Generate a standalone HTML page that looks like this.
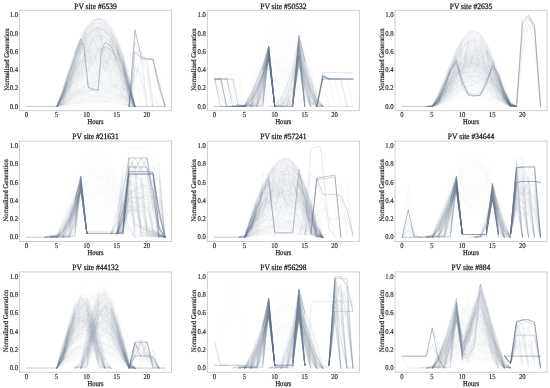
<!DOCTYPE html>
<html><head><meta charset="utf-8"><style>html,body{margin:0;padding:0;background:#fff;}
svg{display:block;will-change:transform;}
polyline{fill:none;stroke-linejoin:round;stroke-linecap:round;}
.c0{stroke:rgb(120,120,120);stroke-opacity:0.05;stroke-width:0.0831}
.c1{stroke:rgb(100,100,100);stroke-opacity:0.5;stroke-width:0.1330}
.c2{stroke:rgb(100,100,100);stroke-opacity:0.42;stroke-width:0.1413}
.c3{stroke:rgb(100,100,100);stroke-opacity:0.3;stroke-width:0.1164}
.c4{stroke:rgb(100,100,100);stroke-opacity:0.45;stroke-width:0.1330}
.c5{stroke:rgb(100,100,100);stroke-opacity:0.2;stroke-width:0.1164}
.c6{stroke:rgb(100,100,100);stroke-opacity:0.15;stroke-width:0.1164}
.c7{stroke:rgb(100,100,100);stroke-opacity:0.08;stroke-width:0.0831}
.c8{stroke:rgb(120,120,120);stroke-opacity:0.04;stroke-width:0.0831}
.c9{stroke:rgb(100,100,100);stroke-opacity:0.35;stroke-width:0.1164}
.c10{stroke:rgb(100,100,100);stroke-opacity:0.6;stroke-width:0.1164}
.c11{stroke:rgb(100,100,100);stroke-opacity:0.25;stroke-width:0.1164}
.c12{stroke:rgb(100,100,100);stroke-opacity:0.15;stroke-width:0.0998}
.c13{stroke:rgb(100,100,100);stroke-opacity:0.12;stroke-width:0.0998}
.c14{stroke:rgb(100,100,100);stroke-opacity:0.08;stroke-width:0.0998}
.c15{stroke:rgb(110,110,110);stroke-opacity:0.062;stroke-width:0.0914}
.c16{stroke:rgb(100,100,100);stroke-opacity:0.6;stroke-width:0.1330}
.c17{stroke:rgb(100,100,100);stroke-opacity:0.6;stroke-width:0.1496}
.c18{stroke:rgb(100,100,100);stroke-opacity:0.06;stroke-width:0.0831}
.c19{stroke:rgb(110,110,110);stroke-opacity:0.075;stroke-width:0.0914}
.c20{stroke:rgb(110,110,110);stroke-opacity:0.069;stroke-width:0.0914}
.c21{stroke:rgb(100,100,100);stroke-opacity:0.75;stroke-width:0.1829}
.c22{stroke:rgb(100,100,100);stroke-opacity:0.25;stroke-width:0.0998}
.c23{stroke:rgb(100,100,100);stroke-opacity:0.2;stroke-width:0.0998}
.c24{stroke:rgb(100,100,100);stroke-opacity:0.3;stroke-width:0.0998}
.c25{stroke:rgb(120,120,120);stroke-opacity:0.045;stroke-width:0.0831}
.c26{stroke:rgb(100,100,100);stroke-opacity:0.48;stroke-width:0.1496}
.c27{stroke:rgb(100,100,100);stroke-opacity:0.32;stroke-width:0.1164}
.c28{stroke:rgb(100,100,100);stroke-opacity:0.18;stroke-width:0.1164}
.c29{stroke:rgb(100,100,100);stroke-opacity:0.55;stroke-width:0.1164}
.c30{stroke:rgb(100,100,100);stroke-opacity:0.4;stroke-width:0.1164}
.c31{stroke:rgb(100,100,100);stroke-opacity:0.35;stroke-width:0.1330}
.c32{stroke:rgb(120,120,120);stroke-opacity:0.03;stroke-width:0.0831}
.c33{stroke:rgb(110,110,110);stroke-opacity:0.068;stroke-width:0.0914}
.c34{stroke:rgb(100,100,100);stroke-opacity:0.65;stroke-width:0.1663}
.c35{stroke:rgb(100,100,100);stroke-opacity:0.55;stroke-width:0.1496}
.c36{stroke:rgb(100,100,100);stroke-opacity:0.4;stroke-width:0.1330}
.c37{stroke:rgb(100,100,100);stroke-opacity:0.1;stroke-width:0.0998}
.c38{stroke:rgb(100,100,100);stroke-opacity:0.08;stroke-width:0.0914}
.c39{stroke:rgb(120,120,120);stroke-opacity:0.048;stroke-width:0.0831}
.c40{stroke:rgb(100,100,100);stroke-opacity:0.28;stroke-width:0.1164}
.c41{stroke:rgb(100,100,100);stroke-opacity:0.22;stroke-width:0.1164}
.c42{stroke:rgb(100,100,100);stroke-opacity:0.1;stroke-width:0.1164}
.c43{stroke:rgb(100,100,100);stroke-opacity:0.12;stroke-width:0.0831}
.c44{stroke:rgb(100,100,100);stroke-opacity:0.6;stroke-width:0.1829}
.c45{stroke:rgb(120,120,120);stroke-opacity:0.055;stroke-width:0.0831}
.c46{stroke:rgb(100,100,100);stroke-opacity:0.45;stroke-width:0.1164}
.c47{stroke:rgb(100,100,100);stroke-opacity:0.1;stroke-width:0.0831}
.c48{stroke:rgb(100,100,100);stroke-opacity:0.03;stroke-width:0.0831}
.c49{stroke:rgb(120,120,120);stroke-opacity:0.035;stroke-width:0.0831}
.c50{stroke:rgb(100,100,100);stroke-opacity:0.3;stroke-width:0.1330}
.c51{stroke:rgb(100,100,100);stroke-opacity:0.25;stroke-width:0.1330}
.c52{stroke:rgb(100,100,100);stroke-opacity:0.15;stroke-width:0.1330}
.c53{stroke:rgb(100,100,100);stroke-opacity:0.055;stroke-width:0.0831}
.c54{stroke:rgb(100,100,100);stroke-opacity:0.55;stroke-width:0.1330}
.c55{stroke:rgb(100,100,100);stroke-opacity:0.6;stroke-width:0.1663}
.c56{stroke:rgb(100,100,100);stroke-opacity:0.07;stroke-width:0.0831}
.tint{mix-blend-mode:screen;fill:rgb(0,25,60);}
.sp{fill:none;stroke:#cfcfcf;stroke-width:1;}
.tk{fill:none;stroke:#c8c8c8;stroke-width:0.7;}
text{font-family:"Liberation Serif",serif;fill:#1e1e1e;stroke:#1e1e1e;stroke-width:0.15px;text-rendering:geometricPrecision;}
.ti{font-size:8.2px;text-anchor:middle;stroke-width:0.28px;}
.hr{font-size:7.5px;text-anchor:middle;stroke-width:0.25px;}
.tx{font-size:7.4px;text-anchor:middle;}
.ty{font-size:7.4px;text-anchor:end;}
.yl{font-size:7.0px;text-anchor:middle;stroke-width:0.2px;}</style></head>
<body><svg width="550" height="388" viewBox="0 0 550 388">
<rect width="550" height="388" fill="#fff"/>
<g transform="translate(26.72 106.44) scale(6.015)">
<polyline class="c0" points="5,0 6,-1.89 7,-4.4 8,-4.72 9,-6.37 10,-7.95 11,-7.21 12,-8.41 13,-6.23 14,-8.41 15,-5.83 16,-4.24 17,-2.03 18,0"/>
<polyline class="c0" points="5,0 6,-1.61 7,-3.73 8,-6.51 9,-9.42 10,-10.23 11,-7.1 12,-9.84 13,-8.44 14,-10.41 15,-8.86 16,-4.4 17,-2.68 18,0"/>
<polyline class="c0" points="5,0 6,-2.84 7,-5.8 8,-8.38 9,-10.49 10,-12.01 11,-12.88 12,-13.05 13,-12.55 14,-11.39 15,-9.58 16,-7.06 17,-3.61 18,0"/>
<polyline class="c0" points="5,0 6,-1.68 7,-3.84 8,-5.72 9,-7.24 10,-8.33 11,-8.93 12,-9.02 13,-8.67 14,-7.88 15,-6.63 16,-4.86 17,-2.2 18,0"/>
<polyline class="c0" points="5,0 6,-2.17 7,-5.22 8,-7.96 9,-10.24 10,-11.93 11,-12.93 12,-13.18 13,-12.61 14,-11.23 15,-9.06 16,-6.13 17,-2.27 18,0"/>
<polyline class="c0" points="5,0 6,-2.39 7,-5.12 8,-7.53 9,-9.55 10,-11.08 11,-12.06 12,-12.44 13,-12.2 14,-11.34 15,-9.82 16,-7.5 17,-3.84 18,0"/>
<polyline class="c0" points="5,0 6,-1.65 7,-4.24 8,-6.71 9,-8.84 10,-10.48 11,-11.5 12,-11.84 13,-11.49 14,-10.48 15,-8.81 16,-6.45 17,-3.23 18,0"/>
<polyline class="c0" points="5,0 6,-2.83 7,-6.12 8,-9.12 9,-11.61 10,-13.43 11,-14.46 12,-14.64 13,-14.01 14,-12.6 15,-10.42 16,-7.46 17,-3.51 18,0"/>
<polyline class="c0" points="5,0 6,-2.29 7,-4.11 8,-7.62 9,-10.78 10,-12.25 11,-10.84 12,-10.54 13,-11.88 14,-9.3 15,-9.21 16,-7.68 17,-3.6 18,0"/>
<polyline class="c0" points="5,0 6,-2.06 7,-5.15 8,-8.12 9,-10.71 10,-12.73 11,-14.06 12,-14.61 13,-14.34 14,-13.27 15,-11.36 16,-8.45 17,-3.78 18,0"/>
<polyline class="c0" points="5,0 6,-1.27 7,-3.31 8,-5.28 9,-7.01 10,-8.37 11,-9.26 12,-9.63 13,-9.46 14,-8.79 15,-7.61 16,-5.84 17,-3.22 18,0"/>
<polyline class="c0" points="5,0 6,-2.33 7,-4.92 8,-7.26 9,-9.22 10,-10.68 11,-11.59 12,-11.87 13,-11.5 14,-10.45 15,-8.72 16,-6.28 17,-2.83 18,0"/>
<polyline class="c0" points="5,0 6,-1.97 7,-4.56 8,-6.91 9,-8.91 10,-10.44 11,-11.42 12,-11.8 13,-11.5 14,-10.44 15,-8.64 16,-6.08 17,-2.56 18,0"/>
<polyline class="c0" points="5,0 6,-1.17 7,-3.33 8,-6.74 9,-7.54 10,-10.41 11,-9.22 12,-11.36 13,-12.21 14,-7.79 15,-7.49 16,-5.59 17,-3.36 18,0"/>
<polyline class="c0" points="5,0 6,-1.76 7,-4.52 8,-6.45 9,-8.41 10,-11.65 11,-10.72 12,-9.16 13,-12.77 14,-12.44 15,-10.08 16,-5.98 17,-1.96 18,0"/>
<polyline class="c0" points="5,0 6,-2.08 7,-5.17 8,-8.14 9,-10.7 10,-12.62 11,-13.75 12,-14.01 13,-13.42 14,-12.05 15,-9.88 16,-6.9 17,-2.83 18,0"/>
<polyline class="c0" points="5,0 6,-2.32 7,-5.33 8,-8 9,-10.18 10,-11.75 11,-12.62 12,-12.75 13,-12.28 14,-11.25 15,-9.64 16,-7.4 17,-4.24 18,0"/>
<polyline class="c0" points="5,0 6,-1.11 7,-3.29 8,-4.19 9,-6.59 10,-8.48 11,-7.57 12,-9.7 13,-7.12 14,-5.93 15,-4.6 16,-4.22 17,-2.04 18,0"/>
<polyline class="c0" points="5,0 6,-1.91 7,-4.4 8,-6.74 9,-8.73 10,-10.23 11,-11.12 12,-11.35 13,-10.97 14,-10.01 15,-8.48 16,-6.32 17,-3.29 18,0"/>
<polyline class="c0" points="5,0 6,-1.86 7,-4.48 8,-5.61 9,-7.26 10,-8.38 11,-9.89 12,-11.94 13,-11.21 14,-10.82 15,-9.08 16,-7.79 17,-2.61 18,0"/>
<polyline class="c0" points="5,0 6,-2.46 7,-5.43 8,-8.18 9,-10.53 10,-12.32 11,-13.44 12,-13.83 13,-13.38 14,-12.01 15,-9.73 16,-6.56 17,-2.19 18,0"/>
<polyline class="c0" points="5,0 6,-2.23 7,-5.97 8,-7.39 9,-9.65 10,-10.81 11,-13.6 12,-11.1 13,-10.44 14,-9 15,-6.79 16,-7.06 17,-2.72 18,0"/>
<polyline class="c0" points="5,0 6,-2.85 7,-6.12 8,-9.09 9,-11.56 10,-13.37 11,-14.41 12,-14.62 13,-13.98 14,-12.5 15,-10.2 16,-7.01 17,-2.5 18,0"/>
<polyline class="c0" points="5,0 6,-2.34 7,-5.32 8,-7.96 9,-10.16 10,-11.83 11,-12.88 12,-13.27 13,-12.96 14,-11.92 15,-10.11 16,-7.42 17,-3.2 18,0"/>
<polyline class="c0" points="5,0 6,-1.89 7,-4.78 8,-6.94 9,-10.05 10,-10.36 11,-13.29 12,-12.66 13,-8.71 14,-11.32 15,-9.87 16,-6.19 17,-2.82 18,0"/>
<polyline class="c0" points="5,0 6,-1.15 7,-3.12 8,-4.41 9,-5.12 10,-6.47 11,-9.17 12,-9.63 13,-7.01 14,-8.7 15,-6.03 16,-6.45 17,-2.91 18,0"/>
<polyline class="c0" points="5,0 6,-1.13 7,-3.4 8,-5.15 9,-7.37 10,-8.68 11,-6.57 12,-9.66 13,-7.11 14,-7.67 15,-5.2 16,-5.91 17,-1.94 18,0"/>
<polyline class="c0" points="5,0 6,-1.95 7,-4.42 8,-6.8 9,-8.86 10,-10.44 11,-11.42 12,-11.72 13,-11.4 14,-10.52 15,-9.04 16,-6.91 17,-3.77 18,0"/>
<polyline class="c0" points="5,0 6,-2.07 7,-4.24 8,-6.2 9,-9.91 10,-10.66 11,-14.04 12,-13.12 13,-13.04 14,-11.56 15,-9.93 16,-6.83 17,-4.53 18,0"/>
<polyline class="c0" points="5,0 6,-1.88 7,-4.93 8,-7.89 9,-10.44 10,-12.36 11,-13.49 12,-13.73 13,-13.29 14,-12.25 15,-10.59 16,-8.22 17,-4.82 18,0"/>
<polyline class="c0" points="5,0 6,-2.47 7,-5.66 8,-8.48 9,-10.8 10,-12.54 11,-13.59 12,-13.91 13,-13.51 14,-12.38 15,-10.5 16,-7.76 17,-3.61 18,0"/>
<polyline class="c0" points="5,0 6,-2.4 7,-5.53 8,-8.41 9,-10.87 10,-12.78 11,-14.05 12,-14.59 13,-14.32 14,-13.08 15,-10.89 16,-7.8 17,-3.71 18,0"/>
<polyline class="c0" points="5,0 6,-1.68 7,-4.06 8,-6.32 9,-8.27 10,-9.79 11,-10.77 12,-11.14 13,-10.92 14,-10.18 15,-8.88 16,-6.93 17,-3.91 18,0"/>
<polyline class="c0" points="5,0 6,-2.06 7,-5.23 8,-8.28 9,-10.94 10,-12.98 11,-14.25 12,-14.66 13,-14.31 14,-13.31 15,-11.62 16,-9.15 17,-5.51 18,0"/>
<polyline class="c0" points="5,0 6,-1.65 7,-4.42 8,-7.12 9,-9.49 10,-11.33 11,-12.51 12,-12.93 13,-12.56 14,-11.4 15,-9.45 16,-6.69 17,-2.84 18,0"/>
<polyline class="c0" points="5,0 6,-1.52 7,-4.82 8,-8.09 9,-9.52 10,-8.19 11,-13.45 12,-13.15 13,-9.01 14,-11.14 15,-7.06 16,-7.27 17,-1.81 18,0"/>
<polyline class="c0" points="5,0 6,-1.17 7,-3.5 8,-5.25 9,-8.32 10,-9.34 11,-11.01 12,-14.13 13,-13.71 14,-8.91 15,-9.96 16,-5.52 17,-3.33 18,0"/>
<polyline class="c0" points="5,0 6,-1.71 7,-3.74 8,-5.35 9,-8.07 10,-10.38 11,-11.7 12,-11.15 13,-11.17 14,-8.65 15,-5.65 16,-4.19 17,-1.95 18,0"/>
<polyline class="c0" points="5,0 6,-1.16 7,-3.94 8,-5.05 9,-7.75 10,-9.01 11,-10.84 12,-11.87 13,-7.65 14,-7.67 15,-6.51 16,-6.36 17,-3.29 18,0"/>
<polyline class="c0" points="5,0 6,-1.75 7,-3.53 8,-7.36 9,-7.2 10,-8.33 11,-12.58 12,-12.42 13,-9.65 14,-10.63 15,-6.27 16,-6.33 17,-2.55 18,0"/>
<polyline class="c0" points="5,0 6,-1.66 7,-3.78 8,-6.38 9,-6.59 10,-9.14 11,-8.79 12,-8.24 13,-9.6 14,-9.53 15,-8.51 16,-4.2 17,-1.82 18,0"/>
<polyline class="c0" points="5,0 6,-2.26 7,-3.42 8,-5.73 9,-8.14 10,-10.61 11,-10.12 12,-11.25 13,-12.12 14,-10.85 15,-9.22 16,-6.18 17,-2.58 18,0"/>
<polyline class="c0" points="5,0 6,-2.06 7,-4.43 8,-6.5 9,-8.19 10,-9.4 11,-10.06 12,-10.15 13,-9.72 14,-8.78 15,-7.32 16,-5.25 17,-2.16 18,0"/>
<polyline class="c0" points="5,0 6,-1.92 7,-4.66 8,-7.2 9,-9.33 10,-10.92 11,-11.85 12,-12.08 13,-11.7 14,-10.76 15,-9.23 16,-6.99 17,-3.45 18,0"/>
<polyline class="c0" points="5,0 6,-1.15 7,-4.38 8,-5.57 9,-7.67 10,-9.4 11,-9.77 12,-10.56 13,-11.46 14,-8.98 15,-9.71 16,-5.71 17,-2.21 18,0"/>
<polyline class="c0" points="5,0 6,-2.58 7,-5.53 8,-8.25 9,-10.53 10,-12.25 11,-13.29 12,-13.61 13,-13.24 14,-12.23 15,-10.55 16,-8.03 17,-4.01 18,0"/>
<polyline class="c0" points="5,0 6,-1.95 7,-4.54 8,-6.91 9,-8.92 10,-10.44 11,-11.4 12,-11.73 13,-11.43 14,-10.49 15,-8.89 16,-6.54 17,-2.98 18,0"/>
<polyline class="c0" points="5,0 6,-2.04 7,-4.13 8,-6.35 9,-10.03 10,-10.61 11,-8.32 12,-13.06 13,-9.56 14,-9.95 15,-7.81 16,-6.66 17,-4.12 18,0"/>
<polyline class="c0" points="5,0 6,-2 7,-5.07 8,-7.89 9,-10.27 10,-12.03 11,-13.07 12,-13.32 13,-12.76 14,-11.4 15,-9.26 16,-6.31 17,-2.22 18,0"/>
<polyline class="c0" points="5,0 6,-2.77 7,-5.6 8,-8.1 9,-10.17 10,-11.69 11,-12.61 12,-12.87 13,-12.44 14,-11.31 15,-9.49 16,-6.95 17,-3.43 18,0"/>
<polyline class="c0" points="5,0 6,-2.3 7,-5.04 8,-7.53 9,-9.61 10,-11.14 11,-12.03 12,-12.22 13,-11.7 14,-10.47 15,-8.56 16,-5.98 17,-2.6 18,0"/>
<polyline class="c0" points="5,0 6,-1.77 7,-4.26 8,-6.64 9,-8.71 10,-10.35 11,-11.43 12,-11.89 13,-11.66 14,-10.68 15,-8.97 16,-6.54 17,-3.3 18,0"/>
<polyline class="c0" points="5,0 6,-1.31 7,-3.15 8,-5.8 9,-9.79 10,-12.19 11,-12.09 12,-8.65 13,-9.17 14,-10.08 15,-6.87 16,-4.27 17,-2.09 18,0"/>
<polyline class="c0" points="5,0 6,-1.4 7,-3.32 8,-3.49 9,-5.7 10,-5.87 11,-8.42 12,-7.65 13,-8.41 14,-6.94 15,-4.88 16,-4.44 17,-1.72 18,0"/>
<polyline class="c0" points="5,0 6,-1.54 7,-3.9 8,-7.96 9,-9.74 10,-9.18 11,-11.8 12,-13.01 13,-8.83 14,-8.43 15,-9.02 16,-5.74 17,-1.74 18,0"/>
<polyline class="c0" points="5,0 6,-2.02 7,-4.92 8,-7.68 9,-10.05 10,-11.87 11,-13.02 12,-13.4 13,-13.01 14,-11.86 15,-9.93 16,-7.14 17,-3.05 18,0"/>
<polyline class="c0" points="5,0 6,-1.59 7,-3.15 8,-6.92 9,-7.29 10,-10.15 11,-8.48 12,-9.64 13,-9.12 14,-11.04 15,-6.87 16,-6.42 17,-2.89 18,0"/>
<polyline class="c0" points="5,0 6,-1.96 7,-4.96 8,-7.75 9,-10.1 10,-11.81 11,-12.75 12,-12.88 13,-12.3 14,-11.05 15,-9.1 16,-6.38 17,-2.42 18,0"/>
<polyline class="c0" points="5,0 6,-2.07 7,-4.72 8,-7.13 9,-9.15 10,-10.65 11,-11.53 12,-11.75 13,-11.34 14,-10.35 15,-8.78 16,-6.58 17,-3.59 18,0"/>
<polyline class="c0" points="5,0 6,-1.95 7,-4.53 8,-6.85 9,-8.79 10,-10.24 11,-11.11 12,-11.35 13,-10.98 14,-10.01 15,-8.43 16,-6.17 17,-2.92 18,0"/>
<polyline class="c0" points="5,0 6,-1.98 7,-4.67 8,-7.2 9,-9.39 10,-11.1 11,-12.23 12,-12.7 13,-12.49 14,-11.57 15,-9.92 16,-7.49 17,-3.92 18,0"/>
<polyline class="c0" points="5,0 6,-2 7,-4.21 8,-4.92 9,-5.61 10,-8.2 11,-7.47 12,-10.06 13,-9.36 14,-7.68 15,-7.75 16,-5.81 17,-3.39 18,0"/>
<polyline class="c0" points="5,0 6,-2.2 7,-5.42 8,-8.48 9,-11.1 10,-13.06 11,-14.21 12,-14.46 13,-13.88 14,-12.51 15,-10.38 16,-7.47 17,-3.6 18,0"/>
<polyline class="c0" points="5,0 6,-2.56 7,-5.11 8,-7.35 9,-9.21 10,-10.6 11,-11.46 12,-11.77 13,-11.48 14,-10.53 15,-8.92 16,-6.61 17,-3.34 18,0"/>
<polyline class="c0" points="5,0 6,-1.54 7,-2.83 8,-4.18 9,-5.35 10,-6.07 11,-6.71 12,-8.98 13,-6.46 14,-6 15,-5.79 16,-3.57 17,-1.34 18,0"/>
<polyline class="c0" points="5,0 6,-1.43 7,-3.89 8,-6.51 9,-7.56 10,-7.52 11,-8.43 12,-12.89 13,-12.69 14,-10.72 15,-9.36 16,-4.81 17,-1.97 18,0"/>
<polyline class="c0" points="5,0 6,-1.92 7,-5.08 8,-8.07 9,-10.61 10,-12.49 11,-13.55 12,-13.73 13,-13.15 14,-11.87 15,-9.9 16,-7.23 17,-3.69 18,0"/>
<polyline class="c0" points="5,0 6,-2.45 7,-5.28 8,-7.86 9,-10.01 10,-11.62 11,-12.58 12,-12.84 13,-12.36 14,-11.14 15,-9.19 16,-6.5 17,-2.87 18,0"/>
<polyline class="c0" points="5,0 6,-2.39 7,-5.62 8,-8.56 9,-11 10,-12.76 11,-13.73 12,-13.86 13,-13.17 14,-11.7 15,-9.46 16,-6.44 17,-2.36 18,0"/>
<polyline class="c0" points="5,0 6,-2 7,-4.95 8,-7.79 9,-10.29 10,-12.28 11,-13.63 12,-14.24 13,-14.04 14,-12.9 15,-10.84 16,-7.86 17,-3.85 18,0"/>
<polyline class="c0" points="5,0 6,-1.22 7,-3.71 8,-6.82 9,-8.16 10,-8.44 11,-9.96 12,-12.65 13,-13.45 14,-7.95 15,-7.75 16,-7.36 17,-2.56 18,0"/>
<polyline class="c0" points="5,0 6,-1.97 7,-4.87 8,-7.53 9,-9.73 10,-11.34 11,-12.25 12,-12.4 13,-11.99 14,-11.05 15,-9.55 16,-7.39 17,-4.17 18,0"/>
<polyline class="c0" points="5,0 6,-2.94 7,-6.17 8,-9.06 9,-11.46 10,-13.21 11,-14.23 12,-14.45 13,-13.86 14,-12.49 15,-10.33 16,-7.36 17,-3.34 18,0"/>
<polyline class="c0" points="5,0 6,-2 7,-4.76 8,-7.32 9,-9.47 10,-11.04 11,-11.91 12,-12.04 13,-11.59 14,-10.6 15,-9.04 16,-6.8 17,-3.38 18,0"/>
<polyline class="c0" points="5,0 6,-2.45 7,-5.55 8,-8.48 9,-10.97 10,-12.82 11,-13.89 12,-14.11 13,-13.63 14,-12.48 15,-10.66 16,-8.06 17,-4.27 18,0"/>
<polyline class="c0" points="5,0 6,-2.26 7,-5.24 8,-7.97 9,-10.3 10,-12.11 11,-13.29 12,-13.78 13,-13.49 14,-12.26 15,-10.13 16,-7.07 17,-2.8 18,0"/>
<polyline class="c0" points="5,0 6,-1.99 7,-4.81 8,-7.43 9,-9.67 10,-11.41 11,-12.53 12,-12.98 13,-12.67 14,-11.54 15,-9.58 16,-6.78 17,-2.88 18,0"/>
<polyline class="c0" points="5,0 6,-2.36 7,-5.43 8,-8.3 9,-10.8 10,-12.77 11,-14.09 12,-14.69 13,-14.5 14,-13.42 15,-11.42 16,-8.42 17,-3.95 18,0"/>
<polyline class="c0" points="5,0 6,-1.8 7,-4.46 8,-6.89 9,-8.95 10,-10.52 11,-11.51 12,-11.88 13,-11.56 14,-10.53 15,-8.81 16,-6.38 17,-3.12 18,0"/>
<polyline class="c0" points="5,0 6,-1.23 7,-3.49 8,-6.3 9,-9.84 10,-10.97 11,-10.96 12,-10.95 13,-12.26 14,-12.09 15,-9.21 16,-7.06 17,-1.94 18,0"/>
<polyline class="c0" points="5,0 6,-1.2 7,-3.36 8,-5.47 9,-7.31 10,-8.68 11,-9.47 12,-9.61 13,-9.28 14,-8.52 15,-7.32 16,-5.58 17,-2.99 18,0"/>
<polyline class="c0" points="5,0 6,-2.43 7,-5.31 8,-7.94 9,-10.15 10,-11.81 11,-12.83 12,-13.14 13,-12.77 14,-11.75 15,-10.03 16,-7.52 17,-3.74 18,0"/>
<polyline class="c0" points="5,0 6,-1.89 7,-4.83 8,-7.64 9,-10.02 10,-11.78 11,-12.75 12,-12.89 13,-12.41 14,-11.37 15,-9.73 16,-7.33 17,-3.57 18,0"/>
<polyline class="c0" points="5,0 6,-2.1 7,-5.08 8,-7.76 9,-10.02 10,-11.77 11,-12.91 12,-13.4 13,-13.2 14,-12.25 15,-10.51 16,-7.88 17,-3.71 18,0"/>
<polyline class="c0" points="5,0 6,-1.7 7,-4.22 8,-6.62 9,-8.66 10,-10.17 11,-11.03 12,-11.18 13,-10.75 14,-9.8 15,-8.31 16,-6.21 17,-3.25 18,0"/>
<polyline class="c0" points="5,0 6,-1.49 7,-3.32 8,-4.72 9,-6.06 10,-4.86 11,-6.88 12,-7.97 13,-5.97 14,-5.88 15,-5.85 16,-2.54 17,-1.18 18,0"/>
<polyline class="c0" points="5,0 6,-2.42 7,-5.25 8,-7.84 9,-10.02 10,-11.66 11,-12.65 12,-12.95 13,-12.52 14,-11.38 15,-9.52 16,-6.95 17,-3.49 18,0"/>
<polyline class="c0" points="5,0 6,-2.05 7,-4.46 8,-6.01 9,-8.41 10,-12.01 11,-9.02 12,-14.64 13,-9.14 14,-10.87 15,-9.66 16,-6.88 17,-3.85 18,0"/>
<polyline class="c0" points="5,0 6,-2.11 7,-5.12 8,-6.49 9,-7.5 10,-7.72 11,-12.1 12,-12.63 13,-13.02 14,-11 15,-9.65 16,-6.07 17,-1.98 18,0"/>
<polyline class="c0" points="5,0 6,-2.69 7,-5.45 8,-7.9 9,-9.94 10,-11.5 11,-12.53 12,-12.96 13,-12.79 14,-11.95 15,-10.43 16,-8.1 17,-4.49 18,0"/>
<polyline class="c0" points="5,0 6,-1.92 7,-4.1 8,-6.7 9,-5.75 10,-7.63 11,-7.53 12,-9.45 13,-7.98 14,-7.77 15,-8.11 16,-5.08 17,-3.31 18,0"/>
<polyline class="c0" points="5,0 6,-1.9 7,-4.27 8,-6.48 9,-8.38 10,-9.86 11,-10.84 12,-11.26 13,-11.04 14,-10.02 15,-8.23 16,-5.68 17,-2.22 18,0"/>
<polyline class="c0" points="5,0 6,-2.23 7,-5.48 8,-8.45 9,-10.98 10,-12.93 11,-14.19 12,-14.7 13,-14.44 14,-13.46 15,-11.69 16,-9.04 17,-4.97 18,0"/>
<polyline class="c0" points="5,0 6,-1.38 7,-3.41 8,-5.38 9,-7.13 10,-8.5 11,-9.4 12,-9.75 13,-9.58 14,-8.9 15,-7.7 16,-5.91 17,-3.23 18,0"/>
<polyline class="c0" points="5,0 6,-2.18 7,-5.03 8,-7.64 9,-9.87 10,-11.59 11,-12.72 12,-13.19 13,-12.99 14,-12.14 15,-10.61 16,-8.25 17,-4.52 18,0"/>
<polyline class="c0" points="5,0 6,-2.12 7,-5.25 8,-8.19 9,-10.68 10,-12.53 11,-13.6 12,-13.82 13,-13.21 14,-11.82 15,-9.64 16,-6.65 17,-2.5 18,0"/>
<polyline class="c0" points="5,0 6,-2.29 7,-5.34 8,-8.13 9,-10.46 10,-12.22 11,-13.28 12,-13.6 13,-13.12 14,-11.81 15,-9.68 16,-6.72 17,-2.57 18,0"/>
<polyline class="c0" points="5,0 6,-1.79 7,-3.41 8,-8.06 9,-10.25 10,-8.95 11,-10.21 12,-9.48 13,-12.69 14,-10.19 15,-7.34 16,-6.82 17,-3.58 18,0"/>
<polyline class="c0" points="5,0 6,-2.27 7,-5.4 8,-8.41 9,-11 10,-12.97 11,-14.16 12,-14.49 13,-13.97 14,-12.63 15,-10.47 16,-7.5 17,-3.5 18,0"/>
<polyline class="c0" points="5,0 6,-2.29 7,-5.52 8,-8.56 9,-11.14 10,-13.05 11,-14.14 12,-14.35 13,-13.83 14,-12.66 15,-10.79 16,-8.14 17,-4.27 18,0"/>
<polyline class="c0" points="5,0 6,-1.22 7,-2.83 8,-4.32 9,-5.61 10,-6.6 11,-7.22 12,-7.45 13,-7.28 14,-6.73 15,-5.8 16,-4.42 17,-2.38 18,0"/>
<polyline class="c0" points="5,0 6,-2.27 7,-5.42 8,-8.34 9,-10.8 10,-12.6 11,-13.63 12,-13.82 13,-13.35 14,-12.29 15,-10.59 16,-8.11 17,-4.25 18,0"/>
<polyline class="c0" points="5,0 6,-2.03 7,-4.8 8,-7.45 9,-9.71 10,-11.38 11,-12.32 12,-12.47 13,-11.87 14,-10.56 15,-8.57 16,-5.91 17,-2.46 18,0"/>
<polyline class="c0" points="5,0 6,-2.2 7,-5.3 8,-8.09 9,-10.41 10,-12.14 11,-13.2 12,-13.52 13,-13.1 14,-11.96 15,-10.08 16,-7.38 17,-3.42 18,0"/>
<polyline class="c0" points="5,0 6,-2.14 7,-5.13 8,-7.94 9,-10.37 10,-12.24 11,-13.42 12,-13.85 13,-13.51 14,-12.4 15,-10.53 16,-7.81 17,-3.89 18,0"/>
<polyline class="c0" points="5,0 6,-1.32 7,-3.02 8,-6.45 9,-7.55 10,-6.08 11,-9 12,-8.79 13,-6.29 14,-8.66 15,-4.59 16,-3.99 17,-1.92 18,0"/>
<polyline class="c0" points="5,0 6,-1.14 7,-3.01 8,-5.9 9,-4.94 10,-7.17 11,-8.66 12,-9.17 13,-9.47 14,-8.02 15,-6.69 16,-4.94 17,-1.89 18,0"/>
<polyline class="c0" points="5,0 6,-1.76 7,-4.62 8,-7.37 9,-9.75 10,-11.61 11,-12.8 12,-13.25 13,-12.97 14,-12.02 15,-10.35 16,-7.88 17,-4.08 18,0"/>
<polyline class="c0" points="5,0 6,-2.14 7,-3.79 8,-5.47 9,-9.15 10,-8.15 11,-7.91 12,-9.4 13,-8.67 14,-6.99 15,-6.44 16,-5.19 17,-1.66 18,0"/>
<polyline class="c0" points="5,0 6,-2.15 7,-4.37 8,-5.21 9,-7.99 10,-8.54 11,-9.99 12,-9.04 13,-9.81 14,-8.44 15,-8.85 16,-6.79 17,-3.08 18,0"/>
<polyline class="c0" points="5,0 6,-1.59 7,-4.37 8,-4.79 9,-6.77 10,-8.67 11,-11.32 12,-8.52 13,-10.55 14,-7.64 15,-7.64 16,-7.91 17,-2.72 18,0"/>
<polyline class="c0" points="5,0 6,-1.87 7,-3.6 8,-5.69 9,-8.03 10,-9.01 11,-6.95 12,-10.89 13,-11.11 14,-6.44 15,-5.34 16,-4.11 17,-1.72 18,0"/>
<polyline class="c0" points="5,0 6,-2.06 7,-4.41 8,-5.74 9,-7.91 10,-9.74 11,-10.35 12,-11.95 13,-9.6 14,-8.68 15,-8.65 16,-8.1 17,-3.89 18,0"/>
<polyline class="c0" points="5,0 6,-2 7,-4.7 8,-7.31 9,-9.57 10,-11.3 11,-12.36 12,-12.66 13,-12.24 14,-11.13 15,-9.33 16,-6.8 17,-3.28 18,0"/>
<polyline class="c0" points="5,0 6,-2.49 7,-3.83 8,-7.08 9,-10.17 10,-12.47 11,-13.86 12,-12.52 13,-10.42 14,-10.08 15,-6.77 16,-4.12 17,-1.85 18,0"/>
<polyline class="c0" points="5,0 6,-1.51 7,-3.79 8,-5.98 9,-7.88 10,-9.32 11,-10.21 12,-10.46 13,-10.18 14,-9.42 15,-8.17 16,-6.35 17,-3.66 18,0"/>
<polyline class="c0" points="5,0 6,-1.19 7,-4.04 8,-6.04 9,-10.2 10,-11.19 11,-11.88 12,-12.31 13,-10.31 14,-11.02 15,-7.95 16,-5.26 17,-3.98 18,0"/>
<polyline class="c0" points="5,0 6,-2.51 7,-5.8 8,-8.8 9,-11.32 10,-13.19 11,-14.31 12,-14.6 13,-14.05 14,-12.69 15,-10.53 16,-7.58 17,-3.67 18,0"/>
<polyline class="c0" points="5,0 6,-2.19 7,-5.71 8,-6.8 9,-10.52 10,-8.01 11,-11.19 12,-13.43 13,-14.08 14,-12.12 15,-9.94 16,-6.6 17,-2.95 18,0"/>
<polyline class="c0" points="5,0 6,-2.32 7,-5.19 8,-7.72 9,-9.82 10,-11.4 11,-12.4 12,-12.75 13,-12.45 14,-11.47 15,-9.79 16,-7.28 17,-3.32 18,0"/>
<polyline class="c0" points="5,0 6,-1.88 7,-5.03 8,-8.12 9,-10.81 10,-12.84 11,-14.04 12,-14.31 13,-13.78 14,-12.51 15,-10.51 16,-7.72 17,-3.88 18,0"/>
<polyline class="c0" points="5,0 6,-1.89 7,-4.42 8,-6.1 9,-9.8 10,-8.53 11,-14.36 12,-9.27 13,-9.82 14,-12.47 15,-6.79 16,-8.39 17,-3.57 18,0"/>
<polyline class="c0" points="5,0 6,-2.82 7,-5.81 8,-8.43 9,-10.56 10,-12.09 11,-12.95 12,-13.09 13,-12.56 14,-11.38 15,-9.51 16,-6.86 17,-2.87 18,0"/>
<polyline class="c0" points="5,0 6,-2.45 7,-5.27 8,-7.85 9,-10.04 10,-11.68 11,-12.69 12,-13.01 13,-12.59 14,-11.41 15,-9.49 16,-6.78 17,-2.98 18,0"/>
<polyline class="c0" points="5,0 6,-2.03 7,-5 8,-7.86 9,-10.37 10,-12.33 11,-13.61 12,-14.13 13,-13.78 14,-12.49 15,-10.26 16,-7.07 17,-2.51 18,0"/>
<polyline class="c0" points="5,0 6,-2.5 7,-5.58 8,-8.49 9,-10.99 10,-12.92 11,-14.14 12,-14.56 13,-14.24 14,-13.26 15,-11.58 16,-9.08 17,-5.28 18,0"/>
<polyline class="c0" points="5,0 6,-1.82 7,-3.82 8,-5.61 9,-7.1 10,-8.22 11,-8.91 12,-9.15 13,-8.92 14,-8.22 15,-7.04 16,-5.31 17,-2.74 18,0"/>
<polyline class="c0" points="5,0 6,-1.67 7,-3.6 8,-6.31 9,-6.33 10,-9.8 11,-11.38 12,-9.36 13,-8.31 14,-9.89 15,-7.66 16,-5.48 17,-2.26 18,0"/>
<polyline class="c0" points="5,0 6,-1.53 7,-2.94 8,-5.25 9,-5.6 10,-7.89 11,-6.73 12,-9.24 13,-8.21 14,-7.75 15,-6.27 16,-3.25 17,-1.69 18,0"/>
<polyline class="c0" points="5,0 6,-1.54 7,-2.79 8,-5.01 9,-6.03 10,-7.55 11,-9.37 12,-7.16 13,-7.67 14,-5.54 15,-7.85 16,-4.57 17,-2.56 18,0"/>
<polyline class="c0" points="5,0 6,-2.43 7,-5.24 8,-7.83 9,-10.02 10,-11.66 11,-12.66 12,-12.93 13,-12.56 14,-11.57 15,-9.93 16,-7.5 17,-3.68 18,0"/>
<polyline class="c0" points="5,0 6,-2.13 7,-4.78 8,-7.79 9,-6.95 10,-9.75 11,-11 12,-11.95 13,-9.78 14,-10.02 15,-8.3 16,-6.74 17,-1.87 18,0"/>
<polyline class="c0" points="5,0 6,-1.71 7,-4.05 8,-6.21 9,-8.07 10,-9.52 11,-10.49 12,-10.92 13,-10.78 14,-10 15,-8.56 16,-6.38 17,-3.09 18,0"/>
<polyline class="c0" points="5,0 6,-2.3 7,-5.56 8,-8.64 9,-11.25 10,-13.18 11,-14.29 12,-14.5 13,-13.85 14,-12.37 15,-10.07 16,-6.92 17,-2.58 18,0"/>
<polyline class="c0" points="5,0 6,-1.54 7,-2.87 8,-4.82 9,-9.28 10,-10.12 11,-11.5 12,-12.47 13,-8.24 14,-10.3 15,-6.88 16,-6.17 17,-4.38 18,0"/>
<polyline class="c0" points="5,0 6,-2.94 7,-6.11 8,-8.97 9,-11.37 10,-13.18 11,-14.32 12,-14.72 13,-14.29 14,-12.99 15,-10.84 16,-7.86 17,-3.92 18,0"/>
<polyline class="c0" points="5,0 6,-1.44 7,-3.76 8,-7.15 9,-9.62 10,-11.25 11,-11.26 12,-10 13,-14.4 14,-10.08 15,-7.5 16,-6.54 17,-3.5 18,0"/>
<polyline class="c0" points="5,0 6,-1.4 7,-4.08 8,-5.72 9,-6.96 10,-7.99 11,-9.67 12,-8.47 13,-7.7 14,-6.65 15,-7.06 16,-4.07 17,-1.91 18,0"/>
<polyline class="c0" points="5,0 6,-2.35 7,-4.51 8,-6.28 9,-11.18 10,-9.23 11,-9.8 12,-11.5 13,-9.02 14,-9.38 15,-9.37 16,-5.54 17,-3.49 18,0"/>
<polyline class="c0" points="5,0 6,-1.15 7,-3.01 8,-4.76 9,-4.86 10,-7.9 11,-6.19 12,-5.78 13,-8.81 14,-5.76 15,-6.87 16,-4.63 17,-1.84 18,0"/>
<polyline class="c0" points="5,0 6,-1.53 7,-4.05 8,-6.49 9,-8.62 10,-10.29 11,-11.36 12,-11.78 13,-11.49 14,-10.5 15,-8.8 16,-6.38 17,-3 18,0"/>
<polyline class="c0" points="5,0 6,-3.03 7,-6.24 8,-9.08 9,-11.43 10,-13.17 11,-14.23 12,-14.54 13,-14.04 14,-12.7 15,-10.5 16,-7.37 17,-2.86 18,0"/>
<polyline class="c0" points="5,0 6,-2.22 7,-5.05 8,-7.73 9,-10.04 10,-11.81 11,-12.92 12,-13.28 13,-12.83 14,-11.54 15,-9.42 16,-6.46 17,-2.37 18,0"/>
<polyline class="c0" points="5,0 6,-2.06 7,-3.22 8,-5.76 9,-8.66 10,-11.07 11,-10.19 12,-9.03 13,-10.14 14,-10.26 15,-9.48 16,-6.68 17,-2.48 18,0"/>
<polyline class="c0" points="5,0 6,-2.64 7,-5.93 8,-9 9,-11.59 10,-13.49 11,-14.54 12,-14.69 13,-13.96 14,-12.38 15,-9.98 16,-6.78 17,-2.56 18,0"/>
<polyline class="c0" points="5,0 6,-1.33 7,-3.31 8,-4.58 9,-6.53 10,-9.55 11,-7.22 12,-11.38 13,-11.25 14,-8.32 15,-7.5 16,-6.86 17,-2.98 18,0"/>
<polyline class="c0" points="5,0 6,-2.36 7,-5.32 8,-8.09 9,-10.47 10,-12.29 11,-13.44 12,-13.85 13,-13.45 14,-12.2 15,-10.15 16,-7.3 17,-3.57 18,0"/>
<polyline class="c0" points="5,0 6,-1.78 7,-4.33 8,-6.8 9,-8.98 10,-10.71 11,-11.85 12,-12.34 13,-12.14 14,-11.23 15,-9.61 16,-7.2 17,-3.66 18,0"/>
<polyline class="c0" points="5,0 6,-1.51 7,-3.69 8,-5.73 9,-7.46 10,-8.74 11,-9.49 12,-9.64 13,-9.33 14,-8.61 15,-7.46 16,-5.81 17,-3.36 18,0"/>
<polyline class="c0" points="5,0 6,-2.05 7,-5.29 8,-8.32 9,-10.87 10,-12.76 11,-13.85 12,-14.06 13,-13.58 14,-12.49 15,-10.73 16,-8.16 17,-4.13 18,0"/>
<polyline class="c0" points="5,0 6,-1.45 7,-4.16 8,-5.91 9,-6.28 10,-8.29 11,-7.48 12,-9.06 13,-10.15 14,-8.1 15,-5.76 16,-5.57 17,-1.99 18,0"/>
<polyline class="c0" points="5,0 6,-2.25 7,-5.05 8,-7.68 9,-9.94 10,-11.67 11,-12.74 12,-13.09 13,-12.78 14,-11.88 15,-10.36 16,-8.12 17,-4.75 18,0"/>
<polyline class="c0" points="5,0 6,-2.08 7,-5.07 8,-7.78 9,-10 10,-11.6 11,-12.47 12,-12.56 13,-11.96 14,-10.68 15,-8.74 16,-6.1 17,-2.48 18,0"/>
<polyline class="c0" points="5,0 6,-2.96 7,-6.27 8,-9.2 9,-11.59 10,-13.32 11,-14.27 12,-14.41 13,-13.92 14,-12.83 15,-11.11 16,-8.62 17,-4.85 18,0"/>
<polyline class="c0" points="5,0 6,-2.38 7,-5.51 8,-8.38 9,-10.84 10,-12.76 11,-14.02 12,-14.56 13,-14.32 14,-13.21 15,-11.21 16,-8.29 17,-4.11 18,0"/>
<polyline class="c0" points="5,0 6,-1.98 7,-3.73 8,-6.92 9,-5.67 10,-8.34 11,-9.08 12,-11.12 13,-7.57 14,-8.96 15,-6.79 16,-4.25 17,-1.66 18,0"/>
<polyline class="c0" points="5,0 6,-2.52 7,-3.97 8,-6.17 9,-10.41 10,-9.12 11,-10.56 12,-12.38 13,-10.9 14,-10.41 15,-7.53 16,-5 17,-2.95 18,0"/>
<polyline class="c0" points="5,0 6,-2.48 7,-5.79 8,-8.78 9,-11.26 10,-13.1 11,-14.17 12,-14.44 13,-13.97 14,-12.82 15,-10.94 16,-8.18 17,-3.8 18,0"/>
<polyline class="c0" points="5,0 6,-2.41 7,-5.26 8,-7.75 9,-9.76 10,-11.2 11,-11.99 12,-12.1 13,-11.55 14,-10.37 15,-8.55 16,-6.06 17,-2.65 18,0"/>
<polyline class="c0" points="5,0 6,-2.61 7,-5.51 8,-8.1 9,-10.26 10,-11.88 11,-12.87 12,-13.18 13,-12.77 14,-11.62 15,-9.7 16,-6.98 17,-3.11 18,0"/>
<polyline class="c0" points="5,0 6,-1.29 7,-3.6 8,-5.91 9,-7.98 10,-9.64 11,-10.77 12,-11.28 13,-11.16 14,-10.45 15,-9.12 16,-7.08 17,-3.88 18,0"/>
<polyline class="c0" points="5,0 6,-1.43 7,-3.71 8,-4.54 9,-7.69 10,-7.17 11,-11.2 12,-9.75 13,-10.96 14,-6.92 15,-6.48 16,-5.99 17,-2.93 18,0"/>
<polyline class="c0" points="5,0 6,-1.53 7,-4.88 8,-7.86 9,-8.84 10,-11.17 11,-9.28 12,-11.5 13,-12.35 14,-7.93 15,-6.19 16,-5.41 17,-2.47 18,0"/>
<polyline class="c0" points="5,0 6,-1.37 7,-3.62 8,-6.93 9,-6.23 10,-10.36 11,-10.06 12,-11.13 13,-10.26 14,-10.62 15,-8.26 16,-5.72 17,-3.04 18,0"/>
<polyline class="c0" points="5,0 6,-2.5 7,-5.69 8,-8.63 9,-11.14 10,-13.04 11,-14.23 12,-14.62 13,-14.24 14,-13.09 15,-11.18 16,-8.46 17,-4.65 18,0"/>
<polyline class="c0" points="5,0 6,-2.67 7,-5.82 8,-8.6 9,-10.89 10,-12.59 11,-13.63 12,-13.94 13,-13.59 14,-12.61 15,-10.97 16,-8.57 17,-5.04 18,0"/>
<polyline class="c0" points="5,0 6,-2.18 7,-5.23 8,-7.99 9,-10.27 10,-11.94 11,-12.89 12,-13.07 13,-12.56 14,-11.4 15,-9.57 16,-7.03 17,-3.48 18,0"/>
<polyline class="c0" points="5,0 6,-2.41 7,-5.53 8,-8.35 9,-10.72 10,-12.52 11,-13.63 12,-14.01 13,-13.67 14,-12.65 15,-10.91 16,-8.3 17,-4.15 18,0"/>
<polyline class="c0" points="5,0 6,-2.21 7,-5.25 8,-7.73 9,-7.64 10,-8.73 11,-10.92 12,-13.49 13,-8.3 14,-7.94 15,-9.1 16,-7.75 17,-3.33 18,0"/>
<polyline class="c0" points="5,0 6,-1.77 7,-4.17 8,-6.39 9,-8.26 10,-9.64 11,-10.45 12,-10.62 13,-10.26 14,-9.41 15,-8.06 16,-6.15 17,-3.44 18,0"/>
<polyline class="c0" points="5,0 6,-1.96 7,-4.52 8,-6.95 9,-9.07 10,-10.73 11,-11.82 12,-12.27 13,-12.04 14,-11.1 15,-9.45 16,-7.07 17,-3.81 18,0"/>
<polyline class="c0" points="5,0 6,-1.46 7,-3.62 8,-5.72 9,-7.53 10,-8.87 11,-9.64 12,-9.77 13,-9.36 14,-8.45 15,-7.03 16,-5.09 17,-2.45 18,0"/>
<polyline class="c0" points="5,0 6,-2.09 7,-5.3 8,-8.41 9,-11.12 10,-13.18 11,-14.43 12,-14.77 13,-14.3 14,-13.1 15,-11.16 16,-8.42 17,-4.61 18,0"/>
<polyline class="c0" points="5,0 6,-1.73 7,-4.29 8,-6.78 9,-8.95 10,-10.63 11,-11.68 12,-12.02 13,-11.68 14,-10.7 15,-9.06 16,-6.72 17,-3.36 18,0"/>
<polyline class="c0" points="5,0 6,-1.92 7,-4.29 8,-6.48 9,-8.32 10,-9.67 11,-10.45 12,-10.6 13,-10.24 14,-9.39 15,-8.02 16,-6.02 17,-2.87 18,0"/>
<polyline class="c0" points="5,0 6,-2.2 7,-5.55 8,-8.63 9,-11.22 10,-13.13 11,-14.25 12,-14.5 13,-14.03 14,-12.9 15,-11.05 16,-8.32 17,-3.85 18,0"/>
<polyline class="c0" points="5,0 6,-1.8 7,-3.33 8,-4.79 9,-9.17 10,-7.28 11,-11.11 12,-9.3 13,-9.73 14,-9.56 15,-6.95 16,-6.44 17,-2.07 18,0"/>
<polyline class="c0" points="5,0 6,-1.53 7,-3.87 8,-5.64 9,-9.32 10,-7.87 11,-8.54 12,-8.35 13,-10.13 14,-9.83 15,-7.21 16,-4.94 17,-2.44 18,0"/>
<polyline class="c0" points="5,0 6,-2.09 7,-4.57 8,-6.84 9,-8.78 10,-10.29 11,-11.3 12,-11.75 13,-11.58 14,-10.69 15,-9.09 16,-6.74 17,-3.47 18,0"/>
<polyline class="c0" points="5,0 6,-2.27 7,-5.2 8,-8.07 9,-10.61 10,-12.61 11,-13.95 12,-14.52 13,-14.28 14,-13.22 15,-11.31 16,-8.5 17,-4.4 18,0"/>
<polyline class="c0" points="5,0 6,-1.73 7,-3.9 8,-3.92 9,-5.54 10,-7.45 11,-8.31 12,-6.39 13,-8.04 14,-6.04 15,-9.15 16,-6.6 17,-3.11 18,0"/>
<polyline class="c0" points="5,0 6,-.12 7,-.44 8,-.68 9,-.82 10,-.94 11,-.85 12,-.72 13,-.91 14,-.84 15,-.76 16,-.78 17,-.29 18,0"/>
<polyline class="c0" points="5,0 6,-1.3 7,-3.07 8,-4.75 9,-6.22 10,-7.38 11,-8.17 12,-8.52 13,-8.42 14,-7.89 15,-6.89 16,-5.36 17,-2.91 18,0"/>
<polyline class="c0" points="5,0 6,-.82 7,-2.1 8,-2.36 9,-2.79 10,-2.83 11,-6.25 12,-5.87 13,-6.31 14,-4.06 15,-4.43 16,-3.09 17,-1.44 18,0"/>
<polyline class="c0" points="5,0 6,-.54 7,-1.38 8,-2.41 9,-2.6 10,-4.36 11,-4.05 12,-4.23 13,-3.05 14,-3.2 15,-3.82 16,-2.29 17,-1 18,0"/>
<polyline class="c0" points="5,0 6,-1.33 7,-2.88 8,-3.72 9,-5.77 10,-4.06 11,-7.42 12,-5.58 13,-4.53 14,-3.4 15,-3.72 16,-3.63 17,-.91 18,0"/>
<polyline class="c0" points="5,0 6,-.47 7,-1.13 8,-1.74 9,-2.25 10,-2.62 11,-2.82 12,-2.85 13,-2.73 14,-2.47 15,-2.08 16,-1.54 17,-.81 18,0"/>
<polyline class="c0" points="5,0 6,-.1 7,-.21 8,-.51 9,-.45 10,-.74 11,-.39 12,-.63 13,-.84 14,-.42 15,-.5 16,-.29 17,-.16 18,0"/>
<polyline class="c0" points="5,0 6,-1.44 7,-5.06 8,-4.12 9,-6.45 10,-11.11 11,-12.98 12,-13.29 13,-5.46 14,-9.89 15,-9.07 16,-3.92 17,-2.12 18,0"/>
<polyline class="c0" points="5,0 6,-.56 7,-1.61 8,-1.79 9,-3.6 10,-2.86 11,-2.68 12,-4.07 13,-3.04 14,-2.52 15,-3.89 16,-2.38 17,-.66 18,0"/>
<polyline class="c0" points="5,0 6,-1.69 7,-3.52 8,-5.15 9,-6.49 10,-7.48 11,-8.09 12,-8.26 13,-8.04 14,-7.43 15,-6.4 16,-4.89 17,-2.56 18,0"/>
<polyline class="c0" points="5,0 6,-2.7 7,-5.62 8,-8.22 9,-10.4 10,-12.05 11,-13.09 12,-13.47 13,-13.19 14,-12.25 15,-10.61 16,-8.13 17,-4.24 18,0"/>
<polyline class="c0" points="5,0 6,-.41 7,-1.37 8,-1.33 9,-2.72 10,-2.21 11,-2.59 12,-3.63 13,-2.63 14,-2.77 15,-3.25 16,-1.01 17,-1 18,0"/>
<polyline class="c0" points="5,0 6,-1.51 7,-1.75 8,-4.79 9,-7.87 10,-5.24 11,-9.45 12,-10.32 13,-8.36 14,-6.63 15,-6.64 16,-4.55 17,-2.58 18,0"/>
<polyline class="c0" points="5,0 6,-.82 7,-1.92 8,-2.15 9,-2.5 10,-2.84 11,-3.79 12,-2.58 13,-2.35 14,-3.12 15,-1.92 16,-1.49 17,-1.33 18,0"/>
<polyline class="c0" points="5,0 6,-1.24 7,-2.93 8,-4.55 9,-5.94 10,-7 11,-7.65 12,-7.84 13,-7.55 14,-6.78 15,-5.55 16,-3.83 17,-1.39 18,0"/>
<polyline class="c0" points="5,0 6,-.63 7,-2.07 8,-1.78 9,-5.08 10,-3.04 11,-3.22 12,-6.49 13,-6.6 14,-3.73 15,-3.34 16,-3.37 17,-1.3 18,0"/>
<polyline class="c0" points="5,0 6,-1.72 7,-2.53 8,-7.79 9,-9.41 10,-11.02 11,-6.57 12,-5.56 13,-6.89 14,-9.25 15,-9.27 16,-2.96 17,-2.82 18,0"/>
<polyline class="c0" points="5,0 6,-1.92 7,-4.56 8,-3.88 9,-6.7 10,-7.23 11,-9.58 12,-9.11 13,-8.37 14,-5.22 15,-8.15 16,-5.53 17,-2.66 18,0"/>
<polyline class="c0" points="5,0 6,-.46 7,-1.69 8,-2.58 9,-1.93 10,-4.09 11,-3.92 12,-5.93 13,-5.28 14,-4.53 15,-4.08 16,-2.78 17,-1.04 18,0"/>
<polyline class="c0" points="5,0 6,-1.61 7,-4.28 8,-6.93 9,-9.28 10,-11.14 11,-12.36 12,-12.85 13,-12.62 14,-11.77 15,-10.27 16,-8.03 17,-4.66 18,0"/>
<polyline class="c0" points="5,0 6,-.8 7,-2.98 8,-3.41 9,-3.86 10,-4.1 11,-5.17 12,-8.97 13,-5.63 14,-7.3 15,-5.34 16,-5.43 17,-2.5 18,0"/>
<polyline class="c0" points="5,0 6,-.32 7,-1.13 8,-1.14 9,-1.72 10,-2.88 11,-2.47 12,-2.3 13,-2.83 14,-1.34 15,-1.09 16,-1.69 17,-.45 18,0"/>
<polyline class="c0" points="5,0 6,-1.16 7,-2.78 8,-4.83 9,-5.35 10,-4.73 11,-3.95 12,-7.95 13,-8.91 14,-4.58 15,-3.23 16,-5.39 17,-1.79 18,0"/>
<polyline class="c0" points="5,0 6,-1.32 7,-2.22 8,-4.26 9,-7.52 10,-7.02 11,-11.34 12,-7.82 13,-5.86 14,-11.53 15,-8.25 16,-6.59 17,-4.23 18,0"/>
<polyline class="c0" points="5,0 6,-.47 7,-.7 8,-1.69 9,-1.73 10,-2.21 11,-3.26 12,-1.62 13,-1.56 14,-1.46 15,-1.82 16,-1.33 17,-.47 18,0"/>
<polyline class="c0" points="5,0 6,-.87 7,-4.64 8,-7.42 9,-5.78 10,-5.33 11,-11.87 12,-10.58 13,-7.36 14,-6.93 15,-4.48 16,-4.06 17,-1.42 18,0"/>
<polyline class="c0" points="5,0 6,-1.02 7,-2.47 8,-2.98 9,-5.6 10,-3.7 11,-4.27 12,-5.06 13,-6.46 14,-3.05 15,-3.45 16,-2.17 17,-1.16 18,0"/>
<polyline class="c0" points="5,0 6,-.32 7,-.98 8,-1.46 9,-1.85 10,-2.72 11,-1.4 12,-1.54 13,-2.1 14,-2.97 15,-1.59 16,-1.07 17,-.9 18,0"/>
<polyline class="c0" points="5,0 6,-.15 7,-.57 8,-1.1 9,-1.08 10,-1.41 11,-.93 12,-.89 13,-.99 14,-.99 15,-.92 16,-.98 17,-.29 18,0"/>
<polyline class="c0" points="5,0 6,-2.07 7,-4.52 8,-5.35 9,-7.53 10,-4.12 11,-6.38 12,-9.78 13,-5.98 14,-6.24 15,-3.7 16,-4.58 17,-1.55 18,0"/>
<polyline class="c0" points="5,0 6,-1.16 7,-1.39 8,-2.86 9,-4.16 10,-6.57 11,-7.07 12,-3.89 13,-6.53 14,-5.15 15,-4.45 16,-3.28 17,-1.37 18,0"/>
<polyline class="c0" points="5,0 6,-.82 7,-1.86 8,-6.22 9,-5.47 10,-9.87 11,-6.43 12,-6.82 13,-7.32 14,-8.06 15,-5.94 16,-6.03 17,-1.94 18,0"/>
<polyline class="c0" points="5,0 6,-.44 7,-1.74 8,-2.29 9,-2.06 10,-4.62 11,-5.12 12,-5.83 13,-3.53 14,-3.22 15,-4.33 16,-1.99 17,-1.49 18,0"/>
<polyline class="c0" points="5,0 6,-.26 7,-.92 8,-.95 9,-1.28 10,-2.89 11,-1.48 12,-1.78 13,-2.06 14,-2.76 15,-1.32 16,-1.25 17,-.79 18,0"/>
<polyline class="c0" points="5,0 6,-.65 7,-2.16 8,-3.18 9,-2.18 10,-2.02 11,-4.02 12,-2.92 13,-3.14 14,-2.71 15,-3.26 16,-1.5 17,-1.77 18,0"/>
<polyline class="c0" points="5,0 6,-1.02 7,-3.05 8,-4.45 9,-6.06 10,-10.99 11,-7.93 12,-6.85 13,-7 14,-9.23 15,-6.36 16,-3.65 17,-1.29 18,0"/>
<polyline class="c0" points="5,0 6,-.78 7,-1.22 8,-2.63 9,-2.27 10,-4.76 11,-3.04 12,-2.68 13,-4.35 14,-3.55 15,-3.22 16,-2.02 17,-.54 18,0"/>
<polyline class="c0" points="5,0 6,-1.75 7,-4.45 8,-7.03 9,-9.28 10,-11.03 11,-12.16 12,-12.61 13,-12.34 14,-11.33 15,-9.58 16,-7 17,-3.17 18,0"/>
<polyline class="c0" points="5,0 6,-.13 7,-.22 8,-.53 9,-.48 10,-.56 11,-.85 12,-.55 13,-.88 14,-.73 15,-.4 16,-.43 17,-.19 18,0"/>
<polyline class="c0" points="5,0 6,-1.02 7,-1.77 8,-2.52 9,-2.82 10,-3.52 11,-8.65 12,-7.01 13,-6.35 14,-5.19 15,-6.92 16,-4.27 17,-2.12 18,0"/>
<polyline class="c0" points="5,0 6,-.33 7,-1.03 8,-1.84 9,-1.6 10,-1.97 11,-2.09 12,-1.4 13,-2.58 14,-1.31 15,-1.84 16,-.75 17,-.35 18,0"/>
<polyline class="c0" points="5,0 6,-.28 7,-.35 8,-.81 9,-1.23 10,-1.76 11,-1.43 12,-1.98 13,-1.21 14,-1.34 15,-1.19 16,-.88 17,-.23 18,0"/>
<polyline class="c0" points="5,0 6,-.34 7,-1.73 8,-2.74 9,-3 10,-3.95 11,-3.63 12,-2.1 13,-2.02 14,-3.7 15,-2.98 16,-2.04 17,-.6 18,0"/>
<polyline class="c0" points="5,0 6,-1.39 7,-4.56 8,-4.62 9,-6.46 10,-9.56 11,-5.38 12,-5.8 13,-8.11 14,-5.62 15,-8.48 16,-7.27 17,-3.62 18,0"/>
<polyline class="c0" points="5,0 6,-1 7,-2.16 8,-3.68 9,-4.86 10,-5.98 11,-5.54 12,-4.17 13,-7.74 14,-3.14 15,-5.36 16,-3.12 17,-1.07 18,0"/>
<polyline class="c0" points="5,0 6,-.51 7,-1.34 8,-2.12 9,-2.78 10,-3.27 11,-3.54 12,-3.59 13,-3.48 14,-3.22 15,-2.8 16,-2.21 17,-1.33 18,0"/>
<polyline class="c0" points="5,0 6,-1.94 7,-4.75 8,-7.39 9,-9.66 10,-11.41 11,-12.52 12,-12.93 13,-12.56 14,-11.4 15,-9.44 16,-6.68 17,-2.95 18,0"/>
<polyline class="c0" points="5,0 6,-1.7 7,-4.39 8,-6.93 9,-9.1 10,-10.72 11,-11.65 12,-11.84 13,-11.37 14,-10.26 15,-8.51 16,-6.06 17,-2.57 18,0"/>
<polyline class="c0" points="5,0 6,-.29 7,-.62 8,-.91 9,-1.16 10,-1.34 11,-1.45 12,-1.48 13,-1.44 14,-1.33 15,-1.15 16,-.88 17,-.5 18,0"/>
<polyline class="c0" points="5,0 6,-1.02 7,-2.17 8,-3.21 9,-5.1 10,-9.28 11,-7.78 12,-9.63 13,-8.72 14,-9.56 15,-4.86 16,-5.29 17,-1.98 18,0"/>
<polyline class="c0" points="5,0 6,-1.21 7,-2.92 8,-4.53 9,-5.92 10,-6.98 11,-7.65 12,-7.88 13,-7.65 14,-6.96 15,-5.82 16,-4.25 17,-2.17 18,0"/>
<polyline class="c0" points="5,0 6,-.49 7,-2.59 8,-2.77 9,-4.92 10,-3.95 11,-3.56 12,-5.56 13,-5.23 14,-2.72 15,-3.6 16,-3.15 17,-1.59 18,0"/>
<polyline class="c0" points="5,0 6,-1.72 7,-4.49 8,-7.17 9,-9.47 10,-11.19 11,-12.17 12,-12.34 13,-11.84 14,-10.73 15,-9.01 16,-6.63 17,-3.36 18,0"/>
<polyline class="c0" points="5,0 6,-.89 7,-2.11 8,-4.32 9,-3.46 10,-5.57 11,-4.05 12,-6.08 13,-6.77 14,-8.99 15,-3.85 16,-5.85 17,-2.96 18,0"/>
<polyline class="c0" points="5,0 6,-.75 7,-1.99 8,-3.2 9,-4.26 10,-5.07 11,-5.56 12,-5.68 13,-5.46 14,-4.92 15,-4.06 16,-2.84 17,-1.13 18,0"/>
<polyline class="c0" points="5,0 6,-.36 7,-.97 8,-1.3 9,-1.79 10,-2.22 11,-1.31 12,-2.4 13,-2.56 14,-2.36 15,-1.23 16,-1.17 17,-.52 18,0"/>
<polyline class="c0" points="5,0 6,-1.78 7,-2.6 8,-5.81 9,-3.69 10,-7.73 11,-6.86 12,-8.79 13,-8.18 14,-5.98 15,-4.81 16,-2.46 17,-2.09 18,0"/>
<polyline class="c0" points="5,0 6,-.76 7,-1.89 8,-1.64 9,-3.03 10,-4.63 11,-5.19 12,-4.86 13,-2.79 14,-3.73 15,-2.12 16,-3.31 17,-1.45 18,0"/>
<polyline class="c0" points="5,0 6,-.47 7,-1.07 8,-1.62 9,-2.06 10,-2.38 11,-2.56 12,-2.58 13,-2.47 14,-2.24 15,-1.88 16,-1.38 17,-.67 18,0"/>
<polyline class="c0" points="5,0 6,-.74 7,-2.7 8,-2.78 9,-2.49 10,-3.45 11,-5.69 12,-4.57 13,-6.58 14,-3.58 15,-2.85 16,-3.12 17,-1.05 18,0"/>
<polyline class="c0" points="5,0 6,-.11 7,-.28 8,-.4 9,-.49 10,-.42 11,-.67 12,-.55 13,-.74 14,-.59 15,-.54 16,-.35 17,-.1 18,0"/>
<polyline class="c0" points="5,0 6,-1.25 7,-2.12 8,-5.37 9,-3.69 10,-7.89 11,-5.1 12,-5.72 13,-8.67 14,-5.42 15,-4.14 16,-2.81 17,-1.12 18,0"/>
<polyline class="c0" points="5,0 6,-.62 7,-1.44 8,-2.22 9,-2.89 10,-3.4 11,-3.73 12,-3.83 13,-3.72 14,-3.4 15,-2.86 16,-2.11 17,-1.07 18,0"/>
<polyline class="c0" points="5,0 6,-.87 7,-2.52 8,-1.67 9,-5.01 10,-5.09 11,-4.48 12,-5.78 13,-3.88 14,-4.62 15,-2.8 16,-3.98 17,-1.27 18,0"/>
<polyline class="c0" points="5,0 6,-1.09 7,-2.13 8,-4.53 9,-5.21 10,-6.05 11,-5.74 12,-4.9 13,-7.63 14,-4.61 15,-3.43 16,-4.38 17,-2.42 18,0"/>
<polyline class="c0" points="5,0 6,-.25 7,-.57 8,-.85 9,-1.08 10,-1.27 11,-1.38 12,-1.43 13,-1.4 14,-1.29 15,-1.1 16,-.8 17,-.36 18,0"/>
<polyline class="c0" points="5,0 6,-.29 7,-.82 8,-1.17 9,-1.46 10,-1.55 11,-1.78 12,-2.55 13,-1.43 14,-1.95 15,-1.36 16,-1.39 17,-.74 18,0"/>
<polyline class="c0" points="5,0 6,-1.46 7,-3.94 8,-6.36 9,-8.49 10,-10.13 11,-11.16 12,-11.49 13,-11.15 14,-10.17 15,-8.56 16,-6.23 17,-2.87 18,0"/>
<polyline class="c0" points="5,0 6,-.84 7,-2.51 8,-4.34 9,-4.94 10,-9.35 11,-6.11 12,-9.78 13,-5.16 14,-4.79 15,-5.34 16,-2.81 17,-3.17 18,0"/>
<polyline class="c0" points="5,0 6,-1.59 7,-2.56 8,-6.39 9,-4.89 10,-8.34 11,-8.06 12,-11.07 13,-9.94 14,-5.98 15,-3.73 16,-5.02 17,-1.69 18,0"/>
<polyline class="c0" points="5,0 6,-.21 7,-.4 8,-.58 9,-.49 10,-.49 11,-1.28 12,-1.29 13,-.8 14,-1.1 15,-.71 16,-.42 17,-.23 18,0"/>
<polyline class="c0" points="5,0 6,-1.66 7,-2.18 8,-6.64 9,-4.75 10,-4.61 11,-8.99 12,-6.3 13,-6.46 14,-5.68 15,-5.55 16,-4.77 17,-3.16 18,0"/>
<polyline class="c0" points="5,0 6,-.92 7,-1.99 8,-2.96 9,-3.78 10,-4.41 11,-4.82 12,-4.99 13,-4.9 14,-4.55 15,-3.92 16,-2.98 17,-1.45 18,0"/>
<polyline class="c0" points="5,0 6,-1.15 7,-3.41 8,-2.91 9,-6.06 10,-4.87 11,-10.79 12,-11.74 13,-7.16 14,-7.08 15,-7.45 16,-4.95 17,-1.46 18,0"/>
<polyline class="c0" points="5,0 6,-1.53 7,-3.83 8,-5.91 9,-7.65 10,-8.93 11,-9.69 12,-9.86 13,-9.51 14,-8.67 15,-7.32 16,-5.45 17,-2.88 18,0"/>
<polyline class="c0" points="5,0 6,-.78 7,-1.5 8,-2.07 9,-2.46 10,-1.7 11,-2.58 12,-3.2 13,-4.58 14,-4.22 15,-2.01 16,-1.93 17,-.95 18,0"/>
<polyline class="c0" points="5,0 6,-.81 7,-3.42 8,-2.61 9,-6.62 10,-5.86 11,-9.76 12,-9.66 13,-9.92 14,-5.82 15,-7.57 16,-3.75 17,-1.05 18,0"/>
<polyline class="c0" points="5,0 6,-1.81 7,-4.57 8,-7.21 9,-9.49 10,-11.2 11,-12.21 12,-12.44 13,-12.01 14,-10.98 15,-9.34 16,-6.99 17,-3.54 18,0"/>
<polyline class="c0" points="5,0 6,-1.35 7,-2.75 8,-2.41 9,-7.06 10,-8.05 11,-4.49 12,-8.49 13,-5.72 14,-8.27 15,-7.23 16,-3.47 17,-1.64 18,0"/>
<polyline class="c0" points="5,0 6,-1.76 7,-3.68 8,-5.67 9,-6.83 10,-9.13 11,-9.14 12,-5.39 13,-5.06 14,-9.6 15,-7.68 16,-5.23 17,-2.79 18,0"/>
<polyline class="c0" points="5,0 6,-2.21 7,-5.19 8,-7.84 9,-10.04 10,-11.69 11,-12.71 12,-13.04 13,-12.65 14,-11.53 15,-9.68 16,-7.08 17,-3.48 18,0"/>
<polyline class="c0" points="5,0 6,-1.51 7,-3.7 8,-3.55 9,-6.14 10,-9.79 11,-10.94 12,-12.36 13,-8.98 14,-7.37 15,-7.75 16,-3.42 17,-2.41 18,0"/>
<polyline class="c0" points="5,0 6,-.6 7,-2.39 8,-3.12 9,-4.44 10,-3.81 11,-4.52 12,-4.23 13,-4.95 14,-5.13 15,-2.41 16,-1.42 17,-1.27 18,0"/>
<polyline class="c0" points="5,0 6,-.29 7,-1.14 8,-2.27 9,-2.85 10,-2.46 11,-3.87 12,-2.16 13,-2.13 14,-2.26 15,-1.43 16,-1.86 17,-.51 18,0"/>
<polyline class="c0" points="5,0 6,-.7 7,-1.5 8,-1.46 9,-3.37 10,-3.42 11,-2.85 12,-3.25 13,-3.95 14,-4.91 15,-2.16 16,-1.59 17,-1.1 18,0"/>
<polyline class="c0" points="5,0 6,-.32 7,-.68 8,-1.18 9,-.84 10,-2.08 11,-1.77 12,-2.38 13,-1.9 14,-1.21 15,-1.77 16,-.91 17,-.47 18,0"/>
<polyline class="c0" points="5,0 6,-.42 7,-.98 8,-1.74 9,-1.45 10,-1.92 11,-1.48 12,-1.85 13,-1.78 14,-1.59 15,-1.68 16,-1.45 17,-.97 18,0"/>
<polyline class="c0" points="5,0 6,-.41 7,-.67 8,-1.54 9,-2.31 10,-2.24 11,-3.13 12,-2.73 13,-2.96 14,-2.31 15,-2.57 16,-1.53 17,-.7 18,0"/>
<polyline class="c0" points="5,0 6,-1.52 7,-3.57 8,-5.55 9,-7.27 10,-8.59 11,-9.41 12,-9.67 13,-9.37 14,-8.53 15,-7.14 16,-5.19 17,-2.51 18,0"/>
<polyline class="c0" points="5,0 6,-.1 7,-.33 8,-.43 9,-.96 10,-.87 11,-.88 12,-1.12 13,-.8 14,-1.11 15,-.9 16,-.39 17,-.2 18,0"/>
<polyline class="c0" points="5,0 6,-.39 7,-1.02 8,-2.15 9,-2.7 10,-1.75 11,-1.64 12,-2.59 13,-3.28 14,-1.42 15,-2.1 16,-1.76 17,-.36 18,0"/>
<polyline class="c0" points="5,0 6,-.83 7,-1.51 8,-2.01 9,-3.4 10,-3.5 11,-2.9 12,-3.85 13,-3.14 14,-1.88 15,-3.49 16,-1.65 17,-1.45 18,0"/>
<polyline class="c0" points="5,0 6,-.43 7,-.9 8,-.6 9,-1.18 10,-.93 11,-.89 12,-2.06 13,-1.73 14,-.84 15,-1.71 16,-.51 17,-.23 18,0"/>
<polyline class="c0" points="5,0 6,-.84 7,-1.48 8,-1.71 9,-2.53 10,-4.31 11,-2.83 12,-5.09 13,-3.65 14,-3.17 15,-3.65 16,-1.72 17,-.62 18,0"/>
<polyline class="c0" points="5,0 6,-.35 7,-.39 8,-1.27 9,-1.42 10,-1.22 11,-1.65 12,-2.64 13,-1.22 14,-1.43 15,-1.22 16,-1.22 17,-.94 18,0"/>
<polyline class="c0" points="5,0 6,-.44 7,-1.07 8,-1.66 9,-2.15 10,-2.51 11,-2.71 12,-2.73 13,-2.62 14,-2.38 15,-2 16,-1.49 17,-.8 18,0"/>
<polyline class="c0" points="5,0 6,-.47 7,-.81 8,-1.61 9,-2.57 10,-1.84 11,-3.2 12,-4.42 13,-4.07 14,-2.16 15,-1.76 16,-2.07 17,-1.13 18,0"/>
<polyline class="c0" points="5,0 6,-.53 7,-1.25 8,-1.56 9,-1.71 10,-1.22 11,-1.84 12,-1.73 13,-1.65 14,-1.33 15,-1.18 16,-1.81 17,-.91 18,0"/>
<polyline class="c0" points="5,0 6,-.74 7,-1.43 8,-1.97 9,-2.24 10,-2.97 11,-3.4 12,-3 13,-3.67 14,-1.76 15,-1.94 16,-1.51 17,-.7 18,0"/>
<polyline class="c0" points="5,0 6,-.24 7,-.53 8,-.81 9,-.59 10,-.92 11,-1.24 12,-1.11 13,-1.93 14,-1.41 15,-1.31 16,-.74 17,-.64 18,0"/>
<polyline class="c0" points="5,0 6,-.3 7,-.38 8,-1.06 9,-.92 10,-1.77 11,-1.65 12,-1.77 13,-1.2 14,-1.57 15,-1.44 16,-.59 17,-.34 18,0"/>
<polyline class="c0" points="5,0 6,-1.37 7,-1.83 8,-2.37 9,-2.91 10,-3.54 11,-6.23 12,-7.56 13,-6.4 14,-3.49 15,-3.76 16,-3.34 17,-2.58 18,0"/>
<polyline class="c0" points="5,0 6,-.45 7,-.79 8,-1.97 9,-2.6 10,-2.68 11,-1.83 12,-2.87 13,-1.66 14,-2.95 15,-1.82 16,-1.36 17,-.42 18,0"/>
<polyline class="c0" points="5,0 6,-1.59 7,-3.87 8,-6.03 9,-7.88 10,-9.24 11,-10.03 12,-10.17 13,-9.77 14,-8.87 15,-7.46 16,-5.48 17,-2.62 18,0"/>
<polyline class="c0" points="5,0 6,-.32 7,-.92 8,-1.99 9,-1.88 10,-1.68 11,-2.99 12,-1.98 13,-2.01 14,-2.06 15,-1.91 16,-1.05 17,-.86 18,0"/>
<polyline class="c0" points="5,0 6,-1.63 7,-2.53 8,-5.07 9,-5.16 10,-5.16 11,-8.31 12,-9.32 13,-8.44 14,-4.12 15,-2.93 16,-3.14 17,-1.84 18,0"/>
<polyline class="c0" points="5,0 6,-.66 7,-1.71 8,-4.15 9,-3.16 10,-6.39 11,-6.82 12,-5.82 13,-4.27 14,-5.1 15,-2.71 16,-2.17 17,-.88 18,0"/>
<polyline class="c0" points="5,0 6,-1.92 7,-3.03 8,-6.72 9,-6.14 10,-6.38 11,-11.32 12,-11 13,-8.16 14,-10.56 15,-10.2 16,-5.03 17,-2.66 18,0"/>
<polyline class="c0" points="5,0 6,-.39 7,-1.07 8,-1.42 9,-2.22 10,-2.09 11,-1.93 12,-1.9 13,-1.29 14,-2.24 15,-2.4 16,-.96 17,-1.01 18,0"/>
<polyline class="c0" points="5,0 6,-.07 7,-.36 8,-.56 9,-.68 10,-.63 11,-.53 12,-.75 13,-1.01 14,-.55 15,-.49 16,-.43 17,-.16 18,0"/>
<polyline class="c0" points="5,0 6,-1.3 7,-2.79 8,-6.22 9,-8.91 10,-8.63 11,-6.85 12,-10.07 13,-8.22 14,-8.14 15,-4.49 16,-4.83 17,-3.66 18,0"/>
<polyline class="c0" points="5,0 6,-.7 7,-2.17 8,-5.17 9,-6.05 10,-6.96 11,-4.07 12,-5.74 13,-8 14,-4 15,-5.1 16,-1.85 17,-1.06 18,0"/>
<polyline class="c0" points="5,0 6,-.09 7,-.24 8,-.24 9,-.6 10,-.86 11,-.91 12,-.45 13,-.72 14,-.79 15,-.67 16,-.3 17,-.18 18,0"/>
<polyline class="c0" points="5,0 6,-.69 7,-.96 8,-2.19 9,-2.45 10,-1.93 11,-3.58 12,-2.63 13,-2.42 14,-2.82 15,-2.59 16,-1.48 17,-.68 18,0"/>
<polyline class="c0" points="5,0 6,-1 7,-2.4 8,-3.66 9,-4.72 10,-5.51 11,-5.99 12,-6.14 13,-5.92 14,-5.35 15,-4.42 16,-3.16 17,-1.5 18,0"/>
<polyline class="c0" points="5,0 6,-1.69 7,-2.75 8,-7.31 9,-7.05 10,-9.69 11,-11.26 12,-6.01 13,-6.62 14,-8.55 15,-8.61 16,-3.65 17,-2.78 18,0"/>
<polyline class="c0" points="5,0 6,-1.88 7,-3.67 8,-5.25 9,-6.4 10,-5.1 11,-8.18 12,-9.87 13,-7.35 14,-5.82 15,-6.09 16,-3.26 17,-1.66 18,0"/>
<polyline class="c0" points="5,0 6,-.73 7,-1.41 8,-3.9 9,-5.81 10,-6.4 11,-4.33 12,-7.99 13,-4.78 14,-6.7 15,-6.01 16,-2.48 17,-2.54 18,0"/>
<polyline class="c0" points="5,0 6,-2.4 7,-5.53 8,-8.31 9,-10.58 10,-12.21 11,-13.11 12,-13.22 13,-12.59 14,-11.24 15,-9.18 16,-6.41 17,-2.74 18,0"/>
<polyline class="c0" points="5,0 6,-.24 7,-.51 8,-.74 9,-.93 10,-1.07 11,-1.14 12,-1.16 13,-1.11 14,-.99 15,-.81 16,-.57 17,-.24 18,0"/>
<polyline class="c0" points="5,0 6,-1.6 7,-3.09 8,-4.79 9,-7.79 10,-9.96 11,-7.21 12,-10.38 13,-7.22 14,-7.37 15,-4.64 16,-6.3 17,-1.76 18,0"/>
<polyline class="c0" points="5,0 6,-.82 7,-1.08 8,-1.29 9,-2.42 10,-3.02 11,-4.65 12,-3.91 13,-2.26 14,-1.99 15,-3.74 16,-1.39 17,-1.15 18,0"/>
<polyline class="c0" points="5,0 6,-1.07 7,-3.23 8,-2.62 9,-4.01 10,-6.79 11,-5.82 12,-4.92 13,-3.53 14,-4.01 15,-3.42 16,-2.22 17,-1.53 18,0"/>
<polyline class="c0" points="5,0 6,-.7 7,-2.04 8,-1.82 9,-3.89 10,-3.78 11,-3.94 12,-4.39 13,-3.22 14,-4.64 15,-4.4 16,-2.97 17,-1.13 18,0"/>
<polyline class="c0" points="5,0 6,-1.17 7,-1.28 8,-3.18 9,-3.87 10,-7.46 11,-7.18 12,-8.46 13,-7.68 14,-7.76 15,-6.86 16,-3.1 17,-2.79 18,0"/>
<polyline class="c0" points="5,0 6,-.9 7,-2.16 8,-3.34 9,-5.07 10,-4.52 11,-3.75 12,-4.72 13,-5.76 14,-5.69 15,-4.16 16,-3.09 17,-1.45 18,0"/>
<polyline class="c0" points="5,0 6,-.48 7,-1.1 8,-1.69 9,-2.2 10,-2.6 11,-2.85 12,-2.96 13,-2.89 14,-2.64 15,-2.22 16,-1.62 17,-.82 18,0"/>
<polyline class="c0" points="5,0 6,-1.64 7,-2.68 8,-4.5 9,-4.24 10,-4.89 11,-8.26 12,-10.83 13,-8.24 14,-9.44 15,-6.86 16,-4.23 17,-2.6 18,0"/>
<polyline class="c0" points="5,0 6,-.79 7,-2.96 8,-4.23 9,-4.35 10,-6.08 11,-7.43 12,-5.17 13,-7.17 14,-5.22 15,-3.78 16,-5.1 17,-1.65 18,0"/>
<polyline class="c0" points="5,0 6,-1.53 7,-3.86 8,-6.03 9,-7.87 10,-9.28 11,-10.15 12,-10.45 13,-10.09 14,-9.05 15,-7.35 16,-5.02 17,-1.91 18,0"/>
<polyline class="c0" points="5,0 6,-.49 7,-1.16 8,-1.75 9,-2.23 10,-2.59 11,-2.81 12,-2.88 13,-2.79 14,-2.54 15,-2.13 16,-1.55 17,-.71 18,0"/>
<polyline class="c0" points="5,0 6,-.93 7,-2.03 8,-4.08 9,-3.49 10,-2.64 11,-3.22 12,-5.03 13,-3.5 14,-5.34 15,-2.87 16,-3.3 17,-1.81 18,0"/>
<polyline class="c0" points="5,0 6,-1.48 7,-5.48 8,-4.84 9,-4.53 10,-9.38 11,-7.58 12,-9.28 13,-10 14,-7.48 15,-8.89 16,-4.02 17,-2.41 18,0"/>
<polyline class="c0" points="5,0 6,-.31 7,-.76 8,-.98 9,-1.48 10,-.93 11,-1.32 12,-1.93 13,-2.09 14,-1.4 15,-.8 16,-.96 17,-.28 18,0"/>
<polyline class="c0" points="5,0 6,-1.61 7,-2.18 8,-6.23 9,-8.23 10,-6.69 11,-5.89 12,-6.31 13,-5.67 14,-7.95 15,-8.22 16,-7.49 17,-1.91 18,0"/>
<polyline class="c0" points="5,0 6,-.82 7,-2.53 8,-6.93 9,-4.65 10,-9.86 11,-7.5 12,-11.11 13,-6.83 14,-6.28 15,-7.24 16,-5.69 17,-1.55 18,0"/>
<polyline class="c0" points="5,0 6,-.19 7,-.51 8,-.51 9,-.89 10,-1.3 11,-1.43 12,-.74 13,-1.3 14,-.91 15,-1 16,-.68 17,-.32 18,0"/>
<polyline class="c0" points="5,0 6,-1.22 7,-3.04 8,-4.82 9,-6.38 10,-7.61 11,-8.42 12,-8.74 13,-8.58 14,-7.98 15,-6.91 16,-5.34 17,-3.05 18,0"/>
<polyline class="c0" points="5,0 6,-1.49 7,-3.67 8,-3.04 9,-7.73 10,-5.61 11,-9.36 12,-6.25 13,-7.23 14,-5.61 15,-5.66 16,-4.87 17,-2.07 18,0"/>
<polyline class="c0" points="5,0 6,-1.23 7,-2.97 8,-4.66 9,-4.16 10,-7.97 11,-4.49 12,-7.5 13,-5.7 14,-9.46 15,-7.96 16,-5.41 17,-1.49 18,0"/>
<polyline class="c0" points="5,0 6,-.69 7,-1.93 8,-3.08 9,-3.66 10,-3.7 11,-2.93 12,-6.66 13,-3.09 14,-4.68 15,-3.46 16,-3.07 17,-1.55 18,0"/>
<polyline class="c0" points="5,0 6,-.66 7,-1.49 8,-2.28 9,-2.95 10,-3.46 11,-3.77 12,-3.86 13,-3.72 14,-3.33 15,-2.71 16,-1.86 17,-.72 18,0"/>
<polyline class="c0" points="5,0 6,-1.11 7,-2.61 8,-2.83 9,-5.98 10,-4.54 11,-7.36 12,-8.17 13,-4.28 14,-7.48 15,-3.31 16,-3.11 17,-1.91 18,0"/>
<polyline class="c0" points="5,0 6,-.56 7,-1.44 8,-2.29 9,-3.04 10,-3.62 11,-4 12,-4.15 13,-4.05 14,-3.66 15,-3 16,-2.06 17,-.77 18,0"/>
<polyline class="c0" points="5,0 6,-.68 7,-1.97 8,-2.93 9,-1.91 10,-2.78 11,-5.36 12,-4.74 13,-2.81 14,-4.36 15,-2.88 16,-2.69 17,-1.14 18,0"/>
<polyline class="c0" points="5,0 6,-.92 7,-2.09 8,-2.19 9,-2.37 10,-3.85 11,-3.4 12,-3.52 13,-5.06 14,-4.08 15,-2.77 16,-1.75 17,-1.07 18,0"/>
<polyline class="c0" points="5,0 6,-.69 7,-1.57 8,-2.38 9,-3.09 10,-3.64 11,-4.01 12,-4.17 13,-4.11 14,-3.78 15,-3.17 16,-2.28 17,-1.01 18,0"/>
<polyline class="c0" points="5,0 6,-.99 7,-2.77 8,-4.06 9,-6.09 10,-5.98 11,-5.61 12,-7.34 13,-7.44 14,-6.84 15,-7.84 16,-4.83 17,-2.73 18,0"/>
<polyline class="c0" points="5,0 6,-.34 7,-1.29 8,-2.5 9,-2.99 10,-3.51 11,-3.19 12,-4.49 13,-3.19 14,-3.38 15,-3.26 16,-1.74 17,-.6 18,0"/>
<polyline class="c0" points="5,0 6,-1.57 7,-1.7 8,-5.36 9,-7.68 10,-7.4 11,-7.13 12,-9.85 13,-5.92 14,-6.54 15,-3.83 16,-4.7 17,-2.55 18,0"/>
<polyline class="c0" points="5,0 6,-.5 7,-1.61 8,-2.33 9,-3.56 10,-2.18 11,-2.98 12,-4.55 13,-4.04 14,-3.91 15,-2.05 16,-1.77 17,-1.08 18,0"/>
<polyline class="c0" points="5,0 6,-.11 7,-.52 8,-.77 9,-.93 10,-.77 11,-.68 12,-1.27 13,-1 14,-.9 15,-.43 16,-.46 17,-.25 18,0"/>
<polyline class="c0" points="5,0 6,-1.15 7,-2.56 8,-6.37 9,-6.65 10,-7.32 11,-6.56 12,-7.98 13,-6.78 14,-5.15 15,-5.55 16,-5.6 17,-1.58 18,0"/>
<polyline class="c0" points="5,0 6,-1.41 7,-2.96 8,-6.35 9,-5.04 10,-10.38 11,-11.94 12,-12.67 13,-6.28 14,-6.72 15,-5.88 16,-3.26 17,-1.81 18,0"/>
<polyline class="c0" points="5,0 6,-.5 7,-.88 8,-2.26 9,-1.63 10,-4.13 11,-2.67 12,-4.54 13,-2.16 14,-3.49 15,-2.22 16,-1.99 17,-.63 18,0"/>
<polyline class="c0" points="5,0 6,-1.22 7,-2.42 8,-4.48 9,-6.99 10,-8.04 11,-4.37 12,-9.22 13,-9.05 14,-7.44 15,-7.62 16,-4.82 17,-1.35 18,0"/>
<polyline class="c0" points="5,0 6,-.39 7,-.86 8,-3.18 9,-2.31 10,-3.31 11,-5.1 12,-3.16 13,-3.85 14,-2.79 15,-3.39 16,-2.27 17,-.5 18,0"/>
<polyline class="c0" points="5,0 6,-.34 7,-.88 8,-1.39 9,-1.81 10,-2.12 11,-2.3 12,-2.32 13,-2.21 14,-1.97 15,-1.59 16,-1.09 17,-.4 18,0"/>
<polyline class="c0" points="5,0 6,-.92 7,-2.33 8,-2.28 9,-2.16 10,-3.13 11,-5.53 12,-5.99 13,-3.95 14,-5.45 15,-2.63 16,-3.7 17,-1.85 18,0"/>
<polyline class="c1" points="0,0 5,0"/>
<polyline class="c1" points="17,0 23,0"/>
<polyline class="c2" points="8,-8.8 9,-11.23 9.5,-10.17 10.2,-3.19 11,-2.88 11.85,-2.73 12.35,-9.1 13,-10.62 14,-10.01 15,-7.89"/>
<polyline class="c3" points="8,-8.35 9,-10.62 9.6,-9.1 10.3,-3.03 11,-2.58 11.9,-2.58 12.4,-8.35 13,-10.01 14,-9.41 15,-7.59"/>
<polyline class="c1" points="17,0 18,-12.75 19,-8.35 20,-7.89 21,-7.89 22,-3.79 23,0"/>
<polyline class="c4" points="17,0 18,-9.1 19,-8.04 20,-7.89 21,-7.74 22,-3.03 23,0"/>
<polyline class="c5" points="17,0 18,-12.14 19,-9.1 20,0"/>
<polyline class="c5" points="17,0 18,-10.62 19,-7.89 20,-7.59 21,0"/>
<polyline class="c6" points="17,-3.03 18,-4.55 19,-7.89 20,-6.07 21,-1.52 22,0"/>
<polyline class="c6" points="17,0 18,-6.83 19,-4.55 20,-1.52 21,0"/>
<polyline class="c7" points="17,0 18,-6.9 19,-5.52 20,-5.94 21,0"/>
<polyline class="c7" points="17,0 18,-4.49 19,-3.37 20,0"/>
<polyline class="c7" points="17,0 18,-6.04 19,-5.72 20,-4.13 21,-4.71 22,-4.7 23,0"/>
<polyline class="c7" points="17,0 18,-6.48 19,-4.5 20,-4.56 21,-5.74 22,-6.09 23,0"/>
<polyline class="c7" points="17,0 18,-6.48 19,-5.06 20,-4.82 21,0"/>
<polyline class="c7" points="17,0 18,-6.21 19,0"/>
<polyline class="c7" points="17,0 18,-4.17 19,-2.52 20,-4.07 21,0"/>
<polyline class="c7" points="17,0 18,-6.84 19,-5.63 20,0"/>
<polyline class="c7" points="17,0 18,-5.46 19,-4.06 20,0"/>
<polyline class="c7" points="17,0 18,-3.35 19,-2.69 20,-2.41 21,0"/>
<polyline class="c7" points="17,0 18,-4.92 19,-3.82 20,-3.06 21,-4.46 22,0"/>
<polyline class="c7" points="17,0 18,-5.94 19,-5.53 20,-4 21,0"/>
</g>
<g transform="translate(214.62 106.44) scale(6.015)">
<polyline class="c8" points="5,0 6,-.81 7,-1.68 8,-2.87 9,-3.03 10,-4.9 11,-5.49 12,-3.82 13,-5.8 14,-5.12 15,-3.96 16,-2.19 17,-.99 18,0"/>
<polyline class="c8" points="4,0 5,-.05 6,-.55 7,-1.81 8,-2.02 9,-3.16 10,-2.91 11,-3.94 12,-4.15 13,-3.45 14,-2.43 15,-2.27 16,-1.57 17,-.75 18,0"/>
<polyline class="c8" points="5,-.01 6,-.2 7,-.41 8,-.6 9,-.76 10,-.88 11,-.94 12,-.95 13,-.9 14,-.78 15,-.6 16,-.38 17,-.13 18,0"/>
<polyline class="c8" points="5,0 6,-.55 7,-1.07 8,-1.41 9,-2.22 10,-1.9 11,-2.17 12,-3.36 13,-2.42 14,-1.65 15,-1.65 16,-1.42 17,-.45 18,0"/>
<polyline class="c8" points="4,0 5,-.03 6,-.34 7,-.62 8,-.86 9,-1.05 10,-1.19 11,-1.27 12,-1.29 13,-1.23 14,-1.09 15,-.87 16,-.58 17,-.25 18,0"/>
<polyline class="c8" points="4,0 5,-.13 6,-1.95 7,-3.47 8,-5.17 9,-6.29 10,-7.41 11,-6.13 12,-7.88 13,-5.29 14,-3.8 15,-5.01 16,-3.35 17,-.88 18,0"/>
<polyline class="c8" points="4,0 5,-.11 6,-1.81 7,-3.52 8,-4.73 9,-7.27 10,-4.91 11,-9.05 12,-9.33 13,-8.84 14,-8.97 15,-3.69 16,-2.81 17,-.98 18,0"/>
<polyline class="c8" points="5,0 6,-2.45 7,-4.84 8,-7 9,-8.82 10,-10.21 11,-11.08 12,-11.41 13,-11.07 14,-9.98 15,-8.17 16,-5.71 17,-2.6 18,0"/>
<polyline class="c8" points="4,0 5,-.03 6,-.63 7,-1.23 8,-1.78 9,-2.24 10,-2.6 11,-2.83 12,-2.92 13,-2.84 14,-2.55 15,-2.07 16,-1.41 17,-.54 18,0"/>
<polyline class="c8" points="5,0 6,-.49 7,-1.03 8,-1.07 9,-1.24 10,-1.48 11,-2.67 12,-1.93 13,-2.67 14,-1.23 15,-1.09 16,-1.07 17,-.42 18,0"/>
<polyline class="c8" points="5,0 6,-2.03 7,-4.18 8,-6.07 9,-7.64 10,-8.81 11,-9.53 12,-9.77 13,-9.38 14,-8.24 15,-6.42 16,-4.02 17,-1.1 18,0"/>
<polyline class="c8" points="5,0 6,-.86 7,-2.01 8,-3.1 9,-4.03 10,-4.73 11,-5.16 12,-5.28 13,-5.07 14,-4.51 15,-3.64 16,-2.48 17,-1.03 18,0"/>
<polyline class="c8" points="4,0 5,-.1 6,-2.2 7,-4.41 8,-6.47 9,-8.21 10,-9.51 11,-10.29 12,-10.49 13,-10.01 14,-8.83 15,-6.99 16,-4.59 17,-1.64 18,0"/>
<polyline class="c8" points="5,0 6,-1.52 7,-3.34 8,-5.04 9,-6.48 10,-7.57 11,-8.24 12,-8.45 13,-8.07 14,-7.07 15,-5.51 16,-3.48 17,-1.08 18,0"/>
<polyline class="c8" points="5,0 6,-2.54 7,-4.98 8,-7.08 9,-8.78 10,-10.03 11,-10.76 12,-10.96 13,-10.48 14,-9.27 15,-7.38 16,-4.93 17,-1.99 18,0"/>
<polyline class="c8" points="4,0 5,-.07 6,-2.73 7,-5.26 8,-7.54 9,-9.47 10,-10.96 11,-11.95 12,-12.38 13,-12.11 14,-10.84 15,-8.64 16,-5.62 17,-1.87 18,0"/>
<polyline class="c8" points="5,-.01 6,-.09 7,-.21 8,-.41 9,-.36 10,-.54 11,-.75 12,-.65 13,-.48 14,-.56 15,-.36 16,-.32 17,-.09 18,0"/>
<polyline class="c8" points="4,0 5,-.15 6,-1.7 7,-2.9 8,-3.9 9,-6.32 10,-7.91 11,-6.9 12,-8.76 13,-6.81 14,-4.53 15,-5.86 16,-2.69 17,-.93 18,0"/>
<polyline class="c8" points="5,0 6,-2.69 7,-5.47 8,-8.01 9,-10.18 10,-11.86 11,-12.96 12,-13.43 13,-13.1 14,-11.73 15,-9.37 16,-6.14 17,-2.06 18,0"/>
<polyline class="c8" points="5,0 6,-1.25 7,-2.65 8,-3.94 9,-5.01 10,-5.79 11,-6.24 12,-6.32 13,-5.98 14,-5.23 15,-4.11 16,-2.72 17,-1.12 18,0"/>
<polyline class="c8" points="5,0 6,-1.99 7,-4.56 8,-6.96 9,-11.59 10,-6.82 11,-14.22 12,-7.82 13,-10.56 14,-6.14 15,-7.65 16,-5.02 17,-1.31 18,0"/>
<polyline class="c8" points="5,0 6,-1.93 7,-3.93 8,-5.65 9,-7.05 10,-8.1 11,-8.76 12,-8.99 13,-8.71 14,-7.81 15,-6.34 16,-4.34 17,-1.83 18,0"/>
<polyline class="c8" points="4,0 5,-.05 6,-2.11 7,-4.53 8,-3.75 9,-6.1 10,-7.16 11,-7.58 12,-11.34 13,-10.99 14,-8.63 15,-6.51 16,-4.25 17,-1.51 18,0"/>
<polyline class="c8" points="5,0 6,-1.15 7,-2.18 8,-3.07 9,-3.81 10,-4.37 11,-4.73 12,-4.87 13,-4.73 14,-4.25 15,-3.42 16,-2.29 17,-.81 18,0"/>
<polyline class="c8" points="5,0 6,-1.71 7,-4.28 8,-4.96 9,-6.1 10,-7.7 11,-6.97 12,-10.44 13,-8.14 14,-9.1 15,-6.14 16,-4.05 17,-1.05 18,0"/>
<polyline class="c8" points="5,0 6,-.54 7,-1.56 8,-2.39 9,-3.66 10,-3.23 11,-4.15 12,-3.34 13,-6.16 14,-4.7 15,-3.09 16,-2.56 17,-1.05 18,0"/>
<polyline class="c8" points="4,0 5,-.04 6,-1.74 7,-2.95 8,-2.58 9,-4.57 10,-5.48 11,-6.07 12,-5.74 13,-4.59 14,-6.38 15,-3.96 16,-3.28 17,-1.24 18,0"/>
<polyline class="c8" points="5,-.03 6,-.87 7,-2.09 8,-2.08 9,-2.73 10,-5.62 11,-5.82 12,-4.57 13,-5.86 14,-3.86 15,-2.65 16,-2.02 17,-.76 18,0"/>
<polyline class="c8" points="5,0 6,-1.53 7,-3.45 8,-3.68 9,-4.34 10,-5.61 11,-6.66 12,-5.61 13,-8.09 14,-7.41 15,-5.21 16,-2.33 17,-.85 18,0"/>
<polyline class="c8" points="4,0 5,-.08 6,-3.64 7,-6.75 8,-9.44 9,-11.62 10,-13.21 11,-14.15 12,-14.38 13,-13.77 14,-12.26 15,-9.92 16,-6.79 17,-2.86 18,0"/>
<polyline class="c8" points="5,0 6,-1.85 7,-3.14 8,-4.61 9,-6.06 10,-5.23 11,-7.6 12,-7.8 13,-6.26 14,-6.87 15,-5.65 16,-2.96 17,-1.09 18,0"/>
<polyline class="c8" points="4,0 5,-.14 6,-3.25 7,-4.55 8,-4.78 9,-6.29 10,-11.89 11,-12.05 12,-14.21 13,-8.66 14,-12.5 15,-7.39 16,-4.32 17,-2.25 18,0"/>
<polyline class="c8" points="5,0 6,-.72 7,-.93 8,-1.67 9,-3.28 10,-3.12 11,-2.88 12,-2.41 13,-3.91 14,-2.5 15,-2.18 16,-2.31 17,-1.09 18,0"/>
<polyline class="c8" points="4,0 5,-.03 6,-2.9 7,-5.63 8,-8.09 9,-10.18 10,-11.8 11,-12.86 12,-13.33 13,-13.08 14,-11.87 15,-9.74 16,-6.79 17,-3.09 18,0"/>
<polyline class="c8" points="5,0 6,-2.66 7,-5.3 8,-7.54 9,-9.34 10,-10.65 11,-11.41 12,-11.59 13,-11.03 14,-9.66 15,-7.59 16,-4.94 17,-1.87 18,0"/>
<polyline class="c8" points="5,-.02 6,-1.14 7,-2.1 8,-2.94 9,-3.62 10,-4.12 11,-4.42 12,-4.51 13,-4.33 14,-3.84 15,-3.08 16,-2.08 17,-.89 18,0"/>
<polyline class="c8" points="4,0 5,-.05 6,-1.67 7,-3.09 8,-4.23 9,-6.55 10,-7.54 11,-4.49 12,-4.31 13,-6.34 14,-3.92 15,-5.15 16,-3.05 17,-.87 18,0"/>
<polyline class="c8" points="5,0 6,-1.17 7,-2.93 8,-4.43 9,-6.05 10,-3.77 11,-6.43 12,-4.02 13,-7.53 14,-5.07 15,-2.96 16,-3.81 17,-.83 18,0"/>
<polyline class="c8" points="5,0 6,-.48 7,-.83 8,-1.6 9,-2.38 10,-1.62 11,-2.93 12,-3.18 13,-2.8 14,-1.66 15,-1.46 16,-1.55 17,-.51 18,0"/>
<polyline class="c8" points="5,-.01 6,-.42 7,-.86 8,-1.29 9,-1.66 10,-1.95 11,-2.15 12,-2.23 13,-2.18 14,-1.93 15,-1.49 16,-.91 17,-.23 18,0"/>
<polyline class="c8" points="5,0 6,-1.24 7,-2.5 8,-3.64 9,-4.61 10,-5.31 11,-5.73 12,-5.82 13,-5.55 14,-4.91 15,-3.94 16,-2.66 17,-1.08 18,0"/>
<polyline class="c8" points="5,-.01 6,-.34 7,-.68 8,-.99 9,-1.25 10,-1.45 11,-1.58 12,-1.64 13,-1.59 14,-1.43 15,-1.16 16,-.79 17,-.34 18,0"/>
<polyline class="c8" points="5,-.01 6,-1.81 7,-3.74 8,-5.53 9,-7.06 10,-8.23 11,-8.95 12,-9.18 13,-8.83 14,-7.86 15,-6.29 16,-4.18 17,-1.45 18,0"/>
<polyline class="c8" points="4,0 5,-.12 6,-2.54 7,-4.85 8,-6.89 9,-8.57 10,-9.79 11,-10.49 12,-10.62 13,-10.08 14,-8.84 15,-6.95 16,-4.47 17,-1.32 18,0"/>
<polyline class="c8" points="5,0 6,-1.3 7,-2.39 8,-2.33 9,-2.97 10,-4.84 11,-4.64 12,-7.45 13,-5.22 14,-4.59 15,-3.14 16,-2.94 17,-1.25 18,0"/>
<polyline class="c8" points="5,0 6,-1.12 7,-2.29 8,-3.3 9,-4.14 10,-4.77 11,-5.16 12,-5.31 13,-5.14 14,-4.6 15,-3.71 16,-2.52 17,-1.06 18,0"/>
<polyline class="c8" points="5,0 6,-.52 7,-.84 8,-1.21 9,-1.23 10,-1.89 11,-2 12,-1.14 13,-1.5 14,-1.28 15,-1.34 16,-.96 17,-.36 18,0"/>
<polyline class="c8" points="4,0 5,-.04 6,-.37 7,-.68 8,-.95 9,-1.17 10,-1.33 11,-1.43 12,-1.46 13,-1.4 14,-1.22 15,-.95 16,-.6 17,-.21 18,0"/>
<polyline class="c8" points="4,0 5,-.06 6,-.69 7,-1.23 8,-1.7 9,-2.09 10,-2.38 11,-2.57 12,-2.65 13,-2.58 14,-2.31 15,-1.86 16,-1.25 17,-.52 18,0"/>
<polyline class="c8" points="5,0 6,-1.63 7,-3.94 8,-6.38 9,-7.96 10,-8.5 11,-5.84 12,-8.6 13,-7.01 14,-7.86 15,-4.33 16,-3.17 17,-1.27 18,0"/>
<polyline class="c8" points="4,0 5,-.11 6,-1.35 7,-4.04 8,-6 9,-4.45 10,-6.53 11,-7.34 12,-5.16 13,-7.73 14,-5.17 15,-5.49 16,-3.67 17,-1.17 18,0"/>
<polyline class="c8" points="5,0 6,-.98 7,-2.19 8,-4.2 9,-3.52 10,-4.23 11,-4.79 12,-7.41 13,-6.47 14,-3.63 15,-4.12 16,-3.45 17,-1.16 18,0"/>
<polyline class="c8" points="5,-.01 6,-.26 7,-.46 8,-.64 9,-.79 10,-.89 11,-.96 12,-.98 13,-.94 14,-.83 15,-.66 16,-.43 17,-.15 18,0"/>
<polyline class="c8" points="5,0 6,-1.06 7,-2.37 8,-2.95 9,-3.12 10,-4.72 11,-6.01 12,-6.4 13,-4.03 14,-4.69 15,-4.62 16,-2.04 17,-.69 18,0"/>
<polyline class="c8" points="5,-.02 6,-.4 7,-.77 8,-1.11 9,-1.39 10,-1.6 11,-1.73 12,-1.76 13,-1.69 14,-1.5 15,-1.2 16,-.81 17,-.34 18,0"/>
<polyline class="c8" points="5,0 6,-2.34 7,-4.45 8,-6.3 9,-7.82 10,-8.96 11,-9.66 12,-9.9 13,-9.5 14,-8.33 15,-6.47 16,-4.04 17,-1.17 18,0"/>
<polyline class="c8" points="5,0 6,-1.44 7,-3.16 8,-4.75 9,-6.11 10,-7.15 11,-7.79 12,-8.01 13,-7.7 14,-6.82 15,-5.42 16,-3.58 17,-1.43 18,0"/>
<polyline class="c8" points="5,0 6,-.28 7,-.62 8,-.93 9,-1.19 10,-1.4 11,-1.52 12,-1.56 13,-1.5 14,-1.32 15,-1.04 16,-.67 17,-.24 18,0"/>
<polyline class="c8" points="5,0 6,-.19 7,-.44 8,-.67 9,-.87 10,-1.02 11,-1.12 12,-1.15 13,-1.11 14,-.99 15,-.79 16,-.52 17,-.18 18,0"/>
<polyline class="c8" points="4,0 5,-.03 6,-.75 7,-1.5 8,-1.37 9,-2.89 10,-2.42 11,-3.93 12,-4 13,-2.93 14,-2.84 15,-2.36 16,-2.16 17,-.65 18,0"/>
<polyline class="c9" points="0,-4.55 1,0 5,0"/>
<polyline class="c10" points="0,-4.55 1,-4.55 2,0 5,0"/>
<polyline class="c9" points="0,-4.55 1,-4.55 2,-4.55 3,0 5,0"/>
<polyline class="c11" points="0,-4.55 1,-4.55 2,-4.55 3,-4.55 4,0 5,0"/>
<polyline class="c12" points="0,-5.61 1,-5.01 2,0"/>
<polyline class="c13" points="0,-4.47 1,-1.75 2,0 5,0"/>
<polyline class="c13" points="0,-4.56 1,0 5,0"/>
<polyline class="c13" points="0,-4.54 1,-1.51 2,0 5,0"/>
<polyline class="c13" points="0,-4.65 1,-4.54 2,0 5,0"/>
<polyline class="c13" points="0,-4.62 1,-4.65 2,0 5,0"/>
<polyline class="c13" points="0,-4.47 1,-4.62 2,-2.41 3,0 5,0"/>
<polyline class="c13" points="0,-4.54 1,-4.72 2,-4.69 3,-.86 4,0 5,0"/>
<polyline class="c13" points="0,-4.58 1,-4.58 2,-4.63 3,-2.35 4,0 5,0"/>
<polyline class="c13" points="0,-4.65 1,-4.59 2,-4.53 3,-1.17 4,0 5,0"/>
<polyline class="c13" points="0,-4.54 1,-4.43 2,-4.57 3,-4.58 4,-1.49 5,0"/>
<polyline class="c13" points="0,-4.62 1,-4.57 2,-4.5 3,-4.51 4,0 5,0"/>
<polyline class="c13" points="0,-4.41 1,-4.56 2,-4.61 3,-4.44 4,0 5,0"/>
<polyline class="c14" points="1,-5.46 4,-5.46 5,0"/>
<polyline class="c1" points="0,0 5,0"/>
<polyline class="c15" points="3,0 4,-.27 5,-.08 6,-1.14 7,-3.21 8,-6.16 9,-9.94 10,0"/>
<polyline class="c15" points="6,0 7,-.09 8,-3.3 9,-9.38 10,0"/>
<polyline class="c15" points="7,0 8,-.82 9,-8.21 10,0"/>
<polyline class="c15" points="4,0 5,-.04 6,-1 7,-2.9 8,-5.59 9,-9.01 10,0"/>
<polyline class="c15" points="5,0 6,-.13 7,-.48 8,-3.8 9,-8.94 10,0"/>
<polyline class="c15" points="6,0 7,-.12 8,-3.2 9,-9.87 10,0"/>
<polyline class="c15" points="5,0 6,-1.21 7,-3.26 8,-5.62 9,-8.22 10,0"/>
<polyline class="c15" points="6,0 7,-1.06 8,-4.06 9,-8.45 10,0"/>
<polyline class="c15" points="5,0 6,-.11 7,-.01 8,-2.73 9,-8.08 10,0"/>
<polyline class="c15" points="6,0 7,-1.63 8,-5.05 9,-9.24 10,0"/>
<polyline class="c15" points="4,0 5,-.23 6,-.26 7,-1.66 8,-4.18 9,-7.74 10,0"/>
<polyline class="c15" points="3,0 4,-.32 5,-.08 6,-1.83 7,-4.13 8,-6.72 9,-9.54 10,0"/>
<polyline class="c15" points="6,0 7,-.1 8,-3.07 9,-8.73 10,0"/>
<polyline class="c15" points="5,0 6,-.24 7,-1.72 8,-4.35 9,-8.04 10,0"/>
<polyline class="c15" points="8,0 9,-8.48 10,0"/>
<polyline class="c15" points="7,0 8,-.02 9,-7.91 10,0"/>
<polyline class="c15" points="5,0 6,-.99 7,-2.89 8,-5.39 9,-8.36 10,0"/>
<polyline class="c15" points="6,0 7,-.38 8,-2.66 9,-9.9 10,0"/>
<polyline class="c15" points="5,0 6,-.31 7,-1.82 8,-4.39 9,-7.94 10,0"/>
<polyline class="c15" points="5,0 6,-.29 7,-2.17 8,-4.85 9,-8.07 10,0"/>
<polyline class="c15" points="4,0 5,-.24 6,-2.05 7,-4.29 8,-6.78 9,-9.45 10,0"/>
<polyline class="c15" points="6,0 7,-.19 8,-2.76 9,-9.14 10,0"/>
<polyline class="c15" points="7,0 8,-2.51 9,-7.91 10,0"/>
<polyline class="c15" points="3,0 4,-.32 5,-.29 6,-2.05 7,-4.39 8,-7.1 9,-10.11 10,0"/>
<polyline class="c15" points="7,0 8,-.37 9,-9.49 10,0"/>
<polyline class="c15" points="5,0 6,-.09 7,-1.07 8,-4.43 9,-9.64 10,0"/>
<polyline class="c15" points="4,0 5,-.26 6,-.44 7,-2.3 8,-5.44 9,-9.81 10,0"/>
<polyline class="c15" points="7,0 8,-2.1 9,-8.06 10,0"/>
<polyline class="c15" points="5,0 6,-.48 7,-2.5 8,-5.27 9,-8.57 10,0"/>
<polyline class="c15" points="7,0 8,-.56 9,-9.13 10,0"/>
<polyline class="c15" points="5,0 6,-.52 7,-2.75 8,-5.98 9,-9.96 10,0"/>
<polyline class="c15" points="5,0 6,-.22 7,-.9 8,-4.44 9,-9.89 10,0"/>
<polyline class="c15" points="5,0 6,-.19 7,-.61 8,-3.82 9,-9.43 10,0"/>
<polyline class="c15" points="7,0 8,-2.69 9,-9.84 10,0"/>
<polyline class="c15" points="5,0 6,-.29 7,-1.44 8,-4.44 9,-7.93 10,0"/>
<polyline class="c15" points="3,0 4,-.01 5,-.08 6,-1.1 7,-2.87 8,-5.25 9,-8.17 10,0"/>
<polyline class="c15" points="7,0 8,-.35 9,-9.82 10,0"/>
<polyline class="c15" points="4,0 5,-.09 6,-1.39 7,-3.41 8,-5.92 9,-8.83 10,0"/>
<polyline class="c15" points="3,0 4,-.15 5,-.11 6,-1.22 7,-2.97 8,-5.17 9,-7.76 10,0"/>
<polyline class="c15" points="5,0 6,-.37 7,-.7 8,-3.65 9,-8.31 10,0"/>
<polyline class="c15" points="4,0 5,-.19 6,-1.77 7,-3.91 8,-6.43 9,-9.23 10,0"/>
<polyline class="c15" points="5,0 6,-.24 7,-1.43 8,-4.39 9,-8.24 10,0"/>
<polyline class="c15" points="6,0 7,-.21 8,-.09 9,-9.08 10,0"/>
<polyline class="c15" points="3,0 4,-.31 5,-.01 6,-.8 7,-2.66 8,-5.53 9,-9.35 10,0"/>
<polyline class="c15" points="5,0 6,-.05 7,-1.03 8,-3.99 9,-7.79 10,0"/>
<polyline class="c15" points="3,0 4,-.37 5,-.04 6,-.84 7,-2.57 8,-5.16 9,-8.56 10,0"/>
<polyline class="c15" points="3,0 4,-.33 5,0 6,-.75 7,-2.52 8,-5.16 9,-8.62 10,0"/>
<polyline class="c15" points="6,0 7,-.94 8,-4.11 9,-9.1 10,0"/>
<polyline class="c15" points="3,0 4,-.06 5,-.02 6,-.84 7,-2.67 8,-5.4 9,-9 10,0"/>
<polyline class="c15" points="8,0 9,-9.28 10,0"/>
<polyline class="c15" points="4,0 5,-.15 6,-1.8 7,-4.12 8,-6.86 9,-9.93 10,0"/>
<polyline class="c15" points="5,0 6,-.04 7,-2.01 8,-4.98 9,-8.54 10,0"/>
<polyline class="c15" points="6,0 7,-.37 8,-.85 9,-7.96 10,0"/>
<polyline class="c15" points="6,0 7,-.6 8,-3.75 9,-8.91 10,0"/>
<polyline class="c15" points="4,0 5,-.28 6,-.18 7,-1.92 8,-5.18 9,-9.8 10,0"/>
<polyline class="c15" points="5,0 6,-.32 7,-.67 8,-3.98 9,-9.08 10,0"/>
<polyline class="c15" points="5,0 6,-.17 7,-.39 8,-3.28 9,-7.84 10,0"/>
<polyline class="c15" points="6,0 7,-.04 8,-1.95 9,-7.7 10,0"/>
<polyline class="c15" points="3,0 4,-.29 5,-.11 6,-1.56 7,-3.84 8,-6.73 9,-10.09 10,0"/>
<polyline class="c15" points="3,0 4,-.22 5,-.15 6,-1.51 7,-3.73 8,-6.61 9,-10.05 10,0"/>
<polyline class="c15" points="6,0 7,-.06 8,-1.79 9,-8.97 10,0"/>
<polyline class="c15" points="3,0 4,-.15 5,-.1 6,-1.24 7,-3.26 8,-6.01 9,-9.41 10,0"/>
<polyline class="c15" points="5,0 6,-.03 7,-.04 8,-2.85 9,-8.09 10,0"/>
<polyline class="c15" points="6,0 7,-.01 8,-2.73 9,-8.41 10,0"/>
<polyline class="c15" points="6,0 7,-.3 8,-1.13 9,-7.86 10,0"/>
<polyline class="c15" points="5,0 6,-.05 7,-1.53 8,-4.71 9,-9.38 10,0"/>
<polyline class="c15" points="3,0 4,-.23 5,-.01 6,-.82 7,-2.58 8,-5.15 9,-8.44 10,0"/>
<polyline class="c15" points="5,0 6,-.06 7,-1.64 8,-4.81 9,-9.33 10,0"/>
<polyline class="c15" points="6,0 7,-.23 8,-.6 9,-8.08 10,0"/>
<polyline class="c15" points="7,0 8,-1.85 9,-9.36 10,0"/>
<polyline class="c15" points="4,0 5,-.05 6,-.31 7,-1.79 8,-4.34 9,-7.92 10,0"/>
<polyline class="c15" points="6,0 7,-.35 8,-1.85 9,-9.26 10,0"/>
<polyline class="c15" points="7,0 8,-.35 9,-9.94 10,0"/>
<polyline class="c15" points="4,0 5,-.01 6,-.94 7,-3.06 8,-5.65 9,-8.58 10,0"/>
<polyline class="c15" points="7,0 8,-.09 9,-7.77 10,0"/>
<polyline class="c15" points="4,0 5,-.22 6,-2.01 7,-4.36 8,-7.07 9,-10.04 10,0"/>
<polyline class="c15" points="7,0 8,-3.17 9,-9.44 10,0"/>
<polyline class="c15" points="4,0 5,-.04 6,-1.38 7,-3.86 8,-6.72 9,-9.85 10,0"/>
<polyline class="c15" points="3,0 4,-.21 5,-.01 6,-1.49 7,-3.84 8,-6.7 9,-9.96 10,0"/>
<polyline class="c15" points="5,0 6,0 7,-1.2 8,-4.05 9,-8.18 10,0"/>
<polyline class="c15" points="4,0 5,-.18 6,-.67 7,-2.73 8,-5.43 9,-8.58 10,0"/>
<polyline class="c15" points="6,0 7,-.23 8,-.25 9,-8.09 10,0"/>
<polyline class="c15" points="4,0 5,-.11 6,-1.56 7,-3.69 8,-6.27 9,-9.21 10,0"/>
<polyline class="c15" points="6,0 7,-.17 8,-1 9,-8.3 10,0"/>
<polyline class="c15" points="3,0 4,-.18 5,-.04 6,-.88 7,-2.65 8,-5.28 9,-8.71 10,0"/>
<polyline class="c15" points="4,0 5,-.2 6,-1.79 7,-3.98 8,-6.57 9,-9.46 10,0"/>
<polyline class="c15" points="6,0 7,-1.1 8,-5.02 9,-10.07 10,0"/>
<polyline class="c15" points="6,0 7,-.73 8,-3.6 9,-7.79 10,0"/>
<polyline class="c15" points="6,0 7,-.3 8,-1.24 9,-8.47 10,0"/>
<polyline class="c15" points="6,0 7,0 8,-2.41 9,-8.03 10,0"/>
<polyline class="c15" points="5,0 6,-.27 7,-.87 8,-4.56 9,-9.7 10,0"/>
<polyline class="c15" points="6,0 7,-.2 8,-2.38 9,-9.2 10,0"/>
<polyline class="c15" points="3,0 4,-.31 5,-.15 6,-1.76 7,-4.02 8,-6.69 9,-9.67 10,0"/>
<polyline class="c15" points="5,0 6,0 7,-1.36 8,-4.57 9,-9.31 10,0"/>
<polyline class="c15" points="7,0 8,-.03 9,-9.71 10,0"/>
<polyline class="c15" points="7,0 8,-.38 9,-8.69 10,0"/>
<polyline class="c15" points="5,0 6,-.27 7,-.04 8,-2.92 9,-8.71 10,0"/>
<polyline class="c15" points="4,0 5,-.09 6,-1.22 7,-3.08 8,-5.5 9,-8.39 10,0"/>
<polyline class="c15" points="5,0 6,-1.03 7,-3.16 8,-5.66 9,-8.42 10,0"/>
<polyline class="c15" points="6,0 7,-.26 8,-.02 9,-8.24 10,0"/>
<polyline class="c15" points="6,0 7,-.4 8,-3.37 9,-8.57 10,0"/>
<polyline class="c15" points="3,0 4,-.33 5,-.07 6,-1.01 7,-2.69 8,-4.95 9,-7.73 10,0"/>
<polyline class="c15" points="4,0 5,-.04 6,-1.5 7,-3.52 8,-5.85 9,-8.41 10,0"/>
<polyline class="c15" points="7,0 8,-.3 9,-9.22 10,0"/>
<polyline class="c15" points="4,0 5,-.12 6,-.68 7,-2.42 8,-5.05 9,-8.51 10,0"/>
<polyline class="c15" points="6,0 7,-.02 8,-2.9 9,-9.76 10,0"/>
<polyline class="c15" points="3,0 4,-.29 5,-.03 6,-.86 7,-2.55 8,-4.98 9,-8.08 10,0"/>
<polyline class="c15" points="4,0 5,-.05 6,-1.01 7,-2.84 8,-5.4 9,-8.61 10,0"/>
<polyline class="c15" points="7,0 8,-2.39 9,-9.53 10,0"/>
<polyline class="c15" points="5,0 6,-.13 7,-.53 8,-3.52 9,-8.33 10,0"/>
<polyline class="c15" points="7,0 8,-3.9 9,-9.34 10,0"/>
<polyline class="c15" points="3,0 4,-.22 5,-.16 6,-1.7 7,-3.88 8,-6.5 9,-9.45 10,0"/>
<polyline class="c15" points="4,0 5,-.05 6,-.18 7,-1.86 8,-5 9,-9.47 10,0"/>
<polyline class="c15" points="5,0 6,-.16 7,-1.58 8,-5.22 9,-10.01 10,0"/>
<polyline class="c15" points="5,0 6,-1.26 7,-3.47 8,-6.09 9,-9.02 10,0"/>
<polyline class="c15" points="6,0 7,0 8,-.6 9,-7.7 10,0"/>
<polyline class="c15" points="6,0 7,-.1 8,-1.23 9,-7.66 10,0"/>
<polyline class="c15" points="4,0 5,-.17 6,-.74 7,-2.77 8,-5.25 9,-8.04 10,0"/>
<polyline class="c15" points="4,0 5,-.05 6,-1.37 7,-3.19 8,-5.31 9,-7.64 10,0"/>
<polyline class="c15" points="7,0 8,-.36 9,-10.12 10,0"/>
<polyline class="c15" points="3,0 4,-.13 5,-.12 6,-1.95 7,-4.32 8,-7 9,-9.91 10,0"/>
<polyline class="c15" points="7,0 8,-3.27 9,-10.11 10,0"/>
<polyline class="c15" points="6,0 7,-.29 8,-.3 9,-9.6 10,0"/>
<polyline class="c15" points="3,0 4,-.22 5,-.02 6,-1 7,-2.91 8,-5.55 9,-8.83 10,0"/>
<polyline class="c15" points="8,0 9,-9.27 10,0"/>
<polyline class="c15" points="4,0 5,-.34 6,-.51 7,-2.38 8,-5.17 9,-8.73 10,0"/>
<polyline class="c15" points="8,0 9,-8.22 10,0"/>
<polyline class="c15" points="6,0 7,-.34 8,-4.06 9,-9.76 10,0"/>
<polyline class="c15" points="5,0 6,-.37 7,-2.29 8,-5.41 9,-9.58 10,0"/>
<polyline class="c15" points="5,0 6,-.15 7,-.68 8,-3.83 9,-9.08 10,0"/>
<polyline class="c15" points="4,0 5,-.01 6,-.78 7,-2.44 8,-4.82 9,-7.86 10,0"/>
<polyline class="c15" points="3,0 4,-.17 5,-.01 6,-.93 7,-2.75 8,-5.25 9,-8.36 10,0"/>
<polyline class="c15" points="4,0 5,-.29 6,-.23 7,-2.34 8,-5.26 9,-8.69 10,0"/>
<polyline class="c15" points="7,0 8,-2.65 9,-9.92 10,0"/>
<polyline class="c15" points="7,0 8,0 9,-9.99 10,0"/>
<polyline class="c15" points="5,0 6,-.26 7,-.58 8,-3.94 9,-8.65 10,0"/>
<polyline class="c15" points="6,0 7,-.14 8,-2.84 9,-8.34 10,0"/>
<polyline class="c15" points="4,0 5,-.13 6,-.29 7,-2.12 8,-5.35 9,-9.85 10,0"/>
<polyline class="c15" points="4,0 5,-.05 6,-.54 7,-2.45 8,-5.61 9,-9.97 10,0"/>
<polyline class="c15" points="3,0 4,-.25 5,-.09 6,-1.23 7,-3.16 8,-5.73 9,-8.84 10,0"/>
<polyline class="c15" points="4,0 5,-.34 6,-2.19 7,-4.44 8,-6.95 9,-9.64 10,0"/>
<polyline class="c15" points="6,0 7,-.02 8,-2.81 9,-8.18 10,0"/>
<polyline class="c15" points="4,0 5,-.06 6,-.13 7,-1.77 8,-4.94 9,-9.46 10,0"/>
<polyline class="c15" points="4,0 5,-.09 6,-1.41 7,-3.32 8,-5.59 9,-8.14 10,0"/>
<polyline class="c15" points="8,0 9,-8.86 10,0"/>
<polyline class="c15" points="3,0 4,-.11 5,0 6,-.72 7,-2.41 8,-4.91 9,-8.15 10,0"/>
<polyline class="c15" points="4,0 5,-.23 6,-.26 7,-2.27 8,-5.09 9,-8.44 10,0"/>
<polyline class="c15" points="5,0 6,-.34 7,-.76 8,-4.02 9,-8.73 10,0"/>
<polyline class="c15" points="3,0 4,-.12 5,-.01 6,-.67 7,-2.26 8,-4.7 9,-7.93 10,0"/>
<polyline class="c15" points="5,0 6,-.31 7,-2.17 8,-5.29 9,-9.48 10,0"/>
<polyline class="c15" points="4,0 5,0 6,-1.78 7,-4.15 8,-6.81 9,-9.68 10,0"/>
<polyline class="c15" points="6,0 7,-.11 8,-2.39 9,-9.87 10,0"/>
<polyline class="c15" points="5,0 6,-.85 7,-3 8,-5.94 9,-9.51 10,0"/>
<polyline class="c15" points="5,0 6,-.99 7,-2.93 8,-5.16 9,-7.6 10,0"/>
<polyline class="c15" points="5,0 6,-.28 7,-1.64 8,-5.32 9,-9.84 10,0"/>
<polyline class="c15" points="4,0 5,-.04 6,0 7,-1.32 8,-4.55 9,-9.36 10,0"/>
<polyline class="c15" points="7,0 8,-.97 9,-8.7 10,0"/>
<polyline class="c15" points="3,0 4,-.34 5,-.02 6,-.76 7,-2.42 8,-4.94 9,-8.29 10,0"/>
<polyline class="c15" points="5,0 6,-.28 7,-1.36 8,-4.95 9,-9.19 10,0"/>
<polyline class="c15" points="7,0 8,-2.5 9,-8.36 10,0"/>
<polyline class="c16" points="8,-6.07 9,-10.01 10,0"/>
<polyline class="c17" points="10,0 13,0"/>
<polyline class="c18" points="10,0 11,-.11 12,-.91 13,0"/>
<polyline class="c18" points="10,0 11,-1.59 12,-.14 13,0"/>
<polyline class="c18" points="10,0 11,-.43 12,-1.66 13,0"/>
<polyline class="c18" points="10,0 11,-1.62 12,-1.82 13,0"/>
<polyline class="c18" points="10,0 11,-.02 12,-.8 13,0"/>
<polyline class="c18" points="10,0 11,-.18 12,-.06 13,0"/>
<polyline class="c18" points="10,0 11,-.56 12,-.58 13,0"/>
<polyline class="c18" points="10,0 11,-1.3 12,-1.1 13,0"/>
<polyline class="c18" points="10,0 11,-.37 12,-1.1 13,0"/>
<polyline class="c18" points="10,0 11,-.46 12,-.55 13,0"/>
<polyline class="c18" points="10,0 11,-1.23 12,-.21 13,0"/>
<polyline class="c18" points="10,0 11,-.01 12,0 13,0"/>
<polyline class="c18" points="10,0 11,-.44 12,-.95 13,0"/>
<polyline class="c18" points="10,0 11,-1.82 12,-2.37 13,0"/>
<polyline class="c18" points="10,0 11,-.17 12,-1.54 13,0"/>
<polyline class="c18" points="10,0 11,0 12,-1.5 13,0"/>
<polyline class="c18" points="10,0 11,-1.85 12,-1.3 13,0"/>
<polyline class="c18" points="10,0 11,-1.15 12,-1.39 13,0"/>
<polyline class="c18" points="10,0 11,0 12,-.48 13,0"/>
<polyline class="c18" points="10,0 11,-.65 12,-1.07 13,0"/>
<polyline class="c18" points="10,0 11,-.85 12,-1.49 13,0"/>
<polyline class="c18" points="10,0 11,-.66 12,-.48 13,0"/>
<polyline class="c18" points="10,0 11,-1.17 12,-.06 13,0"/>
<polyline class="c18" points="10,0 11,-.05 12,-.96 13,0"/>
<polyline class="c18" points="10,0 11,-.53 12,-.5 13,0"/>
<polyline class="c19" points="9,0 10,-.09 11,-.04 12,-1.92 13,-5.73 14,-11.08 15,0"/>
<polyline class="c19" points="10,0 11,-.04 12,-1.07 13,-4.22 14,-8.61 15,0"/>
<polyline class="c19" points="11,0 12,-1.55 13,-5.02 14,-9.74 15,0"/>
<polyline class="c19" points="11,0 12,-1.52 13,-4.75 14,-9.09 15,0"/>
<polyline class="c19" points="11,0 12,-.27 13,-.45 14,-9.93 15,0"/>
<polyline class="c19" points="11,0 12,-.76 13,-4.16 14,-9.74 15,0"/>
<polyline class="c19" points="9,0 10,-.16 11,-.01 12,-1.95 13,-6.01 14,-11.72 15,0"/>
<polyline class="c19" points="12,0 13,-.09 14,-8.56 15,0"/>
<polyline class="c19" points="10,0 11,-.13 12,-.03 13,-2.85 14,-9.95 15,0"/>
<polyline class="c19" points="11,0 12,-.19 13,-.01 14,-11.66 15,0"/>
<polyline class="c19" points="9,0 10,-.06 11,-.9 12,-2.9 13,-5.32 14,-8.02 15,0"/>
<polyline class="c19" points="10,0 11,-.34 12,-3.09 13,-6.79 14,-11.08 15,0"/>
<polyline class="c19" points="12,0 13,-3.15 14,-11.64 15,0"/>
<polyline class="c19" points="10,0 11,-.44 12,-2.01 13,-4.57 14,-8.03 15,0"/>
<polyline class="c19" points="11,0 12,-.38 13,-.35 14,-11.69 15,0"/>
<polyline class="c19" points="11,0 12,-.15 13,-3.07 14,-8.54 15,0"/>
<polyline class="c19" points="11,0 12,-.22 13,-1.33 14,-10.13 15,0"/>
<polyline class="c19" points="10,0 11,-.18 12,-.75 13,-4.33 14,-9.48 15,0"/>
<polyline class="c19" points="9,0 10,-.36 11,-1.39 12,-3.43 13,-5.76 14,-8.3 15,0"/>
<polyline class="c19" points="11,0 12,-.15 13,-.29 14,-9.32 15,0"/>
<polyline class="c19" points="12,0 13,-1.27 14,-9.74 15,0"/>
<polyline class="c19" points="9,0 10,-.06 11,-.5 12,-2.78 13,-6.03 14,-10.01 15,0"/>
<polyline class="c19" points="10,0 11,-.12 12,-.34 13,-3.93 14,-10.71 15,0"/>
<polyline class="c19" points="10,0 11,-.09 12,-1.66 13,-5.16 14,-10.57 15,0"/>
<polyline class="c19" points="11,0 12,-.29 13,-2.56 14,-8.39 15,0"/>
<polyline class="c19" points="10,0 11,-1.01 12,-3.23 13,-6.28 14,-10.03 15,0"/>
<polyline class="c19" points="12,0 13,-2.46 14,-8.18 15,0"/>
<polyline class="c19" points="10,0 11,-.21 12,-.69 13,-3.24 14,-7.59 15,0"/>
<polyline class="c19" points="9,0 10,-.21 11,-1 12,-3.62 13,-7.03 14,-11.03 15,0"/>
<polyline class="c19" points="9,0 10,-.05 11,-.11 12,-1.58 13,-4.72 14,-9.51 15,0"/>
<polyline class="c19" points="10,0 11,-.34 12,-.61 13,-3.48 14,-8.52 15,0"/>
<polyline class="c19" points="9,0 10,-.14 11,-1.41 12,-3.55 13,-5.97 14,-8.58 15,0"/>
<polyline class="c19" points="10,0 11,-.01 12,-1.7 13,-4.63 14,-8.19 15,0"/>
<polyline class="c19" points="11,0 12,-.1 13,-1.35 14,-10.98 15,0"/>
<polyline class="c19" points="12,0 13,-4.44 14,-10.78 15,0"/>
<polyline class="c19" points="9,0 10,-.05 11,-.87 12,-2.65 13,-5.06 14,-8.01 15,0"/>
<polyline class="c19" points="11,0 12,-.2 13,-1.32 14,-10.7 15,0"/>
<polyline class="c19" points="9,0 10,-.12 11,-1.08 12,-3.51 13,-6.93 14,-11.22 15,0"/>
<polyline class="c19" points="11,0 12,-.06 13,-2.54 14,-7.95 15,0"/>
<polyline class="c19" points="12,0 13,-1.39 14,-7.61 15,0"/>
<polyline class="c1" points="13,0 14,-11.84 15,-7.59"/>
<polyline class="c20" points="13,-.65 14,-6.97 15,-5.11 16,-3.2 17,-1.2 18,0"/>
<polyline class="c20" points="13,-.38 14,-7.82 15,-3.13 16,-.02 17,0"/>
<polyline class="c20" points="13,-1.45 14,-10.38 15,-4.68 16,-.66 17,0"/>
<polyline class="c20" points="13,-.26 14,-8.33 15,-1.53 16,0"/>
<polyline class="c20" points="13,-.7 14,-8.44 15,-4.71 16,-1.8 17,-.07 18,0"/>
<polyline class="c20" points="13,-.5 14,-10.36 15,-7.67 16,-4.8 17,-1.55 18,0"/>
<polyline class="c20" points="13,-.41 14,-9.35 15,-3.93 16,0"/>
<polyline class="c20" points="13,-1.09 14,-7.47 15,-3.62 16,-.86 17,0"/>
<polyline class="c20" points="13,-.72 14,-7.61 15,-2.85 16,0"/>
<polyline class="c20" points="13,-.35 14,-11.48 15,-8.15 16,-4.62 17,-.62 18,0"/>
<polyline class="c20" points="13,-.61 14,-8.55 15,-3.62 16,-.49 17,0"/>
<polyline class="c20" points="13,-.14 14,-6.94 15,-3.51 16,-.99 17,0"/>
<polyline class="c20" points="13,-1.17 14,-8.62 15,-5.67 16,-2.7 17,0"/>
<polyline class="c20" points="13,-.28 14,-8.49 15,-5.81 16,-3.2 17,-.72 18,0"/>
<polyline class="c20" points="13,-.23 14,-9.25 15,-4.27 16,-.19 17,0"/>
<polyline class="c20" points="13,-1.34 14,-9.81 15,-4.17 16,0"/>
<polyline class="c20" points="13,-1.01 14,-9.53 15,-6.71 16,-3.82 17,-.79 18,0"/>
<polyline class="c20" points="13,-.41 14,-9 15,-4.43 16,-.96 17,0"/>
<polyline class="c20" points="13,-.02 14,-11.21 15,-6.95 16,-2.73 17,0"/>
<polyline class="c20" points="13,-.49 14,-8.07 15,-5.39 16,-2.45 17,0"/>
<polyline class="c20" points="13,-1.37 14,-8.32 15,-4.29 16,-.8 17,0"/>
<polyline class="c20" points="13,-.05 14,-8.04 15,-4.62 16,-.73 17,0"/>
<polyline class="c20" points="13,-.57 14,-10.53 15,-7.35 16,-4.15 17,-.9 18,0"/>
<polyline class="c20" points="13,-.95 14,-8.54 15,-6.28 16,-3.93 17,-1.44 18,0"/>
<polyline class="c20" points="13,-1.11 14,-8.88 15,-5.49 16,-2.66 17,-.59 18,0"/>
<polyline class="c20" points="13,-1.07 14,-7.93 15,-5.28 16,-2.46 17,0"/>
<polyline class="c20" points="13,-.34 14,-11.43 15,-7.58 16,-3.6 17,0"/>
<polyline class="c20" points="13,-1.36 14,-8.67 15,-5.45 16,-2.67 17,-.55 18,0"/>
<polyline class="c20" points="13,-1.46 14,-6.86 15,-3.31 16,-.72 17,0"/>
<polyline class="c20" points="13,-.52 14,-8.3 15,-5.09 16,-2.14 17,0"/>
<polyline class="c20" points="13,-.87 14,-9.47 15,-2.63 16,0"/>
<polyline class="c20" points="13,-.2 14,-9.26 15,-6.63 16,-3.82 17,-.62 18,0"/>
<polyline class="c20" points="13,-.5 14,-10.57 15,-2.92 16,0"/>
<polyline class="c20" points="13,-.12 14,-9.62 15,-6.36 16,-3.37 17,-.8 18,0"/>
<polyline class="c20" points="13,-.51 14,-7.41 15,-4.48 16,-1.97 17,-.15 18,0"/>
<polyline class="c20" points="13,-.15 14,-10.51 15,-4.44 16,-.39 17,0"/>
<polyline class="c20" points="13,-.4 14,-9.57 15,-5.57 16,-2.09 17,0"/>
<polyline class="c20" points="13,-.09 14,-11.38 15,-6.84 16,-2.85 17,0"/>
<polyline class="c20" points="13,-.61 14,-10.52 15,-7.65 16,-4.71 17,-1.61 18,0"/>
<polyline class="c20" points="13,-.71 14,-9.96 15,-6.45 16,-3.07 17,0"/>
<polyline class="c20" points="13,-.65 14,-10.26 15,-6.44 16,-3.13 17,-.58 18,0"/>
<polyline class="c20" points="13,-.27 14,-7.98 15,-1.64 16,0"/>
<polyline class="c20" points="13,-.87 14,-11.67 15,-6.39 16,-2 17,0"/>
<polyline class="c20" points="13,-1.04 14,-9.01 15,-5.53 16,-2.19 17,0"/>
<polyline class="c20" points="13,-.61 14,-7.37 15,-4.34 16,-1.13 17,0"/>
<polyline class="c20" points="13,-1.29 14,-7.06 15,-4.19 16,-1.75 17,-.05 18,0"/>
<polyline class="c20" points="13,-1.14 14,-10.81 15,-2.77 16,0"/>
<polyline class="c20" points="13,-.32 14,-8.62 15,-1.49 16,0"/>
<polyline class="c20" points="13,-.79 14,-9.97 15,-5.55 16,-1.6 17,0"/>
<polyline class="c20" points="13,-.46 14,-7.36 15,-1.54 16,0"/>
<polyline class="c20" points="13,-.39 14,-10.07 15,-4.74 16,-.86 17,0"/>
<polyline class="c20" points="13,-1.23 14,-11.67 15,-8.2 16,-4.58 17,-.59 18,0"/>
<polyline class="c20" points="13,-1.47 14,-6.87 15,-2.55 16,0"/>
<polyline class="c20" points="13,-.6 14,-8.91 15,-6.39 16,-3.79 17,-1.02 18,0"/>
<polyline class="c20" points="13,-.24 14,-7.3 15,-4.57 16,-2.08 17,-.04 18,0"/>
<polyline class="c20" points="13,-.39 14,-9.73 15,-5.22 16,-1.69 17,0"/>
<polyline class="c20" points="13,-.62 14,-6.95 15,-3.38 16,-.65 17,0"/>
<polyline class="c20" points="13,-.26 14,-8.47 15,-2.28 16,0"/>
<polyline class="c20" points="13,-.17 14,-7.82 15,-3.58 16,-.7 17,0"/>
<polyline class="c20" points="13,-.54 14,-7.43 15,-.88 16,0"/>
<polyline class="c20" points="13,-1.26 14,-7.39 15,-5.05 16,-2.72 17,-.42 18,0"/>
<polyline class="c20" points="13,-1.21 14,-7.44 15,-3.35 16,-.43 17,0"/>
<polyline class="c20" points="13,-.1 14,-8.31 15,-4.49 16,-1.55 17,0"/>
<polyline class="c20" points="13,-.69 14,-10 15,-6.19 16,-2.71 17,0"/>
<polyline class="c20" points="13,-1.46 14,-10.95 15,-6.08 16,-2.07 17,0"/>
<polyline class="c20" points="13,-.15 14,-10.91 15,-6.2 16,-2.54 17,-.25 18,0"/>
<polyline class="c20" points="13,-.44 14,-9.57 15,-5.14 16,-1.79 17,-.01 18,0"/>
<polyline class="c20" points="13,-1.19 14,-9.81 15,-6.18 16,-2.73 17,0"/>
<polyline class="c20" points="13,-.14 14,-10.53 15,-6.4 16,-2.87 17,-.28 18,0"/>
<polyline class="c20" points="13,-1.37 14,-10.29 15,-4.79 16,-.78 17,0"/>
<polyline class="c20" points="13,-.73 14,-8.79 15,-1.03 16,0"/>
<polyline class="c20" points="13,-.24 14,-7.1 15,-2.01 16,0"/>
<polyline class="c20" points="13,-.65 14,-8.96 15,-4.81 16,-1.01 17,0"/>
<polyline class="c20" points="13,-.77 14,-10.53 15,-5.22 16,-1.34 17,0"/>
<polyline class="c20" points="13,-.03 14,-7.01 15,-5.2 16,-3.29 17,-1.2 18,0"/>
<polyline class="c20" points="13,-.45 14,-9.4 15,-2.86 16,0"/>
<polyline class="c20" points="13,-.29 14,-7.79 15,-3.14 16,0"/>
<polyline class="c20" points="13,-.06 14,-7.93 15,-3.13 16,0"/>
<polyline class="c20" points="13,-1.14 14,-6.85 15,-2.25 16,0"/>
<polyline class="c20" points="13,-.39 14,-11.03 15,-6.83 16,-3.34 17,-.78 18,0"/>
<polyline class="c20" points="13,-.65 14,-8.37 15,-5.13 16,-2.35 17,-.29 18,0"/>
<polyline class="c20" points="13,-1.38 14,-11.04 15,-6.95 16,-2.66 17,0"/>
<polyline class="c20" points="13,-1.45 14,-7.4 15,-4.25 16,-1.46 17,0"/>
<polyline class="c20" points="13,-1.2 14,-6.94 15,-2.98 16,0"/>
<polyline class="c20" points="13,-.51 14,-8.9 15,-3.62 16,0"/>
<polyline class="c20" points="13,-.43 14,-9.37 15,-3.12 16,0"/>
<polyline class="c20" points="13,-1.01 14,-9.5 15,-6.77 16,-3.91 17,-.74 18,0"/>
<polyline class="c20" points="13,-.05 14,-9.95 15,-4.04 16,-.2 17,0"/>
<polyline class="c20" points="13,-.32 14,-8.92 15,-5.04 16,-1.07 17,0"/>
<polyline class="c20" points="13,-.41 14,-7.58 15,-4.19 16,-.01 17,0"/>
<polyline class="c20" points="13,-.56 14,-10.12 15,-3.98 16,0"/>
<polyline class="c20" points="13,-.51 14,-8.11 15,-4.78 16,-1.77 17,0"/>
<polyline class="c20" points="13,-1.06 14,-8.53 15,-1.61 16,0"/>
<polyline class="c20" points="13,-1.46 14,-11.32 15,-3.48 16,0"/>
<polyline class="c20" points="13,-.03 14,-9.72 15,-3.14 16,0"/>
<polyline class="c20" points="13,-.14 14,-10.82 15,-4.55 16,-.43 17,0"/>
<polyline class="c20" points="13,-.25 14,-7.76 15,-3.14 16,0"/>
<polyline class="c20" points="13,-1.16 14,-10 15,-7.02 16,-3.97 17,-.75 18,0"/>
<polyline class="c20" points="13,-.76 14,-10.93 15,-4.16 16,0"/>
<polyline class="c20" points="13,-1.46 14,-8.37 15,-2.22 16,0"/>
<polyline class="c20" points="13,-.13 14,-11 15,-6.12 16,-2.2 17,0"/>
<polyline class="c20" points="13,-.18 14,-8.46 15,-4.96 16,-1.68 17,0"/>
<polyline class="c20" points="13,-.04 14,-8.34 15,-5.68 16,-2.94 17,-.01 18,0"/>
<polyline class="c20" points="13,-.39 14,-11.2 15,-7.83 16,-4.24 17,-.04 18,0"/>
<polyline class="c20" points="13,-1.13 14,-10.38 15,-5.64 16,-1.52 17,0"/>
<polyline class="c20" points="13,-1.15 14,-8.99 15,-5.33 16,-2.27 17,-.13 18,0"/>
<polyline class="c20" points="13,-.38 14,-9.47 15,-3.3 16,0"/>
<polyline class="c20" points="13,-1.27 14,-11.41 15,-8.3 16,-5.06 17,-1.57 18,0"/>
<polyline class="c20" points="13,-.55 14,-8.75 15,-5.63 16,-2.67 17,-.05 18,0"/>
<polyline class="c20" points="13,-.95 14,-8.95 15,-5.83 16,-2.98 17,-.57 18,0"/>
<polyline class="c20" points="13,-.6 14,-6.91 15,-1.83 16,0"/>
<polyline class="c20" points="13,-.39 14,-11.04 15,-7.89 16,-4.54 17,-.68 18,0"/>
<polyline class="c20" points="13,-.68 14,-11.31 15,-5.84 16,-.44 17,0"/>
<polyline class="c20" points="13,-1.48 14,-11.59 15,-7.11 16,-2.84 17,0"/>
<polyline class="c20" points="13,-1.11 14,-10.92 15,-6.92 16,-3.24 17,-.18 18,0"/>
<polyline class="c20" points="13,-.33 14,-10.06 15,-2.67 16,0"/>
<polyline class="c20" points="13,-.78 14,-7.01 15,-4.72 16,-2.55 17,-.57 18,0"/>
<polyline class="c20" points="13,-.88 14,-10.03 15,-7.39 16,-4.67 17,-1.79 18,0"/>
<polyline class="c20" points="13,-.43 14,-10.33 15,-6.39 16,-2.9 17,-.18 18,0"/>
<polyline class="c20" points="13,-.8 14,-11.23 15,-6.81 16,-1.66 17,0"/>
<polyline class="c21" points="17,0 18,-5.01 19,-4.55 20,-4.55 21,-4.55 22,-4.55 23,-4.55"/>
<polyline class="c3" points="17,0 18,-5.61 19,-5.61 20,-5.61 21,-5.61 22,-5.61 23,-5.61"/>
<polyline class="c3" points="17,0 18,-5.16 19,-4.7 20,-4.55 21,-4.55 22,-4.55 23,-4.55"/>
<polyline class="c22" points="16,-.3 17,-.76 18,-4.55 19,-4.55 20,-4.55 21,-4.55 22,-4.55 23,-4.55"/>
<polyline class="c23" points="17,0 18,-5.46 19,-4.55 20,-4.55 21,-4.55 22,0"/>
<polyline class="c24" points="17,0 23,0"/>
<polyline class="c12" points="17,0 18,-4.55 19,0"/>
<polyline class="c12" points="17,0 18,-4.55 19,-4.55 20,0"/>
<polyline class="c12" points="17,0 18,-4.55 19,-4.55 20,-4.55 21,0"/>
<polyline class="c12" points="17,0 18,-4.55 19,-4.55 20,-4.55 21,-4.55 22,0"/>
<polyline class="c12" points="17,0 18,-4.55 19,-4.55 20,-4.55 21,-4.55 22,-4.55 23,0"/>
</g>
<g transform="translate(402.22 106.44) scale(6.015)">
<polyline class="c25" points="5,-.03 6,-.84 7,-2.15 8,-3.63 9,-5.03 10,-6.11 11,-6.74 12,-6.81 13,-6.27 14,-5.19 15,-3.75 16,-2.2 17,-.83 18,-.02"/>
<polyline class="c25" points="4,0 5,-.08 6,-1.48 7,-3.83 8,-5.66 9,-5.2 10,-11.27 11,-6.47 12,-9.5 13,-11.14 14,-5.64 15,-4.76 16,-4.83 17,-2.39 18,-.71 19,0"/>
<polyline class="c25" points="5,0 6,-.78 7,-1.64 8,-1.92 9,-3.82 10,-4.69 11,-5.77 12,-3.73 13,-5.17 14,-4.35 15,-3.5 16,-1.61 17,-.93 18,-.02"/>
<polyline class="c25" points="5,0 6,-1.14 7,-3.05 8,-5.14 9,-7.09 10,-8.68 11,-9.73 12,-10.11 13,-9.66 14,-8.3 15,-6.24 16,-3.85 17,-1.56 18,-.04 19,0"/>
<polyline class="c25" points="5,0 6,-.74 7,-2.2 8,-3.83 9,-5.36 10,-6.61 11,-7.41 12,-7.67 13,-7.32 14,-6.36 15,-4.91 16,-3.2 17,-1.49 18,-.18 19,0"/>
<polyline class="c25" points="5,0 6,-.59 7,-1.32 8,-2.8 9,-3.93 10,-5.23 11,-6.98 12,-6.27 13,-5.09 14,-6.42 15,-4.39 16,-1.6 17,-.87 18,0"/>
<polyline class="c25" points="4,0 5,-.11 6,-1.6 7,-3.68 8,-4.6 9,-7.79 10,-8.34 11,-8.29 12,-5.09 13,-7.24 14,-6.14 15,-3.49 16,-2.98 17,-1.38 18,-.27 19,0"/>
<polyline class="c25" points="4,0 5,-.08 6,-1.4 7,-3.04 8,-4.55 9,-3.97 10,-6.62 11,-5.61 12,-8.68 13,-4.15 14,-4.01 15,-4.13 16,-3.1 17,-.96 18,0"/>
<polyline class="c25" points="5,0 6,-.78 7,-2.17 8,-4.23 9,-6.07 10,-6.25 11,-4.77 12,-4.98 13,-6.01 14,-3.91 15,-4.98 16,-3.43 17,-.93 18,-.14 19,0"/>
<polyline class="c25" points="5,0 6,-.26 7,-.88 8,-2.24 9,-2.62 10,-3.59 11,-5.38 12,-5.81 13,-3.59 14,-3.67 15,-1.94 16,-1.11 17,-.67 18,-.01"/>
<polyline class="c25" points="5,0 6,-1.24 7,-3.32 8,-5.6 9,-7.74 10,-9.48 11,-10.64 12,-11.08 13,-10.7 14,-9.45 15,-7.47 16,-5.01 17,-2.37 18,-.11 19,0"/>
<polyline class="c25" points="5,0 6,-.58 7,-1.87 8,-3.41 9,-4.91 10,-6.17 11,-7.01 12,-7.31 13,-7.03 14,-6.18 15,-4.87 16,-3.24 17,-1.52 18,-.07 19,0"/>
<polyline class="c25" points="4,0 5,-.04 6,-.63 7,-1.44 8,-2.3 9,-3.08 10,-3.71 11,-4.1 12,-4.22 13,-4.04 14,-3.55 15,-2.81 16,-1.9 17,-.94 18,-.1 19,0"/>
<polyline class="c25" points="4,0 5,-.07 6,-1.1 7,-2.55 8,-4.12 9,-5.57 10,-6.74 11,-7.51 12,-7.78 13,-7.41 14,-6.35 15,-4.78 16,-2.96 17,-1.26 18,-.1 19,0"/>
<polyline class="c25" points="4,0 5,-.09 6,-1.25 7,-3.36 8,-3.22 9,-4.48 10,-8.12 11,-5.4 12,-5.94 13,-5.97 14,-8.22 15,-5.81 16,-2.99 17,-1.75 18,-.14 19,0"/>
<polyline class="c25" points="5,0 6,-1.1 7,-2.85 8,-4.72 9,-6.45 10,-7.83 11,-8.72 12,-9.01 13,-8.56 14,-7.35 15,-5.57 16,-3.53 17,-1.61 18,-.24 19,0"/>
<polyline class="c25" points="5,0 6,-.72 7,-1.86 8,-3.07 9,-4.19 10,-5.07 11,-5.62 12,-5.79 13,-5.52 14,-4.83 15,-3.81 16,-2.58 17,-1.32 18,-.26 19,0"/>
<polyline class="c25" points="5,0 6,-.67 7,-1.46 8,-2.32 9,-3.35 10,-4.71 11,-5.79 12,-4.14 13,-6.85 14,-4.34 15,-3.47 16,-2.58 17,-.86 18,-.01"/>
<polyline class="c25" points="5,0 6,-1.1 7,-3.25 8,-5.75 9,-8.15 10,-10.05 11,-11.16 12,-11.31 13,-10.62 14,-9.19 15,-7.17 16,-4.79 17,-2.33 18,-.25 19,0"/>
<polyline class="c25" points="5,0 6,-.46 7,-1.41 8,-2.55 9,-3.66 10,-4.57 11,-5.13 12,-5.25 13,-4.98 14,-4.36 15,-3.45 16,-2.36 17,-1.21 18,-.2 19,0"/>
<polyline class="c25" points="4,0 5,-.04 6,-.55 7,-1.24 8,-1.97 9,-2.62 10,-3.13 11,-3.43 12,-3.48 13,-3.31 14,-2.92 15,-2.35 16,-1.67 17,-.93 18,-.26 19,0"/>
<polyline class="c25" points="5,0 6,-.22 7,-.61 8,-.95 9,-2.32 10,-1.79 11,-2.94 12,-2.88 13,-3.61 14,-2.44 15,-1.77 16,-1.04 17,-.5 18,-.03"/>
<polyline class="c25" points="5,0 6,-.79 7,-2.2 8,-3.75 9,-5.17 10,-6.26 11,-6.86 12,-6.91 13,-6.48 14,-5.62 15,-4.42 16,-3 17,-1.52 18,-.22 19,0"/>
<polyline class="c25" points="5,0 6,-.58 7,-1.77 8,-3.12 9,-4.39 10,-5.36 11,-5.91 12,-5.95 13,-5.54 14,-4.73 15,-3.63 16,-2.36 17,-1.08 18,-.08 19,0"/>
<polyline class="c25" points="5,-.01 6,-1.44 7,-3.74 8,-6.3 9,-8.72 10,-10.67 11,-11.9 12,-12.25 13,-11.76 14,-10.49 15,-8.58 16,-6.2 17,-3.59 18,-1.1 19,0"/>
<polyline class="c25" points="4,0 5,-.06 6,-.97 7,-2.98 8,-4.67 9,-7.04 10,-10.8 11,-9.89 12,-6.01 13,-7.48 14,-9.25 15,-3.61 16,-2.91 17,-1.41 18,-.3 19,0"/>
<polyline class="c25" points="5,0 6,-.71 7,-2.02 8,-3.51 9,-4.94 10,-6.09 11,-6.8 12,-6.98 13,-6.64 14,-5.85 15,-4.69 16,-3.28 17,-1.79 18,-.46 19,0"/>
<polyline class="c25" points="5,0 6,-.41 7,-.89 8,-2.24 9,-1.61 10,-3.45 11,-2.44 12,-2.37 13,-2.57 14,-2.16 15,-1.62 16,-.88 17,-.54 18,-.03"/>
<polyline class="c25" points="5,0 6,-.78 7,-3.11 8,-5.62 9,-8.46 10,-6.11 11,-9.33 12,-10.93 13,-10.1 14,-6.24 15,-4.87 16,-3.07 17,-2.42 18,-.52 19,0"/>
<polyline class="c25" points="5,0 6,-1.37 7,-3.73 8,-6.37 9,-8.82 10,-10.69 11,-11.71 12,-11.74 13,-10.82 14,-9.08 15,-6.76 16,-4.2 17,-1.8 18,-.13 19,0"/>
<polyline class="c25" points="5,0 6,-.8 7,-2.69 8,-4.97 9,-7.2 10,-8.97 11,-10.01 12,-10.14 13,-9.48 14,-8.14 15,-6.29 16,-4.17 17,-2.1 18,-.46 19,0"/>
<polyline class="c25" points="5,0 6,-1.15 7,-2.85 8,-5.71 9,-8.13 10,-5.58 11,-8.03 12,-7 13,-10.91 14,-6.59 15,-7.37 16,-4.89 17,-2.34 18,-.33 19,0"/>
<polyline class="c25" points="5,-.03 6,-.69 7,-1.81 8,-1.86 9,-4.83 10,-4.55 11,-3.45 12,-5.36 13,-4.02 14,-5.46 15,-3.16 16,-2.62 17,-1.02 18,-.21 19,0"/>
<polyline class="c25" points="5,-.02 6,-1.53 7,-3.65 8,-5.86 9,-7.89 10,-9.5 11,-10.52 12,-10.85 13,-10.29 14,-8.82 15,-6.65 16,-4.11 17,-1.66 18,0"/>
<polyline class="c25" points="5,0 6,-.9 7,-2.89 8,-3.97 9,-8.11 10,-6.25 11,-11.12 12,-9.89 13,-8.52 14,-9.14 15,-4.44 16,-5.69 17,-2.63 18,-.53 19,0"/>
<polyline class="c25" points="5,-.02 6,-.76 7,-1.98 8,-2.31 9,-2.98 10,-5.81 11,-5.02 12,-7.13 13,-4.18 14,-5.04 15,-4.16 16,-1.38 17,-.77 18,-.1 19,0"/>
<polyline class="c25" points="5,0 6,-1.47 7,-3.55 8,-5.63 9,-7.45 10,-8.82 11,-9.61 12,-9.75 13,-9.21 14,-8.02 15,-6.34 16,-4.35 17,-2.32 18,-.58 19,0"/>
<polyline class="c25" points="4,0 5,-.04 6,-1.2 7,-2.92 8,-4.79 9,-6.52 10,-7.89 11,-8.73 12,-8.95 13,-8.41 14,-7.16 15,-5.38 16,-3.38 17,-1.51 18,-.2 19,0"/>
<polyline class="c25" points="5,0 6,-.54 7,-1.44 8,-2.41 9,-3.31 10,-4.03 11,-4.47 12,-4.6 13,-4.32 14,-3.65 15,-2.7 16,-1.64 17,-.67 18,-.04 19,0"/>
<polyline class="c25" points="4,0 5,-.05 6,-1.52 7,-3.67 8,-5.97 9,-8.06 10,-9.65 11,-10.53 12,-10.59 13,-9.83 14,-8.33 15,-6.28 16,-3.95 17,-1.69 18,-.04 19,0"/>
<polyline class="c25" points="4,0 5,-.04 6,-1.04 7,-2.63 8,-4.41 9,-6.09 10,-7.43 11,-8.26 12,-8.46 13,-8.06 14,-7.11 15,-5.71 16,-4.01 17,-2.22 18,-.61 19,0"/>
<polyline class="c25" points="5,0 6,-.81 7,-2.31 8,-2.86 9,-4.69 10,-5.25 11,-10.57 12,-9.4 13,-9.33 14,-5.36 15,-6.76 16,-3.8 17,-1.1 18,-.02"/>
<polyline class="c25" points="5,0 6,-.95 7,-2.51 8,-4.17 9,-5.71 10,-6.95 11,-7.75 12,-8.04 13,-7.73 14,-6.83 15,-5.43 16,-3.7 17,-1.87 18,-.29 19,0"/>
<polyline class="c25" points="5,-.01 6,-.6 7,-1.12 8,-2.44 9,-4.58 10,-4.07 11,-6.25 12,-7.68 13,-5.47 14,-4.63 15,-2.45 16,-3 17,-1.04 18,-.02"/>
<polyline class="c25" points="5,0 6,-1.19 7,-3.58 8,-6.26 9,-8.8 10,-10.87 11,-12.2 12,-12.64 13,-12.06 14,-10.48 15,-8.11 16,-5.3 17,-2.51 18,-.35 19,0"/>
<polyline class="c25" points="5,0 6,-.88 7,-3.33 8,-6.02 9,-8.6 10,-8.91 11,-8.56 12,-10.17 13,-6.95 14,-7.85 15,-5.05 16,-2.88 17,-1.59 18,-.13 19,0"/>
<polyline class="c25" points="5,-.01 6,-1.48 7,-3.62 8,-5.89 9,-7.98 10,-9.65 11,-10.71 12,-11.05 13,-10.54 14,-9.16 15,-7.1 16,-4.63 17,-2.13 18,-.16 19,0"/>
<polyline class="c25" points="5,0 6,-.32 7,-.57 8,-1.06 9,-1.16 10,-2.09 11,-2.37 12,-2.72 13,-2.41 14,-1.27 15,-.89 16,-1.06 17,-.46 18,-.06 19,0"/>
<polyline class="c25" points="5,-.01 6,-.65 7,-1.6 8,-2.63 9,-3.59 10,-4.36 11,-4.85 12,-5 13,-4.74 14,-4.05 15,-3.05 16,-1.9 17,-.81 18,-.06 19,0"/>
<polyline class="c25" points="5,-.02 6,-1.04 7,-2.7 8,-4.59 9,-6.43 10,-7.95 11,-8.97 12,-9.36 13,-9.06 14,-8.07 15,-6.5 16,-4.52 17,-2.38 18,-.44 19,0"/>
<polyline class="c25" points="5,0 6,-.47 7,-1.3 8,-2.12 9,-4.96 10,-6.83 11,-7.42 12,-7.52 13,-6.34 14,-4.92 15,-3.94 16,-1.68 17,-.93 18,-.26 19,0"/>
<polyline class="c25" points="5,0 6,-.79 7,-2.33 8,-4.09 9,-5.75 10,-7.06 11,-7.82 12,-7.92 13,-7.42 14,-6.38 15,-4.91 16,-3.19 17,-1.42 18,-.02"/>
<polyline class="c25" points="4,0 5,-.04 6,-.54 7,-.92 8,-1.47 9,-2.5 10,-2.34 11,-2.18 12,-2.53 13,-2.43 14,-2.49 15,-2.35 16,-1.3 17,-.91 18,-.08 19,0"/>
<polyline class="c25" points="5,0 6,-.95 7,-3.25 8,-4.94 9,-5.09 10,-6.38 11,-6.81 12,-8.12 13,-9.99 14,-8.77 15,-4.01 16,-2.36 17,-1.47 18,-.19 19,0"/>
<polyline class="c25" points="5,0 6,-1.31 7,-3.21 8,-4.9 9,-8.24 10,-6.75 11,-8.96 12,-6.9 13,-5.94 14,-8.99 15,-5.34 16,-3.27 17,-2.29 18,-.42 19,0"/>
<polyline class="c25" points="4,0 5,-.07 6,-1.48 7,-3.65 8,-6.06 9,-8.34 10,-10.15 11,-11.26 12,-11.53 13,-10.84 14,-9.27 15,-7.04 16,-4.45 17,-1.94 18,-.11 19,0"/>
<polyline class="c25" points="5,0 6,-.8 7,-2.09 8,-3.53 9,-4.89 10,-6.01 11,-6.75 12,-7.03 13,-6.74 14,-5.86 15,-4.52 16,-2.92 17,-1.33 18,-.13 19,0"/>
<polyline class="c25" points="5,-.01 6,-.75 7,-1.77 8,-2.84 9,-3.83 10,-4.63 11,-5.15 12,-5.35 13,-5.15 14,-4.5 15,-3.52 16,-2.34 17,-1.17 18,-.25 19,0"/>
<polyline class="c25" points="4,0 5,-.05 6,-.94 7,-2.32 8,-3.89 9,-5.4 10,-6.65 11,-7.49 12,-7.82 13,-7.56 14,-6.68 15,-5.29 16,-3.55 17,-1.71 18,-.13 19,0"/>
<polyline class="c25" points="5,-.03 6,-.83 7,-1.96 8,-2.68 9,-2.83 10,-4.58 11,-3.92 12,-5.94 13,-4.71 14,-4.05 15,-4.06 16,-1.62 17,-1.6 18,-.28 19,0"/>
<polyline class="c25" points="5,0 6,-.8 7,-2.6 8,-4.46 9,-6.61 10,-6.44 11,-7.01 12,-8.74 13,-8.36 14,-6.7 15,-4.31 16,-2.57 17,-1.52 18,-.41 19,0"/>
<polyline class="c25" points="4,0 5,-.04 6,-.73 7,-2.18 8,-2.76 9,-3.25 10,-5.85 11,-4.8 12,-4.62 13,-5.84 14,-5.06 15,-3.23 16,-1.79 17,-.54 18,-.03"/>
<polyline class="c25" points="4,0 5,-.17 6,-2.17 7,-4.64 8,-7.1 9,-9.24 10,-10.83 11,-11.69 12,-11.75 13,-10.95 14,-9.39 15,-7.24 16,-4.75 17,-2.24 18,-.21 19,0"/>
<polyline class="c25" points="5,0 6,-1.09 7,-2.06 8,-3.14 9,-5.7 10,-7.95 11,-6.4 12,-9.43 13,-8.32 14,-5.08 15,-4.09 16,-2.53 17,-1.66 18,-.45 19,0"/>
<polyline class="c25" points="5,-.01 6,-1.01 7,-2.48 8,-4.06 9,-5.55 10,-6.75 11,-7.55 12,-7.86 13,-7.61 14,-6.82 15,-5.56 16,-3.95 17,-2.19 18,-.53 19,0"/>
<polyline class="c25" points="5,0 6,-.36 7,-.98 8,-1.66 9,-2.31 10,-2.82 11,-3.14 12,-3.22 13,-3.05 14,-2.63 15,-2.02 16,-1.33 17,-.65 18,-.13 19,0"/>
<polyline class="c25" points="5,0 6,-.43 7,-1.18 8,-3.04 9,-2.23 10,-2.98 11,-4.54 12,-4.6 13,-3.16 14,-4.32 15,-3.5 16,-1.38 17,-.49 18,-.04 19,0"/>
<polyline class="c25" points="5,0 6,-1.24 7,-3.66 8,-3.53 9,-5.13 10,-8.82 11,-7.36 12,-11.16 13,-8.48 14,-6.01 15,-4.2 16,-2.93 17,-2.01 18,-.3 19,0"/>
<polyline class="c25" points="5,0 6,-.54 7,-2.11 8,-4.08 9,-6.65 10,-4.32 11,-5.5 12,-8.42 13,-8.72 14,-7.77 15,-5.68 16,-3.51 17,-1.49 18,-.43 19,0"/>
<polyline class="c25" points="5,0 6,-.71 7,-2.03 8,-4.27 9,-5.2 10,-6.66 11,-7.39 12,-9.85 13,-6.46 14,-7.78 15,-3.98 16,-4.64 17,-1.43 18,-.21 19,0"/>
<polyline class="c25" points="5,0 6,-1.21 7,-3.43 8,-5.99 9,-8.46 10,-10.51 11,-11.85 12,-12.32 13,-11.87 14,-10.55 15,-8.5 16,-5.93 17,-3.16 18,-.63 19,0"/>
<polyline class="c25" points="4,0 5,-.13 6,-2.07 7,-4.56 8,-7.11 9,-9.38 10,-11.13 11,-12.16 12,-12.38 13,-11.62 14,-9.94 15,-7.58 16,-4.91 17,-2.37 18,-.48 19,0"/>
<polyline class="c25" points="5,-.01 6,-.69 7,-2.63 8,-3.08 9,-4.02 10,-8.33 11,-9.19 12,-9.95 13,-5.5 14,-7.62 15,-4.94 16,-3.91 17,-1.21 18,-.52 19,0"/>
<polyline class="c25" points="4,0 5,-.04 6,-1.76 7,-3.39 8,-3.65 9,-5.33 10,-5.62 11,-11.13 12,-10.85 13,-6.08 14,-5.53 15,-5.97 16,-4.68 17,-1.8 18,-.03 19,0"/>
<polyline class="c25" points="5,0 6,-.85 7,-1.62 8,-2.98 9,-6.35 10,-7.61 11,-6.57 12,-8.61 13,-6.37 14,-5.23 15,-6.98 16,-2.38 17,-1.85 18,-.34 19,0"/>
<polyline class="c25" points="5,-.03 6,-.63 7,-1.45 8,-2.49 9,-2.92 10,-3.72 11,-5.8 12,-3.76 13,-3.84 14,-4.68 15,-3.15 16,-2 17,-1.07 18,-.38 19,0"/>
<polyline class="c25" points="5,0 6,-1.01 7,-3.07 8,-4.83 9,-6.9 10,-7.32 11,-4.93 12,-8.41 13,-6.14 14,-6.58 15,-4.25 16,-4.2 17,-2.08 18,-.57 19,0"/>
<polyline class="c25" points="5,0 6,-.65 7,-2.66 8,-4.77 9,-4.83 10,-5.44 11,-10.54 12,-6.99 13,-6.06 14,-6.7 15,-4.49 16,-3.03 17,-1.37 18,-.34 19,0"/>
<polyline class="c25" points="5,-.02 6,-.68 7,-1.54 8,-1.94 9,-4.84 10,-4.51 11,-5.13 12,-5.8 13,-5.27 14,-4.52 15,-3.07 16,-2.17 17,-.59 18,-.03"/>
<polyline class="c25" points="5,0 6,-1.05 7,-3.33 8,-6.02 9,-8.6 10,-10.64 11,-11.84 12,-12.01 13,-11.24 14,-9.68 15,-7.51 16,-5.02 17,-2.57 18,-.6 19,0"/>
<polyline class="c25" points="5,-.02 6,-.62 7,-1.49 8,-3.06 9,-4.13 10,-3.48 11,-3.8 12,-5.25 13,-5.01 14,-4.55 15,-2.32 16,-1.37 17,-.75 18,-.06 19,0"/>
<polyline class="c25" points="5,0 6,-1.04 7,-1.86 8,-3.82 9,-5.92 10,-7.53 11,-8.53 12,-6.56 13,-4.85 14,-4.4 15,-5.53 16,-1.93 17,-1.17 18,-.18 19,0"/>
<polyline class="c25" points="4,0 5,-.04 6,-1.31 7,-3.35 8,-5.64 9,-7.8 10,-9.51 11,-10.54 12,-10.75 13,-10.08 14,-8.63 15,-6.58 16,-4.22 17,-1.91 18,-.18 19,0"/>
<polyline class="c25" points="5,0 6,-.47 7,-1.22 8,-3.53 9,-3.82 10,-6.02 11,-5.73 12,-5.63 13,-5.13 14,-5.14 15,-4.54 16,-1.87 17,-.83 18,-.2 19,0"/>
<polyline class="c25" points="5,0 6,-.67 7,-1.54 8,-2.43 9,-3.21 10,-3.83 11,-4.21 12,-4.33 13,-4.14 14,-3.65 15,-2.92 16,-2.01 17,-1.06 18,-.23 19,0"/>
<polyline class="c25" points="5,0 6,-1 7,-2.98 8,-5.34 9,-7.65 10,-9.54 11,-10.72 12,-11.02 13,-10.5 14,-9.28 15,-7.48 16,-5.29 17,-2.97 18,-.86 19,0"/>
<polyline class="c25" points="4,0 5,-.03 6,-.63 7,-1.32 8,-3.2 9,-2.92 10,-4.12 11,-5.25 12,-3.65 13,-4.77 14,-4.21 15,-3.19 16,-2.64 17,-.84 18,-.42 19,0"/>
<polyline class="c25" points="5,0 6,-.49 7,-1.62 8,-3.05 9,-3.76 10,-6.1 11,-7.03 12,-7.22 13,-6.86 14,-3.49 15,-2.67 16,-2.39 17,-1.21 18,-.17 19,0"/>
<polyline class="c25" points="4,0 5,-.05 6,-1.14 7,-3.12 8,-3.29 9,-6.89 10,-9.77 11,-6.64 12,-6.05 13,-7.67 14,-5.87 15,-3.73 16,-3.28 17,-2.1 18,-.34 19,0"/>
<polyline class="c25" points="4,0 5,-.03 6,-.95 7,-1.69 8,-4.04 9,-5.83 10,-5.84 11,-9.46 12,-9.22 13,-9.03 14,-5.7 15,-4.51 16,-3.89 17,-1.61 18,-.03 19,0"/>
<polyline class="c25" points="5,0 6,-1.5 7,-4.3 8,-6.92 9,-6.22 10,-8.66 11,-9.93 12,-11.09 13,-6.73 14,-8.69 15,-5.3 16,-4.02 17,-1.55 18,-.07 19,0"/>
<polyline class="c25" points="5,0 6,-.35 7,-1.28 8,-2.35 9,-3.42 10,-2.26 11,-3.06 12,-4.5 13,-3.49 14,-3.96 15,-2.04 16,-1.7 17,-.51 18,-.01"/>
<polyline class="c25" points="5,-.02 6,-.54 7,-1.4 8,-2.39 9,-3.37 10,-4.19 11,-4.74 12,-4.95 13,-4.76 14,-4.14 15,-3.19 16,-2.07 17,-.97 18,-.16 19,0"/>
<polyline class="c25" points="5,0 6,-.72 7,-3.34 8,-5.69 9,-7.71 10,-6.77 11,-7.5 12,-9.31 13,-9.83 14,-9.37 15,-7.63 16,-4.41 17,-2.63 18,-.58 19,0"/>
<polyline class="c25" points="4,0 5,-.03 6,-1.02 7,-2.77 8,-4.29 9,-3.81 10,-4.53 11,-6.87 12,-6.78 13,-4.43 14,-5.15 15,-4.82 16,-2.68 17,-1.74 18,-.38 19,0"/>
<polyline class="c25" points="5,-.01 6,-1.56 7,-4.04 8,-6.77 9,-9.29 10,-11.25 11,-12.37 12,-12.51 13,-11.63 14,-9.85 15,-7.41 16,-4.63 17,-1.96 18,-.06 19,0"/>
<polyline class="c25" points="5,0 6,-.87 7,-2.34 8,-3.98 9,-5.49 10,-6.64 11,-7.28 12,-7.32 13,-6.76 14,-5.68 15,-4.23 16,-2.64 17,-1.15 18,-.11 19,0"/>
<polyline class="c25" points="5,0 6,-1.41 7,-3.51 8,-5.66 9,-7.57 10,-9.06 11,-9.96 12,-10.19 13,-9.71 14,-8.56 15,-6.85 16,-4.75 17,-2.5 18,-.45 19,0"/>
<polyline class="c25" points="4,0 5,-.04 6,-.89 7,-2.24 8,-3.76 9,-5.23 10,-6.42 11,-7.18 12,-7.4 13,-6.99 14,-5.96 15,-4.48 16,-2.79 17,-1.19 18,-.09 19,0"/>
<polyline class="c25" points="5,-.02 6,-.42 7,-1.46 8,-2.75 9,-3.41 10,-3.5 11,-5.15 12,-5.78 13,-6.29 14,-3.95 15,-3.69 16,-2.46 17,-1.07 18,0"/>
<polyline class="c25" points="5,-.02 6,-1.23 7,-1.86 8,-5.03 9,-6.99 10,-7.69 11,-9.76 12,-8.32 13,-8.6 14,-4.8 15,-4.41 16,-3.08 17,-.93 18,-.07 19,0"/>
<polyline class="c25" points="5,-.01 6,-.47 7,-1.17 8,-1.64 9,-3.2 10,-2.75 11,-3.57 12,-3.59 13,-2.81 14,-3.38 15,-1.86 16,-1.84 17,-.46 18,-.02"/>
<polyline class="c25" points="4,0 5,-.07 6,-1.58 7,-2.24 8,-4.27 9,-4.9 10,-10.07 11,-7.62 12,-6.37 13,-10.21 14,-7.8 15,-4.78 16,-2.37 17,-1.51 18,-.02"/>
<polyline class="c25" points="5,0 6,-1.02 7,-2.7 8,-3.75 9,-6.83 10,-11.18 11,-10.46 12,-10 13,-9.92 14,-7.64 15,-4.53 16,-4.1 17,-1.59 18,-.71 19,0"/>
<polyline class="c25" points="5,0 6,-.66 7,-3.23 8,-4.63 9,-5.16 10,-6.9 11,-10.44 12,-9.26 13,-10.05 14,-7.47 15,-4.16 16,-4.08 17,-1.91 18,-.05 19,0"/>
<polyline class="c25" points="5,0 6,-1.29 7,-3.41 8,-5.74 9,-7.88 10,-9.53 11,-10.46 12,-10.56 13,-9.93 14,-8.65 15,-6.85 16,-4.7 17,-2.44 18,-.44 19,0"/>
<polyline class="c25" points="5,0 6,-.31 7,-1.1 8,-1.69 9,-1.92 10,-3.65 11,-3.75 12,-3.59 13,-2.32 14,-3.2 15,-1.98 16,-1.56 17,-.66 18,-.03 19,0"/>
<polyline class="c25" points="5,0 6,-1.01 7,-2.55 8,-2.27 9,-5.35 10,-6.48 11,-7.27 12,-4.12 13,-3.72 14,-3.08 15,-3.43 16,-1.62 17,-1.24 18,-.07 19,0"/>
<polyline class="c25" points="5,0 6,-1.03 7,-2.48 8,-4.3 9,-6.86 10,-7.1 11,-7.5 12,-8.09 13,-6.85 14,-6.2 15,-7.95 16,-3.66 17,-2.39 18,-.11 19,0"/>
<polyline class="c25" points="4,0 5,-.05 6,-1.1 7,-2.71 8,-5.48 9,-7.64 10,-4.69 11,-8.41 12,-5.73 13,-8.85 14,-4.95 15,-3.65 16,-2.49 17,-.65 18,-.02"/>
<polyline class="c25" points="5,-.01 6,-.46 7,-1.1 8,-1.75 9,-2.33 10,-2.77 11,-3.01 12,-3.03 13,-2.82 14,-2.42 15,-1.88 16,-1.25 17,-.64 18,-.15 19,0"/>
<polyline class="c25" points="5,0 6,-1.44 7,-4 8,-3.9 9,-8.4 10,-10.23 11,-6.11 12,-7.28 13,-8.09 14,-9.14 15,-5.8 16,-4.65 17,-2.28 18,-.87 19,0"/>
<polyline class="c25" points="5,0 6,-.63 7,-2.63 8,-3.43 9,-4.2 10,-4.94 11,-5.82 12,-11.49 13,-7.12 14,-5.36 15,-4.85 16,-3.56 17,-2.18 18,-.23 19,0"/>
<polyline class="c25" points="5,-.01 6,-.94 7,-2.25 8,-2.83 9,-5.16 10,-4.27 11,-4.01 12,-3.84 13,-3.99 14,-5.44 15,-3.84 16,-2.29 17,-.74 18,-.14 19,0"/>
<polyline class="c25" points="4,0 5,-.05 6,-2.04 7,-4.58 8,-3.7 9,-5.3 10,-6.35 11,-9.4 12,-7.28 13,-7.99 14,-9.6 15,-5.88 16,-4.05 17,-2.53 18,-.32 19,0"/>
<polyline class="c25" points="5,0 6,-1.37 7,-3.46 8,-5.68 9,-7.7 10,-9.29 11,-10.26 12,-10.49 13,-9.98 14,-8.78 15,-7.02 16,-4.87 17,-2.59 18,-.54 19,0"/>
<polyline class="c25" points="5,0 6,-1.73 7,-4.3 8,-6.96 9,-9.35 10,-11.22 11,-12.38 12,-12.71 13,-11.99 14,-10.21 15,-7.65 16,-4.7 17,-1.91 18,-.04 19,0"/>
<polyline class="c25" points="5,0 6,-1.29 7,-2.57 8,-6.35 9,-7.02 10,-5.69 11,-11.51 12,-11.11 13,-10.1 14,-6.82 15,-4.61 16,-3.29 17,-1.57 18,-.01"/>
<polyline class="c25" points="5,0 6,-1.37 7,-3.81 8,-6.42 9,-8.85 10,-10.8 11,-12.07 12,-12.53 13,-11.99 14,-10.35 15,-7.88 16,-5.02 17,-2.27 18,-.3 19,0"/>
<polyline class="c25" points="5,0 6,-.75 7,-2.02 8,-5.43 9,-5.87 10,-9.69 11,-11.04 12,-10.73 13,-6.2 14,-8.37 15,-6.63 16,-2.26 17,-1.53 18,0"/>
<polyline class="c25" points="5,0 6,-.85 7,-2.26 8,-2.65 9,-4.45 10,-5.49 11,-4.88 12,-6.47 13,-6.73 14,-5.63 15,-3.26 16,-1.3 17,-.67 18,-.01"/>
<polyline class="c25" points="4,0 5,-.03 6,-.38 7,-.6 8,-1.16 9,-1.81 10,-2.12 11,-2.39 12,-2.12 13,-2.25 14,-1.9 15,-1.27 16,-.94 17,-.52 18,-.14 19,0"/>
<polyline class="c25" points="4,0 5,-.12 6,-1.17 7,-2.36 8,-5.01 9,-6.64 10,-5.43 11,-11.52 12,-9.86 13,-7.64 14,-5.79 15,-5.24 16,-4.08 17,-2.02 18,-.17 19,0"/>
<polyline class="c25" points="5,0 6,-1.13 7,-2.37 8,-5.08 9,-7.49 10,-5.49 11,-10.61 12,-7.07 13,-7.45 14,-9.43 15,-7.65 16,-4.6 17,-1.73 18,-.19 19,0"/>
<polyline class="c25" points="5,0 6,-.63 7,-1.26 8,-3.74 9,-3.97 10,-3.56 11,-7.11 12,-7.3 13,-6.48 14,-6.03 15,-3.06 16,-2.18 17,-1.14 18,-.07 19,0"/>
<polyline class="c25" points="4,0 5,-.03 6,-1.74 7,-2.64 8,-4.36 9,-6.15 10,-7.51 11,-8.06 12,-7.77 13,-9.29 14,-9.26 15,-7.51 16,-4.4 17,-1.8 18,-.19 19,0"/>
<polyline class="c25" points="5,-.01 6,-.51 7,-1.17 8,-2.53 9,-2.45 10,-4.35 11,-2.86 12,-3.82 13,-3.55 14,-3.54 15,-1.76 16,-1.39 17,-.72 18,-.11 19,0"/>
<polyline class="c25" points="4,0 5,-.08 6,-1.23 7,-2.85 8,-4.59 9,-6.17 10,-7.39 11,-8.08 12,-8.16 13,-7.58 14,-6.4 15,-4.79 16,-3 17,-1.33 18,-.15 19,0"/>
<polyline class="c25" points="5,0 6,-1.28 7,-3.53 8,-6.07 9,-8.46 10,-10.34 11,-11.48 12,-11.71 13,-11.07 14,-9.67 15,-7.65 16,-5.25 17,-2.77 18,-.63 19,0"/>
<polyline class="c25" points="4,0 5,-.06 6,-1.81 7,-4.17 8,-4.68 9,-7.48 10,-8.18 11,-7 12,-6.31 13,-7.34 14,-6.29 15,-5.26 16,-3.67 17,-2.31 18,-.25 19,0"/>
<polyline class="c25" points="5,-.01 6,-.52 7,-1.66 8,-2.41 9,-3.61 10,-3.7 11,-5.02 12,-3.4 13,-2.56 14,-2.32 15,-3 16,-1.59 17,-.63 18,-.03"/>
<polyline class="c25" points="5,0 6,-1.98 7,-4.57 8,-7.16 9,-9.45 10,-11.22 11,-12.3 12,-12.6 13,-11.93 14,-10.3 15,-7.92 16,-5.15 17,-2.42 18,-.32 19,0"/>
<polyline class="c25" points="5,-.03 6,-1.9 7,-4.26 8,-6.61 9,-8.68 10,-10.26 11,-11.18 12,-11.37 13,-10.75 14,-9.36 15,-7.38 16,-5.02 17,-2.61 18,-.56 19,0"/>
<polyline class="c25" points="5,0 6,-1.03 7,-2.78 8,-4.74 9,-6.59 10,-8.11 11,-9.1 12,-9.45 13,-9.04 14,-7.83 15,-5.99 16,-3.8 17,-1.6 18,-.01"/>
<polyline class="c25" points="4,0 5,-.13 6,-1.49 7,-2.52 8,-3.17 9,-6.08 10,-5.82 11,-5.37 12,-5.65 13,-9.68 14,-5.73 15,-4.66 16,-3.64 17,-1.14 18,-.12 19,0"/>
<polyline class="c25" points="5,0 6,-.77 7,-2.15 8,-3.75 9,-5.28 10,-6.48 11,-7.17 12,-7.24 13,-6.67 14,-5.55 15,-4.05 16,-2.4 17,-.9 18,0"/>
<polyline class="c25" points="5,-.02 6,-1.96 7,-4.45 8,-6.98 9,-9.23 10,-10.98 11,-12.06 12,-12.37 13,-11.73 14,-10.15 15,-7.82 16,-5.07 17,-2.34 18,-.24 19,0"/>
<polyline class="c25" points="4,0 5,-.05 6,-1 7,-2.54 8,-4.32 9,-6.05 10,-7.47 11,-8.38 12,-8.68 13,-8.26 14,-7.16 15,-5.51 16,-3.55 17,-1.58 18,-.07 19,0"/>
<polyline class="c25" points="5,0 6,-1.39 7,-3.94 8,-6.79 9,-9.42 10,-11.44 11,-12.56 12,-12.62 13,-11.64 14,-9.74 15,-7.2 16,-4.37 17,-1.72 18,0"/>
<polyline class="c25" points="5,0 6,-.29 7,-.64 8,-1.65 9,-1.99 10,-1.68 11,-2.45 12,-2.66 13,-2 14,-1.67 15,-1.77 16,-1.18 17,-.58 18,-.08 19,0"/>
<polyline class="c25" points="5,-.02 6,-.94 7,-2.35 8,-3.87 9,-5.29 10,-6.41 11,-7.08 12,-7.23 13,-6.75 14,-5.67 15,-4.16 16,-2.48 17,-.94 18,0"/>
<polyline class="c25" points="4,0 5,-.11 6,-1.64 7,-3.85 8,-6.25 9,-8.46 10,-10.2 11,-11.24 12,-11.45 13,-10.63 14,-8.84 15,-6.4 16,-3.74 17,-1.39 18,-.02"/>
<polyline class="c25" points="5,0 6,-1.14 7,-3.52 8,-6.29 9,-8.93 10,-10.99 11,-12.15 12,-12.25 13,-11.5 14,-10.02 15,-7.95 16,-5.47 17,-2.87 18,-.53 19,0"/>
<polyline class="c25" points="5,0 6,-1.59 7,-3.8 8,-6.09 9,-8.16 10,-9.8 11,-10.84 12,-11.18 13,-10.62 14,-9.11 15,-6.9 16,-4.34 17,-1.93 18,-.23 19,0"/>
<polyline class="c25" points="5,0 6,-.86 7,-2.38 8,-5.11 9,-7.03 10,-5.27 11,-9.03 12,-10.17 13,-9.32 14,-4.7 15,-4.61 16,-4.28 17,-2.1 18,-.48 19,0"/>
<polyline class="c25" points="5,-.02 6,-1.2 7,-2.76 8,-5.72 9,-6.14 10,-7.74 11,-8.2 12,-6.36 13,-9.54 14,-6.06 15,-7.33 16,-5.04 17,-1.37 18,-.29 19,0"/>
<polyline class="c25" points="4,0 5,-.04 6,-1.09 7,-2.35 8,-3.57 9,-4.64 10,-5.45 11,-5.93 12,-6.03 13,-5.72 14,-5 15,-3.95 16,-2.69 17,-1.39 18,-.26 19,0"/>
<polyline class="c25" points="5,0 6,-1.27 7,-2.39 8,-6.32 9,-5.19 10,-10.22 11,-10.93 12,-8.25 13,-7.45 14,-6.95 15,-3.98 16,-3.28 17,-1.44 18,-.06 19,0"/>
<polyline class="c25" points="4,0 5,-.05 6,-1.86 7,-4.13 8,-6.41 9,-8.42 10,-9.95 11,-10.84 12,-11.01 13,-10.34 14,-8.86 15,-6.8 16,-4.46 17,-2.21 18,-.48 19,0"/>
<polyline class="c25" points="4,0 5,-.12 6,-1.69 7,-3.7 8,-5.73 9,-7.52 10,-8.89 11,-9.67 12,-9.8 13,-9.18 14,-7.88 15,-6.05 16,-3.97 17,-1.96 18,-.39 19,0"/>
<polyline class="c25" points="4,0 5,-.03 6,-1.72 7,-3.72 8,-4.41 9,-6.01 10,-5.88 11,-8.1 12,-7.27 13,-8.65 14,-9.37 15,-4.63 16,-4.54 17,-1.56 18,-.42 19,0"/>
<polyline class="c25" points="5,0 6,-1.32 7,-3.51 8,-5.89 9,-8.09 10,-9.83 11,-10.87 12,-11.11 13,-10.46 14,-9 15,-6.93 16,-4.54 17,-2.2 18,-.4 19,0"/>
<polyline class="c25" points="5,0 6,-.49 7,-2.12 8,-2.81 9,-4.43 10,-7.25 11,-4.49 12,-5.32 13,-6.25 14,-5.7 15,-4.44 16,-3.35 17,-1.35 18,-.04 19,0"/>
<polyline class="c25" points="5,0 6,-1.3 7,-3.29 8,-5.37 9,-7.24 10,-8.67 11,-9.49 12,-9.6 13,-8.98 14,-7.69 15,-5.91 16,-3.87 17,-1.89 18,-.34 19,0"/>
<polyline class="c25" points="5,0 6,-1.66 7,-3.86 8,-6.06 9,-7.99 10,-9.48 11,-10.36 12,-10.57 13,-9.99 14,-8.63 15,-6.66 16,-4.31 17,-1.92 18,-.04 19,0"/>
<polyline class="c25" points="4,0 5,-.03 6,-1.27 7,-2.9 8,-4.58 9,-6.09 10,-7.27 11,-8 12,-8.22 13,-7.86 14,-6.93 15,-5.55 16,-3.88 17,-2.12 18,-.57 19,0"/>
<polyline class="c25" points="5,0 6,-.68 7,-1.79 8,-2.92 9,-3.91 10,-4.66 11,-5.08 12,-5.14 13,-4.79 14,-4.06 15,-3.06 16,-1.95 17,-.92 18,-.16 19,0"/>
<polyline class="c25" points="4,0 5,-.05 6,-1.49 7,-2.09 8,-3.99 9,-8.62 10,-7.83 11,-9.22 12,-8.2 13,-9.51 14,-7.28 15,-4.93 16,-2.41 17,-1.57 18,-.37 19,0"/>
<polyline class="c25" points="4,0 5,-.1 6,-1.8 7,-3.98 8,-6.22 9,-8.23 10,-9.82 11,-10.83 12,-11.16 13,-10.62 14,-9.12 15,-6.92 16,-4.36 17,-1.93 18,-.2 19,0"/>
<polyline class="c25" points="5,0 6,-.71 7,-3.05 8,-3.86 9,-5.53 10,-9.43 11,-8.79 12,-7.68 13,-6.65 14,-5.06 15,-5.66 16,-2.34 17,-1.12 18,-.31 19,0"/>
<polyline class="c25" points="5,-.02 6,-.22 7,-.7 8,-1.02 9,-1.82 10,-1.92 11,-2.56 12,-2.66 13,-2.09 14,-1.95 15,-1.66 16,-1.25 17,-.49 18,-.05 19,0"/>
<polyline class="c25" points="5,0 6,-1 7,-2.95 8,-5.29 9,-7.6 10,-9.55 11,-10.85 12,-11.33 13,-10.95 14,-9.82 15,-8.03 16,-5.78 17,-3.3 18,-.94 19,0"/>
<polyline class="c25" points="4,0 5,-.05 6,-1.82 7,-4.34 8,-7 9,-9.42 10,-11.27 11,-12.34 12,-12.5 13,-11.72 14,-10.09 15,-7.82 16,-5.21 17,-2.64 18,-.6 19,0"/>
<polyline class="c25" points="4,0 5,-.16 6,-1.88 7,-4.04 8,-6.26 9,-8.25 10,-9.83 11,-10.83 12,-11.16 13,-10.7 14,-9.43 15,-7.49 16,-5.13 17,-2.65 18,-.51 19,0"/>
<polyline class="c25" points="5,0 6,-1.85 7,-4.34 8,-6.82 9,-9.03 10,-10.78 11,-11.91 12,-12.34 13,-11.84 14,-10.28 15,-7.89 16,-5.1 17,-2.4 18,-.41 19,0"/>
<polyline class="c25" points="4,0 5,-.06 6,-1.07 7,-2.57 8,-4.22 9,-5.77 10,-7 11,-7.76 12,-7.95 13,-7.48 14,-6.4 15,-4.87 16,-3.11 17,-1.43 18,-.19 19,0"/>
<polyline class="c25" points="5,-.03 6,-.67 7,-1.93 8,-3.25 9,-3.52 10,-5.62 11,-5.53 12,-3.99 13,-3.19 14,-3.43 15,-3.98 16,-1.43 17,-.58 18,-.02"/>
<polyline class="c25" points="5,-.01 6,-1.88 7,-4.33 8,-6.82 9,-9.07 10,-10.86 11,-12.04 12,-12.49 13,-12.07 14,-10.66 15,-8.45 16,-5.76 17,-3 18,-.69 19,0"/>
<polyline class="c25" points="4,0 5,-.04 6,-1.04 7,-2.24 8,-3.98 9,-4.95 10,-7.02 11,-7.65 12,-5.49 13,-5.57 14,-6.59 15,-3.7 16,-3.52 17,-1.58 18,-.64 19,0"/>
<polyline class="c25" points="4,0 5,-.05 6,-1.17 7,-1.57 8,-3.44 9,-3.65 10,-6.01 11,-6.55 12,-5.7 13,-4.23 14,-3.92 15,-4.42 16,-3.35 17,-1.54 18,-.31 19,0"/>
<polyline class="c25" points="5,0 6,-.68 7,-2.05 8,-4.24 9,-6.95 10,-8.15 11,-9.57 12,-9.54 13,-8.75 14,-7.57 15,-4.07 16,-2.86 17,-1.82 18,-.21 19,0"/>
<polyline class="c25" points="5,0 6,-.46 7,-1.69 8,-2.75 9,-3.67 10,-5.49 11,-5.67 12,-4.55 13,-6.01 14,-6.03 15,-3.19 16,-2.47 17,-.78 18,-.01"/>
<polyline class="c25" points="5,0 6,-.82 7,-2.13 8,-3.56 9,-4.86 10,-5.83 11,-6.36 12,-6.37 13,-5.88 14,-4.97 15,-3.75 16,-2.39 17,-1.1 18,-.15 19,0"/>
<polyline class="c25" points="4,0 5,-.03 6,-.92 7,-2.32 8,-2.18 9,-5.19 10,-4.92 11,-4.96 12,-5.03 13,-4.13 14,-5.18 15,-3.24 16,-2.14 17,-.91 18,0"/>
<polyline class="c25" points="5,0 6,-.9 7,-2.47 8,-4.13 9,-5.62 10,-6.75 11,-7.37 12,-7.4 13,-6.88 14,-5.87 15,-4.5 16,-2.96 17,-1.48 18,-.32 19,0"/>
<polyline class="c25" points="5,0 6,-.73 7,-2.15 8,-3.78 9,-5.36 10,-6.67 11,-7.54 12,-7.88 13,-7.6 14,-6.67 15,-5.21 16,-3.4 17,-1.52 18,-.01"/>
<polyline class="c25" points="5,0 6,-.3 7,-.92 8,-1.11 9,-2.19 10,-2.2 11,-3.65 12,-3.8 13,-3.8 14,-2.66 15,-1.62 16,-1.28 17,-.49 18,-.1 19,0"/>
<polyline class="c25" points="5,0 6,-1.5 7,-3.84 8,-6.22 9,-8.34 10,-9.98 11,-10.99 12,-11.26 13,-10.72 14,-9.38 15,-7.39 16,-4.99 17,-2.49 18,-.37 19,0"/>
<polyline class="c25" points="4,0 5,-.11 6,-1.71 7,-2.07 8,-6.15 9,-5.23 10,-9.59 11,-6.78 12,-6.91 13,-7.13 14,-6.78 15,-4.55 16,-3.78 17,-1.12 18,0"/>
<polyline class="c25" points="5,0 6,-.73 7,-2.13 8,-4.72 9,-6.8 10,-7.04 11,-7.14 12,-7.42 13,-5.49 14,-4.01 15,-4.75 16,-3.35 17,-1.07 18,-.12 19,0"/>
<polyline class="c25" points="5,0 6,-1.35 7,-3.63 8,-6.17 9,-8.55 10,-10.43 11,-11.56 12,-11.78 13,-11.12 14,-9.68 15,-7.63 16,-5.2 17,-2.71 18,-.6 19,0"/>
<polyline class="c25" points="5,-.03 6,-.75 7,-1.81 8,-1.71 9,-2.76 10,-3.1 11,-3.85 12,-4.93 13,-2.78 14,-4.26 15,-2.65 16,-2 17,-1.19 18,-.21 19,0"/>
<polyline class="c25" points="5,-.01 6,-1.66 7,-4.14 8,-6.8 9,-9.24 10,-11.15 11,-12.28 12,-12.51 13,-11.81 14,-10.26 15,-8.04 16,-5.41 17,-2.74 18,-.49 19,0"/>
<polyline class="c25" points="5,0 6,-.58 7,-2.25 8,-3.8 9,-3.82 10,-4.61 11,-6.01 12,-5.34 13,-7.62 14,-3.88 15,-4.17 16,-2.88 17,-1.64 18,-.24 19,0"/>
<polyline class="c25" points="5,0 6,-1.18 7,-3.6 8,-6.42 9,-9.11 10,-11.23 11,-12.46 12,-12.62 13,-11.84 14,-10.24 15,-7.97 16,-5.28 17,-2.49 18,-.13 19,0"/>
<polyline class="c25" points="5,0 6,-.39 7,-2.01 8,-2.8 9,-4.81 10,-4.01 11,-8.32 12,-6.14 13,-7.57 14,-6.23 15,-5.17 16,-2.41 17,-1.59 18,-.35 19,0"/>
<polyline class="c25" points="5,0 6,-.31 7,-.86 8,-1.48 9,-2.07 10,-2.54 11,-2.83 12,-2.89 13,-2.73 14,-2.35 15,-1.81 16,-1.19 17,-.58 18,-.1 19,0"/>
<polyline class="c25" points="5,0 6,-.59 7,-2.27 8,-3.23 9,-6.78 10,-5.66 11,-5.72 12,-8.98 13,-9.91 14,-5.77 15,-6.79 16,-3.68 17,-1.47 18,-.43 19,0"/>
<polyline class="c25" points="5,0 6,-.6 7,-1.73 8,-1.72 9,-4.36 10,-2.88 11,-3.29 12,-4.72 13,-5.25 14,-3.69 15,-2.61 16,-1.57 17,-1.09 18,-.07 19,0"/>
<polyline class="c25" points="4,0 5,-.07 6,-1.91 7,-4.41 8,-6.99 9,-9.28 10,-10.99 11,-11.93 12,-11.98 13,-11.11 14,-9.42 15,-7.11 16,-4.49 17,-1.94 18,-.07 19,0"/>
<polyline class="c25" points="5,0 6,-.89 7,-2.42 8,-4.12 9,-5.74 10,-7.07 11,-7.95 12,-8.29 13,-7.94 14,-6.87 15,-5.24 16,-3.31 17,-1.43 18,-.09 19,0"/>
<polyline class="c25" points="4,0 5,-.04 6,-1.69 7,-3.92 8,-6.22 9,-8.24 10,-9.75 11,-10.56 12,-10.59 13,-9.89 14,-8.52 15,-6.62 16,-4.39 17,-2.09 18,-.15 19,0"/>
<polyline class="c25" points="5,0 6,-.42 7,-.92 8,-1.34 9,-2.02 10,-3.59 11,-3.12 12,-3.74 13,-4.33 14,-3.32 15,-2.73 16,-1.11 17,-.6 18,0"/>
<polyline class="c25" points="5,-.01 6,-.72 7,-1.75 8,-4.23 9,-7.13 10,-8.69 11,-8.78 12,-11.7 13,-9.07 14,-5.58 15,-6.59 16,-4.74 17,-2.18 18,-.31 19,0"/>
<polyline class="c25" points="5,0 6,-.77 7,-3.35 8,-5.24 9,-4.72 10,-5.5 11,-6.43 12,-9.5 13,-8.81 14,-7.89 15,-5.91 16,-3.71 17,-2.06 18,-.26 19,0"/>
<polyline class="c25" points="5,0 6,-.77 7,-1.76 8,-3.88 9,-3.59 10,-8.37 11,-7.77 12,-6.59 13,-4.9 14,-6.02 15,-4.7 16,-2.66 17,-1.8 18,-.19 19,0"/>
<polyline class="c25" points="5,-.02 6,-1.19 7,-2.81 8,-4.5 9,-6.05 10,-7.29 11,-8.08 12,-8.34 13,-7.97 14,-6.91 15,-5.34 16,-3.47 17,-1.62 18,-.2 19,0"/>
<polyline class="c25" points="4,0 5,-.07 6,-1.29 7,-3.23 8,-5.43 9,-7.55 10,-9.31 11,-10.47 12,-10.9 13,-10.51 14,-9.34 15,-7.5 16,-5.2 17,-2.72 18,-.47 19,0"/>
<polyline class="c25" points="4,0 5,-.04 6,-1.97 7,-4.33 8,-6.67 9,-8.73 10,-10.32 11,-11.3 12,-11.57 13,-10.96 14,-9.43 15,-7.21 16,-4.65 17,-2.17 18,-.33 19,0"/>
<polyline class="c25" points="4,0 5,-.06 6,-1.29 7,-2.37 8,-3.46 9,-5.59 10,-5.01 11,-6.08 12,-4.87 13,-4.5 14,-7 15,-3.85 16,-2.08 17,-1.63 18,-.21 19,0"/>
<polyline class="c25" points="5,-.01 6,-.81 7,-1.96 8,-3.19 9,-4.32 10,-5.2 11,-5.74 12,-5.87 13,-5.56 14,-4.85 15,-3.82 16,-2.58 17,-1.3 18,-.21 19,0"/>
<polyline class="c25" points="5,-.02 6,-1 7,-2.6 8,-4.43 9,-6.2 10,-7.67 11,-8.66 12,-9.05 13,-8.68 14,-7.47 15,-5.64 16,-3.5 17,-1.48 18,-.11 19,0"/>
<polyline class="c25" points="5,-.01 6,-.23 7,-.5 8,-.76 9,-.99 10,-1.15 11,-1.24 12,-1.24 13,-1.16 14,-1 15,-.78 16,-.53 17,-.27 18,-.05 19,0"/>
<polyline class="c25" points="4,0 5,-.04 6,-.69 7,-1.08 8,-3.17 9,-3.3 10,-4.75 11,-4.13 12,-5.94 13,-4.69 14,-2.82 15,-3.28 16,-1.97 17,-.88 18,-.27 19,0"/>
<polyline class="c25" points="4,0 5,-.05 6,-.99 7,-3.01 8,-5.73 9,-5.46 10,-5.4 11,-10.62 12,-5.67 13,-7.41 14,-9.3 15,-6.92 16,-4.44 17,-1.68 18,-.11 19,0"/>
<polyline class="c25" points="5,-.02 6,-.77 7,-2.61 8,-2.64 9,-5.35 10,-7.91 11,-7.01 12,-8.94 13,-6.36 14,-5.45 15,-3.81 16,-2.94 17,-1.25 18,-.2 19,0"/>
<polyline class="c25" points="5,0 6,-.89 7,-1.78 8,-4.97 9,-5.95 10,-6.23 11,-8.74 12,-6.25 13,-9.3 14,-6.72 15,-3.94 16,-2.75 17,-2.41 18,-.29 19,0"/>
<polyline class="c25" points="4,0 5,-.04 6,-.82 7,-1.74 8,-2.64 9,-3.41 10,-3.97 11,-4.27 12,-4.28 13,-4.01 14,-3.48 15,-2.75 16,-1.89 17,-1.02 18,-.27 19,0"/>
<polyline class="c25" points="5,0 6,-.75 7,-1.72 8,-3.03 9,-5.82 10,-9.08 11,-8.16 12,-7.87 13,-5.52 14,-9.39 15,-4.82 16,-4.8 17,-2.12 18,-.49 19,0"/>
<polyline class="c25" points="5,-.01 6,-1.63 7,-3.68 8,-5.74 9,-7.55 10,-8.96 11,-9.81 12,-10.03 13,-9.49 14,-8.16 15,-6.24 16,-4 17,-1.82 18,-.17 19,0"/>
<polyline class="c25" points="5,0 6,-.96 7,-2.21 8,-2.6 9,-4.83 10,-4.43 11,-8.22 12,-5.38 13,-8.1 14,-4.78 15,-6.15 16,-3 17,-1.92 18,-.73 19,0"/>
<polyline class="c25" points="5,-.02 6,-1.65 7,-3.97 8,-6.43 9,-8.69 10,-10.52 11,-11.7 12,-12.12 13,-11.67 14,-10.32 15,-8.21 16,-5.58 17,-2.76 18,-.25 19,0"/>
<polyline class="c25" points="5,0 6,-.53 7,-1.44 8,-2.47 9,-3.44 10,-4.2 11,-4.65 12,-4.73 13,-4.46 14,-3.88 15,-3.06 16,-2.08 17,-1.05 18,-.15 19,0"/>
<polyline class="c25" points="5,0 6,-1.86 7,-4.45 8,-7 9,-9.22 10,-10.86 11,-11.77 12,-11.84 13,-11.02 14,-9.38 15,-7.15 16,-4.63 17,-2.2 18,-.37 19,0"/>
<polyline class="c25" points="5,-.02 6,-.56 7,-1.17 8,-1.56 9,-2.5 10,-2.73 11,-3.44 12,-3.57 13,-2.93 14,-2.98 15,-2.72 16,-1.49 17,-.92 18,-.19 19,0"/>
<polyline class="c25" points="5,-.02 6,-.79 7,-1.66 8,-3.84 9,-6.29 10,-3.8 11,-6.24 12,-6.59 13,-5.52 14,-6.33 15,-3.56 16,-2.41 17,-1.29 18,-.11 19,0"/>
<polyline class="c25" points="5,0 6,-1.74 7,-3.33 8,-6.75 9,-7.42 10,-8.75 11,-7.6 12,-8.49 13,-11.87 14,-9.13 15,-5.97 16,-4.12 17,-2.33 18,-.04 19,0"/>
<polyline class="c25" points="5,0 6,-1.38 7,-2.42 8,-3.32 9,-5.94 10,-5.01 11,-10.54 12,-8.5 13,-6.83 14,-6.06 15,-5.83 16,-3.59 17,-1.1 18,-.04 19,0"/>
<polyline class="c25" points="5,0 6,-.32 7,-.77 8,-1.24 9,-1.62 10,-1.8 11,-2.05 12,-1.43 13,-2.41 14,-1.15 15,-1.6 16,-.8 17,-.28 18,0"/>
<polyline class="c25" points="5,-.03 6,-.85 7,-2.13 8,-4.45 9,-8.19 10,-6.17 11,-9.86 12,-6.77 13,-7.21 14,-9.24 15,-4.5 16,-5.24 17,-1.75 18,-.35 19,0"/>
<polyline class="c25" points="5,0 6,-1.31 7,-3.09 8,-4.88 9,-6.45 10,-7.63 11,-8.31 12,-8.41 13,-7.97 14,-7.02 15,-5.67 16,-4.04 17,-2.29 18,-.68 19,0"/>
<polyline class="c25" points="5,0 6,-1.23 7,-3.57 8,-6.14 9,-8.51 10,-10.31 11,-11.31 12,-11.38 13,-10.55 14,-8.95 15,-6.76 16,-4.3 17,-1.92 18,-.16 19,0"/>
<polyline class="c25" points="5,0 6,-.58 7,-1.75 8,-3.08 9,-4.36 10,-5.39 11,-6.05 12,-6.25 13,-5.9 14,-5.02 15,-3.75 16,-2.31 17,-.98 18,-.08 19,0"/>
<polyline class="c25" points="5,-.01 6,-.44 7,-1.32 8,-1.38 9,-1.84 10,-3.99 11,-4.29 12,-4.22 13,-3.64 14,-2.64 15,-2.52 16,-1.48 17,-1.07 18,-.13 19,0"/>
<polyline class="c25" points="5,-.01 6,-1.67 7,-2.32 8,-5.07 9,-6.29 10,-6.87 11,-6.11 12,-8.72 13,-5.35 14,-6.31 15,-4.54 16,-2.88 17,-1.23 18,-.01"/>
<polyline class="c25" points="4,0 5,-.11 6,-1.38 7,-2.9 8,-4.39 9,-5.69 10,-6.66 11,-7.21 12,-7.28 13,-6.81 14,-5.81 15,-4.42 16,-2.83 17,-1.27 18,-.09 19,0"/>
<polyline class="c25" points="4,0 5,-.07 6,-.82 7,-1.99 8,-4.71 9,-5.55 10,-6.01 11,-7.67 12,-6.97 13,-4.42 14,-4.58 15,-4.41 16,-2.73 17,-.85 18,-.04 19,0"/>
<polyline class="c25" points="5,0 6,-.52 7,-2.24 8,-3.2 9,-3.71 10,-4.98 11,-6.84 12,-5.67 13,-3.81 14,-4.93 15,-4.53 16,-2.36 17,-1.28 18,-.2 19,0"/>
<polyline class="c25" points="4,0 5,-.03 6,-.97 7,-3.09 8,-5.49 9,-8.36 10,-8.42 11,-6.47 12,-8.84 13,-9.49 14,-6.82 15,-5.39 16,-3.53 17,-2.08 18,-.43 19,0"/>
<polyline class="c25" points="4,0 5,-.11 6,-1.68 7,-3.71 8,-5.8 9,-7.69 10,-9.16 11,-10.07 12,-10.32 13,-9.82 14,-8.57 15,-6.72 16,-4.49 17,-2.19 18,-.27 19,0"/>
<polyline class="c25" points="5,-.01 6,-.95 7,-2.59 8,-4.48 9,-6.29 10,-7.74 11,-8.62 12,-8.79 13,-8.3 14,-7.22 15,-5.68 16,-3.84 17,-1.94 18,-.33 19,0"/>
<polyline class="c25" points="5,-.03 6,-.97 7,-2.45 8,-4.11 9,-5.67 10,-6.92 11,-7.69 12,-7.88 13,-7.45 14,-6.44 15,-4.96 16,-3.22 17,-1.48 18,-.12 19,0"/>
<polyline class="c25" points="5,0 6,-1.45 7,-3.84 8,-6.46 9,-8.91 10,-10.89 11,-12.18 12,-12.63 13,-12.16 14,-10.77 15,-8.63 16,-6 17,-3.2 18,-.73 19,0"/>
<polyline class="c25" points="5,0 6,-.41 7,-1.04 8,-2.17 9,-3.23 10,-2.86 11,-3.33 12,-4.05 13,-3.78 14,-3.66 15,-1.82 16,-1.41 17,-.72 18,-.04 19,0"/>
<polyline class="c25" points="5,0 6,-.23 7,-.59 8,-.98 9,-1.33 10,-1.62 11,-1.8 12,-1.86 13,-1.78 14,-1.57 15,-1.25 16,-.86 17,-.45 18,-.09 19,0"/>
<polyline class="c25" points="5,0 6,-.98 7,-3.23 8,-5.91 9,-8.52 10,-10.61 11,-11.87 12,-12.11 13,-11.37 14,-9.79 15,-7.53 16,-4.86 17,-2.13 18,0"/>
<polyline class="c25" points="5,0 6,-1.86 7,-4.36 8,-6.38 9,-5.19 10,-5.76 11,-9.28 12,-10.99 13,-7.95 14,-9.29 15,-3.93 16,-4.7 17,-1.56 18,-.46 19,0"/>
<polyline class="c25" points="5,0 6,-1.34 7,-3.14 8,-4.97 9,-6.62 10,-7.93 11,-8.78 12,-9.09 13,-8.72 14,-7.61 15,-5.89 16,-3.82 17,-1.73 18,-.11 19,0"/>
<polyline class="c25" points="5,0 6,-.89 7,-2.46 8,-4.3 9,-6.08 10,-7.53 11,-8.45 12,-8.7 13,-8.23 14,-7.1 15,-5.47 16,-3.57 17,-1.71 18,-.27 19,0"/>
<polyline class="c25" points="5,0 6,-.61 7,-1.19 8,-2 9,-3.29 10,-3.61 11,-4.14 12,-3.26 13,-5.22 14,-3.19 15,-2.73 16,-2.21 17,-1.14 18,-.13 19,0"/>
<polyline class="c25" points="4,0 5,-.12 6,-2.12 7,-4.64 8,-7.17 9,-9.41 10,-11.12 11,-12.12 12,-12.33 13,-11.55 14,-9.84 15,-7.45 16,-4.73 17,-2.15 18,-.28 19,0"/>
<polyline class="c25" points="5,0 6,-.45 7,-1.02 8,-1.8 9,-3.25 10,-3.62 11,-4.95 12,-5.18 13,-4.78 14,-3.31 15,-2.25 16,-2.12 17,-.73 18,-.13 19,0"/>
<polyline class="c25" points="4,0 5,-.07 6,-.68 7,-2.08 8,-5.28 9,-3.86 10,-7.74 11,-8.27 12,-7.01 13,-5.47 14,-6.95 15,-3.85 16,-3.37 17,-.79 18,-.03 19,0"/>
<polyline class="c25" points="4,0 5,-.05 6,-1.81 7,-4.23 8,-6.77 9,-9.04 10,-10.78 11,-11.79 12,-11.94 13,-11.12 14,-9.4 15,-7.04 16,-4.4 17,-1.93 18,-.2 19,0"/>
<polyline class="c25" points="4,0 5,-.13 6,-1.8 7,-3.94 8,-6.11 9,-8 10,-9.4 11,-10.14 12,-10.14 13,-9.36 14,-7.89 15,-5.92 16,-3.72 17,-1.65 18,-.16 19,0"/>
<polyline class="c25" points="5,0 6,-.56 7,-1.54 8,-2.66 9,-3.73 10,-4.58 11,-5.09 12,-5.19 13,-4.8 14,-3.99 15,-2.88 16,-1.68 17,-.62 18,-.01"/>
<polyline class="c25" points="5,-.01 6,-.98 7,-2.25 8,-5.8 9,-5.48 10,-5.83 11,-8.84 12,-7.05 13,-9.05 14,-6.33 15,-5.93 16,-5.22 17,-2.2 18,-.14 19,0"/>
<polyline class="c25" points="5,0 6,-1.12 7,-2.14 8,-2.79 9,-5.76 10,-6.06 11,-7.46 12,-5.98 13,-7.19 14,-5.76 15,-4.37 16,-2.56 17,-.98 18,-.09 19,0"/>
<polyline class="c25" points="5,0 6,-1.5 7,-3.71 8,-5.98 9,-8.03 10,-9.65 11,-10.68 12,-11.03 13,-10.59 14,-9.33 15,-7.4 16,-5.07 17,-2.67 18,-.63 19,0"/>
<polyline class="c25" points="5,0 6,-.42 7,-1.81 8,-1.73 9,-2.41 10,-4.83 11,-5.47 12,-3.92 13,-4.34 14,-4.65 15,-2.73 16,-2.74 17,-.83 18,-.35 19,0"/>
<polyline class="c25" points="5,0 6,-.79 7,-1.78 8,-2.55 9,-5.77 10,-7.62 11,-4.32 12,-6.86 13,-7.44 14,-4.62 15,-3.36 16,-3.1 17,-1.15 18,-.38 19,0"/>
<polyline class="c25" points="5,0 6,-.77 7,-1.68 8,-2.16 9,-4.39 10,-6.15 11,-6.85 12,-7.52 13,-5.86 14,-4.53 15,-4.48 16,-2.84 17,-1.39 18,-.3 19,0"/>
<polyline class="c25" points="5,0 6,-.73 7,-1.88 8,-2.89 9,-3.84 10,-2.53 11,-3.77 12,-3.03 13,-3.5 14,-4.2 15,-2.19 16,-1.29 17,-.75 18,-.05 19,0"/>
<polyline class="c25" points="5,0 6,-1.37 7,-3.53 8,-6.28 9,-6.75 10,-5.45 11,-7.41 12,-7.11 13,-8.09 14,-8.72 15,-6.53 16,-3.93 17,-.9 18,-.05 19,0"/>
<polyline class="c25" points="5,-.02 6,-1.14 7,-2.5 8,-4.21 9,-4.53 10,-8.36 11,-7.38 12,-8.75 13,-7.75 14,-8.46 15,-4.35 16,-5.2 17,-1.82 18,-.01"/>
<polyline class="c25" points="5,0 6,-.86 7,-2.86 8,-6.13 9,-5.22 10,-10.56 11,-11.9 12,-7.13 13,-8.11 14,-6.84 15,-6.27 16,-5.2 17,-2.22 18,-.09 19,0"/>
<polyline class="c25" points="5,0 6,-.92 7,-2 8,-4.65 9,-4.63 10,-8.46 11,-9.23 12,-9.58 13,-6.67 14,-6.72 15,-6.1 16,-2.96 17,-1.24 18,-.12 19,0"/>
<polyline class="c25" points="5,0 6,-.14 7,-.36 8,-.6 9,-.82 10,-1 11,-1.11 12,-1.12 13,-1.05 14,-.89 15,-.67 16,-.43 17,-.19 18,-.03"/>
<polyline class="c25" points="5,0 6,-.41 7,-1.4 8,-1.52 9,-2.93 10,-4.02 11,-3.99 12,-4.95 13,-3.82 14,-3.68 15,-2.21 16,-1.26 17,-.87 18,-.1 19,0"/>
<polyline class="c25" points="5,-.03 6,-1 7,-2.35 8,-3.76 9,-5.03 10,-6.02 11,-6.62 12,-6.76 13,-6.37 14,-5.49 15,-4.22 16,-2.71 17,-1.17 18,0"/>
<polyline class="c25" points="4,0 5,-.06 6,-1.03 7,-1.26 8,-2.55 9,-2.88 10,-3.79 11,-4.92 12,-4.03 13,-3.87 14,-4.32 15,-3.49 16,-1.97 17,-1.1 18,-.1 19,0"/>
<polyline class="c25" points="5,0 6,-.5 7,-2.38 8,-4.47 9,-3.96 10,-7.09 11,-8.06 12,-8.27 13,-5.03 14,-4.54 15,-3.3 16,-3.73 17,-1.36 18,-.31 19,0"/>
<polyline class="c25" points="4,0 5,-.07 6,-.93 7,-2.6 8,-4.94 9,-6.1 10,-6.55 11,-7.2 12,-5.28 13,-9.69 14,-4.66 15,-3.97 16,-3.5 17,-2.41 18,-.52 19,0"/>
<polyline class="c25" points="4,0 5,-.05 6,-2 7,-2.72 8,-4.31 9,-7.59 10,-8.05 11,-8.12 12,-9.31 13,-5.6 14,-6.56 15,-6.9 16,-4.83 17,-1.86 18,-.33 19,0"/>
<polyline class="c25" points="5,-.02 6,-.61 7,-1.88 8,-3.47 9,-7.43 10,-7.32 11,-6.11 12,-10.15 13,-7.11 14,-7.16 15,-4.22 16,-4.79 17,-1.15 18,-.22 19,0"/>
<polyline class="c25" points="5,0 6,-.67 7,-1.87 8,-3.38 9,-4.52 10,-8.69 11,-5.98 12,-8.9 13,-10.02 14,-8.89 15,-6.28 16,-4.42 17,-2.17 18,-.23 19,0"/>
<polyline class="c25" points="4,0 5,-.08 6,-1.46 7,-3.05 8,-3.67 9,-6.67 10,-7.03 11,-6.62 12,-6.72 13,-5.36 14,-6.03 15,-5.07 16,-3.97 17,-2.12 18,-.59 19,0"/>
<polyline class="c25" points="4,0 5,-.16 6,-1.91 7,-2.3 8,-4.83 9,-7.79 10,-8.15 11,-6.25 12,-9.28 13,-10.21 14,-8.56 15,-5.33 16,-3 17,-1.48 18,-.14 19,0"/>
<polyline class="c25" points="5,0 6,-.61 7,-1.86 8,-3.35 9,-4.8 10,-5.97 11,-6.66 12,-6.78 13,-6.39 14,-5.55 15,-4.36 16,-2.94 17,-1.47 18,-.21 19,0"/>
<polyline class="c25" points="4,0 5,-.06 6,-1.47 7,-3.63 8,-6.02 9,-8.28 10,-10.14 11,-11.36 12,-11.8 13,-11.37 14,-10.1 15,-8.13 16,-5.68 17,-3.09 18,-.79 19,0"/>
<polyline class="c25" points="5,-.01 6,-.35 7,-1.08 8,-1.17 9,-1.87 10,-2.52 11,-2.86 12,-2.34 13,-2.45 14,-1.55 15,-1.12 16,-1.15 17,-.27 18,-.03"/>
<polyline class="c25" points="4,0 5,-.13 6,-1.84 7,-3.9 8,-5.95 9,-7.75 10,-9.14 11,-9.99 12,-10.22 13,-9.77 14,-8.65 15,-6.97 16,-4.9 17,-2.68 18,-.64 19,0"/>
<polyline class="c25" points="5,0 6,-.47 7,-1.18 8,-1.91 9,-2.55 10,-3.03 11,-3.31 12,-3.33 13,-3.09 14,-2.6 15,-1.94 16,-1.21 17,-.54 18,-.07 19,0"/>
<polyline class="c25" points="5,0 6,-1.04 7,-3.29 8,-5.97 9,-8.57 10,-10.62 11,-11.79 12,-11.9 13,-11.11 14,-9.56 15,-7.41 16,-4.91 17,-2.39 18,-.33 19,0"/>
<polyline class="c25" points="5,0 6,-.88 7,-1.33 8,-2.08 9,-5.28 10,-5.99 11,-6.6 12,-4.87 13,-6.18 14,-3.46 15,-4.06 16,-1.94 17,-.67 18,0"/>
<polyline class="c25" points="5,-.02 6,-.69 7,-2.15 8,-3.4 9,-5.3 10,-5.61 11,-6.14 12,-7.79 13,-4.31 14,-5.93 15,-3.69 16,-2.88 17,-.93 18,-.2 19,0"/>
<polyline class="c25" points="5,0 6,-.29 7,-1.55 8,-3.01 9,-3.64 10,-4.33 11,-5.12 12,-4.9 13,-5.18 14,-4.69 15,-3.85 16,-1.31 17,-.71 18,-.02"/>
<polyline class="c25" points="5,0 6,-.7 7,-1.82 8,-4.11 9,-5.77 10,-5.75 11,-11.59 12,-10.91 13,-7.06 14,-6.45 15,-7.8 16,-3.62 17,-2.28 18,-.18 19,0"/>
<polyline class="c25" points="5,0 6,-1.55 7,-3.68 8,-5.17 9,-5.07 10,-9.53 11,-11.26 12,-11.72 13,-7.19 14,-8.75 15,-6.73 16,-5.24 17,-2.07 18,-.17 19,0"/>
<polyline class="c25" points="4,0 5,-.17 6,-1.76 7,-3.6 8,-5.39 9,-6.93 10,-8.08 11,-8.75 12,-8.85 13,-8.27 14,-7.04 15,-5.33 16,-3.38 17,-1.5 18,-.12 19,0"/>
<polyline class="c25" points="5,0 6,-.33 7,-.95 8,-1.68 9,-2.39 10,-2.97 11,-3.37 12,-3.52 13,-3.4 14,-3.02 15,-2.41 16,-1.64 17,-.81 18,-.08 19,0"/>
<polyline class="c25" points="5,0 6,-.34 7,-1.22 8,-1.22 9,-1.89 10,-2.95 11,-2.73 12,-4.61 13,-3.55 14,-3.5 15,-2.44 16,-1.43 17,-.65 18,0"/>
<polyline class="c25" points="5,0 6,-.49 7,-.9 8,-2.06 9,-3.21 10,-3.02 11,-4.44 12,-3.16 13,-2.4 14,-4.09 15,-3.04 16,-1.22 17,-1.04 18,-.09 19,0"/>
<polyline class="c25" points="5,0 6,-.68 7,-3 8,-3.29 9,-4.34 10,-7.21 11,-9.48 12,-7.56 13,-6.69 14,-5.41 15,-6.96 16,-2.49 17,-1.44 18,-.18 19,0"/>
<polyline class="c25" points="4,0 5,-.06 6,-1.47 7,-3.07 8,-4.28 9,-3.46 10,-6.58 11,-4.52 12,-5.89 13,-7.01 14,-5.31 15,-3.32 16,-2.92 17,-1.09 18,-.17 19,0"/>
<polyline class="c25" points="5,0 6,-1.07 7,-2.78 8,-3.41 9,-7.35 10,-8.85 11,-7.43 12,-9.86 13,-6.17 14,-5.5 15,-5.57 16,-3.03 17,-1.44 18,-.04 19,0"/>
<polyline class="c25" points="5,0 6,-.32 7,-.95 8,-3.16 9,-4.41 10,-3.82 11,-4.82 12,-3.67 13,-4.33 14,-4.74 15,-2.99 16,-2.47 17,-1.15 18,-.23 19,0"/>
<polyline class="c25" points="5,-.01 6,-1.33 7,-3.28 8,-5.36 9,-7.22 10,-8.62 11,-9.37 12,-9.39 13,-8.72 14,-7.44 15,-5.68 16,-3.66 17,-1.64 18,-.06 19,0"/>
<polyline class="c25" points="5,0 6,-.95 7,-2.28 8,-1.88 9,-4.66 10,-3.19 11,-5.76 12,-4.82 13,-2.98 14,-3.2 15,-1.99 16,-1.7 17,-.73 18,0"/>
<polyline class="c25" points="5,-.01 6,-1.09 7,-2.42 8,-3.72 9,-4.84 10,-5.66 11,-6.11 12,-6.15 13,-5.78 14,-5.04 15,-3.99 16,-2.74 17,-1.42 18,-.23 19,0"/>
<polyline class="c25" points="5,0 6,-.27 7,-1.29 8,-1.51 9,-2.51 10,-2.2 11,-4.03 12,-4.19 13,-4.37 14,-3.65 15,-1.93 16,-1.16 17,-.71 18,-.13 19,0"/>
<polyline class="c25" points="5,0 6,-.48 7,-1.31 8,-2.04 9,-2.73 10,-3.6 11,-4.75 12,-5.28 13,-4.05 14,-3.64 15,-2.34 16,-1.49 17,-1.3 18,-.28 19,0"/>
<polyline class="c25" points="5,0 6,-.75 7,-1.72 8,-3.47 9,-4.57 10,-8.1 11,-7.28 12,-6.95 13,-10.19 14,-5.12 15,-6.44 16,-2.97 17,-1.83 18,-.34 19,0"/>
<polyline class="c25" points="4,0 5,-.05 6,-1.27 7,-3.29 8,-5.61 9,-7.86 10,-9.71 11,-10.89 12,-11.24 13,-10.73 14,-9.42 15,-7.47 16,-5.11 17,-2.66 18,-.55 19,0"/>
<polyline class="c25" points="5,0 6,-.68 7,-3.14 8,-5.12 9,-6.12 10,-4.56 11,-8.94 12,-6.05 13,-8.03 14,-6.39 15,-3.14 16,-2.26 17,-1 18,-.21 19,0"/>
<polyline class="c25" points="4,0 5,-.06 6,-1.74 7,-3.99 8,-6.43 9,-5.72 10,-5.78 11,-6.4 12,-8.05 13,-5.99 14,-7.44 15,-6.17 16,-4.32 17,-2.12 18,-.37 19,0"/>
<polyline class="c25" points="5,0 6,-.88 7,-2.88 8,-3.11 9,-6.57 10,-5.28 11,-6.41 12,-8.62 13,-6.86 14,-4.02 15,-3.25 16,-3.24 17,-1.01 18,-.01"/>
<polyline class="c25" points="5,0 6,-.92 7,-1.94 8,-4.19 9,-4.77 10,-5.32 11,-4.63 12,-5.55 13,-6.57 14,-7.56 15,-5.3 16,-2.39 17,-.99 18,-.12 19,0"/>
<polyline class="c25" points="5,0 6,-.72 7,-2.35 8,-4.33 9,-6.31 10,-7.98 11,-9.08 12,-9.45 13,-9.06 14,-7.97 15,-6.3 16,-4.27 17,-2.15 18,-.34 19,0"/>
<polyline class="c25" points="5,-.02 6,-.88 7,-2.25 8,-3.33 9,-3.99 10,-4.78 11,-8.46 12,-8.28 13,-5.07 14,-5.69 15,-3.91 16,-3.16 17,-.83 18,-.05 19,0"/>
<polyline class="c1" points="0,0 5,0"/>
<polyline class="c26" points="5,0 6,-1.21 7,-3.34 8,-6.07 9,-7.59 10,-4.1 11,-1.97 12,-1.82 13,-1.82 14,-3.79 15,-6.83 16,-5.31 17,-2.28 18,0"/>
<polyline class="c27" points="5,0 6,-1.06 7,-3.03 8,-5.77 9,-7.28 10,-3.34 11,-1.82 12,-1.67 13,-1.97 14,-4.55 15,-6.37 16,-4.55 17,-1.52 18,0"/>
<polyline class="c28" points="5,0 6,-1.06 7,-3.03 8,-6.07 9,-7.89 10,-4.55 11,-2.12 12,-1.97 13,-2.12 14,-3.34 15,-7.28 16,-4.86 17,-1.82 18,0"/>
<polyline class="c6" points="5,0 6,-.91 7,-2.73 8,-5.46 9,-6.83 10,-3.79 11,-2.28 12,-2.12 13,-2.28 14,-4.25 15,-6.07 16,-4.25 17,-1.52 18,0"/>
<polyline class="c29" points="19,0 20,-14.26 21,-15.17 22,-13.35 23,0"/>
<polyline class="c30" points="19,0 20,-13.66 21,-14.87 22,-12.9 23,0"/>
<polyline class="c5" points="19,0 20,-12.14 21,-14.42 22,-13.66 23,0"/>
<polyline class="c6" points="19,0 20,-9.1 21,-13.66 22,-10.62 23,0"/>
<polyline class="c31" points="18,0 19,0"/>
</g>
<g transform="translate(26.72 237.24) scale(6.015)">
<polyline class="c32" points="5,0 6,-2 7,-3.12 8,-7.75 9,-5.89 10,-9.92 11,-11.91 12,-10.13 13,-11.88 14,-7.7 15,-5.08 16,-5.98 17,-1.59 18,0"/>
<polyline class="c32" points="5,0 6,-2.28 7,-4.81 8,-7.13 9,-9.06 10,-10.48 11,-11.3 12,-11.44 13,-10.84 14,-9.5 15,-7.5 16,-4.99 17,-2.13 18,0"/>
<polyline class="c32" points="5,0 6,-1.81 7,-3.9 8,-4.47 9,-5.09 10,-7.46 11,-11.18 12,-10.34 13,-7.62 14,-10.26 15,-5.32 16,-3.25 17,-2.26 18,0"/>
<polyline class="c32" points="4,0 5,-.07 6,-.8 7,-2.07 8,-3.61 9,-3.75 10,-3.79 11,-5.56 12,-4.16 13,-5.57 14,-3.89 15,-3.71 16,-1.81 17,-.95 18,0"/>
<polyline class="c32" points="5,-.01 6,-.9 7,-2.12 8,-1.89 9,-2.34 10,-4.18 11,-3.66 12,-4.99 13,-3.23 14,-4.33 15,-3.42 16,-1.58 17,-.83 18,0"/>
<polyline class="c32" points="5,0 6,-2.25 7,-4.77 8,-7.1 9,-9.08 10,-10.58 11,-11.5 12,-11.77 13,-11.24 14,-9.82 15,-7.6 16,-4.74 17,-1.38 18,0"/>
<polyline class="c32" points="4,0 5,-.16 6,-3.76 7,-6.9 8,-9.61 9,-11.78 10,-13.34 11,-14.21 12,-14.35 13,-13.6 14,-11.95 15,-9.49 16,-6.36 17,-2.68 18,0"/>
<polyline class="c32" points="5,0 6,-1.59 7,-2.21 8,-4.08 9,-7.18 10,-8.61 11,-8.54 12,-7.98 13,-6.33 14,-5.41 15,-3.94 16,-2.57 17,-.86 18,0"/>
<polyline class="c32" points="4,0 5,-.14 6,-3.27 7,-4.74 8,-5.29 9,-7.06 10,-11.19 11,-10.79 12,-7.37 13,-6.73 14,-8.62 15,-5.96 16,-5.18 17,-3.05 18,0"/>
<polyline class="c32" points="5,0 6,-1.83 7,-4.15 8,-6.32 9,-8.16 10,-9.52 11,-10.31 12,-10.47 13,-9.93 14,-8.71 15,-6.86 16,-4.45 17,-1.49 18,0"/>
<polyline class="c32" points="5,-.03 6,-2.77 7,-5.4 8,-7.77 9,-9.78 10,-11.3 11,-12.29 12,-12.67 13,-12.27 14,-10.81 15,-8.42 16,-5.26 17,-1.53 18,0"/>
<polyline class="c32" points="5,0 6,-1.24 7,-2.71 8,-4.09 9,-5.29 10,-6.22 11,-6.84 12,-7.11 13,-6.96 14,-6.29 15,-5.14 16,-3.57 17,-1.63 18,0"/>
<polyline class="c32" points="5,0 6,-1.47 7,-2.9 8,-5.22 9,-6.8 10,-8.49 11,-7.25 12,-10.53 13,-6.54 14,-6.08 15,-5.71 16,-3.33 17,-1.04 18,0"/>
<polyline class="c32" points="5,-.02 6,-1.4 7,-4.3 8,-5.4 9,-9.08 10,-7.76 11,-7.02 12,-8.06 13,-8.29 14,-11.1 15,-5.81 16,-6.11 17,-2.54 18,0"/>
<polyline class="c32" points="4,0 5,-.1 6,-1.78 7,-3.41 8,-4.88 9,-6.11 10,-7.03 11,-7.58 12,-7.74 13,-7.41 14,-6.53 15,-5.16 16,-3.37 17,-1.23 18,0"/>
<polyline class="c32" points="5,0 6,-1.72 7,-3.3 8,-4.42 9,-6.37 10,-6.89 11,-6.66 12,-8.48 13,-8.86 14,-5.11 15,-6.12 16,-3.29 17,-1.16 18,0"/>
<polyline class="c32" points="5,0 6,-1.9 7,-3.51 8,-6.64 9,-5.37 10,-10.86 11,-11.74 12,-7.95 13,-7.62 14,-8.09 15,-7.11 16,-5.38 17,-1.37 18,0"/>
<polyline class="c32" points="5,0 6,-1.78 7,-3.32 8,-3.68 9,-5.72 10,-4.35 11,-8.77 12,-6.95 13,-5.98 14,-7.07 15,-3.53 16,-2.96 17,-1.33 18,0"/>
<polyline class="c32" points="5,0 6,-.88 7,-3.02 8,-3.74 9,-5.11 10,-5.69 11,-4.22 12,-5.73 13,-4.67 14,-4.9 15,-5.23 16,-2.01 17,-.82 18,0"/>
<polyline class="c32" points="4,0 5,-.03 6,-1.36 7,-2.86 8,-4.19 9,-5.78 10,-5.68 11,-5.36 12,-4.37 13,-5.55 14,-6.47 15,-5.42 16,-3.07 17,-1.63 18,0"/>
<polyline class="c32" points="5,0 6,-3.06 7,-6.14 8,-8.91 9,-11.21 10,-12.9 11,-13.89 12,-14.12 13,-13.4 14,-11.71 15,-9.15 16,-5.9 17,-2.15 18,0"/>
<polyline class="c32" points="5,0 6,-1.12 7,-3.18 8,-3.34 9,-7.48 10,-6.72 11,-6.43 12,-7.94 13,-4.87 14,-6.97 15,-5.75 16,-3.83 17,-.84 18,0"/>
<polyline class="c32" points="5,0 6,-2 7,-4.22 8,-6.22 9,-7.89 10,-9.13 11,-9.87 12,-10.07 13,-9.57 14,-8.35 15,-6.48 16,-4.11 17,-1.41 18,0"/>
<polyline class="c32" points="5,0 6,-2.1 7,-4.93 8,-6.01 9,-10.03 10,-7.01 11,-6.68 12,-10.15 13,-8.9 14,-11.45 15,-4.97 16,-3.97 17,-1.81 18,0"/>
<polyline class="c32" points="5,0 6,-2.25 7,-3.03 8,-6.2 9,-8.53 10,-9.2 11,-9.11 12,-10.19 13,-9.41 14,-10.67 15,-9.6 16,-3.37 17,-2.21 18,0"/>
<polyline class="c32" points="5,0 6,-1.86 7,-2.27 8,-5.69 9,-3.85 10,-6.32 11,-6.81 12,-8.22 13,-7.86 14,-5.15 15,-4.12 16,-2.5 17,-1.8 18,0"/>
<polyline class="c32" points="5,0 6,-.68 7,-1.99 8,-3.59 9,-2.57 10,-3.47 11,-2.99 12,-5.07 13,-3.12 14,-2.58 15,-3.23 16,-2.33 17,-.51 18,0"/>
<polyline class="c32" points="5,0 6,-2.4 7,-5.36 8,-8.09 9,-10.42 10,-12.21 11,-13.36 12,-13.82 13,-13.4 14,-11.92 15,-9.47 16,-6.2 17,-2.25 18,0"/>
<polyline class="c32" points="5,0 6,-2.65 7,-5.56 8,-8.25 9,-10.55 10,-12.28 11,-13.36 12,-13.7 13,-13.21 14,-11.83 15,-9.59 16,-6.56 17,-2.64 18,0"/>
<polyline class="c32" points="4,0 5,-.04 6,-1.18 7,-1.86 8,-2.67 9,-4.49 10,-5.42 11,-6.06 12,-7.52 13,-5.03 14,-5.09 15,-3 16,-1.85 17,-.56 18,0"/>
<polyline class="c32" points="5,0 6,-3.15 7,-6.01 8,-8.5 9,-10.51 10,-11.95 11,-12.76 12,-12.9 13,-12.21 14,-10.67 15,-8.38 16,-5.48 17,-2.12 18,0"/>
<polyline class="c32" points="5,0 6,-2.23 7,-4.75 8,-7.09 9,-9.08 10,-10.56 11,-11.43 12,-11.64 13,-11.1 14,-9.8 15,-7.79 16,-5.1 17,-1.62 18,0"/>
<polyline class="c32" points="5,0 6,-1.55 7,-3.55 8,-7.34 9,-8.3 10,-9.99 11,-10.47 12,-11.7 13,-7.59 14,-10.08 15,-7.49 16,-3.59 17,-1.24 18,0"/>
<polyline class="c32" points="5,0 6,-2.09 7,-4.32 8,-6.32 9,-7.97 10,-9.2 11,-9.92 12,-10.1 13,-9.69 14,-8.7 15,-7.16 16,-5.08 17,-2.42 18,0"/>
<polyline class="c32" points="5,0 6,-1.92 7,-2.58 8,-5.75 9,-5.88 10,-7.79 11,-9.14 12,-9.12 13,-7.57 14,-9.66 15,-5.13 16,-3.83 17,-.81 18,0"/>
<polyline class="c32" points="5,0 6,-1.84 7,-4.02 8,-6.32 9,-7.03 10,-10.74 11,-10.09 12,-7.09 13,-10.9 14,-5.73 15,-6.64 16,-3.18 17,-1.08 18,0"/>
<polyline class="c32" points="5,0 6,-2.26 7,-4.51 8,-6.57 9,-8.3 10,-9.61 11,-10.41 12,-10.68 13,-10.29 14,-9.2 15,-7.43 16,-5.03 17,-1.95 18,0"/>
<polyline class="c32" points="5,0 6,-1.21 7,-3.44 8,-4.53 9,-7.28 10,-10.33 11,-10.21 12,-9.66 13,-10.33 14,-6.17 15,-4.56 16,-3.68 17,-1.71 18,0"/>
<polyline class="c32" points="4,0 5,-.03 6,-1.17 7,-2.2 8,-3.12 9,-3.88 10,-4.47 11,-4.86 12,-5.02 13,-4.91 14,-4.41 15,-3.55 16,-2.34 17,-.75 18,0"/>
<polyline class="c32" points="4,0 5,-.11 6,-1.2 7,-2.41 8,-3.48 9,-3.72 10,-4.53 11,-6.14 12,-6.14 13,-7.36 14,-4.61 15,-3.75 16,-3.97 17,-.7 18,0"/>
<polyline class="c1" points="0,0 5,0"/>
<polyline class="c33" points="7,0 8,-2.95 9,-8.43 10,-.61"/>
<polyline class="c33" points="5,0 6,-.42 7,-2.32 8,-5.45 9,-9.67 10,-.61"/>
<polyline class="c33" points="6,0 7,-.15 8,-1.08 9,-10.04 10,-.61"/>
<polyline class="c33" points="6,0 7,-.17 8,-1.63 9,-7.72 10,-.61"/>
<polyline class="c33" points="4,0 5,-.37 6,-1.68 7,-3.48 8,-5.66 9,-8.14 10,-.61"/>
<polyline class="c33" points="5,0 6,-.05 7,-1.13 8,-3.75 9,-7.98 10,-.61"/>
<polyline class="c33" points="3,0 4,-.04 5,-.12 6,-1.29 7,-3.39 8,-6.29 9,-9.92 10,-.61"/>
<polyline class="c33" points="3,0 4,-.09 5,-.06 6,-.95 7,-2.78 8,-5.44 9,-8.88 10,-.61"/>
<polyline class="c33" points="3,0 4,-.33 5,-.24 6,-1.59 7,-3.62 8,-6.16 9,-9.13 10,-.61"/>
<polyline class="c33" points="6,0 7,-.16 8,-2.12 9,-9.1 10,-.61"/>
<polyline class="c33" points="3,0 4,-.1 5,-.09 6,-.9 7,-2.65 8,-5.4 9,-9.19 10,-.61"/>
<polyline class="c33" points="3,0 4,-.01 5,-.02 6,-.75 7,-2.34 8,-4.72 9,-7.84 10,-.61"/>
<polyline class="c33" points="7,0 8,-1.68 9,-9.74 10,-.61"/>
<polyline class="c33" points="6,0 7,-.08 8,-.22 9,-9.85 10,-.61"/>
<polyline class="c33" points="6,0 7,-.05 8,-3.15 9,-9.63 10,-.61"/>
<polyline class="c33" points="6,0 7,-.14 8,-1.47 9,-10.04 10,-.61"/>
<polyline class="c33" points="4,0 5,-.35 6,-.22 7,-2.16 8,-5.17 9,-8.95 10,-.61"/>
<polyline class="c33" points="5,0 6,-.43 7,-1.85 8,-4.31 9,-7.85 10,-.61"/>
<polyline class="c33" points="4,0 5,-.31 6,-.27 7,-2.03 8,-5.15 9,-9.45 10,-.61"/>
<polyline class="c33" points="4,0 5,-.37 6,-1.91 7,-3.97 8,-6.41 9,-9.16 10,-.61"/>
<polyline class="c33" points="3,0 4,-.02 5,-.07 6,-.82 7,-2.42 8,-4.94 9,-8.39 10,-.61"/>
<polyline class="c33" points="4,0 5,0 6,-.98 7,-3.07 8,-5.89 9,-9.3 10,-.61"/>
<polyline class="c33" points="5,0 6,-.18 7,-.14 8,-3.08 9,-8.98 10,-.61"/>
<polyline class="c33" points="5,0 6,-.07 7,-.28 8,-3.24 9,-8.57 10,-.61"/>
<polyline class="c33" points="4,0 5,-.01 6,-.64 7,-2.26 8,-4.83 9,-8.36 10,-.61"/>
<polyline class="c33" points="4,0 5,-.2 6,-.09 7,-1.27 8,-3.78 9,-7.61 10,-.61"/>
<polyline class="c33" points="4,0 5,-.06 6,-1.08 7,-3.28 8,-6.15 9,-9.55 10,-.61"/>
<polyline class="c33" points="4,0 5,-.28 6,-.4 7,-1.8 8,-4.32 9,-8.03 10,-.61"/>
<polyline class="c33" points="5,0 6,-.08 7,-1.32 8,-4 9,-8.11 10,-.61"/>
<polyline class="c33" points="4,0 5,-.29 6,-.15 7,-1.9 8,-4.89 9,-8.85 10,-.61"/>
<polyline class="c33" points="3,0 4,-.04 5,-.05 6,-1.37 7,-3.51 8,-6.19 9,-9.31 10,-.61"/>
<polyline class="c33" points="7,0 8,-.26 9,-9.92 10,-.61"/>
<polyline class="c33" points="7,0 8,-2.74 9,-9.16 10,-.61"/>
<polyline class="c33" points="4,0 5,-.04 6,-.84 7,-2.57 8,-4.93 9,-7.8 10,-.61"/>
<polyline class="c33" points="3,0 4,-.06 5,-.09 6,-.79 7,-2.26 8,-4.58 9,-7.78 10,-.61"/>
<polyline class="c33" points="3,0 4,-.25 5,-.05 6,-.87 7,-2.79 8,-5.85 9,-10.06 10,-.61"/>
<polyline class="c33" points="4,0 5,-.28 6,-.1 7,-1.4 8,-4.15 9,-8.28 10,-.61"/>
<polyline class="c33" points="6,0 7,-.24 8,-2.13 9,-8.37 10,-.61"/>
<polyline class="c33" points="6,0 7,-.1 8,-2.45 9,-9.92 10,-.61"/>
<polyline class="c33" points="4,0 5,-.2 6,-1.06 7,-3.24 8,-6.19 9,-9.77 10,-.61"/>
<polyline class="c33" points="6,0 7,-.32 8,-.01 9,-7.86 10,-.61"/>
<polyline class="c33" points="7,0 8,-.17 9,-9.67 10,-.61"/>
<polyline class="c33" points="7,0 8,-.5 9,-8.61 10,-.61"/>
<polyline class="c33" points="4,0 5,-.04 6,-1.17 7,-3.07 8,-5.49 9,-8.36 10,-.61"/>
<polyline class="c33" points="5,0 6,-.69 7,-2.75 8,-5.37 9,-8.39 10,-.61"/>
<polyline class="c33" points="4,0 5,-.12 6,-1.27 7,-3.17 8,-5.63 9,-8.59 10,-.61"/>
<polyline class="c33" points="7,0 8,-2.24 9,-8.99 10,-.61"/>
<polyline class="c33" points="3,0 4,-.21 5,0 6,-.71 7,-2.61 8,-5.75 9,-10.11 10,-.61"/>
<polyline class="c33" points="7,0 8,-.34 9,-8.45 10,-.61"/>
<polyline class="c33" points="6,0 7,-.85 8,-3.91 9,-8.21 10,-.61"/>
<polyline class="c33" points="4,0 5,0 6,-.63 7,-2.47 8,-5.63 9,-10.15 10,-.61"/>
<polyline class="c33" points="6,0 7,-1.14 8,-4.41 9,-8.62 10,-.61"/>
<polyline class="c33" points="3,0 4,-.37 5,-.09 6,-1.11 7,-2.84 8,-5.12 9,-7.88 10,-.61"/>
<polyline class="c33" points="5,0 6,-.16 7,-.02 8,-2.69 9,-9.13 10,-.61"/>
<polyline class="c33" points="7,0 8,-.01 9,-7.83 10,-.61"/>
<polyline class="c33" points="6,0 7,-.19 8,-2.98 9,-7.88 10,-.61"/>
<polyline class="c33" points="4,0 5,-.37 6,-.33 7,-1.91 8,-4.51 9,-8.02 10,-.61"/>
<polyline class="c33" points="5,0 6,-.54 7,-2.1 8,-4.63 9,-8.12 10,-.61"/>
<polyline class="c33" points="3,0 4,-.06 5,-.06 6,-1.06 7,-2.83 8,-5.18 9,-8.04 10,-.61"/>
<polyline class="c33" points="6,0 7,-.21 8,-3.29 9,-9.81 10,-.61"/>
<polyline class="c33" points="4,0 5,-.1 6,-.03 7,-1.02 8,-3.65 9,-8.11 10,-.61"/>
<polyline class="c33" points="4,0 5,-.36 6,-.41 7,-2.36 8,-5.16 9,-8.59 10,-.61"/>
<polyline class="c33" points="3,0 4,-.32 5,-.06 6,-1.49 7,-3.66 8,-6.29 9,-9.29 10,-.61"/>
<polyline class="c33" points="5,0 6,-.23 7,-.02 8,-2.23 9,-7.87 10,-.61"/>
<polyline class="c33" points="3,0 4,-.13 5,-.12 6,-1.02 7,-2.76 8,-5.31 9,-8.66 10,-.61"/>
<polyline class="c33" points="6,0 7,-.23 8,-3.46 9,-9.11 10,-.61"/>
<polyline class="c33" points="3,0 4,-.14 5,-.03 6,-1.13 7,-3.16 8,-5.87 9,-9.17 10,-.61"/>
<polyline class="c33" points="3,0 4,-.08 5,-.01 6,-.55 7,-2.04 8,-4.55 9,-8.15 10,-.61"/>
<polyline class="c33" points="4,0 5,-.08 6,-.8 7,-2.37 8,-4.84 9,-8.27 10,-.61"/>
<polyline class="c33" points="7,0 8,-1.15 9,-9.41 10,-.61"/>
<polyline class="c33" points="5,0 6,-.13 7,-1.87 8,-4.99 9,-8.8 10,-.61"/>
<polyline class="c33" points="4,0 5,-.13 6,-.4 7,-2 8,-4.92 9,-9.22 10,-.61"/>
<polyline class="c33" points="5,0 6,-.12 7,-1.37 8,-4.17 9,-7.74 10,-.61"/>
<polyline class="c33" points="3,0 4,-.03 5,-.05 6,-.69 7,-2.2 8,-4.68 9,-8.18 10,-.61"/>
<polyline class="c33" points="6,0 7,-.13 8,-1 9,-9.49 10,-.61"/>
<polyline class="c33" points="5,0 6,-.22 7,-1.45 8,-4.36 9,-7.88 10,-.61"/>
<polyline class="c33" points="4,0 5,-.01 6,-.83 7,-2.5 8,-4.8 9,-7.66 10,-.61"/>
<polyline class="c33" points="4,0 5,-.03 6,-.52 7,-2.79 8,-5.73 9,-9.11 10,-.61"/>
<polyline class="c33" points="7,0 8,-2.93 9,-9.97 10,-.61"/>
<polyline class="c33" points="5,0 6,-.36 7,-2.03 8,-5.18 9,-9.85 10,-.61"/>
<polyline class="c33" points="4,0 5,-.32 6,-.51 7,-2.76 8,-5.82 9,-9.45 10,-.61"/>
<polyline class="c33" points="6,0 7,-1.77 8,-5.35 9,-9.67 10,-.61"/>
<polyline class="c33" points="6,0 7,-.04 8,-.27 9,-10.11 10,-.61"/>
<polyline class="c33" points="4,0 5,-.12 6,-1.22 7,-2.97 8,-5.21 9,-7.88 10,-.61"/>
<polyline class="c33" points="7,0 8,-.94 9,-8.85 10,-.61"/>
<polyline class="c33" points="3,0 4,-.12 5,-.44 6,-1.99 7,-4.11 8,-6.67 9,-9.6 10,-.61"/>
<polyline class="c33" points="5,0 6,-.75 7,-2.97 8,-6.04 9,-9.78 10,-.61"/>
<polyline class="c33" points="7,0 8,-1.39 9,-9.92 10,-.61"/>
<polyline class="c33" points="5,0 6,-.27 7,-.83 8,-4.16 9,-8.98 10,-.61"/>
<polyline class="c33" points="7,0 8,-2.38 9,-8.88 10,-.61"/>
<polyline class="c33" points="5,0 6,-.08 7,-1.7 8,-4.67 9,-8.69 10,-.61"/>
<polyline class="c33" points="6,0 7,-.36 8,-1.33 9,-8.86 10,-.61"/>
<polyline class="c33" points="4,0 5,-.22 6,-.17 7,-1.43 8,-4.1 9,-8.27 10,-.61"/>
<polyline class="c33" points="3,0 4,-.22 5,-.42 6,-2.18 7,-4.44 8,-7.03 9,-9.88 10,-.61"/>
<polyline class="c33" points="4,0 5,-.03 6,-.65 7,-2.21 8,-4.81 9,-8.49 10,-.61"/>
<polyline class="c33" points="3,0 4,-.36 5,-.14 6,-1.14 7,-3.02 8,-5.74 9,-9.26 10,-.61"/>
<polyline class="c33" points="6,0 7,-.94 8,-4.17 9,-9.46 10,-.61"/>
<polyline class="c33" points="4,0 5,-.28 6,-.5 7,-2.42 8,-4.84 9,-7.59 10,-.61"/>
<polyline class="c33" points="4,0 5,-.54 6,-2.14 7,-4.2 8,-6.57 9,-9.22 10,-.61"/>
<polyline class="c33" points="4,0 5,-.26 6,-1.45 7,-3.27 8,-5.59 9,-8.36 10,-.61"/>
<polyline class="c33" points="4,0 5,-.01 6,-.81 7,-2.68 8,-5.54 9,-9.32 10,-.61"/>
<polyline class="c33" points="4,0 5,-.29 6,-.19 7,-1.61 8,-4.45 9,-8.71 10,-.61"/>
<polyline class="c33" points="4,0 5,-.18 6,0 7,-1.45 8,-4.82 9,-9.81 10,-.61"/>
<polyline class="c33" points="6,0 7,-.21 8,-2.36 9,-9.32 10,-.61"/>
<polyline class="c33" points="3,0 4,-.04 5,-.16 6,-1.3 7,-3.25 8,-5.91 9,-9.21 10,-.61"/>
<polyline class="c33" points="6,0 7,-.52 8,-3.54 9,-8.82 10,-.61"/>
<polyline class="c33" points="4,0 5,-.37 6,-.88 7,-2.76 8,-5.27 9,-8.31 10,-.61"/>
<polyline class="c33" points="4,0 5,-.06 6,-.05 7,-1.67 8,-4.83 9,-9.21 10,-.61"/>
<polyline class="c33" points="7,0 8,-2.52 9,-10.15 10,-.61"/>
<polyline class="c33" points="4,0 5,-.01 6,-.48 7,-1.89 8,-4.35 9,-7.94 10,-.61"/>
<polyline class="c33" points="3,0 4,-.21 5,-.2 6,-1.3 7,-3.01 8,-5.22 9,-7.87 10,-.61"/>
<polyline class="c33" points="4,0 5,-.24 6,0 7,-1.72 8,-4.83 9,-8.87 10,-.61"/>
<polyline class="c33" points="6,0 7,-.03 8,-1.73 9,-7.93 10,-.61"/>
<polyline class="c33" points="3,0 4,-.27 5,-.07 6,-.84 7,-2.63 8,-5.53 9,-9.63 10,-.61"/>
<polyline class="c33" points="3,0 4,-.3 5,-.13 6,-.96 7,-2.56 8,-4.94 9,-8.1 10,-.61"/>
<polyline class="c33" points="5,0 6,-.22 7,-.41 8,-3.43 9,-8.89 10,-.61"/>
<polyline class="c33" points="3,0 4,-.03 5,-.25 6,-1.52 7,-3.46 8,-5.93 9,-8.86 10,-.61"/>
<polyline class="c33" points="5,0 6,-.32 7,-1.91 8,-4.95 9,-9.49 10,-.61"/>
<polyline class="c33" points="6,0 7,-.83 8,-4.03 9,-9.78 10,-.61"/>
<polyline class="c33" points="4,0 5,-.34 6,-.46 7,-1.98 8,-4.6 9,-8.35 10,-.61"/>
<polyline class="c33" points="5,0 6,-.03 7,-1.14 8,-4.09 9,-9.02 10,-.61"/>
<polyline class="c33" points="5,0 6,-.29 7,-1.95 8,-5.05 9,-9.55 10,-.61"/>
<polyline class="c33" points="6,0 7,-.8 8,-4.21 9,-9 10,-.61"/>
<polyline class="c33" points="6,0 7,-.16 8,-2.15 9,-8.22 10,-.61"/>
<polyline class="c33" points="5,0 6,-.6 7,-2.2 8,-4.67 9,-7.95 10,-.61"/>
<polyline class="c33" points="3,0 4,-.19 5,-.15 6,-1.07 7,-2.78 8,-5.24 9,-8.44 10,-.61"/>
<polyline class="c33" points="6,0 7,-.11 8,-.68 9,-8.11 10,-.61"/>
<polyline class="c33" points="5,0 6,-.66 7,-2.72 8,-5.45 9,-8.68 10,-.61"/>
<polyline class="c33" points="3,0 4,-.15 5,-.65 6,-2.4 7,-4.6 8,-7.11 9,-9.87 10,-.61"/>
<polyline class="c33" points="7,0 8,-.29 9,-8.31 10,-.61"/>
<polyline class="c33" points="3,0 4,-.23 5,-.14 6,-1.11 7,-2.82 8,-5.19 9,-8.16 10,-.61"/>
<polyline class="c33" points="6,0 7,-.18 8,-2.89 9,-9.04 10,-.61"/>
<polyline class="c33" points="4,0 5,-.15 6,-1.16 7,-3.14 8,-6.14 9,-10.15 10,-.61"/>
<polyline class="c33" points="3,0 4,-.34 5,-.18 6,-1.17 7,-2.82 8,-5.04 9,-7.75 10,-.61"/>
<polyline class="c33" points="3,0 4,-.1 5,-.03 6,-.79 7,-2.69 8,-5.78 9,-10.14 10,-.61"/>
<polyline class="c33" points="7,0 8,-.15 9,-8.95 10,-.61"/>
<polyline class="c33" points="6,0 7,-.2 8,-2.5 9,-7.72 10,-.61"/>
<polyline class="c33" points="4,0 5,-.07 6,-1.11 7,-3.06 8,-5.76 9,-9.13 10,-.61"/>
<polyline class="c33" points="7,0 8,-.11 9,-9.52 10,-.61"/>
<polyline class="c33" points="4,0 5,-.46 6,-1.97 7,-4.03 8,-6.51 9,-9.34 10,-.61"/>
<polyline class="c33" points="5,0 6,-.18 7,-.65 8,-4.01 9,-9.1 10,-.61"/>
<polyline class="c33" points="4,0 5,-.11 6,-.97 7,-2.77 8,-5.6 9,-9.52 10,-.61"/>
<polyline class="c33" points="6,0 7,-.22 8,-2.21 9,-8.51 10,-.61"/>
<polyline class="c33" points="4,0 5,-.06 6,-1.04 7,-2.89 8,-5.46 9,-8.68 10,-.61"/>
<polyline class="c33" points="5,0 6,0 7,-1.18 8,-3.86 9,-7.75 10,-.61"/>
<polyline class="c33" points="7,0 8,-.29 9,-8.23 10,-.61"/>
<polyline class="c33" points="5,0 6,-.31 7,-1.91 8,-4.87 9,-9.17 10,-.61"/>
<polyline class="c33" points="4,0 5,-.34 6,-.13 7,-1.38 8,-3.9 9,-7.62 10,-.61"/>
<polyline class="c33" points="3,0 4,-.11 5,-.34 6,-1.74 7,-3.82 8,-6.46 9,-9.58 10,-.61"/>
<polyline class="c33" points="3,0 4,-.18 5,-.21 6,-1.37 7,-3.41 8,-6.28 9,-9.94 10,-.61"/>
<polyline class="c33" points="6,0 7,-.3 8,-.23 9,-9.87 10,-.61"/>
<polyline class="c33" points="6,0 7,-.22 8,-2.19 9,-9.37 10,-.61"/>
<polyline class="c33" points="7,0 8,-.04 9,-7.83 10,-.61"/>
<polyline class="c33" points="7,0 8,-.59 9,-8.38 10,-.61"/>
<polyline class="c33" points="5,0 6,0 7,-1.09 8,-3.87 9,-8.12 10,-.61"/>
<polyline class="c33" points="6,0 7,-.08 8,-2.37 9,-8.19 10,-.61"/>
<polyline class="c33" points="6,0 7,-.68 8,-3.24 9,-7.95 10,-.61"/>
<polyline class="c33" points="6,0 7,-.16 8,-.15 9,-7.98 10,-.61"/>
<polyline class="c33" points="3,0 4,-.06 5,-.07 6,-.83 7,-2.58 8,-5.4 9,-9.34 10,-.61"/>
<polyline class="c33" points="5,0 6,-.16 7,-.58 8,-3.93 9,-8.95 10,-.61"/>
<polyline class="c33" points="3,0 4,-.05 5,-.09 6,-.93 7,-2.66 8,-5.28 9,-8.79 10,-.61"/>
<polyline class="c33" points="3,0 4,-.21 5,-.38 6,-1.63 7,-3.37 8,-5.48 9,-7.91 10,-.61"/>
<polyline class="c33" points="5,0 6,-.17 7,-1.53 8,-4.92 9,-9.34 10,-.61"/>
<polyline class="c33" points="5,0 6,-.07 7,-.25 8,-3.51 9,-8.52 10,-.61"/>
<polyline class="c33" points="5,0 6,-.46 7,-1.98 8,-4.44 9,-7.79 10,-.61"/>
<polyline class="c33" points="4,0 5,-.04 6,-.88 7,-2.57 8,-4.98 9,-8.06 10,-.61"/>
<polyline class="c33" points="5,0 6,-.07 7,-1.28 8,-4.85 9,-9.41 10,-.61"/>
<polyline class="c33" points="6,0 7,-.1 8,-.96 9,-8.51 10,-.61"/>
<polyline class="c33" points="6,0 7,-.18 8,-1.09 9,-8.28 10,-.61"/>
<polyline class="c33" points="6,0 7,-.35 8,-2.4 9,-8.73 10,-.61"/>
<polyline class="c16" points="8,-6.07 9,-10.17 10,-.61"/>
<polyline class="c34" points="10,-.68 16,-.68"/>
<polyline class="c22" points="10,-.99 16,-.99"/>
<polyline class="c17" points="15,-.61 16,-.91 17,-10.47 18,-10.47 19,-10.47 20,-10.47 21,-10.47 22,-4.55 23,0"/>
<polyline class="c35" points="15,-.61 16,-3.03 17,-10.93 18,-10.93 19,-10.93 20,-10.93 21,-10.77 22,-3.79 23,0"/>
<polyline class="c1" points="15,-.61 16,-4.55 17,-10.62 18,-10.62 19,-10.62 20,-10.62 21,-10.62 22,-1.52 23,0"/>
<polyline class="c4" points="16,-.61 17,-11.68 18,-11.68 19,-11.68 20,-11.68 21,-7.59 22,0"/>
<polyline class="c36" points="15,-.61 16,-7.59 17,-13.2 18,-13.2 19,-13.2 20,-13.2 21,-6.07 22,-1.52 23,0"/>
<polyline class="c3" points="16,-.61 17,-13.2 18,-11.38 19,-13.2 20,-11.38 21,-4.55 22,0"/>
<polyline class="c3" points="16,-.61 17,-11.38 18,-13.2 19,-11.38 20,-13.2 21,-7.59 22,0"/>
<polyline class="c37" points="16,-.61 17,-14.72 18,-14.72 19,-14.72 20,-14.72 21,-4.55 22,0"/>
<polyline class="c38" points="14,-.61 15,-1.5 16,-8.11 17,-9.15 18,-8.27 19,-8.78 20,-8.54 21,-.14 23,0"/>
<polyline class="c38" points="15,-.61 16,-2.17 17,-5.35 18,-1.71 23,0"/>
<polyline class="c38" points="15,-.61 16,-5.7 17,-10.91 18,-10.33 19,-10.32 20,-11.3 21,-2.27 23,0"/>
<polyline class="c38" points="15,-.61 16,-1.43 17,-7.22 18,-6.34 19,-6.6 20,-6.59 21,-7.03 22,-6.64 23,0"/>
<polyline class="c38" points="15,-.61 16,-2.44 17,-6.27 18,-6.66 19,-6.32 20,-6.28 21,-7.01 22,-6.37 23,0"/>
<polyline class="c38" points="15,-.61 16,-3.91 17,-10.33 18,-10.55 19,-10.44 20,-9.87 21,-1.97 23,0"/>
<polyline class="c38" points="14,-.61 15,-.32 16,-5.09 17,-5.14 18,-4.97 19,-5.08 20,-5.22 21,-5.21 22,-4.62 23,0"/>
<polyline class="c38" points="15,-.61 16,-1.96 17,-5 18,-2.25 23,0"/>
<polyline class="c38" points="14,-.61 15,-2.45 16,-12.23 17,-11.54 18,-11.89 19,-1.42 23,0"/>
<polyline class="c38" points="15,-.61 16,-3.33 17,-8.88 18,-9.68 19,-2.12 23,0"/>
<polyline class="c38" points="15,-.61 16,-1.66 17,-6.7 18,-6.59 19,-6.49 20,-1.98 23,0"/>
<polyline class="c38" points="15,-.61 16,-4.13 17,-9.36 18,-10.56 19,-9.17 20,-9.49 21,-9.53 22,-2.07 23,0"/>
<polyline class="c38" points="15,-.61 16,-3.58 17,-8.6 18,-8.98 19,-8.53 20,-8.39 21,-9.47 22,-9.67 23,0"/>
<polyline class="c38" points="15,-.61 16,-3.21 17,-12.21 18,-11.58 19,-12.65 20,-11.29 21,-11.34 22,-11.6 23,0"/>
<polyline class="c38" points="14,-.61 15,-.45 16,-5.26 17,-5.33 18,-.96 23,0"/>
<polyline class="c38" points="14,-.61 15,-.62 16,-6.12 17,-6.15 18,-5.52 19,-6.22 20,-.72 23,0"/>
<polyline class="c38" points="15,-.61 16,-2.5 17,-8.74 18,-8.25 19,-8.14 20,-8.6 21,-8.23 22,-8.19 23,0"/>
<polyline class="c38" points="14,-.61 15,-1.96 16,-9.69 17,-9.37 18,-8.69 19,-8.61 20,-9.19 21,-9.59 22,-1.17 23,0"/>
<polyline class="c38" points="15,-.61 16,-2.41 17,-6.39 18,-2.24 23,0"/>
<polyline class="c38" points="15,-.61 16,-1.07 17,-9.24 18,-8.07 19,-8.53 20,-.39 23,0"/>
<polyline class="c38" points="15,-.61 16,-2.47 17,-4.55 18,-5.01 19,-2.12 23,0"/>
<polyline class="c38" points="15,-.61 16,-3.88 17,-8.91 18,-9.59 19,-8.63 20,-8.52 21,-9.14 22,-.91 23,0"/>
<polyline class="c38" points="14,-.61 15,-2.06 16,-4.08 17,-4.43 18,-.01 23,0"/>
<polyline class="c38" points="15,-.61 16,-1.7 17,-7.33 18,-7.8 19,-6.98 20,-7.9 21,-7.96 22,-2.01 23,0"/>
<polyline class="c38" points="15,-.61 16,-2.88 17,-5.61 18,-5.84 19,-2.22 23,0"/>
<polyline class="c38" points="15,-.61 16,-4.32 17,-12.39 18,-1.1 23,0"/>
<polyline class="c38" points="15,-.61 16,-3.84 17,-7.69 18,-6.66 19,-.41 23,0"/>
<polyline class="c38" points="15,-.61 16,-2.28 17,-9.28 18,-9.7 19,-10.52 20,-9.95 21,-10.31 22,-1.28 23,0"/>
<polyline class="c38" points="15,-.61 16,-2.17 17,-9.5 18,-9.97 19,-.31 23,0"/>
<polyline class="c38" points="15,-.61 16,-.83 17,-7.09 18,-7.88 19,-7.12 20,-7.19 21,-8.17 22,-2.15 23,0"/>
<polyline class="c38" points="14,-.61 15,-1.33 16,-11.65 17,-12.42 18,-11.52 19,-12.98 20,-12.36 21,-11.54 22,-12.22 23,0"/>
<polyline class="c38" points="15,-.61 16,-1.34 17,-8.21 18,-8.1 19,-7.92 20,-8.64 21,-8.93 22,-7.92 23,0"/>
<polyline class="c38" points="14,-.61 15,-3.86 16,-9.04 17,-9.42 18,-9.03 19,-8.87 20,-9.57 21,-8.67 22,-9.46 23,0"/>
<polyline class="c38" points="15,-.61 16,-1.74 17,-4.99 18,-5.05 19,-5.49 20,-.79 23,0"/>
<polyline class="c38" points="15,-.61 16,-1.12 17,-8.93 18,-10.04 19,-8.89 20,-8.81 21,-10.17 22,-9.32 23,0"/>
<polyline class="c38" points="15,-.61 16,-1.37 17,-11.18 18,-.14 23,0"/>
<polyline class="c38" points="15,-.61 16,-1.01 17,-11.91 18,-11.52 19,-1.38 23,0"/>
<polyline class="c38" points="15,-.61 16,-4.55 17,-12.63 18,-12.12 19,-12.73 20,-.93 23,0"/>
<polyline class="c38" points="15,-.61 16,-1.08 17,-4.55 18,-5.28 19,-5.24 20,-5.3 21,-2.11 23,0"/>
<polyline class="c38" points="15,-.61 16,-4.36 17,-11.15 18,-11.43 19,-1.36 23,0"/>
<polyline class="c38" points="15,-.61 16,-1.97 17,-7.87 18,-7.76 19,-8.08 20,-7.55 21,-1.52 23,0"/>
<polyline class="c38" points="14,-.61 15,-2.79 16,-5.62 17,-5.49 18,-6 19,-1.77 23,0"/>
<polyline class="c38" points="14,-.61 15,-4.18 16,-8.59 17,-7.69 18,-7.78 19,-.85 23,0"/>
<polyline class="c38" points="15,-.61 16,-5.82 17,-12.28 18,-2 23,0"/>
<polyline class="c38" points="15,-.61 16,-.39 17,-4.72 18,-4.19 19,-4.5 20,-1.68 23,0"/>
<polyline class="c38" points="15,-.61 16,-2.44 17,-7.23 18,-6.97 19,-.78 23,0"/>
<polyline class="c38" points="15,-.61 16,-3.19 17,-6.58 18,-6.84 19,-6.6 20,-6.35 21,-6.48 22,-1.4 23,0"/>
<polyline class="c38" points="15,-.61 16,-1.36 17,-4.3 18,-4.54 19,-4.13 20,-4.07 21,-4.51 22,-4.26 23,0"/>
<polyline class="c38" points="15,-.61 16,-2.5 17,-8.77 18,-9.04 19,-.91 23,0"/>
<polyline class="c38" points="15,-.61 16,-1.25 17,-4.6 18,-4.41 19,-4.31 20,-2.02 23,0"/>
<polyline class="c38" points="15,-.61 16,-1.48 17,-5.04 18,-4.63 19,-4.53 20,-4.75 21,-2 23,0"/>
<polyline class="c38" points="15,-.61 16,-.34 17,-7.31 18,-7.18 19,-7.28 20,-6.86 21,-.75 23,0"/>
<polyline class="c38" points="14,-.61 15,-2.57 16,-5.16 17,-5.03 18,-5.53 19,-1.45 23,0"/>
<polyline class="c38" points="14,-.61 15,-2.25 16,-4.4 17,-4.38 18,-4.41 19,-.41 23,0"/>
<polyline class="c38" points="15,-.61 16,-1.8 17,-9.44 18,-.46 23,0"/>
<polyline class="c38" points="14,-.61 15,-1.22 16,-4.43 17,-4.36 18,-4.67 19,-4.48 20,-4.96 21,-1.04 23,0"/>
<polyline class="c38" points="14,-.61 15,-4.88 16,-10.58 17,-10.92 18,-10.87 19,-9.77 20,-.76 23,0"/>
<polyline class="c38" points="15,-.61 16,-3.41 17,-10.06 18,-10.48 19,-10.56 20,-2.03 23,0"/>
<polyline class="c38" points="15,-.61 16,-1.6 17,-10.16 18,-10.24 19,-9.99 20,-9.44 21,-9.56 22,-1.52 23,0"/>
<polyline class="c38" points="15,-.61 16,-1.99 17,-6.91 18,-6.45 19,-6.58 20,-7.19 21,-6.6 22,-6.74 23,0"/>
<polyline class="c38" points="15,-.61 16,-2.61 17,-9.13 18,-9.73 19,-9.58 20,-1.81 23,0"/>
<polyline class="c38" points="15,-.61 16,-2.69 17,-8.63 18,-8.65 19,-2.03 23,0"/>
<polyline class="c38" points="15,-.61 16,-2.07 17,-6.06 18,-1.74 23,0"/>
<polyline class="c38" points="15,-.61 16,-1.88 17,-6.52 18,-6.36 19,-6.29 20,-.88 23,0"/>
<polyline class="c38" points="14,-.61 15,-.43 16,-7.72 17,-7.06 18,-6.95 19,-7.5 20,-7.56 21,-7.57 22,-7.47 23,0"/>
<polyline class="c38" points="15,-.61 16,-2.86 17,-7.87 18,-1.24 23,0"/>
<polyline class="c38" points="14,-.61 15,-1.38 16,-9.4 17,-9.21 18,-8.75 19,-9.66 20,-.72 23,0"/>
<polyline class="c38" points="15,-.61 16,-2.62 17,-6.69 18,-6.14 19,-6.6 20,-6.89 21,-.4 23,0"/>
<polyline class="c38" points="15,-.61 16,-1.55 17,-5.48 18,-4.86 19,-5.52 20,-4.94 21,-5.18 22,-1.76 23,0"/>
<polyline class="c38" points="14,-.61 15,-.24 16,-4.81 17,-5.02 18,-4.74 19,-5.04 20,-4.84 21,-1.33 23,0"/>
<polyline class="c38" points="14,-.61 15,-2.34 16,-10.3 17,-10.39 18,-11.14 19,-10.63 20,-10.68 21,-10.23 22,-1.47 23,0"/>
<polyline class="c38" points="15,-.61 16,-2.2 17,-7.58 18,-7.73 19,-1.83 23,0"/>
<polyline class="c38" points="15,-.61 16,-.66 17,-4.72 18,-4.71 19,-4.96 20,-4.97 21,-1.44 23,0"/>
<polyline class="c38" points="15,-.61 16,-2.28 17,-7.77 18,-8.19 19,-8.66 20,-8.13 21,-8.1 22,-1.28 23,0"/>
<polyline class="c38" points="15,-.61 16,-3.7 17,-11.4 18,-11.23 19,-11.41 20,-11.42 21,-11.68 22,-11.14 23,0"/>
<polyline class="c38" points="14,-.61 15,-3.58 16,-9.56 17,-9.43 18,-8.53 19,-.09 23,0"/>
<polyline class="c38" points="15,-.61 16,-1.36 17,-4.48 18,-4.38 19,-4.6 20,-1.94 23,0"/>
<polyline class="c38" points="15,-.61 16,-4.02 17,-10.16 18,-10.23 19,-10.9 20,-9.81 21,-10.99 22,-10.82 23,0"/>
<polyline class="c38" points="15,-.61 16,-1.29 17,-6.9 18,-.89 23,0"/>
<polyline class="c38" points="15,-.61 16,-.7 17,-5.63 18,-5.57 19,-5.89 20,-1.8 23,0"/>
<polyline class="c38" points="14,-.61 15,-2.14 16,-5.87 17,-6.24 18,-5.83 19,-5.72 20,-5.72 21,-5.79 22,-.93 23,0"/>
<polyline class="c38" points="15,-.61 16,-3.61 17,-12.02 18,-11.4 19,-11.5 20,-11.87 21,-1.01 23,0"/>
<polyline class="c38" points="14,-.61 15,-2.41 16,-5.5 17,-6.24 18,-5.8 19,-6.24 20,-5.47 21,-6.11 22,-5.7 23,0"/>
<polyline class="c38" points="15,-.61 16,-1.43 17,-8.44 18,-7.83 19,-8.75 20,-7.87 21,-8.17 22,-1.66 23,0"/>
<polyline class="c38" points="15,-.61 16,-3.11 17,-6.57 18,-6.55 19,-6.65 20,-7.4 21,-7.45 22,-1.77 23,0"/>
<polyline class="c38" points="14,-.61 15,-3.26 16,-10.69 17,-11.47 18,-10.82 19,-11.14 20,-11.2 21,-10.71 22,-.54 23,0"/>
<polyline class="c38" points="15,-.61 16,-1.08 17,-11.95 18,-11.71 19,-13.2 20,-12.12 21,-13.01 22,-.86 23,0"/>
<polyline class="c38" points="15,-.61 16,-.89 17,-7.19 18,-7.9 19,-8.25 20,-8.08 21,-7.84 22,-1.93 23,0"/>
<polyline class="c38" points="15,-.61 16,-1.62 17,-10 18,-2.05 23,0"/>
<polyline class="c38" points="14,-.61 15,-1 16,-5.91 17,-5.9 18,-5.88 19,-6.72 20,-5.88 21,-1.57 23,0"/>
<polyline class="c38" points="15,-.61 16,-4.3 17,-7.54 18,-7.99 19,-8.09 20,-8.12 21,-8.2 22,-7.71 23,0"/>
<polyline class="c38" points="15,-.61 16,-3.15 17,-11.72 18,-.76 23,0"/>
<polyline class="c38" points="15,-.61 16,-.62 17,-7.25 18,-7.32 19,-7.28 20,-6.71 21,-7.5 22,-1.86 23,0"/>
<polyline class="c38" points="14,-.61 15,-2.47 16,-8.27 17,-7.65 18,-7.45 19,-.33 23,0"/>
<polyline class="c38" points="15,-.61 16,-1.6 17,-6.31 18,-.43 23,0"/>
<polyline class="c38" points="15,-.61 16,-.79 17,-10.33 18,-9.62 19,-11.18 20,-.58 23,0"/>
<polyline class="c38" points="14,-.61 15,-4.13 16,-7.94 17,-8.01 18,-2.26 23,0"/>
<polyline class="c38" points="15,-.61 16,-2.41 17,-10.18 18,-9.88 19,-11.15 20,-10.63 21,-10.8 22,-.59 23,0"/>
<polyline class="c38" points="15,-.61 16,-1.38 17,-7.51 18,-7.32 19,-7.48 20,-.28 23,0"/>
<polyline class="c38" points="15,-.61 16,-4.28 17,-8.74 18,-8.66 19,-.29 23,0"/>
<polyline class="c38" points="15,-.61 16,-1.73 17,-10.4 18,-9.93 19,-9.61 20,-9.81 21,-9.81 22,-.44 23,0"/>
<polyline class="c38" points="15,-.61 16,-4.46 17,-11.46 18,-10.11 19,-11.5 20,-10.31 21,-11.65 22,-10.53 23,0"/>
<polyline class="c38" points="15,-.61 16,-.9 17,-9.72 18,-10.64 19,-9.32 20,-.41 23,0"/>
<polyline class="c38" points="15,-.61 16,-6.09 17,-10.75 18,-11.29 19,-.89 23,0"/>
<polyline class="c38" points="15,-.61 16,-2.35 17,-10.35 18,-10.34 19,-9.43 20,-10.34 21,-10.44 22,-9.59 23,0"/>
<polyline class="c38" points="15,-.61 16,-1.93 17,-10.91 18,-11.42 19,-1.48 23,0"/>
<polyline class="c38" points="15,-.61 16,-.5 17,-6.31 18,-6.85 19,-6.64 20,-7.1 21,-6.62 22,-6.13 23,0"/>
<polyline class="c38" points="15,-.61 16,-1.61 17,-8.28 18,-2.18 23,0"/>
<polyline class="c38" points="15,-.61 16,-2.86 17,-9.29 18,-9.3 19,-8.79 20,-8.67 21,-9.49 22,-1.53 23,0"/>
<polyline class="c38" points="14,-.61 15,-.61 16,-5.63 17,-5 18,-5.42 19,-5.43 20,-4.85 21,-.7 23,0"/>
<polyline class="c38" points="15,-.61 16,-3.32 17,-10.94 18,-11.01 19,-11.46 20,-10.73 21,-11.27 22,-12.34 23,0"/>
<polyline class="c38" points="15,-.61 16,-2.68 17,-11.77 18,-11.53 19,-11.17 20,-10.11 21,-10.85 22,-10.53 23,0"/>
<polyline class="c38" points="15,-.61 16,-2.46 17,-11.27 18,-11.67 19,-10.97 20,-10.2 21,-10.53 22,-1.25 23,0"/>
<polyline class="c38" points="15,-.61 16,-1.55 17,-5.24 18,-5.21 19,-1.32 23,0"/>
<polyline class="c38" points="15,-.61 16,-.77 17,-11.76 18,-11.57 19,-11.76 20,-1.34 23,0"/>
<polyline class="c38" points="15,-.61 16,-3.31 17,-7.77 18,-7.65 19,-7.76 20,-7.42 21,-1.04 23,0"/>
<polyline class="c38" points="14,-.61 15,-2.09 16,-9.08 17,-9.83 18,-.41 23,0"/>
<polyline class="c38" points="15,-.61 16,-1.79 17,-9.13 18,-2.17 23,0"/>
<polyline class="c38" points="15,-.61 16,-2.21 17,-4.41 18,-4.6 19,-1.14 23,0"/>
<polyline class="c38" points="14,-.61 15,-1.18 16,-6.22 17,-6.52 18,-5.77 19,-6.69 20,-6.05 21,-1.13 23,0"/>
</g>
<g transform="translate(214.62 237.24) scale(6.015)">
<polyline class="c39" points="5,0 6,-1.64 7,-2.69 8,-6.24 9,-5.45 10,-7.94 11,-10.78 12,-6.41 13,-9.05 14,-6.75 15,-8.1 16,-3.1 17,-1.88 18,0"/>
<polyline class="c39" points="5,0 6,-2.35 7,-5.03 8,-7.24 9,-8.98 10,-10.22 11,-10.92 12,-11.04 13,-10.46 14,-9.16 15,-7.2 16,-4.66 17,-1.58 18,0"/>
<polyline class="c39" points="5,0 6,-1.46 7,-4.03 8,-6.51 9,-10.02 10,-10.1 11,-11.89 12,-9.36 13,-8.68 14,-8.71 15,-6.79 16,-3.62 17,-1.28 18,0"/>
<polyline class="c39" points="5,0 6,-2.6 7,-5.44 8,-7.76 9,-9.59 10,-10.91 11,-11.69 12,-11.9 13,-11.44 14,-10.26 15,-8.39 16,-5.88 17,-2.68 18,0"/>
<polyline class="c39" points="5,0 6,-1.88 7,-4.95 8,-5.58 9,-7.52 10,-9.94 11,-6.5 12,-6.78 13,-9.96 14,-6.9 15,-5.64 16,-2.56 17,-.14 18,0"/>
<polyline class="c39" points="5,0 6,-2.53 7,-4.91 8,-7.03 9,-8.78 10,-10.09 11,-10.89 12,-11.14 13,-10.58 14,-9.05 15,-6.67 16,-3.63 17,-.08 18,0"/>
<polyline class="c39" points="5,0 6,-2.54 7,-5.44 8,-7.92 9,-9.91 10,-11.32 11,-12.11 12,-12.22 13,-11.6 14,-10.25 15,-8.19 16,-5.46 17,-1.91 18,0"/>
<polyline class="c39" points="5,0 6,-2.44 7,-5.45 8,-8.14 9,-10.35 10,-11.94 11,-12.81 12,-12.91 13,-12.14 14,-10.53 15,-8.17 16,-5.22 17,-1.85 18,0"/>
<polyline class="c39" points="5,0 6,-1.9 7,-4.11 8,-3.68 9,-7.2 10,-5.02 11,-8.58 12,-5.67 13,-6.12 14,-7.59 15,-4.77 16,-2.97 17,-.18 18,0"/>
<polyline class="c39" points="5,0 6,-.82 7,-3.47 8,-5.69 9,-5.26 10,-7.62 11,-5.88 12,-8.75 13,-8.72 14,-8.32 15,-5.04 16,-3.96 17,-1.19 18,0"/>
<polyline class="c39" points="5,0 6,-1.52 7,-2.98 8,-5.42 9,-8.9 10,-8.24 11,-6.53 12,-11.84 13,-9.49 14,-6.27 15,-5.48 16,-3.2 17,-1.27 18,0"/>
<polyline class="c39" points="4,0 5,-.21 6,-2.91 7,-5.37 8,-7.55 9,-9.36 10,-10.73 11,-11.61 12,-11.95 13,-11.51 14,-9.96 15,-7.44 16,-4.25 17,-.78 18,0"/>
<polyline class="c39" points="5,-.02 6,-1.63 7,-3 8,-5.5 9,-4.93 10,-6 11,-9.98 12,-11.25 13,-9.64 14,-5.75 15,-6.22 16,-4.47 17,-1.82 18,0"/>
<polyline class="c39" points="5,0 6,-2.72 7,-5.43 8,-7.76 9,-9.65 10,-11.05 11,-11.9 12,-12.18 13,-11.69 14,-10.33 15,-8.16 16,-5.26 17,-1.63 18,0"/>
<polyline class="c39" points="4,0 5,-.27 6,-3.41 7,-6.1 8,-8.41 9,-10.3 10,-11.71 11,-12.58 12,-12.88 13,-12.37 14,-10.82 15,-8.32 16,-5.04 17,-1.1 18,0"/>
<polyline class="c39" points="5,0 6,-2.49 7,-5.3 8,-7.78 9,-9.8 10,-11.28 11,-12.14 12,-12.34 13,-11.72 14,-10.25 15,-7.99 16,-5 17,-1.16 18,0"/>
<polyline class="c39" points="4,0 5,-.34 6,-2.32 7,-3.87 8,-8.28 9,-5.67 10,-11.2 11,-8.07 12,-7.79 13,-11.15 14,-9.24 15,-5.97 16,-3.29 17,-.19 18,0"/>
<polyline class="c39" points="5,0 6,-2.17 7,-2.95 8,-4.58 9,-5.87 10,-9.09 11,-6.83 12,-9.66 13,-11.58 14,-9.95 15,-4.6 16,-3.35 17,-.77 18,0"/>
<polyline class="c39" points="5,0 6,-1.99 7,-2.71 8,-5.58 9,-6.35 10,-8.52 11,-8.01 12,-8.89 13,-8.44 14,-7.93 15,-5.96 16,-2.45 17,-.12 18,0"/>
<polyline class="c39" points="4,0 5,-.07 6,-2.88 7,-5.44 8,-7.68 9,-9.52 10,-10.87 11,-11.66 12,-11.86 13,-11.34 14,-10.09 15,-8.14 16,-5.52 17,-2.19 18,0"/>
<polyline class="c39" points="5,0 6,-2.39 7,-5.14 8,-7.57 9,-9.57 10,-11.04 11,-11.92 12,-12.15 13,-11.51 14,-9.9 15,-7.46 16,-4.39 17,-.92 18,0"/>
<polyline class="c39" points="5,0 6,-2.75 7,-4.37 8,-7.71 9,-9.86 10,-10.37 11,-9.46 12,-10.53 13,-7.07 14,-9.56 15,-4.38 16,-4.56 17,-1.96 18,0"/>
<polyline class="c39" points="5,0 6,-2.7 7,-5.88 8,-8.49 9,-10.56 10,-12.04 11,-12.88 12,-13.07 13,-12.43 14,-10.96 15,-8.72 16,-5.83 17,-2.4 18,0"/>
<polyline class="c39" points="5,0 6,-2.55 7,-3.25 8,-8.26 9,-8.81 10,-8.93 11,-8.5 12,-10.74 13,-8.52 14,-9.92 15,-6.31 16,-3.8 17,-.46 18,0"/>
<polyline class="c39" points="5,0 6,-1.7 7,-4.2 8,-6.46 9,-8.35 10,-9.78 11,-10.67 12,-10.98 13,-10.52 14,-9.12 15,-6.91 16,-4.04 17,-.66 18,0"/>
<polyline class="c39" points="5,0 6,-3.51 7,-6.39 8,-8.73 9,-10.59 10,-11.95 11,-12.81 12,-13.15 13,-12.65 14,-10.89 15,-8.04 16,-4.39 17,-.34 18,0"/>
<polyline class="c39" points="5,0 6,-1.12 7,-3.56 8,-5.66 9,-4.6 10,-4.62 11,-5.41 12,-7.14 13,-6.25 14,-6.45 15,-4.85 16,-2.15 17,-.66 18,0"/>
<polyline class="c39" points="5,0 6,-1.91 7,-4.64 8,-7.02 9,-8.98 10,-10.44 11,-11.35 12,-11.66 13,-11.21 14,-9.89 15,-7.76 16,-4.88 17,-1.1 18,0"/>
<polyline class="c39" points="5,0 6,-1.89 7,-5.27 8,-6.69 9,-7.59 10,-7.68 11,-6.78 12,-7.68 13,-6.78 14,-6.99 15,-5.69 16,-2.91 17,-1.13 18,0"/>
<polyline class="c39" points="5,0 6,-1.2 7,-3.02 8,-4.9 9,-7.74 10,-5.14 11,-8.62 12,-9.52 13,-8.06 14,-7.15 15,-3.08 16,-3.33 17,-.41 18,0"/>
<polyline class="c39" points="4,0 5,-.44 6,-3.77 7,-6.26 8,-8.3 9,-9.91 10,-11.09 11,-11.82 12,-12.08 13,-11.71 14,-10.54 15,-8.59 16,-5.9 17,-2.41 18,0"/>
<polyline class="c39" points="5,0 6,-2.44 7,-4.95 8,-6.96 9,-8.51 10,-9.61 11,-10.24 12,-10.38 13,-9.83 14,-8.56 15,-6.65 16,-4.23 17,-1.47 18,0"/>
<polyline class="c39" points="4,0 5,-.3 6,-3.42 7,-6.3 8,-8.83 9,-10.86 10,-12.3 11,-13.07 12,-13.11 13,-12.2 14,-10.37 15,-7.74 16,-4.47 17,-.7 18,0"/>
<polyline class="c39" points="4,0 5,-.07 6,-1.75 7,-2.2 8,-3.01 9,-6.26 10,-4.5 11,-7.91 12,-8.53 13,-4.95 14,-7.15 15,-4.11 16,-3.55 17,-1.13 18,0"/>
<polyline class="c39" points="4,0 5,-.15 6,-3 7,-4.16 8,-7.08 9,-9.6 10,-6.39 11,-8.42 12,-8.82 13,-7.41 14,-8.95 15,-6.44 16,-3.71 17,-.56 18,0"/>
<polyline class="c39" points="5,0 6,-1.11 7,-2.05 8,-5.36 9,-7.06 10,-7.06 11,-5.6 12,-6.52 13,-5.98 14,-4.28 15,-3.43 16,-2.64 17,-.3 18,0"/>
<polyline class="c39" points="5,0 6,-3.43 7,-6.35 8,-8.76 9,-10.64 10,-11.95 11,-12.64 12,-12.68 13,-11.98 14,-10.57 15,-8.48 16,-5.79 17,-2.5 18,0"/>
<polyline class="c39" points="4,0 5,-.14 6,-2.17 7,-2.97 8,-4.03 9,-5.93 10,-7.77 11,-9.68 12,-6.19 13,-7.96 14,-7.5 15,-4.95 16,-4.23 17,-.96 18,0"/>
<polyline class="c39" points="4,0 5,-.15 6,-1.46 7,-2.88 8,-3.8 9,-4.58 10,-7.23 11,-8.9 12,-7.2 13,-5.34 14,-6.14 15,-3.98 16,-3.37 17,-.7 18,0"/>
<polyline class="c39" points="5,0 6,-2.88 7,-5.71 8,-8.15 9,-10.12 10,-11.56 11,-12.39 12,-12.59 13,-11.94 14,-10.37 15,-7.98 16,-4.87 17,-1.09 18,0"/>
<polyline class="c39" points="5,0 6,-2.31 7,-5.26 8,-7.72 9,-9.73 10,-11.23 11,-12.19 12,-12.58 13,-12.24 14,-10.95 15,-8.74 16,-5.7 17,-1.72 18,0"/>
<polyline class="c39" points="5,0 6,-1.28 7,-4.15 8,-5.62 9,-7.15 10,-5.47 11,-8.04 12,-5.17 13,-7.08 14,-4.18 15,-4.54 16,-3.92 17,-1.67 18,0"/>
<polyline class="c39" points="5,0 6,-.95 7,-3.38 8,-5.35 9,-7.31 10,-9.26 11,-9.57 12,-9.16 13,-8.33 14,-6.06 15,-5.66 16,-2.17 17,-.23 18,0"/>
<polyline class="c39" points="5,0 6,-2.3 7,-5.19 8,-7.59 9,-9.48 10,-10.82 11,-11.55 12,-11.64 13,-11.06 14,-9.81 15,-7.94 16,-5.46 17,-2.28 18,0"/>
<polyline class="c39" points="4,0 5,-.34 6,-3.37 7,-5.96 8,-8.17 9,-9.95 10,-11.24 11,-11.99 12,-12.16 13,-11.55 14,-10.07 15,-7.81 16,-4.9 17,-1.4 18,0"/>
<polyline class="c39" points="4,0 5,-.42 6,-3.75 7,-6.43 8,-8.66 9,-10.45 10,-11.75 11,-12.52 12,-12.76 13,-12.25 14,-10.86 15,-8.66 16,-5.78 17,-2.31 18,0"/>
<polyline class="c39" points="4,0 5,-.4 6,-2.8 7,-4.86 8,-6.83 9,-7 10,-8.38 11,-10.72 12,-10.55 13,-10.55 14,-6.08 15,-6.33 16,-4.92 17,-2.26 18,0"/>
<polyline class="c39" points="4,0 5,-.07 6,-1.76 7,-4.07 8,-5.39 9,-5.3 10,-7.1 11,-7.4 12,-7.21 13,-7.24 14,-7.28 15,-4.39 16,-2.47 17,-.32 18,0"/>
<polyline class="c39" points="4,0 5,-.33 6,-3.27 7,-5.89 8,-8.14 9,-9.94 10,-11.2 11,-11.88 12,-11.93 13,-11.31 14,-10.02 15,-8.1 16,-5.56 17,-2.31 18,0"/>
<polyline class="c39" points="5,0 6,-1.56 7,-3.12 8,-6.29 9,-5.49 10,-9.09 11,-7.03 12,-8.67 13,-9.33 14,-5.46 15,-5.46 16,-2.72 17,-.22 18,0"/>
<polyline class="c39" points="5,0 6,-2.61 7,-5.25 8,-7.49 9,-9.31 10,-10.67 11,-11.54 12,-11.87 13,-11.39 14,-9.75 15,-7.11 16,-3.76 17,-.11 18,0"/>
<polyline class="c39" points="5,0 6,-1.56 7,-3.2 8,-3.17 9,-3.41 10,-6.47 11,-6.22 12,-4.47 13,-5.93 14,-5.47 15,-3.38 16,-2.96 17,-.46 18,0"/>
<polyline class="c39" points="5,0 6,-2.01 7,-4.34 8,-6.36 9,-8.02 10,-9.27 11,-10.06 12,-10.36 13,-10 14,-8.75 15,-6.73 16,-4.11 17,-1.13 18,0"/>
<polyline class="c39" points="5,0 6,-2.99 7,-5.77 8,-8.07 9,-9.88 10,-11.14 11,-11.83 12,-11.9 13,-11.24 14,-9.85 15,-7.77 16,-5.08 17,-1.74 18,0"/>
<polyline class="c39" points="5,0 6,-2.73 7,-5.51 8,-7.89 9,-9.84 10,-11.28 11,-12.17 12,-12.47 13,-11.99 14,-10.59 15,-8.33 16,-5.29 17,-1.42 18,0"/>
<polyline class="c39" points="4,0 5,-.44 6,-3.26 7,-4.22 8,-5.36 9,-6.63 10,-7.27 11,-11.18 12,-9.37 13,-8.04 14,-8.96 15,-8.07 16,-3.03 17,-1.81 18,0"/>
<polyline class="c39" points="5,0 6,-2.02 7,-4.35 8,-6.32 9,-7.92 10,-9.11 11,-9.83 12,-10.07 13,-9.62 14,-8.3 15,-6.22 16,-3.49 17,-.16 18,0"/>
<polyline class="c39" points="4,0 5,-.16 6,-3.39 7,-6.4 8,-5.29 9,-7.8 10,-6.58 11,-7.39 12,-7.47 13,-9.2 14,-8.03 15,-4.85 16,-2.89 17,-.85 18,0"/>
<polyline class="c39" points="5,0 6,-2.25 7,-5.19 8,-7.81 9,-9.99 10,-11.64 11,-12.68 12,-13.04 13,-12.6 14,-11.21 15,-8.93 16,-5.84 17,-1.85 18,0"/>
<polyline class="c39" points="5,0 6,-2.6 7,-5.59 8,-8.14 9,-10.19 10,-11.65 11,-12.49 12,-12.65 13,-12.01 14,-10.54 15,-8.29 16,-5.28 17,-1.33 18,0"/>
<polyline class="c39" points="5,0 6,-1.64 7,-4.26 8,-6.67 9,-8.72 10,-10.3 11,-11.32 12,-11.73 13,-11.4 14,-10.16 15,-8.04 16,-5.08 17,-1 18,0"/>
<polyline class="c39" points="5,0 6,-1.83 7,-4.3 8,-6.61 9,-8.6 10,-10.14 11,-11.15 12,-11.56 13,-11.25 14,-10.02 15,-7.96 16,-5.21 17,-1.92 18,0"/>
<polyline class="c39" points="5,0 6,-2.52 7,-5.29 8,-7.42 9,-6.06 10,-8.56 11,-11.21 12,-8.04 13,-9.63 14,-5.42 15,-5.35 16,-4.11 17,-.27 18,0"/>
<polyline class="c39" points="5,0 6,-1.28 7,-2.29 8,-3.35 9,-4.49 10,-6.21 11,-7.19 12,-5.75 13,-9.23 14,-5.6 15,-4.15 16,-2.89 17,-1.25 18,0"/>
<polyline class="c39" points="5,0 6,-1.79 7,-3.73 8,-4.91 9,-5.55 10,-9.17 11,-8.49 12,-5.17 13,-5.31 14,-7.75 15,-5.46 16,-2.07 17,-.08 18,0"/>
<polyline class="c39" points="5,0 6,-1.37 7,-3.19 8,-6.07 9,-5.74 10,-9.28 11,-6.58 12,-6.23 13,-6.08 14,-5.99 15,-3.69 16,-2.86 17,-.18 18,0"/>
<polyline class="c39" points="4,0 5,-.09 6,-3.4 7,-5.98 8,-8.11 9,-9.76 10,-10.89 11,-11.48 12,-11.46 13,-10.62 14,-8.96 15,-6.64 16,-3.83 17,-.8 18,0"/>
<polyline class="c39" points="5,0 6,-2.95 7,-5.95 8,-8.51 9,-10.56 10,-12 11,-12.78 12,-12.82 13,-11.89 14,-10 15,-7.33 16,-4.11 17,-.69 18,0"/>
<polyline class="c39" points="5,0 6,-2.03 7,-3.63 8,-6.14 9,-8.49 10,-7.43 11,-8.46 12,-5.61 13,-9.97 14,-5.16 15,-5.38 16,-2.8 17,-.7 18,0"/>
<polyline class="c39" points="5,0 6,-2.83 7,-5.33 8,-7.51 9,-9.27 10,-10.56 11,-11.31 12,-11.49 13,-10.92 14,-9.53 15,-7.4 16,-4.66 17,-1.37 18,0"/>
<polyline class="c39" points="5,0 6,-3.3 7,-6.03 8,-8.24 9,-10.01 10,-11.3 11,-12.12 12,-12.44 13,-12.1 14,-10.91 15,-8.88 16,-6.07 17,-2.43 18,0"/>
<polyline class="c39" points="5,0 6,-1.03 7,-3 8,-6.3 9,-6.04 10,-9.07 11,-7.08 12,-8.04 13,-6.77 14,-10.25 15,-4.2 16,-3.59 17,-.94 18,0"/>
<polyline class="c39" points="5,0 6,-1.77 7,-3.94 8,-4.33 9,-5.61 10,-7.42 11,-7.07 12,-7.08 13,-8.53 14,-6.89 15,-6.07 16,-3.34 17,-.3 18,0"/>
<polyline class="c39" points="5,0 6,-2.58 7,-3.67 8,-4.24 9,-7.93 10,-7.3 11,-10.74 12,-9.56 13,-6.66 14,-9.68 15,-4.49 16,-4.76 17,-1.12 18,0"/>
<polyline class="c39" points="5,0 6,-1.39 7,-4.69 8,-6.98 9,-5.24 10,-10.57 11,-8.78 12,-11.65 13,-9.98 14,-5.23 15,-6.42 16,-3.78 17,-.28 18,0"/>
<polyline class="c39" points="4,0 5,-.05 6,-1.41 7,-3.29 8,-3.94 9,-5.11 10,-6.05 11,-8.11 12,-8.69 13,-8.2 14,-7.85 15,-5 16,-2.8 17,-.75 18,0"/>
<polyline class="c39" points="5,0 6,-1.31 7,-3.77 8,-7.53 9,-7.38 10,-11.9 11,-8.76 12,-11.29 13,-11.58 14,-7.69 15,-4.15 16,-2.26 17,-.65 18,0"/>
<polyline class="c39" points="5,0 6,-1.07 7,-2.88 8,-4.65 9,-3.49 10,-4.87 11,-7.46 12,-7.78 13,-7.92 14,-4.84 15,-5.1 16,-2.47 17,-.78 18,0"/>
<polyline class="c39" points="5,0 6,-2.56 7,-5.65 8,-8.18 9,-10.16 10,-11.56 11,-12.34 12,-12.46 13,-11.68 14,-9.99 15,-7.48 16,-4.26 17,-.31 18,0"/>
<polyline class="c39" points="5,0 6,-2.2 7,-3.47 8,-6.25 9,-5.2 10,-9.09 11,-7.29 12,-10.37 13,-12.16 14,-7.1 15,-5.74 16,-3.45 17,-1.13 18,0"/>
<polyline class="c39" points="5,0 6,-1.51 7,-3.95 8,-5.72 9,-7.23 10,-5.42 11,-7.33 12,-7.84 13,-7.37 14,-6.34 15,-4.51 16,-1.8 17,-.27 18,0"/>
<polyline class="c39" points="5,0 6,-1.39 7,-3.6 8,-5.66 9,-7.42 10,-8.78 11,-9.65 12,-9.97 13,-9.65 14,-8.6 15,-6.87 16,-4.56 17,-1.73 18,0"/>
<polyline class="c39" points="4,0 5,-.1 6,-2.26 7,-3.03 8,-6.12 9,-9.14 10,-11.45 11,-12.77 12,-7.64 13,-8.8 14,-7.44 15,-4.78 16,-5.29 17,-1.45 18,0"/>
<polyline class="c39" points="5,0 6,-3.44 7,-6.26 8,-8.57 9,-10.38 10,-11.65 11,-12.34 12,-12.42 13,-11.57 14,-9.79 15,-7.2 16,-4.03 17,-.51 18,0"/>
<polyline class="c39" points="5,0 6,-2.25 7,-5.63 8,-4.89 9,-6.07 10,-8.2 11,-8.35 12,-6.38 13,-6.52 14,-8.59 15,-3.74 16,-4.01 17,-.07 18,0"/>
<polyline class="c39" points="4,0 5,-.25 6,-3.07 7,-5.81 8,-8.29 9,-10.35 10,-11.89 11,-12.82 12,-13.1 13,-12.6 14,-11.29 15,-9.21 16,-6.41 17,-2.83 18,0"/>
<polyline class="c39" points="4,0 5,-.11 6,-2.92 7,-5.09 8,-7.66 9,-8.55 10,-10.24 11,-9.49 12,-8.61 13,-8.16 14,-7.91 15,-7.3 16,-2.74 17,-1.34 18,0"/>
<polyline class="c39" points="5,0 6,-2.18 7,-4.69 8,-6.89 9,-8.67 10,-9.93 11,-10.59 12,-10.61 13,-9.95 14,-8.61 15,-6.65 16,-4.11 17,-.84 18,0"/>
<polyline class="c39" points="5,0 6,-1.8 7,-4.03 8,-4.36 9,-7.46 10,-6.24 11,-7.65 12,-8.04 13,-10.59 14,-7.17 15,-4.73 16,-2.87 17,-.9 18,0"/>
<polyline class="c39" points="4,0 5,-.25 6,-2.8 7,-4.32 8,-7.3 9,-8.93 10,-8.1 11,-8.22 12,-10.01 13,-6.81 14,-9.7 15,-6.51 16,-3.28 17,-1.15 18,0"/>
<polyline class="c39" points="5,0 6,-1.33 7,-2.77 8,-4.53 9,-5.31 10,-9.87 11,-6.44 12,-8.49 13,-6.96 14,-9.05 15,-4.95 16,-5.59 17,-1.61 18,0"/>
<polyline class="c39" points="5,0 6,-1.6 7,-3.63 8,-6.27 9,-6.49 10,-10.16 11,-10.08 12,-12.22 13,-10.14 14,-5.74 15,-8.16 16,-3.26 17,-2.18 18,0"/>
<polyline class="c39" points="5,0 6,-2.2 7,-4.89 8,-5.51 9,-6.47 10,-9.58 11,-6.33 12,-12.16 13,-6.77 14,-6.29 15,-6.04 16,-4.11 17,-.62 18,0"/>
<polyline class="c39" points="5,0 6,-2.46 7,-4.81 8,-6.92 9,-8.68 10,-10.02 11,-10.87 12,-11.19 13,-10.8 14,-9.5 15,-7.37 16,-4.54 17,-1.13 18,0"/>
<polyline class="c39" points="5,0 6,-2.75 7,-4.56 8,-6.1 9,-6.58 10,-11.57 11,-9.59 12,-9.59 13,-9.89 14,-5.98 15,-7.35 16,-3.36 17,-1.88 18,0"/>
<polyline class="c39" points="5,0 6,-2.71 7,-5.51 8,-4.98 9,-5.97 10,-8.22 11,-6.75 12,-5.85 13,-8.57 14,-8.39 15,-4.58 16,-3.06 17,-1.5 18,0"/>
<polyline class="c39" points="5,0 6,-2.75 7,-5.39 8,-7.71 9,-9.63 10,-11.07 11,-11.95 12,-12.25 13,-11.79 14,-10.43 15,-8.25 16,-5.37 17,-1.85 18,0"/>
<polyline class="c39" points="5,0 6,-1.99 7,-4.67 8,-7.12 9,-9.18 10,-10.76 11,-11.77 12,-12.15 13,-11.69 14,-10.18 15,-7.75 16,-4.65 17,-1.21 18,0"/>
<polyline class="c39" points="5,0 6,-1.87 7,-4.86 8,-7.55 9,-9.76 10,-11.32 11,-12.14 12,-12.16 13,-11.47 14,-10.09 15,-8.07 16,-5.41 17,-1.98 18,0"/>
<polyline class="c39" points="5,0 6,-2.82 7,-5.76 8,-8.42 9,-10.61 10,-12.19 11,-13.04 12,-13.12 13,-12.32 14,-10.66 15,-8.23 16,-5.1 17,-1.24 18,0"/>
<polyline class="c39" points="5,0 6,-1.76 7,-4.5 8,-6.94 9,-8.95 10,-10.44 11,-11.31 12,-11.51 13,-10.92 14,-9.5 15,-7.36 16,-4.64 17,-1.49 18,0"/>
<polyline class="c39" points="4,0 5,-.08 6,-2.05 7,-3.26 8,-4.63 9,-5.89 10,-4.86 11,-8.46 12,-6.87 13,-7.32 14,-4.45 15,-4.86 16,-2.28 17,-.15 18,0"/>
<polyline class="c39" points="5,0 6,-1.92 7,-3.93 8,-6.19 9,-7 10,-8.74 11,-9.92 12,-8.99 13,-7.06 14,-7.66 15,-5.2 16,-2.68 17,-.68 18,0"/>
<polyline class="c39" points="5,0 6,-2.91 7,-5.04 8,-8.48 9,-6.67 10,-11.3 11,-12.12 12,-9.29 13,-11.55 14,-7.91 15,-7.64 16,-4.12 17,-1.31 18,0"/>
<polyline class="c39" points="4,0 5,-.12 6,-1.81 7,-2.84 8,-5.66 9,-8.09 10,-7.44 11,-8.32 12,-5.6 13,-5.4 14,-5.68 15,-5.51 16,-3.08 17,-1.06 18,0"/>
<polyline class="c39" points="5,0 6,-2.65 7,-5.14 8,-6.92 9,-6.17 10,-9.26 11,-8.35 12,-11.31 13,-9.59 14,-6.28 15,-6.31 16,-2.42 17,-1.02 18,0"/>
<polyline class="c39" points="5,0 6,-2.17 7,-3.56 8,-5.34 9,-5.67 10,-7.64 11,-8.34 12,-5.65 13,-4.99 14,-6.29 15,-3.17 16,-3.29 17,-.95 18,0"/>
<polyline class="c39" points="4,0 5,-.09 6,-1.65 7,-4.26 8,-7.07 9,-7.64 10,-10.23 11,-11.75 12,-8.17 13,-11.1 14,-5.29 15,-4.41 16,-3.9 17,-.16 18,0"/>
<polyline class="c39" points="5,0 6,-1.71 7,-3.83 8,-5.62 9,-7.05 10,-8.08 11,-8.67 12,-8.81 13,-8.39 14,-7.38 15,-5.8 16,-3.71 17,-.98 18,0"/>
<polyline class="c39" points="5,-.01 6,-2.59 7,-4.81 8,-6.73 9,-8.31 10,-9.49 11,-10.24 12,-10.52 13,-10.21 14,-9.13 15,-7.34 16,-4.87 17,-1.61 18,0"/>
<polyline class="c39" points="5,0 6,-1.3 7,-3.68 8,-5.8 9,-5.35 10,-11.27 11,-11.13 12,-11 13,-7.31 14,-8.39 15,-7.48 16,-3.87 17,-1.29 18,0"/>
<polyline class="c39" points="5,0 6,-2.47 7,-4.81 8,-6.78 9,-8.35 10,-9.52 11,-10.23 12,-10.48 13,-9.99 14,-8.54 15,-6.26 16,-3.39 17,-.23 18,0"/>
<polyline class="c39" points="5,0 6,-3.01 7,-5.92 8,-8.43 9,-10.47 10,-11.96 11,-12.82 12,-13.01 13,-12.33 14,-10.68 15,-8.15 16,-4.79 17,-.28 18,0"/>
<polyline class="c39" points="5,0 6,-1.41 7,-3.09 8,-4.32 9,-7.49 10,-6.45 11,-8.04 12,-5.36 13,-8.05 14,-7.28 15,-6.23 16,-2.5 17,-.8 18,0"/>
<polyline class="c39" points="5,0 6,-1.57 7,-3.09 8,-6.52 9,-5.4 10,-9.85 11,-6.55 12,-12.26 13,-8.67 14,-10.04 15,-5.82 16,-3.63 17,-.56 18,0"/>
<polyline class="c39" points="5,0 6,-2.67 7,-5.49 8,-7.77 9,-9.53 10,-10.75 11,-11.38 12,-11.39 13,-10.56 14,-8.92 15,-6.57 16,-3.65 17,-.26 18,0"/>
<polyline class="c39" points="5,0 6,-2.4 7,-5.46 8,-8.07 9,-10.18 10,-11.71 11,-12.6 12,-12.8 13,-12.1 14,-10.43 15,-7.92 16,-4.7 17,-.9 18,0"/>
<polyline class="c39" points="5,0 6,-1.22 7,-3.95 8,-4.39 9,-7.13 10,-8.13 11,-5.57 12,-7 13,-9.88 14,-8.18 15,-6.68 16,-2.37 17,-.72 18,0"/>
<polyline class="c39" points="5,0 6,-2.08 7,-3.51 8,-4.44 9,-5.3 10,-7.27 11,-11.02 12,-9.59 13,-8.46 14,-8.7 15,-5.38 16,-4.27 17,-1.03 18,0"/>
<polyline class="c39" points="4,0 5,-.04 6,-2.98 7,-3.89 8,-7.85 9,-5.43 10,-5.58 11,-7.43 12,-9.74 13,-9.78 14,-10.16 15,-5.49 16,-5.21 17,-.81 18,0"/>
<polyline class="c39" points="4,0 5,-.05 6,-1.75 7,-3.73 8,-3.27 9,-4.69 10,-4.5 11,-5.8 12,-4.23 13,-4.09 14,-3.56 15,-4.87 16,-2.15 17,-.34 18,0"/>
<polyline class="c39" points="5,0 6,-2.19 7,-3.89 8,-5.3 9,-6.4 10,-7.18 11,-7.61 12,-7.68 13,-7.25 14,-6.29 15,-4.87 16,-3.08 17,-1.01 18,0"/>
<polyline class="c39" points="5,0 6,-3.55 7,-6.31 8,-8.6 9,-10.43 10,-11.76 11,-12.58 12,-12.86 13,-12.42 14,-11.12 15,-8.99 16,-6.08 17,-2.3 18,0"/>
<polyline class="c39" points="5,0 6,-2.01 7,-3.05 8,-5.11 9,-5.94 10,-6.69 11,-10.46 12,-10.46 13,-6.96 14,-8.44 15,-6.91 16,-4.61 17,-1.15 18,0"/>
<polyline class="c39" points="5,0 6,-2.95 7,-6.17 8,-8.73 9,-10.71 10,-12.1 11,-12.86 12,-12.97 13,-12.1 14,-10.21 15,-7.45 16,-4.02 17,-.1 18,0"/>
<polyline class="c39" points="5,0 6,-2.5 7,-5.5 8,-7.99 9,-9.98 10,-11.42 11,-12.28 12,-12.53 13,-11.94 14,-10.39 15,-8 16,-4.95 17,-1.42 18,0"/>
<polyline class="c39" points="5,0 6,-1.07 7,-2.31 8,-5.42 9,-5.87 10,-5.63 11,-5.96 12,-9.6 13,-8.6 14,-7.2 15,-5.73 16,-3.76 17,-1.63 18,0"/>
<polyline class="c39" points="4,0 5,-.04 6,-2.81 7,-5.57 8,-8.08 9,-10.19 10,-11.79 11,-12.78 12,-13.1 13,-12.56 14,-11.02 15,-8.56 16,-5.34 17,-1.44 18,0"/>
<polyline class="c39" points="5,0 6,-3.13 7,-6.07 8,-8.43 9,-10.27 10,-11.58 11,-12.34 12,-12.53 13,-11.84 14,-10.15 15,-7.58 16,-4.31 17,-.48 18,0"/>
<polyline class="c39" points="5,0 6,-1.37 7,-3.91 8,-5.19 9,-4.9 10,-5.21 11,-5.05 12,-7.38 13,-5.84 14,-5.11 15,-4.26 16,-1.62 17,-.45 18,0"/>
<polyline class="c39" points="5,0 6,-1.77 7,-4.27 8,-6.47 9,-8.28 10,-9.63 11,-10.43 12,-10.66 13,-10.17 14,-8.91 15,-6.93 16,-4.33 17,-1.05 18,0"/>
<polyline class="c39" points="5,0 6,-1.81 7,-4.06 8,-6.14 9,-7.9 10,-9.27 11,-10.16 12,-10.52 13,-10.21 14,-8.97 15,-6.92 16,-4.26 17,-1.25 18,0"/>
<polyline class="c39" points="5,0 6,-2.82 7,-5.73 8,-8.26 9,-10.31 10,-11.8 11,-12.68 12,-12.91 13,-12.32 14,-10.84 15,-8.53 16,-5.4 17,-1.18 18,0"/>
<polyline class="c39" points="5,0 6,-1.53 7,-4.51 8,-5.11 9,-8.59 10,-9.92 11,-11.37 12,-8.78 13,-9.21 14,-7.75 15,-7.32 16,-3.27 17,-.6 18,0"/>
<polyline class="c39" points="5,0 6,-2.68 7,-5.91 8,-8.53 9,-10.6 10,-12.1 11,-12.99 12,-13.24 13,-12.61 14,-11 15,-8.52 16,-5.38 17,-1.85 18,0"/>
<polyline class="c39" points="5,0 6,-2.77 7,-5.51 8,-7.91 9,-9.88 10,-11.31 11,-12.14 12,-12.32 13,-11.69 14,-10.2 15,-7.92 16,-4.9 17,-1.06 18,0"/>
<polyline class="c39" points="4,0 5,-.24 6,-3 7,-5.71 8,-8.18 9,-10.26 10,-11.84 11,-12.82 12,-13.16 13,-12.52 14,-10.63 15,-7.69 16,-4.01 17,-.03"/>
<polyline class="c39" points="5,0 6,-1.57 7,-5.59 8,-5.81 9,-10.41 10,-12.17 11,-12.42 12,-8.68 13,-11.78 14,-10.63 15,-8.06 16,-3.7 17,-.82 18,0"/>
<polyline class="c39" points="4,0 5,-.14 6,-2.93 7,-5.04 8,-6.23 9,-5.88 10,-6.09 11,-7.83 12,-7.47 13,-8.67 14,-8.4 15,-6.72 16,-5.13 17,-1.45 18,0"/>
<polyline class="c39" points="5,0 6,-2.68 7,-5.22 8,-5.68 9,-8.71 10,-9.03 11,-10.03 12,-8.23 13,-6.75 14,-9.28 15,-4.46 16,-4.89 17,-1.37 18,0"/>
<polyline class="c39" points="5,0 6,-2.8 7,-5.57 8,-7.87 9,-9.7 10,-10.99 11,-11.7 12,-11.78 13,-10.99 14,-9.3 15,-6.83 16,-3.77 17,-.27 18,0"/>
<polyline class="c39" points="5,0 6,-2 7,-4.78 8,-7.13 9,-8.99 10,-10.29 11,-10.97 12,-10.99 13,-10.26 14,-8.82 15,-6.74 16,-4.13 17,-1.02 18,0"/>
<polyline class="c39" points="5,0 6,-1.85 7,-4.79 8,-4.46 9,-8.44 10,-6.58 11,-8.77 12,-11.61 13,-10.63 14,-8.86 15,-7.02 16,-3.9 17,-.39 18,0"/>
<polyline class="c39" points="5,0 6,-2.96 7,-5.83 8,-8.39 9,-10.5 10,-12.03 11,-12.91 12,-13.09 13,-12.45 14,-11 15,-8.8 16,-5.92 17,-2.4 18,0"/>
<polyline class="c39" points="5,0 6,-2.43 7,-3.23 8,-4.31 9,-8.19 10,-10.14 11,-10.84 12,-12.65 13,-6.14 14,-9.71 15,-4.76 16,-3.2 17,-.13 18,0"/>
<polyline class="c39" points="5,0 6,-3.24 7,-6.08 8,-8.49 9,-10.44 10,-11.87 11,-12.75 12,-13.05 13,-12.49 14,-10.89 15,-8.31 16,-4.86 17,-.31 18,0"/>
<polyline class="c39" points="5,0 6,-2.6 7,-5.31 8,-7.63 9,-9.47 10,-10.76 11,-11.42 12,-11.42 13,-10.66 14,-9.18 15,-7.08 16,-4.47 17,-1.48 18,0"/>
<polyline class="c39" points="5,0 6,-2.21 7,-5.08 8,-7.73 9,-9.98 10,-11.68 11,-12.74 12,-13.09 13,-12.56 14,-11.04 15,-8.66 16,-5.58 17,-2.01 18,0"/>
<polyline class="c39" points="5,0 6,-1.98 7,-4.59 8,-6.88 9,-8.8 10,-10.26 11,-11.21 12,-11.61 13,-11.27 14,-9.89 15,-7.6 16,-4.58 17,-1.09 18,0"/>
<polyline class="c39" points="5,0 6,-1.12 7,-2.23 8,-2.91 9,-4.47 10,-5.83 11,-4.56 12,-7.34 13,-5.36 14,-4.42 15,-3.55 16,-2.69 17,-.36 18,0"/>
<polyline class="c39" points="4,0 5,-.12 6,-1.68 7,-2.09 8,-4.93 9,-5.37 10,-7.22 11,-6.12 12,-6.83 13,-6.29 14,-4.45 15,-4.34 16,-2.84 17,-1.07 18,0"/>
<polyline class="c39" points="5,0 6,-1.59 7,-3.89 8,-5.91 9,-7.57 10,-8.79 11,-9.52 12,-9.7 13,-9.27 14,-8.21 15,-6.56 16,-4.4 17,-1.71 18,0"/>
<polyline class="c39" points="4,0 5,-.24 6,-2.03 7,-5.11 8,-8.83 9,-7.86 10,-9.37 11,-9.99 12,-11.21 13,-9.02 14,-10.99 15,-8.93 16,-5.49 17,-1.2 18,0"/>
<polyline class="c39" points="4,0 5,-.48 6,-3.84 7,-6.42 8,-8.56 9,-10.25 10,-11.5 11,-12.26 12,-12.53 13,-12.13 14,-10.85 15,-8.74 16,-5.88 17,-2.22 18,0"/>
<polyline class="c39" points="4,0 5,-.15 6,-2.55 7,-3.73 8,-5.2 9,-5.97 10,-9.65 11,-10.8 12,-6.9 13,-6.8 14,-7.73 15,-5.3 16,-3.13 17,-.22 18,0"/>
<polyline class="c39" points="5,0 6,-1.83 7,-3.94 8,-4.04 9,-8.68 10,-7.37 11,-9.91 12,-11.86 13,-8.88 14,-8.42 15,-6.48 16,-3.04 17,-.6 18,0"/>
<polyline class="c39" points="5,0 6,-1.76 7,-2.7 8,-5.47 9,-8.88 10,-8.04 11,-9.27 12,-12.26 13,-7.38 14,-7.06 15,-8.17 16,-4.01 17,-1.69 18,0"/>
<polyline class="c39" points="5,0 6,-2.42 7,-4.96 8,-7.18 9,-8.99 10,-10.28 11,-10.99 12,-11.06 13,-10.36 14,-8.92 15,-6.83 16,-4.24 17,-1.34 18,0"/>
<polyline class="c39" points="5,0 6,-2.51 7,-4.97 8,-6.97 9,-8.53 10,-9.63 11,-10.24 12,-10.32 13,-9.67 14,-8.26 15,-6.19 16,-3.64 17,-.8 18,0"/>
<polyline class="c39" points="5,0 6,-2.01 7,-4.96 8,-7.62 9,-9.85 10,-11.54 11,-12.6 12,-12.97 13,-12.48 14,-11.02 15,-8.62 16,-5.32 17,-.72 18,0"/>
<polyline class="c39" points="5,0 6,-1.96 7,-4.66 8,-4.45 9,-4.79 10,-8.16 11,-10.41 12,-11.5 13,-7.72 14,-5.85 15,-7.56 16,-4.76 17,-.72 18,0"/>
<polyline class="c39" points="5,0 6,-2.41 7,-2.73 8,-4.8 9,-6.02 10,-10.99 11,-7.6 12,-9.85 13,-6.35 14,-8.81 15,-7.68 16,-2.93 17,-.22 18,0"/>
<polyline class="c39" points="5,0 6,-1.36 7,-3.4 8,-5.22 9,-6.7 10,-7.76 11,-8.33 12,-8.38 13,-7.88 14,-6.86 15,-5.36 16,-3.48 17,-1.32 18,0"/>
<polyline class="c39" points="5,0 6,-2.02 7,-4.18 8,-5.94 9,-7.34 10,-8.38 11,-9.03 12,-9.28 13,-8.98 14,-7.96 15,-6.25 16,-3.87 17,-.61 18,0"/>
<polyline class="c39" points="5,0 6,-1.75 7,-3.52 8,-4.33 9,-7.36 10,-7.74 11,-6.39 12,-10.07 13,-7.67 14,-6.64 15,-4.23 16,-4.42 17,-1.64 18,0"/>
<polyline class="c39" points="5,0 6,-2 7,-4.09 8,-5.88 9,-7.34 10,-8.44 11,-9.13 12,-9.39 13,-9.07 14,-7.96 15,-6.14 16,-3.71 17,-.73 18,0"/>
<polyline class="c39" points="4,0 5,-.05 6,-2.62 7,-5.02 8,-7.16 9,-8.93 10,-10.22 11,-10.99 12,-11.18 13,-10.62 14,-9.23 15,-7.09 16,-4.24 17,-.52 18,0"/>
<polyline class="c39" points="4,0 5,-.53 6,-3.95 7,-6.54 8,-8.65 9,-10.29 10,-11.46 11,-12.12 12,-12.25 13,-11.66 14,-10.27 15,-8.17 16,-5.45 17,-2.15 18,0"/>
<polyline class="c39" points="5,0 6,-1.56 7,-2.92 8,-4.06 9,-6.78 10,-8.2 11,-9.12 12,-8.72 13,-5.8 14,-6.03 15,-5.34 16,-3.43 17,-.73 18,0"/>
<polyline class="c39" points="5,0 6,-2.39 7,-4.64 8,-8.2 9,-7.46 10,-7.75 11,-6.56 12,-10.77 13,-8.14 14,-8.58 15,-6.25 16,-3.38 17,-.46 18,0"/>
<polyline class="c25" points="5,0 6,-.58 7,-1.15 8,-1.62 9,-1.99 10,-2.27 11,-2.43 12,-2.49 13,-2.39 14,-2.12 15,-1.69 16,-1.13 17,-.45 18,0"/>
<polyline class="c25" points="5,0 6,-1.87 7,-3.2 8,-6.3 9,-6.32 10,-4.16 11,-4.35 12,-4.58 13,-8.73 14,-7.1 15,-4.02 16,-2.86 17,-.91 18,0"/>
<polyline class="c25" points="5,0 6,-.11 7,-.54 8,-.53 9,-.8 10,-1.24 11,-1.34 12,-.6 13,-1.15 14,-.93 15,-.58 16,-.6 17,-.26 18,0"/>
<polyline class="c25" points="4,0 5,-.07 6,-1.47 7,-2.75 8,-3.89 9,-4.82 10,-5.49 11,-5.88 12,-5.95 13,-5.65 14,-4.95 15,-3.88 16,-2.45 17,-.58 18,0"/>
<polyline class="c25" points="5,0 6,-.54 7,-.63 8,-1.21 9,-1.46 10,-2.57 11,-2.44 12,-2.65 13,-2.86 14,-2.82 15,-2.2 16,-1.5 17,-.49 18,0"/>
<polyline class="c25" points="5,0 6,-1.16 7,-1.32 8,-2.53 9,-2.19 10,-4.39 11,-3.01 12,-4.6 13,-4.02 14,-3.06 15,-2.18 16,-1.77 17,-.3 18,0"/>
<polyline class="c25" points="5,0 6,-2.65 7,-5.02 8,-7.06 9,-8.71 10,-9.9 11,-10.59 12,-10.73 13,-10.12 14,-8.67 15,-6.49 16,-3.72 17,-.42 18,0"/>
<polyline class="c25" points="5,0 6,-.47 7,-1.07 8,-1.27 9,-2 10,-1.56 11,-1.84 12,-1.65 13,-1.59 14,-1.34 15,-1.22 16,-.46 17,-.07 18,0"/>
<polyline class="c25" points="4,0 5,-.04 6,-1.82 7,-3.33 8,-4.62 9,-5.64 10,-6.37 11,-6.77 12,-6.82 13,-6.45 14,-5.65 15,-4.45 16,-2.88 17,-.92 18,0"/>
<polyline class="c25" points="5,0 6,-.46 7,-.98 8,-1.43 9,-1.8 10,-2.08 11,-2.25 12,-2.3 13,-2.2 14,-1.9 15,-1.45 16,-.86 17,-.2 18,0"/>
<polyline class="c25" points="5,0 6,-1.3 7,-3.03 8,-3.06 9,-4.99 10,-4.95 11,-9.09 12,-4.45 13,-5.92 14,-7.21 15,-3.49 16,-3.01 17,-.56 18,0"/>
<polyline class="c25" points="5,0 6,-.6 7,-1.31 8,-2.08 9,-2.7 10,-1.49 11,-3.09 12,-2.39 13,-2.12 14,-2.41 15,-1.22 16,-.94 17,-.47 18,0"/>
<polyline class="c25" points="5,0 6,-.54 7,-1.4 8,-2.33 9,-3.45 10,-2.23 11,-3.82 12,-4.35 13,-4.09 14,-3.41 15,-1.17 16,-1.1 17,-.12 18,0"/>
<polyline class="c25" points="5,0 6,-1.47 7,-2.82 8,-4.27 9,-5.33 10,-3.36 11,-5.01 12,-4.49 13,-4.21 14,-2.36 15,-3.08 16,-1.86 17,-.43 18,0"/>
<polyline class="c25" points="5,0 6,-.09 7,-.25 8,-.47 9,-.36 10,-.54 11,-.51 12,-.61 13,-.37 14,-.36 15,-.42 16,-.23 17,-.1 18,0"/>
<polyline class="c25" points="5,0 6,-.08 7,-.23 8,-.61 9,-.48 10,-.52 11,-.48 12,-.9 13,-.74 14,-.63 15,-.52 16,-.33 17,-.11 18,0"/>
<polyline class="c25" points="5,0 6,-1.72 7,-1.53 8,-3.33 9,-3.26 10,-4.11 11,-5.02 12,-7.87 13,-5.03 14,-4.49 15,-4.13 16,-2.56 17,-.23 18,0"/>
<polyline class="c25" points="5,0 6,-.25 7,-.58 8,-.68 9,-.49 10,-.7 11,-1.16 12,-.91 13,-.53 14,-.43 15,-.69 16,-.4 17,-.06 18,0"/>
<polyline class="c25" points="5,0 6,-.16 7,-.73 8,-.57 9,-1.33 10,-1.37 11,-1.29 12,-.98 13,-1.23 14,-.6 15,-1.05 16,-.54 17,0"/>
<polyline class="c25" points="5,0 6,-1.32 7,-3.44 8,-5.24 9,-4.97 10,-5.53 11,-9.85 12,-9.19 13,-4.96 14,-5.25 15,-5.67 16,-2.98 17,-1.35 18,0"/>
<polyline class="c25" points="4,0 5,-.22 6,-2.58 7,-3.93 8,-5.24 9,-6.91 10,-5.92 11,-8.64 12,-6.95 13,-7.19 14,-6.76 15,-2.38 16,-1.6 17,-.69 18,0"/>
<polyline class="c25" points="5,0 6,-.32 7,-.51 8,-.9 9,-1.75 10,-1.47 11,-1.67 12,-3.05 13,-1.87 14,-2.06 15,-.95 16,-1.44 17,-.34 18,0"/>
<polyline class="c25" points="5,0 6,-.3 7,-.9 8,-1.58 9,-2.38 10,-1.62 11,-3.05 12,-2.71 13,-2.16 14,-1.31 15,-1.19 16,-1.07 17,-.39 18,0"/>
<polyline class="c25" points="5,0 6,-1.8 7,-3.58 8,-4.22 9,-9.04 10,-7.46 11,-9.15 12,-7.53 13,-8.43 14,-7.93 15,-5.31 16,-3.8 17,-.11 18,0"/>
<polyline class="c25" points="5,0 6,-.6 7,-1.54 8,-2.46 9,-1.73 10,-4.66 11,-4.56 12,-5.21 13,-2.59 14,-2.7 15,-2.91 16,-.96 17,-.62 18,0"/>
<polyline class="c25" points="4,0 5,-.08 6,-1.38 7,-1.88 8,-4.33 9,-4.74 10,-7.35 11,-4.77 12,-5.43 13,-6.17 14,-4.89 15,-5.09 16,-3.16 17,-.81 18,0"/>
<polyline class="c25" points="5,0 6,-.52 7,-.97 8,-1.37 9,-.75 10,-.89 11,-1.75 12,-1.12 13,-1.78 14,-1.82 15,-.77 16,-.42 17,-.08 18,0"/>
<polyline class="c25" points="5,0 6,-.67 7,-1.28 8,-1.95 9,-4.91 10,-2.43 11,-3.11 12,-5.3 13,-2.76 14,-4.35 15,-2.83 16,-1.96 17,-.39 18,0"/>
<polyline class="c25" points="5,0 6,-.5 7,-.65 8,-.83 9,-1.27 10,-1.1 11,-2.26 12,-2.2 13,-1.69 14,-1.55 15,-1.24 16,-.79 17,-.25 18,0"/>
<polyline class="c25" points="5,0 6,-2.07 7,-3.83 8,-3.44 9,-9.42 10,-5.61 11,-5.74 12,-6.22 13,-7.54 14,-7.46 15,-5.91 16,-2.57 17,-.24 18,0"/>
<polyline class="c25" points="5,0 6,-.26 7,-.55 8,-.81 9,-1.03 10,-1.2 11,-1.32 12,-1.36 13,-1.33 14,-1.18 15,-.94 16,-.6 17,-.17 18,0"/>
<polyline class="c25" points="5,0 6,-1.57 7,-3.67 8,-5.57 9,-7.16 10,-8.38 11,-9.15 12,-9.44 13,-9.14 14,-8.14 15,-6.5 16,-4.26 17,-1.39 18,0"/>
<polyline class="c25" points="5,0 6,-.77 7,-.98 8,-2.07 9,-2.49 10,-1.49 11,-1.7 12,-1.62 13,-2.85 14,-2.42 15,-1.28 16,-.99 17,-.18 18,0"/>
<polyline class="c25" points="5,0 6,-.59 7,-.84 8,-.81 9,-1.23 10,-1.63 11,-2.65 12,-3 13,-2.52 14,-1.57 15,-1.58 16,-1 17,-.4 18,0"/>
<polyline class="c25" points="5,0 6,-.42 7,-1.12 8,-1.28 9,-1.24 10,-1.77 11,-2.24 12,-1.72 13,-1.58 14,-1.12 15,-1.61 16,-.87 17,-.21 18,0"/>
<polyline class="c25" points="5,0 6,-1.18 7,-3.63 8,-3.36 9,-4.23 10,-3.89 11,-5.16 12,-5.64 13,-4.88 14,-6.12 15,-2.59 16,-3 17,-.87 18,0"/>
<polyline class="c25" points="5,0 6,-.78 7,-2.2 8,-1.39 9,-3.84 10,-2.19 11,-4.35 12,-3.48 13,-4.54 14,-3.61 15,-1.65 16,-1.35 17,-.01"/>
<polyline class="c25" points="5,0 6,-1.27 7,-2.48 8,-3.46 9,-4.25 10,-4.84 11,-5.21 12,-5.37 13,-5.25 14,-4.76 15,-3.92 16,-2.73 17,-1.15 18,0"/>
<polyline class="c25" points="4,0 5,-.21 6,-2.75 7,-5.1 8,-7.18 9,-8.9 10,-10.18 11,-10.96 12,-11.21 13,-10.6 14,-8.94 15,-6.41 16,-3.29 17,-.03 18,0"/>
<polyline class="c25" points="5,0 6,-1.19 7,-2.34 8,-3.35 9,-4.17 10,-4.77 11,-5.12 12,-5.2 13,-4.94 14,-4.33 15,-3.4 16,-2.18 17,-.68 18,0"/>
<polyline class="c25" points="5,0 6,-.3 7,-.98 8,-1.12 9,-1.95 10,-1.05 11,-1.56 12,-1.18 13,-2.05 14,-1.56 15,-.97 16,-.35 17,-.14 18,0"/>
<polyline class="c25" points="5,0 6,-1.8 7,-2.32 8,-2.58 9,-6.1 10,-7 11,-4.85 12,-5.38 13,-6.3 14,-4.42 15,-4.55 16,-1.76 17,-.59 18,0"/>
<polyline class="c25" points="5,0 6,-1.04 7,-3.16 8,-4.09 9,-6.23 10,-6.99 11,-7.27 12,-4.12 13,-6.84 14,-4.56 15,-3.19 16,-3.43 17,-.28 18,0"/>
<polyline class="c25" points="5,0 6,-.48 7,-.65 8,-1.65 9,-1.67 10,-2.45 11,-2.5 12,-2.58 13,-1.42 14,-1.98 15,-.85 16,-1.19 17,-.33 18,0"/>
<polyline class="c25" points="5,0 6,-.3 7,-.79 8,-1.26 9,-.81 10,-1.6 11,-1.66 12,-1.17 13,-1.02 14,-1.14 15,-.9 16,-.87 17,-.2 18,0"/>
<polyline class="c25" points="5,0 6,-.92 7,-2.29 8,-4.48 9,-2.85 10,-4.55 11,-6.32 12,-7.7 13,-4.78 14,-3.76 15,-3.8 16,-3.07 17,-.3 18,0"/>
<polyline class="c25" points="5,0 6,-1.02 7,-2.15 8,-2.15 9,-3.33 10,-3.35 11,-2.93 12,-2.43 13,-4.13 14,-3.05 15,-1.54 16,-1.29 17,-.16 18,0"/>
<polyline class="c25" points="5,0 6,-1.88 7,-3.7 8,-5.23 9,-6.43 10,-7.29 11,-7.77 12,-7.84 13,-7.45 14,-6.6 15,-5.32 16,-3.65 17,-1.56 18,0"/>
<polyline class="c25" points="5,0 6,-2.81 7,-5.14 8,-7.06 9,-8.58 10,-9.68 11,-10.33 12,-10.53 13,-10.06 14,-8.83 15,-6.9 16,-4.35 17,-1.2 18,0"/>
<polyline class="c25" points="5,0 6,-1.44 7,-3.13 8,-4.29 9,-6.82 10,-9.52 11,-5.87 12,-4.68 13,-9.52 14,-5.83 15,-3 16,-2 17,-1.66 18,0"/>
<polyline class="c25" points="5,0 6,-1 7,-3.36 8,-2.56 9,-3.36 10,-6.99 11,-6.94 12,-7.38 13,-5.71 14,-2.76 15,-2.92 16,-1.26 17,-1.05 18,0"/>
<polyline class="c25" points="5,0 6,-1.67 7,-3.59 8,-5.85 9,-3.85 10,-7.8 11,-9.85 12,-7.27 13,-5.11 14,-4.67 15,-5.56 16,-2.22 17,-.87 18,0"/>
<polyline class="c25" points="4,0 5,-.04 6,-1.51 7,-1.5 8,-3.8 9,-4.94 10,-3.21 11,-5.33 12,-5.12 13,-6.15 14,-2.64 15,-1.75 16,-2.1 17,-.39 18,0"/>
<polyline class="c25" points="5,0 6,-1.99 7,-4.38 8,-3.92 9,-4.03 10,-8.23 11,-5.18 12,-7.76 13,-8.65 14,-5.36 15,-2.75 16,-2.34 17,-.05 18,0"/>
<polyline class="c25" points="4,0 5,-.04 6,-1.11 7,-2 8,-2.43 9,-3.81 10,-5.73 11,-7.02 12,-5.31 13,-3.26 14,-5.12 15,-4.2 16,-2.47 17,-1.07 18,0"/>
<polyline class="c25" points="4,0 5,-.09 6,-2.96 7,-5.21 8,-7.09 9,-8.57 10,-9.64 11,-10.25 12,-10.4 13,-9.9 14,-8.7 15,-6.87 16,-4.52 17,-1.76 18,0"/>
<polyline class="c25" points="5,0 6,-2 7,-3.13 8,-3.56 9,-3.5 10,-3.09 11,-4.92 12,-5.7 13,-4.65 14,-4.97 15,-4.41 16,-2.09 17,-.48 18,0"/>
<polyline class="c25" points="5,0 6,-.51 7,-.71 8,-.98 9,-.79 10,-1 11,-1.03 12,-1.81 13,-1.21 14,-1 15,-1.21 16,-.81 17,-.15 18,0"/>
<polyline class="c25" points="5,0 6,-.82 7,-1.24 8,-3 9,-2.73 10,-2.59 11,-4.45 12,-5.12 13,-3.04 14,-1.95 15,-1.33 16,-1.71 17,-.07 18,0"/>
<polyline class="c25" points="4,0 5,-.04 6,-.57 7,-1.07 8,-.86 9,-1.6 10,-2.57 11,-1.22 12,-2.12 13,-2.56 14,-2.45 15,-.94 16,-1.03 17,-.19 18,0"/>
<polyline class="c25" points="5,0 6,-1.19 7,-2.44 8,-2.89 9,-4.68 10,-9.1 11,-7.22 12,-8.45 13,-6.33 14,-6.32 15,-4.9 16,-2.6 17,-.18 18,0"/>
<polyline class="c25" points="5,0 6,-2.03 7,-4.37 8,-6.3 9,-7.82 10,-8.9 11,-9.5 12,-9.61 13,-9.16 14,-8.15 15,-6.59 16,-4.51 17,-1.85 18,0"/>
<polyline class="c25" points="5,0 6,-.61 7,-1.23 8,-1.76 9,-2.2 10,-2.52 11,-2.73 12,-2.81 13,-2.72 14,-2.41 15,-1.91 16,-1.26 17,-.49 18,0"/>
<polyline class="c25" points="5,0 6,-1.2 7,-2.6 8,-3.37 9,-6.94 10,-7.59 11,-6.1 12,-4.87 13,-4.23 14,-5.2 15,-5.28 16,-3.52 17,-1.51 18,0"/>
<polyline class="c25" points="4,0 5,-.14 6,-2.08 7,-2.64 8,-3.23 9,-4.71 10,-8.96 11,-9.67 12,-7.92 13,-7.05 14,-7.26 15,-5.1 16,-2.45 17,-.08 18,0"/>
<polyline class="c25" points="4,0 5,-.16 6,-1.55 7,-3.93 8,-6.79 9,-7.96 10,-8.29 11,-8.83 12,-5.55 13,-5.2 14,-6.8 15,-4.33 16,-2.44 17,-.21 18,0"/>
<polyline class="c25" points="5,0 6,-1.56 7,-3.69 8,-5.63 9,-7.23 10,-8.36 11,-8.96 12,-8.97 13,-8.4 14,-7.27 15,-5.66 16,-3.67 17,-1.41 18,0"/>
<polyline class="c25" points="5,0 6,-.16 7,-.31 8,-.61 9,-.63 10,-.93 11,-.98 12,-.82 13,-.46 14,-.78 15,-.46 16,-.2 17,-.06 18,0"/>
<polyline class="c25" points="5,0 6,-.78 7,-.88 8,-1.42 9,-3.02 10,-2.23 11,-4.32 12,-3.54 13,-3.6 14,-1.59 15,-2.37 16,-1.76 17,-.73 18,0"/>
<polyline class="c25" points="4,0 5,-.06 6,-.71 7,-1.7 8,-2.92 9,-2.62 10,-2.85 11,-2.47 12,-4.19 13,-3.75 14,-3.53 15,-2.45 16,-1.24 17,-.04 18,0"/>
<polyline class="c25" points="5,0 6,-1.26 7,-1.85 8,-3.62 9,-3.77 10,-4.93 11,-7.64 12,-7.43 13,-3.81 14,-6.36 15,-3.98 16,-2.89 17,-.41 18,0"/>
<polyline class="c25" points="5,0 6,-1.08 7,-3.93 8,-3.29 9,-7.57 10,-6.33 11,-9.64 12,-8.97 13,-5.02 14,-4.43 15,-3.86 16,-2.75 17,-.26 18,0"/>
<polyline class="c25" points="5,0 6,-.67 7,-1.97 8,-2.56 9,-2.53 10,-2.7 11,-4.38 12,-1.95 13,-4.16 14,-1.88 15,-1.11 16,-1.07 17,-.02"/>
<polyline class="c25" points="5,0 6,-1.78 7,-2.11 8,-6.68 9,-5.36 10,-4.17 11,-9.01 12,-5.26 13,-7.31 14,-6.83 15,-5.07 16,-2.54 17,-.41 18,0"/>
<polyline class="c25" points="5,0 6,-3.25 7,-5.95 8,-8.13 9,-9.82 10,-11 11,-11.65 12,-11.75 13,-11.17 14,-9.88 15,-7.93 16,-5.35 17,-2.1 18,0"/>
<polyline class="c25" points="5,0 6,-.47 7,-.96 8,-1.68 9,-2.98 10,-2.04 11,-3.17 12,-1.92 13,-3.42 14,-2.79 15,-1.64 16,-1.29 17,-.33 18,0"/>
<polyline class="c25" points="5,0 6,-1.25 7,-2.45 8,-5.53 9,-5.08 10,-10.28 11,-5.76 12,-7.85 13,-6.3 14,-9.25 15,-3.35 16,-2.08 17,-.4 18,0"/>
<polyline class="c25" points="5,0 6,-1.15 7,-1.92 8,-2.84 9,-3.01 10,-3.72 11,-5.19 12,-2.99 13,-2.79 14,-5.31 15,-2.74 16,-2.52 17,-.7 18,0"/>
<polyline class="c25" points="4,0 5,-.22 6,-1.83 7,-2.77 8,-3.72 9,-8.23 10,-4.57 11,-7.74 12,-5.75 13,-4.82 14,-3.44 15,-4.06 16,-2.53 17,-.5 18,0"/>
<polyline class="c25" points="5,0 6,-.77 7,-1.68 8,-2.41 9,-2.26 10,-1.97 11,-3.29 12,-2.11 13,-2.56 14,-2.4 15,-1.08 16,-.93 17,-.39 18,0"/>
<polyline class="c25" points="5,0 6,-1.5 7,-2.07 8,-2.65 9,-2.82 10,-3.31 11,-3.86 12,-3.85 13,-5.1 14,-3.51 15,-1.69 16,-1.35 17,-.11 18,0"/>
<polyline class="c25" points="5,0 6,-1.03 7,-2.87 8,-5.45 9,-6.54 10,-5.91 11,-5.24 12,-6.53 13,-7.13 14,-7.05 15,-2.88 16,-2.28 17,-.61 18,0"/>
<polyline class="c25" points="5,0 6,-.22 7,-.74 8,-1.57 9,-1.16 10,-2.56 11,-1.67 12,-1.8 13,-2.4 14,-1.14 15,-1.76 16,-.55 17,-.1 18,0"/>
<polyline class="c25" points="4,0 5,-.1 6,-.83 7,-1.97 8,-1.48 9,-1.45 10,-3.03 11,-3.83 12,-2.53 13,-2.8 14,-1.69 15,-1.56 16,-1.43 17,-.25 18,0"/>
<polyline class="c25" points="5,0 6,-.93 7,-1.8 8,-2.61 9,-3.09 10,-2.78 11,-4.66 12,-3.92 13,-2.23 14,-2.73 15,-2 16,-.95 17,-.47 18,0"/>
<polyline class="c25" points="5,0 6,-.8 7,-1.51 8,-1.3 9,-2.36 10,-3.3 11,-3.13 12,-2.97 13,-2.71 14,-1.75 15,-1.95 16,-1.22 17,-.42 18,0"/>
<polyline class="c25" points="5,0 6,-.77 7,-2.81 8,-2.72 9,-3 10,-4.8 11,-4.26 12,-5.8 13,-4.42 14,-5.12 15,-5.22 16,-3.78 17,-.57 18,0"/>
<polyline class="c25" points="5,0 6,-1.76 7,-3.38 8,-4.75 9,-5.85 10,-6.65 11,-7.12 12,-7.24 13,-6.84 14,-5.87 15,-4.38 16,-2.47 17,-.17 18,0"/>
<polyline class="c25" points="5,0 6,-1.07 7,-3.14 8,-5.66 9,-4.22 10,-8.59 11,-7.73 12,-4.59 13,-7.7 14,-7.39 15,-6.67 16,-2.94 17,-.79 18,0"/>
<polyline class="c25" points="5,0 6,-.96 7,-2.37 8,-3.65 9,-3.72 10,-3.24 11,-2.52 12,-4.29 13,-2.42 14,-3.4 15,-2.58 16,-1.79 17,-.86 18,0"/>
<polyline class="c25" points="5,-.02 6,-.81 7,-1.21 8,-1.74 9,-2.2 10,-3.65 11,-4.48 12,-4.27 13,-3.91 14,-3.59 15,-2.95 16,-1.04 17,-.29 18,0"/>
<polyline class="c25" points="5,0 6,-1.3 7,-1.19 8,-2.67 9,-3.75 10,-2.32 11,-5.16 12,-2.46 13,-4.27 14,-3.52 15,-3.77 16,-1.31 17,-.19 18,0"/>
<polyline class="c25" points="5,0 6,-.99 7,-1.89 8,-1.59 9,-1.6 10,-1.73 11,-2.67 12,-2.2 13,-2.88 14,-1.7 15,-1.84 16,-.79 17,-.03 18,0"/>
<polyline class="c25" points="5,0 6,-.66 7,-2.36 8,-3.83 9,-3.17 10,-2.95 11,-3.93 12,-6.35 13,-3.28 14,-3.28 15,-3.3 16,-1.38 17,-.36 18,0"/>
<polyline class="c25" points="5,0 6,-.85 7,-1.58 8,-2.49 9,-3.13 10,-2.28 11,-5.09 12,-2.42 13,-5.18 14,-3.86 15,-2.81 16,-.98 17,-.33 18,0"/>
<polyline class="c25" points="5,0 6,-1.09 7,-1.82 8,-2.53 9,-3.68 10,-4.41 11,-5.31 12,-3.13 13,-4.38 14,-3.52 15,-3.06 16,-1.81 17,-.3 18,0"/>
<polyline class="c25" points="5,0 6,-1.52 7,-2.79 8,-4.15 9,-3.76 10,-4.21 11,-7.48 12,-5.49 13,-4.56 14,-2.95 15,-4.19 16,-1.66 17,-.12 18,0"/>
<polyline class="c25" points="5,0 6,-1.52 7,-4.08 8,-6.78 9,-4.06 10,-8.02 11,-7.01 12,-6.51 13,-9.25 14,-9.42 15,-3.72 16,-2.12 17,-1.71 18,0"/>
<polyline class="c25" points="5,0 6,-1.89 7,-2.78 8,-5.82 9,-6.14 10,-6.99 11,-8.23 12,-4.64 13,-5.71 14,-9.37 15,-6.36 16,-2.08 17,-1.06 18,0"/>
<polyline class="c25" points="5,0 6,-1 7,-1.79 8,-3.41 9,-7.57 10,-6.09 11,-4.95 12,-6.05 13,-8.6 14,-7.82 15,-4.76 16,-2.03 17,-1.7 18,0"/>
<polyline class="c25" points="5,0 6,-.46 7,-1.19 8,-1.03 9,-2.33 10,-1.77 11,-2.22 12,-1.29 13,-1.38 14,-2.3 15,-1.91 16,-1.51 17,-.5 18,0"/>
<polyline class="c25" points="5,0 6,-.36 7,-.75 8,-1.11 9,-1.41 10,-1.64 11,-1.77 12,-1.81 13,-1.72 14,-1.5 15,-1.15 16,-.68 17,-.08 18,0"/>
<polyline class="c25" points="5,0 6,-.22 7,-.45 8,-.49 9,-.39 10,-.55 11,-.67 12,-.7 13,-.92 14,-.79 15,-.41 16,-.43 17,-.14 18,0"/>
<polyline class="c25" points="5,0 6,-1.25 7,-2.75 8,-4.03 9,-5.06 10,-5.82 11,-6.27 12,-6.4 13,-6.11 14,-5.36 15,-4.2 16,-2.7 17,-.93 18,0"/>
<polyline class="c25" points="5,0 6,-1.55 7,-1.72 8,-4.2 9,-5.39 10,-5.89 11,-3.45 12,-3.52 13,-8.22 14,-6.08 15,-2.83 16,-1.69 17,-.81 18,0"/>
<polyline class="c25" points="5,0 6,-2.92 7,-5.34 8,-7.3 9,-8.84 10,-9.96 11,-10.62 12,-10.82 13,-10.26 14,-8.79 15,-6.52 16,-3.61 17,-.2 18,0"/>
<polyline class="c25" points="5,0 6,-.29 7,-1.2 8,-1.03 9,-1.63 10,-2.03 11,-2.06 12,-1.89 13,-2.31 14,-1.2 15,-1.07 16,-.76 17,-.32 18,0"/>
<polyline class="c25" points="5,0 6,-.26 7,-.42 8,-.59 9,-.64 10,-.78 11,-.51 12,-.72 13,-.49 14,-.99 15,-.36 16,-.31 17,-.12 18,0"/>
<polyline class="c25" points="5,0 6,-.98 7,-1.36 8,-2.56 9,-3.75 10,-4.85 11,-4.8 12,-5.02 13,-4.75 14,-3.81 15,-3.74 16,-1.94 17,-.66 18,0"/>
<polyline class="c25" points="5,0 6,-1.03 7,-1.39 8,-3.9 9,-4.02 10,-5.27 11,-3.3 12,-5.6 13,-5 14,-4.56 15,-1.71 16,-1.86 17,-.37 18,0"/>
<polyline class="c25" points="5,0 6,-.73 7,-1.61 8,-3.27 9,-2.5 10,-4.24 11,-5.75 12,-5.91 13,-3.9 14,-4.06 15,-2.53 16,-1.5 17,-.08 18,0"/>
<polyline class="c25" points="4,0 5,-.06 6,-.84 7,-2.56 8,-3.42 9,-2.31 10,-4.38 11,-3.87 12,-3.49 13,-2.93 14,-2.47 15,-3.53 16,-2.07 17,-.3 18,0"/>
<polyline class="c25" points="4,0 5,-.09 6,-2.92 7,-4.23 8,-3.45 9,-5.81 10,-4.55 11,-8.24 12,-4.73 13,-9.26 14,-6.33 15,-3.55 16,-2.94 17,-.11 18,0"/>
<polyline class="c25" points="4,0 5,-.03 6,-.39 7,-.95 8,-1.09 9,-1.67 10,-1.33 11,-1.72 12,-1.65 13,-2.82 14,-2.14 15,-1.11 16,-.76 17,-.26 18,0"/>
<polyline class="c25" points="5,0 6,-.82 7,-2 8,-4.29 9,-6.65 10,-8.69 11,-4.43 12,-6.76 13,-4.32 14,-6.28 15,-2.57 16,-3.2 17,-.03"/>
<polyline class="c25" points="5,0 6,-.55 7,-1.87 8,-1.84 9,-1.79 10,-1.96 11,-1.78 12,-1.9 13,-3.02 14,-3.21 15,-2.27 16,-.79 17,-.36 18,0"/>
<polyline class="c25" points="5,0 6,-1.9 7,-3.66 8,-4.64 9,-6.32 10,-5.7 11,-7.67 12,-8.93 13,-6.52 14,-4.74 15,-3.37 16,-2.12 17,-.54 18,0"/>
<polyline class="c25" points="5,0 6,-.53 7,-1.05 8,-2.58 9,-1.67 10,-2.69 11,-1.87 12,-2.75 13,-2.9 14,-1.67 15,-2.15 16,-1.84 17,-.71 18,0"/>
<polyline class="c25" points="5,0 6,-.15 7,-.34 8,-.5 9,-.64 10,-.74 11,-.81 12,-.82 13,-.78 14,-.66 15,-.48 16,-.26 17,-.02"/>
<polyline class="c25" points="5,0 6,-.89 7,-1.55 8,-5.08 9,-6.02 10,-4.68 11,-6.98 12,-7.24 13,-8.53 14,-7.14 15,-3.41 16,-1.61 17,-.37 18,0"/>
<polyline class="c25" points="5,0 6,-1.33 7,-3.6 8,-5.76 9,-7.37 10,-6.69 11,-7.24 12,-6.13 13,-3.62 14,-6.3 15,-4.89 16,-3.37 17,-.4 18,0"/>
<polyline class="c25" points="5,0 6,-.91 7,-3.3 8,-4.53 9,-7.56 10,-5.83 11,-10.31 12,-5.51 13,-5.7 14,-7.46 15,-3.99 16,-3.16 17,-.05 18,0"/>
<polyline class="c25" points="5,0 6,-.41 7,-.81 8,-2.61 9,-3.32 10,-3.43 11,-4.08 12,-2.76 13,-1.99 14,-3.38 15,-3.05 16,-1.16 17,-.46 18,0"/>
<polyline class="c25" points="5,0 6,-.82 7,-2.04 8,-2.51 9,-2.93 10,-2.87 11,-1.77 12,-3.97 13,-3.48 14,-2.94 15,-1.07 16,-.94 17,-.28 18,0"/>
<polyline class="c25" points="5,0 6,-.37 7,-.58 8,-1.02 9,-.83 10,-1.72 11,-1.44 12,-1.48 13,-1.22 14,-1.06 15,-.77 16,-.4 17,-.08 18,0"/>
<polyline class="c25" points="5,0 6,-1.73 7,-2.12 8,-4 9,-2.63 10,-3.19 11,-3.09 12,-6.31 13,-6.14 14,-3.23 15,-2 16,-1.33 17,-.34 18,0"/>
<polyline class="c25" points="5,0 6,-.26 7,-1.21 8,-.95 9,-1.82 10,-1.08 11,-1.99 12,-2.85 13,-1.79 14,-2.4 15,-1.89 16,-.68 17,-.34 18,0"/>
<polyline class="c25" points="4,0 5,-.04 6,-.32 7,-1.08 8,-1.27 9,-1.84 10,-1.66 11,-3.02 12,-2.01 13,-2.24 14,-1.78 15,-2.13 16,-1.24 17,-.59 18,0"/>
<polyline class="c25" points="4,0 5,-.22 6,-1.68 7,-3.77 8,-2.96 9,-6.32 10,-6.98 11,-4.67 12,-7.18 13,-4.32 14,-6.1 15,-5.01 16,-1.59 17,-.51 18,0"/>
<polyline class="c25" points="5,0 6,-.16 7,-.21 8,-.27 9,-.55 10,-.3 11,-.46 12,-.53 13,-.35 14,-.44 15,-.24 16,-.24 17,-.02"/>
<polyline class="c25" points="4,0 5,-.07 6,-2.37 7,-4.06 8,-3.89 9,-7.21 10,-6.82 11,-10.21 12,-8.37 13,-4.46 14,-4.96 15,-3.45 16,-2.44 17,-.62 18,0"/>
<polyline class="c25" points="5,0 6,-1.38 7,-2.82 8,-4.04 9,-5.04 10,-5.78 11,-6.25 12,-6.43 13,-6.21 14,-5.48 15,-4.29 16,-2.74 17,-.97 18,0"/>
<polyline class="c25" points="5,0 6,-.91 7,-2.79 8,-2.37 9,-4.28 10,-5.45 11,-5.25 12,-3.81 13,-3.97 14,-3.27 15,-4.48 16,-2.97 17,-.82 18,0"/>
<polyline class="c25" points="5,0 6,-.29 7,-.5 8,-.57 9,-1.4 10,-1.02 11,-1.26 12,-1.54 13,-1.74 14,-1.71 15,-.98 16,-.73 17,-.12 18,0"/>
<polyline class="c25" points="5,0 6,-.48 7,-1.31 8,-2.05 9,-1.54 10,-1.97 11,-3.3 12,-3.32 13,-2.14 14,-2.6 15,-2.56 16,-.72 17,-.41 18,0"/>
<polyline class="c25" points="5,0 6,-1.97 7,-2.65 8,-6.83 9,-7.66 10,-5.34 11,-9.77 12,-8.16 13,-8.06 14,-8.89 15,-5.95 16,-2.52 17,-.4 18,0"/>
<polyline class="c25" points="5,0 6,-2.5 7,-4.68 8,-6.53 9,-8.01 10,-9.08 11,-9.72 12,-9.88 13,-9.38 14,-8.12 15,-6.19 16,-3.71 17,-.74 18,0"/>
<polyline class="c25" points="4,0 5,-.11 6,-1.23 7,-1.75 8,-1.79 9,-2.14 10,-4.94 11,-4.25 12,-4.65 13,-2.92 14,-1.94 15,-3.4 16,-1.26 17,-.26 18,0"/>
<polyline class="c25" points="5,0 6,-.42 7,-.53 8,-1.32 9,-.9 10,-2.05 11,-1 12,-1.49 13,-1.52 14,-1.24 15,-.81 16,-.66 17,-.27 18,0"/>
<polyline class="c25" points="5,0 6,-.44 7,-.67 8,-.9 9,-.94 10,-1.85 11,-1.71 12,-1.91 13,-2.1 14,-1.23 15,-1.23 16,-.91 17,-.24 18,0"/>
<polyline class="c1" points="0,0 5,0"/>
<polyline class="c9" points="5,0 6,-1.52 7,-4.55 8,-7.59 9,-9.86 10,-.76 11,-.76 12,-.76 13,-.76 14,-11.38 15,-6.07 16,-.76 17,0"/>
<polyline class="c40" points="5,0 6,-1.82 7,-4.55 8,-7.59 9,-9.41 10,-.91 11,-.76 12,-.76 13,-.91 14,-10.62 15,-6.83 16,-1.52 17,0"/>
<polyline class="c5" points="5,0 6,-1.52 7,-4.25 8,-7.28 9,-9.1 10,-.61 11,-.61 12,-.61 13,-.61 14,-9.1 15,-5.31 16,-.76 17,0"/>
<polyline class="c6" points="7,0 8,-10.47 9,-10.47 10,0"/>
<polyline class="c41" points="15,-.46 16,-14.72 17,-15.02 17.6,-15.02 18,-11.38 19,-1.52 20,0"/>
<polyline class="c1" points="16,-.46 17,-9.86 18,-10.01 19,-10.17 20,-10.32 21,0"/>
<polyline class="c31" points="16,-.46 17,-9.56 18,-9.71 19,-9.86 20,-10.01 21,0"/>
<polyline class="c31" points="16,-.76 17,-9.86 18,-7.13 19,-7.13 20,-7.13 21,-6.83 22,-4.55 23,-.46"/>
<polyline class="c42" points="15,-1.52 16,-10.62 17,-9.1 18,-6.07 19,-3.03 20,-1.52 21,0"/>
<polyline class="c18" points="14,-.46 15,-2.07 16,-2.72 17,-2.87 18,-2.89 19,-2.83 20,-2.93 21,-3.06 22,-2.96 23,0"/>
<polyline class="c18" points="14,-.46 15,-2.8 16,-2.84 17,-2.62 18,-2.88 19,-2.99 20,-2.91 21,-3.06 22,-3.15 23,0"/>
<polyline class="c18" points="14,-.46 15,-3.7 16,-5 17,-4.51 18,0"/>
<polyline class="c18" points="15,-.46 16,-5.91 17,-6.88 18,-6.27 19,-6.38 20,-6.14 21,-6.41 22,0"/>
<polyline class="c18" points="15,-.46 16,-3.09 17,-3.53 18,-3.11 19,-3.07 20,-3.12 21,-2.99 22,-3.21 23,0"/>
<polyline class="c18" points="14,-.46 15,-3.87 16,-6.57 17,-7.02 18,-6.24 19,-6.18 20,-6.11 21,-5.85 22,-6.41 23,0"/>
<polyline class="c18" points="14,-.46 15,-1.98 16,-4.55 17,-4.43 18,-4.67 19,-4.19 20,0"/>
<polyline class="c18" points="14,-.46 15,-4.1 16,-5.98 17,-6.1 18,0"/>
<polyline class="c18" points="15,-.46 16,-5.17 17,-8.57 18,-9.32 19,-8.31 20,-7.97 21,-8.18 22,-8.75 23,0"/>
<polyline class="c18" points="15,-.46 16,-3.3 17,-3.61 18,0"/>
<polyline class="c18" points="14,-.46 15,-5.36 16,-7.75 17,-8.75 18,-7.23 19,0"/>
<polyline class="c18" points="15,-.46 16,-2.93 17,-7.8 18,-8.27 19,-7.75 20,-7.94 21,-8.82 22,0"/>
<polyline class="c18" points="15,-.46 16,-5.86 17,-8.39 18,-10.2 19,-8.8 20,-9.37 21,-9.98 22,0"/>
<polyline class="c18" points="15,-.46 16,-5.38 17,-9.68 18,-9.18 19,-8.38 20,-8.18 21,-9.75 22,-8.58 23,0"/>
<polyline class="c18" points="15,-.46 16,-4.31 17,-4.51 18,-4.61 19,-5.26 20,-4.83 21,-5.22 22,-4.91 23,0"/>
<polyline class="c18" points="15,-.46 16,-2.99 17,-3.52 18,-3.48 19,-3.19 20,-3.08 21,0"/>
<polyline class="c18" points="14,-.46 15,-2.43 16,-4.06 17,-4.03 18,-4.81 19,-4.47 20,-4.86 21,-4.56 22,0"/>
<polyline class="c18" points="15,-.46 16,-5.94 17,-5.92 18,-5.47 19,-5.8 20,-5.2 21,0"/>
<polyline class="c18" points="15,-.46 16,-2.68 17,-3.41 18,0"/>
<polyline class="c18" points="15,-.46 16,-5.54 17,-5.61 18,-4.73 19,-5.12 20,-5.34 21,-5.25 22,-5.69 23,0"/>
<polyline class="c18" points="15,-.46 16,-4.22 17,-4.05 18,-4.3 19,-4.38 20,-4.08 21,0"/>
<polyline class="c18" points="15,-.46 16,-6.07 17,-7.18 18,-7.06 19,-6.93 20,-7.12 21,-8.48 22,-7.44 23,0"/>
<polyline class="c18" points="15,-.46 16,-1.63 17,-3.26 18,0"/>
<polyline class="c18" points="15,-.46 16,-3.57 17,-4.69 18,0"/>
<polyline class="c18" points="14,-.46 15,-4.1 16,-3.82 17,-3.74 18,-4.37 19,-3.71 20,0"/>
</g>
<g transform="translate(402.22 237.24) scale(6.015)">
<polyline class="c32" points="5,0 6,-1.67 7,-3.82 8,-4.77 9,-6.89 10,-10.18 11,-8.08 12,-7.02 13,-11.3 14,-10.52 15,-5.87 16,-5.9 17,-2.05 18,0"/>
<polyline class="c32" points="5,-.02 6,-1.08 7,-2.63 8,-4.53 9,-6.53 10,-7.32 11,-5.55 12,-8.89 13,-5.24 14,-5.35 15,-3.34 16,-2.71 17,-.82 18,0"/>
<polyline class="c32" points="5,-.01 6,-1.18 7,-2.79 8,-4.58 9,-4.63 10,-6.76 11,-4.52 12,-5.79 13,-4.32 14,-4.68 15,-3.33 16,-2.7 17,-.92 18,0"/>
<polyline class="c32" points="5,0 6,-2.45 7,-5.08 8,-7.47 9,-9.5 10,-11.08 11,-12.12 12,-12.58 13,-12.29 14,-10.92 15,-8.58 16,-5.43 17,-1.65 18,0"/>
<polyline class="c32" points="4,0 5,-.09 6,-1.06 7,-2.01 8,-4.14 9,-5.07 10,-7.85 11,-6.53 12,-8.04 13,-5.14 14,-7.21 15,-6.45 16,-2.16 17,-.84 18,0"/>
<polyline class="c32" points="5,0 6,-2.86 7,-5.75 8,-8.34 9,-10.46 10,-12.02 11,-12.9 12,-13.07 13,-12.43 14,-10.98 15,-8.77 16,-5.84 17,-2.12 18,0"/>
<polyline class="c32" points="5,0 6,-1.2 7,-2.52 8,-3.78 9,-4.87 10,-5.73 11,-6.3 12,-6.54 13,-6.37 14,-5.65 15,-4.42 16,-2.79 17,-.91 18,0"/>
<polyline class="c32" points="5,0 6,-3.11 7,-5.7 8,-7.93 9,-9.76 10,-11.13 11,-12.02 12,-12.38 13,-12.1 14,-10.94 15,-8.96 16,-6.18 17,-2.55 18,0"/>
<polyline class="c32" points="4,0 5,-.33 6,-3.61 7,-6.53 8,-9.08 9,-11.19 10,-12.76 11,-13.75 12,-14.11 13,-13.58 14,-11.91 15,-9.23 16,-5.77 17,-1.81 18,0"/>
<polyline class="c32" points="5,0 6,-2.19 7,-4.12 8,-5.77 9,-7.11 10,-8.08 11,-8.64 12,-8.78 13,-8.35 14,-7.33 15,-5.77 16,-3.74 17,-1.28 18,0"/>
<polyline class="c32" points="4,0 5,-.15 6,-2.23 7,-4.12 8,-5.78 9,-7.15 10,-8.15 11,-8.76 12,-8.93 13,-8.55 14,-7.57 15,-6.02 16,-3.98 17,-1.48 18,0"/>
<polyline class="c32" points="5,0 6,-2.2 7,-4.7 8,-7.06 9,-9.08 10,-10.61 11,-11.55 12,-11.84 13,-11.37 14,-10.13 15,-8.16 16,-5.54 17,-2.29 18,0"/>
<polyline class="c32" points="5,0 6,-2.99 7,-5.61 8,-7.88 9,-9.75 10,-11.15 11,-12.03 12,-12.35 13,-11.89 14,-10.39 15,-7.99 16,-4.88 17,-1.34 18,0"/>
<polyline class="c32" points="5,0 6,-1.72 7,-4.9 8,-5.46 9,-8.95 10,-9.51 11,-6.77 12,-8.74 13,-10.22 14,-10.19 15,-4.22 16,-3.01 17,-1.89 18,0"/>
<polyline class="c32" points="5,0 6,-1.99 7,-4.07 8,-6 9,-7.64 10,-8.91 11,-9.73 12,-10.04 13,-9.74 14,-8.7 15,-6.99 16,-4.69 17,-1.84 18,0"/>
<polyline class="c32" points="5,0 6,-2.59 7,-5.32 8,-7.76 9,-9.79 10,-11.29 11,-12.2 12,-12.46 13,-11.93 14,-10.54 15,-8.35 16,-5.42 17,-1.72 18,0"/>
<polyline class="c32" points="5,0 6,-1.67 7,-3.39 8,-4.94 9,-6.24 10,-7.21 11,-7.8 12,-7.98 13,-7.67 14,-6.83 15,-5.49 16,-3.72 17,-1.52 18,0"/>
<polyline class="c32" points="5,0 6,-2.54 7,-5.27 8,-5.67 9,-8.79 10,-11.19 11,-10.1 12,-12.24 13,-11.42 14,-11.54 15,-5.31 16,-3.87 17,-2.01 18,0"/>
<polyline class="c32" points="4,0 5,-.14 6,-2.56 7,-5.06 8,-7.39 9,-9.38 10,-10.93 11,-11.93 12,-12.33 13,-11.98 14,-10.69 15,-8.51 16,-5.53 17,-1.75 18,0"/>
<polyline class="c32" points="5,0 6,-1.52 7,-3.49 8,-7.93 9,-8.89 10,-11.46 11,-9.44 12,-13.13 13,-6.56 14,-9.5 15,-9.17 16,-4.09 17,-2.64 18,0"/>
<polyline class="c32" points="4,0 5,-.14 6,-2.1 7,-5.35 8,-7.44 9,-6.11 10,-5.85 11,-8.86 12,-8.08 13,-8.97 14,-10.95 15,-7.19 16,-3.45 17,-2.08 18,0"/>
<polyline class="c32" points="5,0 6,-1.41 7,-3.18 8,-5.92 9,-6.81 10,-9.84 11,-12.24 12,-7.3 13,-8.55 14,-8.11 15,-6.15 16,-2.75 17,-1.66 18,0"/>
<polyline class="c32" points="5,0 6,-2.11 7,-3.71 8,-3.82 9,-6.04 10,-10.32 11,-6.32 12,-6.18 13,-6.85 14,-8.56 15,-5.23 16,-2.74 17,-1.02 18,0"/>
<polyline class="c32" points="5,0 6,-1.86 7,-3.83 8,-5.64 9,-7.17 10,-8.36 11,-9.12 12,-9.43 13,-9.18 14,-8.23 15,-6.64 16,-4.45 17,-1.65 18,0"/>
<polyline class="c32" points="5,0 6,-1.26 7,-1.66 8,-3.7 9,-5.29 10,-3.91 11,-4.42 12,-6.26 13,-4.62 14,-3.25 15,-4.19 16,-2.89 17,-.79 18,0"/>
<polyline class="c32" points="5,0 6,-1.24 7,-2.71 8,-4.04 9,-5.16 10,-6.02 11,-6.58 12,-6.8 13,-6.59 14,-5.85 15,-4.63 16,-3.01 17,-1.12 18,0"/>
<polyline class="c32" points="4,0 5,-.18 6,-1.99 7,-4.35 8,-4.34 9,-9.44 10,-10.53 11,-7.74 12,-6.93 13,-11.58 14,-8.05 15,-4.68 16,-3.93 17,-1.19 18,0"/>
<polyline class="c32" points="4,0 5,-.08 6,-1.23 7,-2.34 8,-3.94 9,-3.86 10,-6.3 11,-5.61 12,-4.39 13,-6.31 14,-4.72 15,-4.65 16,-2.19 17,-.65 18,0"/>
<polyline class="c32" points="5,0 6,-.93 7,-2.64 8,-3.95 9,-4.34 10,-4.29 11,-5.41 12,-5.1 13,-5.8 14,-5.11 15,-3.31 16,-2.56 17,-.73 18,0"/>
<polyline class="c32" points="5,0 6,-1.57 7,-4.64 8,-7.28 9,-5.56 10,-11.79 11,-10.9 12,-10.74 13,-12.67 14,-10 15,-5.15 16,-4.48 17,-1.6 18,0"/>
<polyline class="c32" points="5,0 6,-1.95 7,-4.28 8,-6.46 9,-8.31 10,-9.69 11,-10.49 12,-10.66 13,-10.07 14,-8.73 15,-6.73 16,-4.19 17,-1.26 18,0"/>
<polyline class="c32" points="5,0 6,-2.87 7,-5.73 8,-8.3 9,-10.43 10,-11.99 11,-12.88 12,-13.04 13,-12.38 14,-10.88 15,-8.59 16,-5.58 17,-1.75 18,0"/>
<polyline class="c32" points="5,0 6,-.99 7,-2.54 8,-3.82 9,-5.6 10,-8.44 11,-4.87 12,-7.35 13,-9.36 14,-5.79 15,-5.37 16,-5.1 17,-2.19 18,0"/>
<polyline class="c32" points="5,0 6,-1.54 7,-3.36 8,-5.07 9,-6.54 10,-7.68 11,-8.41 12,-8.7 13,-8.44 14,-7.54 15,-6.06 16,-4.07 17,-1.69 18,0"/>
<polyline class="c32" points="4,0 5,-.15 6,-3.04 7,-5.87 8,-8.45 9,-10.64 10,-12.33 11,-13.44 12,-13.91 13,-13.59 14,-12.24 15,-9.91 16,-6.71 17,-2.71 18,0"/>
<polyline class="c32" points="5,0 6,-1.29 7,-3.71 8,-3.69 9,-4.59 10,-9.78 11,-9.59 12,-9.83 13,-6.41 14,-4.73 15,-5.49 16,-2.77 17,-.83 18,0"/>
<polyline class="c32" points="5,0 6,-2.56 7,-5.36 8,-7.86 9,-9.95 10,-11.54 11,-12.54 12,-12.92 13,-12.53 14,-11.25 15,-9.14 16,-6.29 17,-2.78 18,0"/>
<polyline class="c32" points="5,0 6,-1.33 7,-2.63 8,-3.81 9,-4.82 10,-5.6 11,-6.13 12,-6.37 13,-6.24 14,-5.56 15,-4.38 16,-2.79 17,-.89 18,0"/>
<polyline class="c32" points="5,0 6,-1.34 7,-1.7 8,-3.49 9,-3.8 10,-5.35 11,-5.23 12,-4.96 13,-5.66 14,-3.73 15,-3.7 16,-3.35 17,-.95 18,0"/>
<polyline class="c32" points="5,0 6,-1.49 7,-3.08 8,-4.57 9,-5.85 10,-6.84 11,-7.49 12,-7.76 13,-7.57 14,-6.82 15,-5.55 16,-3.81 17,-1.63 18,0"/>
<polyline class="c1" points="0,0 5,0"/>
<polyline class="c1" points="0,0 1,-4.55 2,0"/>
<polyline class="c14" points="0,0 1,-8.35 2,0"/>
<polyline class="c43" points="0,0 1,-2.89 2,-.21 3,0"/>
<polyline class="c43" points="0,0 1,-2.69 2,-.19 3,0"/>
<polyline class="c43" points="0,0 1,-1.15 2,-.36 3,0"/>
<polyline class="c43" points="0,0 1,-1.16 2,-.26 3,0"/>
<polyline class="c43" points="0,0 1,-1.5 2,-.18 3,0"/>
<polyline class="c43" points="0,0 1,-1.2 2,-.39 3,0"/>
<polyline class="c43" points="0,0 1,-2.84 2,-.02 3,0"/>
<polyline class="c43" points="0,0 1,-4.54 2,-.05 3,0"/>
<polyline class="c43" points="0,0 1,-4.47 2,-.36 3,0"/>
<polyline class="c43" points="0,0 1,-1.45 2,-.04 3,0"/>
<polyline class="c15" points="6,0 7,-2 8,-4.99 9,-8.48 10,-.46"/>
<polyline class="c15" points="6,0 7,-2.76 8,-5.28 9,-7.71 10,-.46"/>
<polyline class="c15" points="4,0 5,-.05 6,-.15 7,-3.19 8,-6.11 9,-8.98 10,-.46"/>
<polyline class="c15" points="3,0 4,-.07 5,-.33 6,-2.26 7,-4.13 8,-5.98 9,-7.81 10,-.46"/>
<polyline class="c15" points="5,0 6,-.17 7,-1.49 8,-4.67 9,-8.73 10,-.46"/>
<polyline class="c15" points="4,0 5,-.12 6,-1.94 7,-4.5 8,-6.92 9,-9.27 10,-.46"/>
<polyline class="c15" points="6,0 7,-.17 8,-3.89 9,-9.18 10,-.46"/>
<polyline class="c15" points="5,0 6,-.16 7,-.23 8,-4.37 9,-8.97 10,-.46"/>
<polyline class="c15" points="5,0 6,-.34 7,-2.1 8,-5.62 9,-9.02 10,-.46"/>
<polyline class="c15" points="4,0 5,-.21 6,-1.33 7,-3.23 8,-5.41 9,-7.8 10,-.46"/>
<polyline class="c15" points="5,0 6,-.03 7,-2.73 8,-6.22 9,-9.65 10,-.46"/>
<polyline class="c15" points="5,0 6,-1.72 7,-3.89 8,-6.12 9,-8.4 10,-.46"/>
<polyline class="c15" points="5,0 6,-.28 7,-2.45 8,-5.29 9,-8.27 10,-.46"/>
<polyline class="c15" points="5,0 6,-.16 7,-.79 8,-4.32 9,-8.67 10,-.46"/>
<polyline class="c15" points="5,0 6,-1.23 7,-3.54 8,-6.41 9,-9.72 10,-.46"/>
<polyline class="c15" points="3,0 4,-.06 5,-.16 6,-1.6 7,-3.49 8,-5.64 9,-8.01 10,-.46"/>
<polyline class="c15" points="4,0 5,-.26 6,-2.44 7,-4.68 8,-6.95 9,-9.25 10,-.46"/>
<polyline class="c15" points="6,0 7,-.31 8,-2.14 9,-8.1 10,-.46"/>
<polyline class="c15" points="5,0 6,-1.89 7,-4.43 8,-6.84 9,-9.17 10,-.46"/>
<polyline class="c15" points="4,0 5,-.07 6,-.78 7,-2.95 8,-5.86 9,-9.33 10,-.46"/>
<polyline class="c15" points="3,0 4,-.04 5,-.05 6,-1.65 7,-3.86 8,-6.4 9,-9.2 10,-.46"/>
<polyline class="c15" points="7,0 8,-2.78 9,-9.17 10,-.46"/>
<polyline class="c15" points="4,0 5,-.08 6,-2.23 7,-4.68 8,-7.21 9,-9.8 10,-.46"/>
<polyline class="c15" points="6,0 7,-.18 8,-1.11 9,-9.7 10,-.46"/>
<polyline class="c15" points="8,0 9,-9.45 10,-.46"/>
<polyline class="c15" points="4,0 5,-.37 6,-.21 7,-2.4 8,-5.39 9,-8.89 10,-.46"/>
<polyline class="c15" points="5,0 6,-.07 7,-2.3 8,-5.48 9,-8.86 10,-.46"/>
<polyline class="c15" points="3,0 4,-.23 5,-.16 6,-1.57 7,-3.41 8,-5.49 9,-7.77 10,-.46"/>
<polyline class="c15" points="4,0 5,-.08 6,-1.18 7,-2.91 8,-5.08 9,-7.61 10,-.46"/>
<polyline class="c15" points="5,0 6,-.28 7,-2.83 8,-6.28 9,-9.84 10,-.46"/>
<polyline class="c15" points="6,0 7,-.17 8,-3.32 9,-9.18 10,-.46"/>
<polyline class="c15" points="5,0 6,-.31 7,-.29 8,-3.52 9,-7.87 10,-.46"/>
<polyline class="c15" points="7,0 8,-.02 9,-8.66 10,-.46"/>
<polyline class="c15" points="4,0 5,-.36 6,-.34 7,-2.42 8,-5.16 9,-8.32 10,-.46"/>
<polyline class="c15" points="6,0 7,-.15 8,-4.57 9,-8.91 10,-.46"/>
<polyline class="c15" points="7,0 8,-.1 9,-7.84 10,-.46"/>
<polyline class="c15" points="6,0 7,-.43 8,-4.42 9,-9.9 10,-.46"/>
<polyline class="c15" points="5,0 6,-.31 7,-2.36 8,-5.39 9,-9.12 10,-.46"/>
<polyline class="c15" points="3,0 4,-.16 5,-.08 6,-1.36 7,-3.22 8,-5.44 9,-7.95 10,-.46"/>
<polyline class="c15" points="6,0 7,-1.12 8,-4.34 9,-8.74 10,-.46"/>
<polyline class="c15" points="8,0 9,-7.91 10,-.46"/>
<polyline class="c15" points="6,0 7,-.36 8,-.04 9,-9.32 10,-.46"/>
<polyline class="c15" points="5,0 6,-1 7,-2.95 8,-5.23 9,-7.76 10,-.46"/>
<polyline class="c15" points="5,0 6,-1.45 7,-4.35 8,-7.06 9,-9.66 10,-.46"/>
<polyline class="c15" points="5,0 6,-.08 7,-2.09 8,-5.02 9,-8.08 10,-.46"/>
<polyline class="c15" points="6,0 7,-2.08 8,-5.86 9,-9.53 10,-.46"/>
<polyline class="c15" points="5,0 6,-1.17 7,-3.3 8,-5.99 9,-9.14 10,-.46"/>
<polyline class="c15" points="6,0 7,-2.19 8,-4.9 9,-7.83 10,-.46"/>
<polyline class="c15" points="7,0 8,-.24 9,-7.93 10,-.46"/>
<polyline class="c15" points="6,0 7,-.21 8,-3.69 9,-10.13 10,-.46"/>
<polyline class="c15" points="6,0 7,-2.16 8,-5.74 9,-10.01 10,-.46"/>
<polyline class="c15" points="6,0 7,-.16 8,-4.4 9,-9.98 10,-.46"/>
<polyline class="c15" points="6,0 7,-.06 8,-1.19 9,-8.73 10,-.46"/>
<polyline class="c15" points="7,0 8,-1.12 9,-8.89 10,-.46"/>
<polyline class="c15" points="6,0 7,-.24 8,-1.91 9,-9.37 10,-.46"/>
<polyline class="c15" points="5,0 6,-.37 7,-1.39 8,-5.27 9,-9.05 10,-.46"/>
<polyline class="c15" points="6,0 7,-.01 8,-4.76 9,-9.38 10,-.46"/>
<polyline class="c15" points="3,0 4,-.16 5,-.07 6,-1.46 7,-3.49 8,-5.92 9,-8.66 10,-.46"/>
<polyline class="c15" points="6,0 7,-.33 8,-2.77 9,-8.86 10,-.46"/>
<polyline class="c15" points="4,0 5,-.15 6,-1.66 7,-3.97 8,-6.48 9,-9.14 10,-.46"/>
<polyline class="c15" points="6,0 7,-.23 8,-1.4 9,-8.14 10,-.46"/>
<polyline class="c15" points="4,0 5,-.14 6,-2.36 7,-4.79 8,-7.25 9,-9.72 10,-.46"/>
<polyline class="c15" points="4,0 5,-.31 6,-.79 7,-3.11 8,-5.94 9,-9.11 10,-.46"/>
<polyline class="c15" points="5,0 6,-1.67 7,-3.96 8,-6.49 9,-9.18 10,-.46"/>
<polyline class="c15" points="7,0 8,-1.25 9,-8.28 10,-.46"/>
<polyline class="c15" points="4,0 5,-.32 6,-1.1 7,-4.11 8,-7.12 9,-10.13 10,-.46"/>
<polyline class="c15" points="5,0 6,-.08 7,-1.7 8,-4.66 9,-7.94 10,-.46"/>
<polyline class="c15" points="5,0 6,-.73 7,-2.56 8,-5 9,-7.91 10,-.46"/>
<polyline class="c15" points="4,0 5,-.03 6,-.34 7,-2.79 8,-5.67 9,-8.79 10,-.46"/>
<polyline class="c15" points="7,0 8,-3.79 9,-8.79 10,-.46"/>
<polyline class="c15" points="6,0 7,-.67 8,-4 9,-8.75 10,-.46"/>
<polyline class="c15" points="4,0 5,-.2 6,-1.1 7,-2.98 8,-5.19 9,-7.62 10,-.46"/>
<polyline class="c15" points="5,0 6,-.87 7,-2.78 8,-5.17 9,-7.9 10,-.46"/>
<polyline class="c15" points="5,0 6,-.2 7,-2.69 8,-5.69 9,-8.94 10,-.46"/>
<polyline class="c15" points="5,0 6,-.09 7,-.93 8,-5.46 9,-9.76 10,-.46"/>
<polyline class="c15" points="4,0 5,-.17 6,-.03 7,-3.34 8,-6.35 9,-9.25 10,-.46"/>
<polyline class="c15" points="6,0 7,-.24 8,-3.22 9,-9.35 10,-.46"/>
<polyline class="c15" points="6,0 7,-.03 8,-.27 9,-9.19 10,-.46"/>
<polyline class="c15" points="4,0 5,-.28 6,-2.26 7,-4.53 8,-6.97 9,-9.52 10,-.46"/>
<polyline class="c15" points="5,0 6,-.12 7,-1.42 8,-4.83 9,-9.02 10,-.46"/>
<polyline class="c15" points="5,0 6,-.13 7,-.33 8,-3.94 9,-9.35 10,-.46"/>
<polyline class="c15" points="5,0 6,-.22 7,-1.71 8,-5.1 9,-9.1 10,-.46"/>
<polyline class="c15" points="4,0 5,-.06 6,-.88 7,-2.93 8,-5.6 9,-8.74 10,-.46"/>
<polyline class="c15" points="5,0 6,-.56 7,-2.8 8,-5.9 9,-9.62 10,-.46"/>
<polyline class="c15" points="4,0 5,-.01 6,-1.86 7,-4.42 8,-7.16 9,-10.03 10,-.46"/>
<polyline class="c15" points="7,0 8,-.28 9,-7.91 10,-.46"/>
<polyline class="c15" points="4,0 5,-.11 6,-1.68 7,-3.98 8,-6.76 9,-9.91 10,-.46"/>
<polyline class="c15" points="4,0 5,-.13 6,-2.3 7,-4.85 8,-7.44 9,-10.05 10,-.46"/>
<polyline class="c15" points="4,0 5,-.13 6,-2.12 7,-4.33 8,-6.63 9,-8.99 10,-.46"/>
<polyline class="c15" points="8,0 9,-9.19 10,-.46"/>
<polyline class="c15" points="3,0 4,-.12 5,-.02 6,-1.14 7,-2.98 8,-5.27 9,-7.91 10,-.46"/>
<polyline class="c15" points="4,0 5,-.26 6,-1.06 7,-2.9 8,-5.22 9,-7.92 10,-.46"/>
<polyline class="c15" points="7,0 8,-.15 9,-9.48 10,-.46"/>
<polyline class="c15" points="5,0 6,0 7,-1.89 8,-5.02 9,-8.91 10,-.46"/>
<polyline class="c15" points="5,0 6,-1.05 7,-3.62 8,-6.67 9,-10.04 10,-.46"/>
<polyline class="c15" points="8,0 9,-8.53 10,-.46"/>
<polyline class="c15" points="5,0 6,-.24 7,-1.77 8,-5.1 9,-8.95 10,-.46"/>
<polyline class="c15" points="4,0 5,-.13 6,-1.69 7,-3.96 8,-6.69 9,-9.8 10,-.46"/>
<polyline class="c15" points="4,0 5,-.38 6,-.61 7,-3.87 8,-7.01 9,-10.08 10,-.46"/>
<polyline class="c15" points="7,0 8,-.05 9,-9.48 10,-.46"/>
<polyline class="c15" points="6,0 7,-.84 8,-4.34 9,-9.22 10,-.46"/>
<polyline class="c15" points="4,0 5,-.15 6,-1.37 7,-4.27 8,-7.04 9,-9.74 10,-.46"/>
<polyline class="c15" points="5,0 6,-.37 7,-2.45 8,-5.09 9,-8.08 10,-.46"/>
<polyline class="c15" points="5,0 6,-.25 7,-.75 8,-3.62 9,-7.66 10,-.46"/>
<polyline class="c15" points="3,0 4,-.07 5,-.12 6,-1.67 7,-3.86 8,-6.46 9,-9.37 10,-.46"/>
<polyline class="c15" points="4,0 5,-.28 6,-2.04 7,-3.87 8,-5.73 9,-7.61 10,-.46"/>
<polyline class="c15" points="6,0 7,-.25 8,-1.11 9,-7.61 10,-.46"/>
<polyline class="c15" points="5,0 6,-.24 7,-2.59 8,-5.85 9,-9.68 10,-.46"/>
<polyline class="c15" points="6,0 7,-.3 8,-.23 9,-9.24 10,-.46"/>
<polyline class="c15" points="4,0 5,-.06 6,-1.19 7,-3.02 8,-5.35 9,-8.08 10,-.46"/>
<polyline class="c15" points="8,0 9,-9.47 10,-.46"/>
<polyline class="c15" points="6,0 7,-.13 8,-4.83 9,-10.11 10,-.46"/>
<polyline class="c15" points="4,0 5,-.4 6,-2.7 7,-4.82 8,-6.86 9,-8.85 10,-.46"/>
<polyline class="c15" points="5,0 6,-.16 7,-2.3 8,-5.15 9,-8.43 10,-.46"/>
<polyline class="c15" points="5,0 6,-.06 7,-2.06 8,-4.93 9,-7.76 10,-.46"/>
<polyline class="c15" points="6,0 7,-.23 8,-.18 9,-9.77 10,-.46"/>
<polyline class="c15" points="6,0 7,-.26 8,-3.81 9,-9.61 10,-.46"/>
<polyline class="c15" points="4,0 5,-.32 6,-.89 7,-3.46 8,-6.3 9,-9.3 10,-.46"/>
<polyline class="c15" points="5,0 6,-.09 7,-2.13 8,-5.06 9,-8.04 10,-.46"/>
<polyline class="c15" points="5,0 6,-.13 7,-1.38 8,-4.59 9,-8.6 10,-.46"/>
<polyline class="c15" points="6,0 7,-1.73 8,-5.06 9,-8.67 10,-.46"/>
<polyline class="c15" points="7,0 8,-.17 9,-7.72 10,-.46"/>
<polyline class="c15" points="7,0 8,-3.64 9,-7.89 10,-.46"/>
<polyline class="c15" points="5,0 6,-.64 7,-3 8,-6.08 9,-9.67 10,-.46"/>
<polyline class="c15" points="5,0 6,-1.1 7,-3.83 8,-6.41 9,-8.93 10,-.46"/>
<polyline class="c15" points="3,0 4,-.12 5,-.46 6,-2.76 7,-4.95 8,-7.09 9,-9.2 10,-.46"/>
<polyline class="c15" points="6,0 7,-.03 8,-2.73 9,-7.99 10,-.46"/>
<polyline class="c15" points="5,0 6,-.36 7,-.68 8,-4.15 9,-7.7 10,-.46"/>
<polyline class="c15" points="6,0 7,-1.34 8,-5.94 9,-10.14 10,-.46"/>
<polyline class="c15" points="7,0 8,-.26 9,-7.72 10,-.46"/>
<polyline class="c15" points="5,0 6,-1.46 7,-3.6 8,-5.94 9,-8.4 10,-.46"/>
<polyline class="c15" points="5,0 6,-.1 7,-2.09 8,-5.78 9,-9.66 10,-.46"/>
<polyline class="c15" points="7,0 8,-4.67 9,-9.86 10,-.46"/>
<polyline class="c15" points="5,0 6,-1.64 7,-3.77 8,-5.86 9,-7.93 10,-.46"/>
<polyline class="c15" points="6,0 7,-.15 8,-3.2 9,-9.51 10,-.46"/>
<polyline class="c15" points="7,0 8,-.23 9,-7.88 10,-.46"/>
<polyline class="c15" points="4,0 5,-.1 6,-1.66 7,-3.65 8,-5.86 9,-8.25 10,-.46"/>
<polyline class="c15" points="5,0 6,-.13 7,-1.51 8,-5.08 9,-8.66 10,-.46"/>
<polyline class="c15" points="4,0 5,-.16 6,-1.17 7,-3.86 8,-6.69 9,-9.6 10,-.46"/>
<polyline class="c15" points="3,0 4,-.02 5,-.17 6,-1.82 7,-3.96 8,-6.4 9,-9.05 10,-.46"/>
<polyline class="c15" points="4,0 5,-.05 6,-1.54 7,-3.97 8,-6.28 9,-8.53 10,-.46"/>
<polyline class="c15" points="7,0 8,-.01 9,-8.14 10,-.46"/>
<polyline class="c15" points="6,0 7,-1.82 8,-4.71 9,-7.85 10,-.46"/>
<polyline class="c15" points="4,0 5,-.3 6,-2.74 7,-5.11 8,-7.45 9,-9.78 10,-.46"/>
<polyline class="c15" points="3,0 4,-.32 5,-.06 6,-1.33 7,-3.22 8,-5.48 9,-8.03 10,-.46"/>
<polyline class="c15" points="5,0 6,-1.21 7,-3.51 8,-5.99 9,-8.58 10,-.46"/>
<polyline class="c15" points="6,0 7,-.22 8,-3.83 9,-9.83 10,-.46"/>
<polyline class="c15" points="3,0 4,-.03 5,-.02 6,-1.42 7,-3.54 8,-6.07 9,-8.93 10,-.46"/>
<polyline class="c15" points="6,0 7,-2.44 8,-5.55 9,-8.51 10,-.46"/>
<polyline class="c15" points="7,0 8,-.01 9,-7.61 10,-.46"/>
<polyline class="c15" points="4,0 5,-.21 6,-.09 7,-1.97 8,-4.61 9,-7.72 10,-.46"/>
<polyline class="c15" points="5,0 6,-.29 7,-2.52 8,-5.84 9,-9.33 10,-.46"/>
<polyline class="c15" points="7,0 8,-2.93 9,-9.29 10,-.46"/>
<polyline class="c15" points="6,0 7,-.26 8,-.45 9,-9.52 10,-.46"/>
<polyline class="c15" points="5,0 6,-1.17 7,-3.33 8,-6.06 9,-9.24 10,-.46"/>
<polyline class="c15" points="3,0 4,-.14 5,-.03 6,-1.97 7,-4.04 8,-6.17 9,-8.34 10,-.46"/>
<polyline class="c15" points="5,0 6,-.34 7,-.36 8,-4.24 9,-9.01 10,-.46"/>
<polyline class="c15" points="7,0 8,-2.41 9,-9.95 10,-.46"/>
<polyline class="c15" points="4,0 5,-.27 6,-1.14 7,-3.41 8,-5.98 9,-8.73 10,-.46"/>
<polyline class="c15" points="6,0 7,-1.11 8,-4.94 9,-8.45 10,-.46"/>
<polyline class="c15" points="7,0 8,-1.25 9,-9.86 10,-.46"/>
<polyline class="c15" points="6,0 7,-1.8 8,-5.12 9,-8.58 10,-.46"/>
<polyline class="c15" points="5,0 6,-.29 7,-.86 8,-4.73 9,-9.84 10,-.46"/>
<polyline class="c15" points="5,0 6,-.98 7,-2.89 8,-5.21 9,-7.82 10,-.46"/>
<polyline class="c15" points="4,0 5,-.08 6,-1.4 7,-3.71 8,-5.88 9,-7.97 10,-.46"/>
<polyline class="c15" points="5,0 6,-.01 7,-1.47 8,-4.38 9,-7.96 10,-.46"/>
<polyline class="c15" points="4,0 5,-.23 6,-2.2 7,-4.43 8,-6.61 9,-8.75 10,-.46"/>
<polyline class="c15" points="3,0 4,-.38 5,-.42 6,-2.44 7,-4.4 8,-6.34 9,-8.26 10,-.46"/>
<polyline class="c15" points="4,0 5,-.34 6,-1.38 7,-3.7 8,-6.53 9,-9.73 10,-.46"/>
<polyline class="c15" points="6,0 7,-.11 8,-4.33 9,-10.06 10,-.46"/>
<polyline class="c16" points="8,-6.07 9,-10.17 10,-.46"/>
<polyline class="c34" points="10,-.46 14,-.46"/>
<polyline class="c19" points="13,0 14,-1.74 15,-7.96 16,-.46"/>
<polyline class="c19" points="13,0 14,-1.21 15,-7.38 16,-.46"/>
<polyline class="c19" points="14,0 15,-6.7 16,-.46"/>
<polyline class="c19" points="12,0 13,-.02 14,-.31 15,-7.93 16,-.46"/>
<polyline class="c19" points="11,0 12,-.06 13,-.67 14,-3.31 15,-6.66 16,-.46"/>
<polyline class="c19" points="13,0 14,-1.81 15,-6.9 16,-.46"/>
<polyline class="c19" points="13,0 14,-.82 15,-6.8 16,-.46"/>
<polyline class="c19" points="12,0 13,-.06 14,-2.51 15,-7.14 16,-.46"/>
<polyline class="c19" points="12,0 13,-.28 14,-.61 15,-6.28 16,-.46"/>
<polyline class="c19" points="13,0 14,-.26 15,-6.52 16,-.46"/>
<polyline class="c19" points="12,0 13,-.01 14,-2.44 15,-7.94 16,-.46"/>
<polyline class="c19" points="12,0 13,-.28 14,-2.79 15,-6.49 16,-.46"/>
<polyline class="c19" points="12,0 13,-.22 14,-2.79 15,-6.88 16,-.46"/>
<polyline class="c19" points="13,0 14,-1.89 15,-7.27 16,-.46"/>
<polyline class="c19" points="11,0 12,-.18 13,-.11 14,-3.12 15,-7.42 16,-.46"/>
<polyline class="c19" points="11,0 12,-.18 13,-.08 14,-3.39 15,-8.02 16,-.46"/>
<polyline class="c19" points="14,0 15,-6.91 16,-.46"/>
<polyline class="c19" points="12,0 13,-.19 14,-2.28 15,-6.42 16,-.46"/>
<polyline class="c19" points="12,0 13,-.13 14,-2.15 15,-6.35 16,-.46"/>
<polyline class="c19" points="12,0 13,-.16 14,-.69 15,-7.05 16,-.46"/>
<polyline class="c19" points="12,0 13,-.09 14,-.66 15,-6.47 16,-.46"/>
<polyline class="c19" points="12,0 13,-.18 14,-.18 15,-6.38 16,-.46"/>
<polyline class="c19" points="12,0 13,-.11 14,-1.76 15,-8.56 16,-.46"/>
<polyline class="c19" points="12,0 13,-.01 14,-2.21 15,-6.85 16,-.46"/>
<polyline class="c19" points="11,0 12,-.06 13,0 14,-2.19 15,-7.48 16,-.46"/>
<polyline class="c19" points="12,0 13,-.05 14,-2.15 15,-8.63 16,-.46"/>
<polyline class="c19" points="12,0 13,-.28 14,-2.13 15,-7.59 16,-.46"/>
<polyline class="c19" points="12,0 13,-.03 14,0 15,-6.9 16,-.46"/>
<polyline class="c19" points="12,0 13,-.34 14,-3.3 15,-6.93 16,-.46"/>
<polyline class="c19" points="12,0 13,-.1 14,-1.55 15,-7.3 16,-.46"/>
<polyline class="c19" points="12,0 13,-.06 14,-.73 15,-6.49 16,-.46"/>
<polyline class="c19" points="11,0 12,-.16 13,-.02 14,-2.24 15,-6.46 16,-.46"/>
<polyline class="c19" points="13,0 14,-2.04 15,-8.26 16,-.46"/>
<polyline class="c19" points="12,0 13,-.02 14,-2.31 15,-6.38 16,-.46"/>
<polyline class="c19" points="12,0 13,-.02 14,-1.29 15,-8.42 16,-.46"/>
<polyline class="c19" points="12,0 13,-.26 14,-.41 15,-8.59 16,-.46"/>
<polyline class="c19" points="12,0 13,-.34 14,-.63 15,-8.36 16,-.46"/>
<polyline class="c19" points="12,0 13,-.1 14,-2.11 15,-7.96 16,-.46"/>
<polyline class="c19" points="13,0 14,-.19 15,-6.54 16,-.46"/>
<polyline class="c19" points="12,0 13,-.56 14,-3.31 15,-7.14 16,-.46"/>
<polyline class="c19" points="12,0 13,-.35 14,-.14 15,-8.93 16,-.46"/>
<polyline class="c19" points="12,0 13,-.08 14,-.53 15,-8.82 16,-.46"/>
<polyline class="c19" points="12,0 13,-.01 14,-1.72 15,-6.16 16,-.46"/>
<polyline class="c19" points="12,0 13,-.19 14,-2.6 15,-7.16 16,-.46"/>
<polyline class="c19" points="14,0 15,-6.79 16,-.46"/>
<polyline class="c19" points="12,0 13,-.14 14,-1.7 15,-6.78 16,-.46"/>
<polyline class="c19" points="12,0 13,-.31 14,-1.09 15,-6.63 16,-.46"/>
<polyline class="c19" points="12,0 13,-.28 14,-2.33 15,-7.1 16,-.46"/>
<polyline class="c19" points="14,0 15,-7.18 16,-.46"/>
<polyline class="c19" points="11,0 12,-.31 13,-.56 14,-4.1 15,-8.89 16,-.46"/>
<polyline class="c1" points="14,-.46 15,-8.95 16,-4.55"/>
<polyline class="c20" points="14,-1.15 15,-8.71 16,-4.46 17,-1.01 18,0"/>
<polyline class="c20" points="14,-1.22 15,-8.74 16,-5.62 17,-2.5 18,0"/>
<polyline class="c20" points="14,-1.23 15,-7.73 16,-4.32 17,-1.29 18,0"/>
<polyline class="c20" points="14,-.9 15,-8.5 16,-3.83 17,-.44 18,0"/>
<polyline class="c20" points="14,-1.08 15,-6.83 16,-4.48 17,-2.1 18,0"/>
<polyline class="c20" points="14,-.5 15,-6.34 16,-1.5 17,0"/>
<polyline class="c20" points="14,-1.33 15,-8 16,-2.12 17,0"/>
<polyline class="c20" points="14,-1.19 15,-7.25 16,-1.35 17,0"/>
<polyline class="c20" points="14,-1.09 15,-6.61 16,-3.37 17,-.34 18,0"/>
<polyline class="c20" points="14,-1.47 15,-6.34 16,-1.49 17,0"/>
<polyline class="c20" points="14,-.82 15,-6.38 16,-2.71 17,-.06 18,0"/>
<polyline class="c20" points="14,-.65 15,-7.92 16,-.62 17,0"/>
<polyline class="c20" points="14,-.91 15,-7 16,-2.3 17,0"/>
<polyline class="c20" points="14,-.64 15,-8.54 16,-3.98 17,-.86 18,0"/>
<polyline class="c20" points="14,-.77 15,-8.45 16,-4.27 17,-1.22 18,0"/>
<polyline class="c20" points="14,-1.45 15,-6.94 16,-4.51 17,-1.99 18,0"/>
<polyline class="c20" points="14,-.83 15,-7.56 16,-3.9 17,0"/>
<polyline class="c20" points="14,-.55 15,-8.02 16,-2.2 17,0"/>
<polyline class="c20" points="14,-.81 15,-7.89 16,-3.71 17,-.84 18,0"/>
<polyline class="c20" points="14,-.6 15,-8.83 16,-5.54 17,-2.46 18,0"/>
<polyline class="c20" points="14,-1.34 15,-6.23 16,-1.31 17,0"/>
<polyline class="c20" points="14,-1.08 15,-8.53 16,-3.63 17,0"/>
<polyline class="c20" points="14,-1.1 15,-7.11 16,-1.11 17,0"/>
<polyline class="c20" points="14,-.46 15,-6.83 16,-1.84 17,0"/>
<polyline class="c20" points="14,-1.35 15,-7.43 16,-3.64 17,-.36 18,0"/>
<polyline class="c20" points="14,-1.4 15,-8.09 16,-.61 17,0"/>
<polyline class="c20" points="14,-1.04 15,-8.22 16,-4.99 17,-1.66 18,0"/>
<polyline class="c20" points="14,-.63 15,-6.81 16,-3.19 17,-.69 18,0"/>
<polyline class="c20" points="14,-.64 15,-6.99 16,-2.82 17,0 18,0"/>
<polyline class="c20" points="14,-.82 15,-6.62 16,0"/>
<polyline class="c20" points="14,-1.17 15,-8.19 16,-4.84 17,-1.26 18,0"/>
<polyline class="c20" points="14,-.62 15,-6.68 16,-3.48 17,-1.04 18,0"/>
<polyline class="c20" points="14,-1.26 15,-8.61 16,-5.52 17,-2.42 18,0"/>
<polyline class="c20" points="14,-1.34 15,-7.59 16,-2.39 17,0"/>
<polyline class="c20" points="14,-1.27 15,-8.03 16,-.2 17,0"/>
<polyline class="c20" points="14,-1.05 15,-6.77 16,-2.78 17,0"/>
<polyline class="c20" points="14,-.89 15,-7.43 16,-4.84 17,-1.95 18,0"/>
<polyline class="c20" points="14,-1.01 15,-8.36 16,-2.7 17,0"/>
<polyline class="c20" points="14,-.72 15,-6.55 16,-3.82 17,-1.19 18,0"/>
<polyline class="c20" points="14,-.62 15,-8.77 16,-5.24 17,-1.07 18,0"/>
<polyline class="c20" points="14,-1.4 15,-8.03 16,-3.43 17,-.47 18,0"/>
<polyline class="c20" points="14,-.84 15,-8.07 16,-1.8 17,0"/>
<polyline class="c20" points="14,-1.39 15,-6.73 16,-2.45 17,-.04 18,0"/>
<polyline class="c20" points="14,-1.06 15,-7.48 16,-3.99 17,-1.15 18,0"/>
<polyline class="c20" points="14,-1.2 15,-8.73 16,-5.42 17,-1.97 18,0"/>
<polyline class="c20" points="14,-1.51 15,-7.78 16,-3.58 17,-.66 18,0"/>
<polyline class="c20" points="14,-1.25 15,-7.17 16,-3.6 17,-.86 18,0"/>
<polyline class="c20" points="14,-.95 15,-8.95 16,-1.12 17,0"/>
<polyline class="c20" points="14,-.76 15,-8.66 16,-.08 17,0"/>
<polyline class="c20" points="14,-.55 15,-7.57 16,-3.01 17,-.24 18,0"/>
<polyline class="c20" points="14,-.5 15,-6.92 16,0"/>
<polyline class="c20" points="14,-1.5 15,-6.19 16,-3.84 17,-1.64 18,0"/>
<polyline class="c20" points="14,-.93 15,-7.18 16,-2.97 17,-.04 18,0"/>
<polyline class="c20" points="14,-.95 15,-6.47 16,-1.29 17,0"/>
<polyline class="c20" points="14,-.75 15,-7.92 16,-5.05 17,-1.71 18,0"/>
<polyline class="c20" points="14,-1.05 15,-6.37 16,-2.15 17,0"/>
<polyline class="c20" points="14,-.7 15,-6.13 16,-3.45 17,-1.26 18,0"/>
<polyline class="c20" points="14,-1.35 15,-8.92 16,-5.07 17,-1.21 18,0"/>
<polyline class="c20" points="14,-1.42 15,-8.14 16,-4.74 17,-1.31 18,0"/>
<polyline class="c20" points="14,-.91 15,-8.8 16,-2.45 17,0"/>
<polyline class="c20" points="14,-1.07 15,-7.45 16,0"/>
<polyline class="c20" points="14,-1.04 15,-6.61 16,-1.04 17,0"/>
<polyline class="c20" points="14,-.55 15,-8.24 16,-4.82 17,-1.86 18,0"/>
<polyline class="c20" points="14,-1.36 15,-7.41 16,-3.72 17,-.57 18,0"/>
<polyline class="c20" points="14,-.79 15,-6.2 16,-2.82 17,0"/>
<polyline class="c20" points="14,-1.29 15,-8.94 16,-4.24 17,-.53 18,0"/>
<polyline class="c20" points="14,-1.05 15,-8.12 16,-1.13 17,0"/>
<polyline class="c20" points="14,-.51 15,-6.9 16,-1.26 17,0"/>
<polyline class="c20" points="14,-.68 15,-6.69 16,-2.22 17,0"/>
<polyline class="c20" points="14,-1.2 15,-8.28 16,-1.88 17,0"/>
<polyline class="c20" points="14,-.57 15,-8.79 16,-2.8 17,0"/>
<polyline class="c20" points="14,-1.16 15,-7.31 16,-4.87 17,-2.42 18,0"/>
<polyline class="c20" points="14,-.54 15,-6.72 16,-1.21 17,0"/>
<polyline class="c20" points="14,-.84 15,-8.64 16,-2.77 17,0"/>
<polyline class="c20" points="14,-1.29 15,-6.12 16,-2.97 17,-.64 18,0"/>
<polyline class="c20" points="14,-1.18 15,-8.15 16,0"/>
<polyline class="c20" points="14,-1.32 15,-6.16 16,0"/>
<polyline class="c20" points="14,-.84 15,-6.31 16,-1.8 17,0"/>
<polyline class="c20" points="14,-1.11 15,-8.73 16,-.77 17,0"/>
<polyline class="c20" points="14,-.52 15,-7.33 16,0"/>
<polyline class="c20" points="14,-1.36 15,-8.48 16,-2.52 17,0"/>
<polyline class="c20" points="14,-1.18 15,-6.14 16,-2.93 17,-.44 18,0"/>
<polyline class="c20" points="14,-1.04 15,-7.53 16,-3.8 17,-1.11 18,0"/>
<polyline class="c20" points="14,-.77 15,-7.92 16,-4.8 17,-1.05 18,0"/>
<polyline class="c20" points="14,-.57 15,-8.34 16,-3.69 17,-.13 18,0"/>
<polyline class="c20" points="14,-.82 15,-6.08 16,-2.8 17,-.42 18,0"/>
<polyline class="c20" points="14,-.98 15,-6.12 16,-2.22 17,0"/>
<polyline class="c20" points="14,-.8 15,-6.72 16,-.96 17,0"/>
<polyline class="c20" points="14,-1.44 15,-7.74 16,0"/>
<polyline class="c20" points="14,-.98 15,-7.67 16,-3.32 17,0"/>
<polyline class="c20" points="14,-1.27 15,-6.47 16,-2.13 17,0"/>
<polyline class="c20" points="14,-.47 15,-7.49 16,-1.72 17,0"/>
<polyline class="c20" points="14,-.7 15,-6.38 16,-3.74 17,-.85 18,0"/>
<polyline class="c20" points="14,-1.17 15,-8.05 16,-3.26 17,-.14 18,0"/>
<polyline class="c20" points="14,-.6 15,-8.93 16,-2.17 17,0"/>
<polyline class="c20" points="14,-1.41 15,-6.98 16,-4.11 17,-1.54 18,0"/>
<polyline class="c20" points="14,-.55 15,-7.34 16,-4.82 17,-2 18,0"/>
<polyline class="c20" points="14,-1.49 15,-8.48 16,-3.67 17,-.45 18,0"/>
<polyline class="c20" points="14,-1.47 15,-6.51 16,-.85 17,0"/>
<polyline class="c20" points="14,-1.33 15,-8.22 16,-3.93 17,-.83 18,0"/>
<polyline class="c20" points="14,-1.17 15,-6.21 16,-.99 17,0"/>
<polyline class="c20" points="14,-.54 15,-6.55 16,-3.9 17,-1.31 18,0"/>
<polyline class="c20" points="14,-.46 15,-6.52 16,-.08 17,0"/>
<polyline class="c20" points="14,-1.5 15,-8.55 16,-.61 17,0"/>
<polyline class="c20" points="14,-.9 15,-7.28 16,-4.3 17,-1.69 18,0"/>
<polyline class="c20" points="14,-1.49 15,-7.91 16,-.2 17,0"/>
<polyline class="c20" points="14,-.68 15,-7.72 16,-3.11 17,0"/>
<polyline class="c20" points="14,-1.2 15,-7.26 16,0"/>
<polyline class="c20" points="14,-.63 15,-6.57 16,-2.84 17,0"/>
<polyline class="c20" points="14,-1.48 15,-6.74 16,-1.42 17,0"/>
<polyline class="c20" points="14,-1.16 15,-6.79 16,-3.74 17,-.98 18,0"/>
<polyline class="c20" points="14,-.76 15,-7.87 16,-3.42 17,-.51 18,0"/>
<polyline class="c20" points="14,-.98 15,-7.93 16,0"/>
<polyline class="c20" points="14,-.87 15,-6.94 16,-3.77 17,-.87 18,0"/>
<polyline class="c20" points="14,-.97 15,-7.82 16,-3.19 17,-.21 18,0"/>
<polyline class="c20" points="14,-1.28 15,-7.58 16,-2.94 17,0"/>
<polyline class="c20" points="14,-.46 15,-8.78 16,-3.5 17,0"/>
<polyline class="c20" points="14,-.47 15,-8.12 16,-2.97 17,0"/>
<polyline class="c20" points="14,-.76 15,-7.34 16,-1.39 17,0"/>
<polyline class="c20" points="14,-.49 15,-7.47 16,0"/>
<polyline class="c20" points="14,-1.47 15,-8.01 16,-3.42 17,0"/>
<polyline class="c20" points="14,-.66 15,-6.7 16,-.8 17,0"/>
<polyline class="c20" points="14,-1.26 15,-7.35 16,-4.11 17,-1.4 18,0"/>
<polyline class="c20" points="14,-.62 15,-7.1 16,-4.58 17,-1.91 18,0"/>
<polyline class="c20" points="14,-1.22 15,-6.42 16,-3.51 17,-.96 18,0"/>
<polyline class="c20" points="14,-1.14 15,-7.19 16,-3.46 17,-.39 18,0"/>
<polyline class="c20" points="14,-1.05 15,-6.11 16,-2.17 17,0"/>
<polyline class="c20" points="14,-.73 15,-8.04 16,-.94 17,0"/>
<polyline class="c20" points="14,-.66 15,-7.51 16,-3.9 17,-.99 18,0"/>
<polyline class="c20" points="14,-.91 15,-7.61 16,-4.28 17,-.98 18,0"/>
<polyline class="c44" points="18,-.46 19,-11.53 20,-11.68 21,-11.68 22,-11.68 23,0"/>
<polyline class="c44" points="18,-.46 19,-9.1 20,-9.26 21,-9.26 22,-9.26 23,-9.1"/>
<polyline class="c5" points="18,-.46 19,-11.68 20,-11.68 21,0"/>
<polyline class="c13" points="18,-.46 19,-12.9 20,-13.2 21,-4.55 22,0"/>
<polyline class="c5" points="18,-.46 19,-10.62 20,-11.84 21,-9.41 22,-3.03 23,0"/>
<polyline class="c38" points="18,-.46 19,-11.14 20,-10.06 21,-8.84 22,-10.27 23,0"/>
<polyline class="c38" points="18,-.46 19,-7.82 20,-5.73 21,-6.3 22,0"/>
<polyline class="c38" points="18,-.46 19,-11.6 20,0"/>
<polyline class="c38" points="18,-.46 19,-6.8 20,-5.5 21,-6.66 22,0"/>
<polyline class="c38" points="18,-.46 19,-5.06 20,-4.91 21,-4.19 22,0"/>
<polyline class="c38" points="18,-.46 19,-5.64 20,-4.89 21,-5.28 22,-4.16 23,0"/>
<polyline class="c38" points="18,-.46 19,-4.76 20,0"/>
<polyline class="c38" points="18,-.46 19,-5.93 20,-4.99 21,0"/>
<polyline class="c38" points="18,-.46 19,-7.51 20,-6.91 21,-7.39 22,-6.51 23,0"/>
<polyline class="c38" points="18,-.46 19,-11.27 20,-9.32 21,0"/>
<polyline class="c38" points="18,-.46 19,-6.09 20,-5.62 21,0"/>
<polyline class="c38" points="18,-.46 19,-11.43 20,-10.13 21,-10 22,-11.12 23,0"/>
<polyline class="c38" points="18,-.46 19,-6.74 20,0"/>
<polyline class="c38" points="18,-.46 19,-12.01 20,-11.71 21,-10.51 22,0"/>
<polyline class="c38" points="18,-.46 19,-9.83 20,-7.02 21,-9.18 22,0"/>
<polyline class="c38" points="18,-.46 19,-5.53 20,0"/>
<polyline class="c38" points="18,-.46 19,-8.76 20,-6.28 21,-7.77 22,-7.51 23,0"/>
<polyline class="c38" points="18,-.46 19,-8.31 20,-8.19 21,-7.35 22,0"/>
<polyline class="c38" points="18,-.46 19,-10.22 20,-9.37 21,-8.04 22,0"/>
<polyline class="c38" points="18,-.46 19,-11.45 20,0"/>
<polyline class="c38" points="18,-.46 19,-10.76 20,-8.73 21,-8.49 22,-8.85 23,0"/>
<polyline class="c38" points="18,-.46 19,-8.76 20,-6.55 21,-7.66 22,0"/>
<polyline class="c38" points="18,-.46 19,-4.85 20,-3.71 21,-4.33 22,0"/>
<polyline class="c38" points="18,-.46 19,-10.24 20,-7.87 21,-7.21 22,-9.25 23,0"/>
<polyline class="c38" points="18,-.46 19,-7.02 20,-6.84 21,0"/>
<polyline class="c38" points="18,-.46 19,-12.43 20,-11.08 21,-9.05 22,-10.97 23,0"/>
<polyline class="c38" points="18,-.46 19,-10.35 20,0"/>
<polyline class="c38" points="18,-.46 19,-7.73 20,-7.21 21,-6.63 22,0"/>
<polyline class="c38" points="18,-.46 19,-8.71 20,-6.28 21,0"/>
<polyline class="c38" points="18,-.46 19,-9.15 20,-8.12 21,-8 22,-6.46 23,0"/>
<polyline class="c38" points="18,-.46 19,-8.65 20,-6.96 21,-7.86 22,0"/>
<polyline class="c38" points="18,-.46 19,-11.58 20,-8.83 21,-10.77 22,0"/>
<polyline class="c38" points="18,-.46 19,-7.4 20,-7.12 21,0"/>
<polyline class="c38" points="18,-.46 19,-9.29 20,0"/>
<polyline class="c38" points="18,-.46 19,-5.3 20,0"/>
<polyline class="c38" points="18,-.46 19,-11.63 20,0"/>
<polyline class="c38" points="18,-.46 19,-10.59 20,-7.56 21,-8.9 22,-8.58 23,0"/>
<polyline class="c38" points="18,-.46 19,-7.89 20,0"/>
<polyline class="c38" points="18,-.46 19,-9.52 20,-7.01 21,-9.41 22,0"/>
<polyline class="c38" points="18,-.46 19,-6.72 20,0"/>
<polyline class="c38" points="18,-.46 19,-7.1 20,-5.97 21,-6.57 22,0"/>
<polyline class="c38" points="18,-.46 19,-9.52 20,-7.23 21,-8.99 22,0"/>
<polyline class="c38" points="18,-.46 19,-7.64 20,-6.89 21,-6.96 22,-6.89 23,0"/>
<polyline class="c38" points="18,-.46 19,-9.65 20,0"/>
<polyline class="c38" points="18,-.46 19,-9.07 20,-7.17 21,-8.88 22,-8.59 23,0"/>
<polyline class="c38" points="18,-.46 19,-9.47 20,-6.95 21,-8.16 22,0"/>
<polyline class="c38" points="18,-.46 19,-6.55 20,-6.42 21,-5.68 22,-5.16 23,0"/>
<polyline class="c38" points="18,-.46 19,-11.86 20,-9.27 21,-10.46 22,-11.29 23,0"/>
<polyline class="c38" points="18,-.46 19,-8.44 20,0"/>
<polyline class="c38" points="18,-.46 19,-12.45 20,-10.23 21,0"/>
<polyline class="c38" points="18,-.46 19,-8.38 20,0"/>
<polyline class="c38" points="18,-.46 19,-9.85 20,-8.12 21,-7.84 22,0"/>
<polyline class="c38" points="18,-.46 19,-5.72 20,-5.14 21,0"/>
<polyline class="c38" points="18,-.46 19,-12.73 20,-10.72 21,-9.42 22,0"/>
<polyline class="c38" points="18,-.46 19,-12.52 20,0"/>
<polyline class="c38" points="18,-.46 19,-10.52 20,-8.17 21,0"/>
<polyline class="c38" points="18,-.46 19,-10.49 20,-10.41 21,-8.84 22,-10.29 23,0"/>
<polyline class="c38" points="18,-.46 19,-10.06 20,0"/>
<polyline class="c38" points="18,-.46 19,-11.07 20,-9.18 21,0"/>
<polyline class="c38" points="18,-.46 19,-5.11 20,-4.63 21,-3.77 22,0"/>
<polyline class="c38" points="18,-.46 19,-12.24 20,-9.71 21,0"/>
<polyline class="c38" points="18,-.46 19,-6.54 20,-5.91 21,-4.72 22,-6.3 23,0"/>
<polyline class="c38" points="18,-.46 19,-10.2 20,-7.25 21,-9.8 22,-9.68 23,0"/>
<polyline class="c38" points="18,-.46 19,-11.36 20,0"/>
<polyline class="c38" points="18,-.46 19,-10.92 20,-10.76 21,0"/>
<polyline class="c38" points="18,-.46 19,-5.82 20,-4.65 21,-5.23 22,-4.76 23,0"/>
<polyline class="c38" points="18,-.46 19,-11.65 20,0"/>
<polyline class="c38" points="18,-.46 19,-7.31 20,-5.71 21,-5.67 22,-7.28 23,0"/>
<polyline class="c38" points="18,-.46 19,-11.01 20,-7.83 21,0"/>
<polyline class="c38" points="18,-.46 19,-8.02 20,-7.36 21,-7.21 22,-7.68 23,0"/>
<polyline class="c38" points="18,-.46 19,-5.8 20,-4.96 21,0"/>
<polyline class="c38" points="18,-.46 19,-5.25 20,-3.74 21,-3.78 22,-4.89 23,0"/>
<polyline class="c38" points="18,-.46 19,-6.66 20,-5.82 21,-5 22,-4.67 23,0"/>
<polyline class="c38" points="18,-.46 19,-8.74 20,-8.29 21,0"/>
<polyline class="c38" points="18,-.46 19,-7.1 20,0"/>
<polyline class="c38" points="18,-.46 19,-6.03 20,0"/>
<polyline class="c38" points="18,-.46 19,-7.95 20,-5.99 21,0"/>
<polyline class="c38" points="18,-.46 19,-9.87 20,-8.7 21,-7.89 22,-9.6 23,0"/>
<polyline class="c38" points="18,-.46 19,-6.71 20,0"/>
<polyline class="c38" points="18,-.46 19,-8.23 20,-7.66 21,-7.85 22,-5.85 23,0"/>
<polyline class="c38" points="18,-.46 19,-6.7 20,0"/>
<polyline class="c38" points="18,-.46 19,-4.88 20,-3.84 21,-4.37 22,0"/>
<polyline class="c38" points="18,-.46 19,-8.49 20,-6.96 21,-6.3 22,0"/>
<polyline class="c38" points="18,-.46 19,-9.67 20,-9.39 21,-8.09 22,-8.07 23,0"/>
<polyline class="c38" points="18,-.46 19,-7.97 20,-7.16 21,-7.43 22,0"/>
<polyline class="c38" points="18,-.46 19,-4.75 20,0"/>
<polyline class="c38" points="18,-.46 19,-4.85 20,-3.83 21,-4.43 22,-4.69 23,0"/>
<polyline class="c38" points="18,-.46 19,-11.26 20,0"/>
<polyline class="c38" points="18,-.46 19,-8.4 20,-5.92 21,0"/>
<polyline class="c38" points="18,-.46 19,-12.82 20,0"/>
<polyline class="c38" points="18,-.46 19,-10.72 20,-7.65 21,-8.34 22,-8.06 23,0"/>
<polyline class="c38" points="18,-.46 19,-8.33 20,0"/>
<polyline class="c38" points="18,-.46 19,-9.73 20,0"/>
<polyline class="c38" points="18,-.46 19,-10.58 20,0"/>
<polyline class="c38" points="18,-.46 19,-5.3 20,-3.75 21,0"/>
<polyline class="c38" points="18,-.46 19,-6.3 20,-5.79 21,0"/>
<polyline class="c38" points="18,-.46 19,-11.77 20,-10.01 21,0"/>
<polyline class="c38" points="18,-.46 19,-10.3 20,-9.28 21,0"/>
<polyline class="c38" points="18,-.46 19,-10.15 20,0"/>
<polyline class="c38" points="18,-.46 19,-9.94 20,-9.41 21,-7.74 22,0"/>
</g>
<g transform="translate(26.72 368.04) scale(6.015)">
<polyline class="c25" points="5,0 6,-2.71 7,-5.02 8,-6.89 9,-8.34 10,-9.34 11,-9.88 12,-9.91 13,-9.3 14,-8.02 15,-6.12 16,-3.61 17,-.09 18,0"/>
<polyline class="c25" points="5,0 6,-4.04 7,-6.29 8,-7.93 9,-9.11 10,-9.86 11,-10.2 12,-10.08 13,-9.35 14,-8.01 15,-6.09 16,-3.55 17,0"/>
<polyline class="c25" points="5,0 6,-2.85 7,-5.49 8,-7.7 9,-6.44 10,-10.13 11,-10.52 12,-9.84 13,-8.89 14,-7.78 15,-7.02 16,-4.35 17,-.95 18,0"/>
<polyline class="c25" points="5,0 6,-2.23 7,-5.1 8,-7.46 9,-9.27 10,-10.48 11,-11.02 12,-10.92 13,-10.26 14,-9.06 15,-7.32 16,-4.97 17,-1.65 18,0"/>
<polyline class="c25" points="5,0 6,-2.89 7,-5.74 8,-8.03 9,-9.76 10,-10.91 11,-11.44 12,-11.34 13,-10.66 14,-9.39 15,-7.49 16,-4.84 17,0"/>
<polyline class="c25" points="5,0 6,-1.82 7,-3.52 8,-6.59 9,-5.1 10,-8.74 11,-6.12 12,-7.34 13,-5.93 14,-5.7 15,-4.87 16,-3.06 17,0"/>
<polyline class="c25" points="5,0 6,-2.48 7,-4.27 8,-6.3 9,-8.29 10,-7.24 11,-7.32 12,-10.53 13,-10.44 14,-8.2 15,-6.16 16,-5.04 17,-.76 18,0"/>
<polyline class="c25" points="5,0 6,-2.03 7,-4.68 8,-6.85 9,-8.56 10,-9.79 11,-10.49 12,-10.66 13,-10.1 14,-8.77 15,-6.71 16,-3.94 17,0"/>
<polyline class="c25" points="5,0 6,-.87 7,-2.01 8,-2.27 9,-3.09 10,-2.46 11,-2.98 12,-2.6 13,-2.55 14,-2.12 15,-1.66 16,-1.25 17,-.16 18,0"/>
<polyline class="c25" points="5,0 6,-1.52 7,-4.42 8,-6.59 9,-7.75 10,-6.07 11,-6.28 12,-8.2 13,-6.95 14,-7.48 15,-4.23 16,-3.79 17,-.6 18,0"/>
<polyline class="c25" points="5,0 6,-1.24 7,-2.06 8,-2.64 9,-3.05 10,-3.3 11,-3.4 12,-3.35 13,-3.15 14,-2.78 15,-2.25 16,-1.53 17,-.49 18,0"/>
<polyline class="c25" points="5,0 6,-1.4 7,-2.71 8,-3.17 9,-4.46 10,-5.24 11,-5.37 12,-4.24 13,-4.19 14,-3.54 15,-2.77 16,-1.83 17,0"/>
<polyline class="c25" points="5,0 6,-.94 7,-2.6 8,-2.65 9,-3.46 10,-5.56 11,-4.18 12,-4.09 13,-5.48 14,-3.63 15,-3 16,-1.82 17,0"/>
<polyline class="c25" points="5,0 6,-3.34 7,-6.15 8,-8.39 9,-10.06 10,-11.11 11,-11.51 12,-11.29 13,-10.52 14,-9.21 15,-7.31 16,-4.67 17,0"/>
<polyline class="c25" points="5,0 6,-1.38 7,-3.37 8,-4.92 9,-6.05 10,-6.72 11,-6.9 12,-6.71 13,-6.23 14,-5.44 15,-4.33 16,-2.77 17,0"/>
<polyline class="c25" points="5,0 6,-1.82 7,-4.8 8,-5.71 9,-5.01 10,-6.4 11,-5.96 12,-5.68 13,-5.07 14,-4.38 15,-4.61 16,-1.95 17,0"/>
<polyline class="c25" points="5,0 6,-.86 7,-1.72 8,-2.38 9,-2.87 10,-3.16 11,-3.27 12,-3.19 13,-2.93 14,-2.5 15,-1.9 16,-1.14 17,-.06 18,0"/>
<polyline class="c25" points="5,0 6,-1.7 7,-4.62 8,-6.5 9,-8.49 10,-8.34 11,-9.51 12,-6.92 13,-8.85 14,-5.53 15,-4.28 16,-2.9 17,-.86 18,0"/>
<polyline class="c25" points="5,0 6,-2.41 7,-3.49 8,-4.75 9,-7.34 10,-6.51 11,-8.68 12,-10.43 13,-6.63 14,-6.15 15,-5.82 16,-4.28 17,-.73 18,0"/>
<polyline class="c25" points="5,0 6,-3.63 7,-6.41 8,-8.58 9,-10.13 10,-11.01 11,-11.18 12,-10.74 13,-9.72 14,-8.15 15,-6.08 16,-3.51 17,-.07 18,0"/>
<polyline class="c25" points="5,0 6,-2.92 7,-6.01 8,-8.53 9,-10.41 10,-11.57 11,-11.95 12,-11.62 13,-10.64 14,-9.02 15,-6.78 16,-3.8 17,0"/>
<polyline class="c25" points="5,0 6,-2.03 7,-4.23 8,-6.27 9,-6.26 10,-7.98 11,-10.21 12,-7.85 13,-7.04 14,-5.88 15,-6.37 16,-3.74 17,-.36 18,0"/>
<polyline class="c25" points="5,0 6,-1.27 7,-2.11 8,-3.51 9,-3.66 10,-4.42 11,-4.86 12,-3.23 13,-3.06 14,-2.82 15,-3.03 16,-1.68 17,-.6 18,0"/>
<polyline class="c25" points="5,0 6,-2.32 7,-4.44 8,-6.2 9,-7.56 10,-8.46 11,-8.86 12,-8.74 13,-8.02 14,-6.74 15,-4.94 16,-2.68 17,0"/>
<polyline class="c25" points="5,0 6,-2.83 7,-3.86 8,-6.61 9,-9.64 10,-10.61 11,-9.96 12,-9.52 13,-10.25 14,-8.95 15,-6.99 16,-4.72 17,0"/>
<polyline class="c25" points="5,0 6,-2.58 7,-5.68 8,-8.09 9,-9.87 10,-10.99 11,-11.42 12,-11.18 13,-10.32 14,-8.86 15,-6.84 16,-4.21 17,-.6 18,0"/>
<polyline class="c25" points="5,0 6,-3.74 7,-6.65 8,-8.5 9,-6.98 10,-10.21 11,-11.61 12,-9.92 13,-10.03 14,-6.08 15,-6.94 16,-3.6 17,-.46 18,0"/>
<polyline class="c25" points="5,0 6,-2.37 7,-4.13 8,-7.26 9,-6.22 10,-7.89 11,-9.71 12,-8.91 13,-7.76 14,-6.82 15,-6.91 16,-3.52 17,0"/>
<polyline class="c25" points="5,0 6,-1.48 7,-2.37 8,-4.9 9,-5.85 10,-5.52 11,-7.43 12,-5.23 13,-5.48 14,-4.61 15,-3.64 16,-1.91 17,-.18 18,0"/>
<polyline class="c25" points="5,0 6,-3.46 7,-5.76 8,-8.13 9,-8.24 10,-9.45 11,-9.48 12,-6.21 13,-7.22 14,-5.66 15,-3.34 16,-2.29 17,0"/>
<polyline class="c25" points="5,0 6,-1.4 7,-4.16 8,-5.3 9,-7.63 10,-8.13 11,-7.09 12,-7.52 13,-6.46 14,-6.73 15,-5.08 16,-2.91 17,0"/>
<polyline class="c25" points="5,0 6,-2.15 7,-5.7 8,-6.02 9,-10.08 10,-7.82 11,-7.89 12,-8.78 13,-8.92 14,-9.27 15,-7.49 16,-4.08 17,-.1 18,0"/>
<polyline class="c25" points="5,0 6,-4.13 7,-6.59 8,-7.17 9,-7.53 10,-7.19 11,-6.68 12,-9.91 13,-9.46 14,-5.53 15,-4.27 16,-2.18 17,0"/>
<polyline class="c25" points="5,0 6,-.5 7,-1.13 8,-2.3 9,-2.83 10,-2.89 11,-2.99 12,-2.76 13,-2.79 14,-1.96 15,-1.53 16,-1.22 17,-.23 18,0"/>
<polyline class="c25" points="5,0 6,-3.25 7,-6.72 8,-9.23 9,-10.92 10,-11.77 11,-11.83 12,-11.38 13,-10.47 14,-9.09 15,-7.21 16,-4.71 17,-.68 18,0"/>
<polyline class="c25" points="5,0 6,-1.25 7,-2.4 8,-2.76 9,-5.2 10,-4.22 11,-6.01 12,-4.07 13,-4.78 14,-3.72 15,-4.05 16,-2.7 17,-.17 18,0"/>
<polyline class="c25" points="5,0 6,-.84 7,-1.78 8,-2.44 9,-2.15 10,-2.13 11,-3.32 12,-2.05 13,-1.82 14,-2.14 15,-1.54 16,-.82 17,-.06 18,0"/>
<polyline class="c25" points="5,0 6,-1.88 7,-3.4 8,-4.58 9,-5.43 10,-5.94 11,-6.08 12,-5.9 13,-5.4 14,-4.61 15,-3.51 16,-2.06 17,0"/>
<polyline class="c25" points="5,0 6,-3.69 7,-6.63 8,-8.74 9,-10.29 10,-11.36 11,-11.96 12,-12.1 13,-11.49 14,-10.01 15,-7.73 16,-4.67 17,-.54 18,0"/>
<polyline class="c25" points="5,0 6,-.9 7,-1.49 8,-2.35 9,-3.23 10,-2.53 11,-3.01 12,-3.81 13,-2.82 14,-2.25 15,-2.8 16,-1.58 17,-.59 18,0"/>
<polyline class="c25" points="5,0 6,-1.77 7,-4.17 8,-5.7 9,-4.28 10,-6 11,-7.39 12,-5.25 13,-5.13 14,-5.52 15,-4.76 16,-2.38 17,-.34 18,0"/>
<polyline class="c25" points="5,0 6,-1.75 7,-4.11 8,-5.97 9,-7.4 10,-8.38 11,-8.91 12,-8.94 13,-8.31 14,-7.02 15,-5.14 16,-2.74 17,0"/>
<polyline class="c25" points="5,0 6,-1.73 7,-4.44 8,-4.7 9,-6.4 10,-6.2 11,-7.86 12,-9.49 13,-8.94 14,-7.61 15,-7.36 16,-3.93 17,0"/>
<polyline class="c25" points="5,0 6,-1.12 7,-2.34 8,-2.95 9,-2.58 10,-2.58 11,-3.7 12,-2.36 13,-2.45 14,-1.98 15,-1.57 16,-.89 17,0"/>
<polyline class="c25" points="5,0 6,-3.17 7,-5.68 8,-7.55 9,-8.86 10,-9.62 11,-9.82 12,-9.46 13,-8.54 14,-7.11 15,-5.21 16,-2.87 17,0"/>
<polyline class="c25" points="5,0 6,-2.04 7,-5.08 8,-7.52 9,-9.4 10,-10.66 11,-11.25 12,-11.15 13,-10.32 14,-8.79 15,-6.6 16,-3.73 17,0"/>
<polyline class="c25" points="5,0 6,-2.87 7,-5.77 8,-5.81 9,-5.96 10,-9.03 11,-6.88 12,-10.59 13,-10.17 14,-7.99 15,-8.18 16,-3.59 17,-1.71 18,0"/>
<polyline class="c25" points="5,0 6,-.86 7,-1.29 8,-1.45 9,-1.8 10,-2.24 11,-2.13 12,-2.36 13,-1.65 14,-1.27 15,-1.14 16,-.82 17,-.05 18,0"/>
<polyline class="c25" points="5,0 6,-2.75 7,-5.16 8,-6.94 9,-8.22 10,-9 11,-9.28 12,-9.11 13,-8.55 14,-7.61 15,-6.25 16,-4.39 17,-1.56 18,0"/>
<polyline class="c25" points="5,0 6,-2.35 7,-2.88 8,-4.59 9,-6.24 10,-7.27 11,-6.25 12,-5.99 13,-6.35 14,-5.46 15,-4.04 16,-1.81 17,0"/>
<polyline class="c25" points="5,0 6,-1.13 7,-2.61 8,-3.65 9,-3.49 10,-4.29 11,-4.66 12,-5.8 13,-3.5 14,-4.52 15,-3.89 16,-2.18 17,-.36 18,0"/>
<polyline class="c25" points="5,0 6,-1.12 7,-1.95 8,-2.61 9,-4.09 10,-3.57 11,-3.99 12,-4.83 13,-4 14,-3.13 15,-2.83 16,-1.77 17,-.32 18,0"/>
<polyline class="c25" points="5,0 6,-1.14 7,-2.43 8,-3.34 9,-3.96 10,-4.3 11,-4.35 12,-4.19 13,-3.84 14,-3.29 15,-2.54 16,-1.54 17,0"/>
<polyline class="c25" points="5,0 6,-.59 7,-1.25 8,-1.75 9,-2.13 10,-2.38 11,-2.51 12,-2.51 13,-2.35 14,-2.03 15,-1.56 16,-.91 17,0"/>
<polyline class="c25" points="5,0 6,-2.12 7,-4.42 8,-4.27 9,-6.17 10,-6.38 11,-7.83 12,-7.31 13,-5.88 14,-5.1 15,-4.8 16,-2.94 17,-.81 18,0"/>
<polyline class="c25" points="5,0 6,-1.55 7,-4.75 8,-6.34 9,-5.48 10,-9.41 11,-9.46 12,-9.94 13,-9.1 14,-7.75 15,-4.11 16,-2.91 17,0"/>
<polyline class="c25" points="5,0 6,-1.39 7,-2.63 8,-3.57 9,-4.28 10,-4.76 11,-5.01 12,-5.02 13,-4.67 14,-3.95 15,-2.9 16,-1.55 17,0"/>
<polyline class="c25" points="5,0 6,-2.5 7,-5.22 8,-7.29 9,-8.83 10,-9.86 11,-10.37 12,-10.35 13,-9.78 14,-8.67 15,-6.98 16,-4.56 17,0"/>
<polyline class="c25" points="5,0 6,-4.09 7,-5.57 8,-5.91 9,-8.55 10,-7.72 11,-9.33 12,-11.99 13,-8.84 14,-7.37 15,-5.14 16,-4.73 17,-.51 18,0"/>
<polyline class="c25" points="5,0 6,-1.36 7,-3.1 8,-4.49 9,-5.49 10,-6.03 11,-6.1 12,-5.84 13,-5.32 14,-4.53 15,-3.49 16,-2.2 17,-.56 18,0"/>
<polyline class="c25" points="5,0 6,-2.21 7,-4.21 8,-5.63 9,-6.62 10,-7.19 11,-7.34 12,-7.12 13,-6.54 14,-5.62 15,-4.32 16,-2.55 17,0"/>
<polyline class="c25" points="5,0 6,-2.35 7,-4.29 8,-6.18 9,-5.09 10,-8.57 11,-8.17 12,-5.99 13,-6.58 14,-4.56 15,-4.43 16,-1.9 17,-.65 18,0"/>
<polyline class="c25" points="5,0 6,-1.23 7,-2.02 8,-3.5 9,-3.68 10,-2.85 11,-3.75 12,-4.11 13,-3.02 14,-2.28 15,-2.43 16,-1.13 17,0"/>
<polyline class="c25" points="5,0 6,-1.92 7,-3.12 8,-4.99 9,-7.69 10,-8.15 11,-6.94 12,-6.88 13,-5.76 14,-5.6 15,-3.88 16,-3.14 17,-.16 18,0"/>
<polyline class="c25" points="5,0 6,-1.29 7,-2.06 8,-2.62 9,-2.99 10,-3.2 11,-3.24 12,-3.13 13,-2.87 14,-2.48 15,-1.94 16,-1.26 17,-.33 18,0"/>
<polyline class="c25" points="5,0 6,-2.16 7,-4.35 8,-5.75 9,-5.85 10,-8.6 11,-8.81 12,-6.69 13,-8.09 14,-4.8 15,-3.81 16,-3.5 17,0"/>
<polyline class="c25" points="5,0 6,-2.97 7,-4.73 8,-8.71 9,-6.99 10,-7.36 11,-10.87 12,-10.37 13,-9.08 14,-8.21 15,-6.63 16,-3.69 17,0"/>
<polyline class="c25" points="5,0 6,-1.45 7,-3.15 8,-4.47 9,-5.5 10,-6.23 11,-6.65 12,-6.76 13,-6.5 14,-5.8 15,-4.66 16,-3.01 17,0"/>
<polyline class="c25" points="5,0 6,-2.89 7,-5.89 8,-8.11 9,-9.69 10,-10.62 11,-10.91 12,-10.62 13,-9.79 14,-8.43 15,-6.53 16,-4.01 17,0"/>
<polyline class="c25" points="5,0 6,-1.22 7,-2.23 8,-2.94 9,-3.46 10,-3.81 11,-4 12,-4.04 13,-3.81 14,-3.3 15,-2.5 16,-1.39 17,0"/>
<polyline class="c25" points="5,0 6,-3.17 7,-6.14 8,-8.45 9,-10.14 10,-11.17 11,-11.52 12,-11.23 13,-10.37 14,-8.96 15,-7.01 16,-4.53 17,-1.27 18,0"/>
<polyline class="c25" points="5,0 6,-3.43 7,-6.53 8,-9.02 9,-10.9 10,-12.09 11,-12.57 12,-12.36 13,-11.56 14,-10.15 15,-8.07 16,-5.09 17,0"/>
<polyline class="c25" points="5,0 6,-3.57 7,-6.13 8,-8.21 9,-9.84 10,-11.01 11,-11.69 12,-11.88 13,-11.32 14,-9.88 15,-7.59 16,-4.38 17,0"/>
<polyline class="c25" points="5,0 6,-2.3 7,-3.66 8,-5.24 9,-4.62 10,-5.05 11,-4.68 12,-5.88 13,-5.81 14,-5.43 15,-3.24 16,-1.85 17,-.34 18,0"/>
<polyline class="c25" points="5,0 6,-2.9 7,-4.45 8,-7.85 9,-10.26 10,-9.48 11,-7.39 12,-9.02 13,-9.4 14,-8.76 15,-5.29 16,-3.93 17,-.84 18,0"/>
<polyline class="c25" points="5,0 6,-2.67 7,-5.76 8,-8.19 9,-9.95 10,-10.98 11,-11.24 12,-10.86 13,-9.94 14,-8.5 15,-6.56 16,-4.15 17,-1.08 18,0"/>
<polyline class="c25" points="5,0 6,-2.2 7,-5.26 8,-7.79 9,-9.79 10,-11.2 11,-11.97 12,-12.06 13,-11.44 14,-10.08 15,-8.03 16,-5.26 17,-1.51 18,0"/>
<polyline class="c25" points="5,0 6,-2.89 7,-5.24 8,-7.11 9,-8.53 10,-9.49 11,-9.97 12,-9.95 13,-9.41 14,-8.33 15,-6.69 16,-4.34 17,0"/>
<polyline class="c25" points="5,0 6,-3.9 7,-4.64 8,-7.27 9,-6.65 10,-5.89 11,-7.58 12,-8.61 13,-8.19 14,-7.09 15,-5.76 16,-3.21 17,-.62 18,0"/>
<polyline class="c25" points="5,0 6,-1.09 7,-2.3 8,-3.14 9,-3.41 10,-3.14 11,-4.51 12,-4.02 13,-3.04 14,-3.5 15,-3.24 16,-2.03 17,-.33 18,0"/>
<polyline class="c25" points="5,0 6,-2.42 7,-5.35 8,-6.21 9,-5.45 10,-7.51 11,-6.61 12,-9.47 13,-8.2 14,-7.53 15,-3.6 16,-2.83 17,0"/>
<polyline class="c25" points="5,0 6,-1.2 7,-2.55 8,-3.57 9,-4.35 10,-4.91 11,-5.24 12,-5.35 13,-5.16 14,-4.61 15,-3.7 16,-2.4 17,-.37 18,0"/>
<polyline class="c25" points="5,0 6,-1.79 7,-2.3 8,-3.49 9,-5.38 10,-5.99 11,-5.62 12,-5.71 13,-5.83 14,-3.23 15,-3.55 16,-1.51 17,0"/>
<polyline class="c25" points="5,0 6,-2.26 7,-4.69 8,-6.54 9,-7.96 10,-8.93 11,-9.47 12,-9.55 13,-9.14 14,-8.21 15,-6.76 16,-4.72 17,-1.72 18,0"/>
<polyline class="c25" points="5,0 6,-.95 7,-2.25 8,-3.28 9,-4.07 10,-4.62 11,-4.9 12,-4.91 13,-4.64 14,-4.09 15,-3.26 16,-2.14 17,-.54 18,0"/>
<polyline class="c25" points="5,0 6,-3.19 7,-5.11 8,-6.54 9,-7.61 10,-8.36 11,-8.8 12,-8.94 13,-8.56 14,-7.51 15,-5.8 16,-3.37 17,0"/>
<polyline class="c25" points="5,0 6,-1.53 7,-3.06 8,-4.13 9,-4.91 10,-5.43 11,-5.7 12,-5.7 13,-5.38 14,-4.73 15,-3.72 16,-2.32 17,0"/>
<polyline class="c25" points="5,0 6,-2.02 7,-4.21 8,-5.81 9,-7.02 10,-7.87 11,-8.35 12,-8.48 13,-8.05 14,-6.98 15,-5.3 16,-3.05 17,0"/>
<polyline class="c25" points="5,0 6,-.59 7,-1.41 8,-2.31 9,-3.13 10,-2.85 11,-2.79 12,-3.55 13,-3.52 14,-2.64 15,-1.8 16,-1.56 17,-.4 18,0"/>
<polyline class="c25" points="5,0 6,-3 7,-4.55 8,-4.53 9,-6.91 10,-6.17 11,-7.82 12,-7.22 13,-8.15 14,-6.46 15,-3.32 16,-2.78 17,-.52 18,0"/>
<polyline class="c25" points="5,0 6,-3.43 7,-6.15 8,-9.48 9,-8.75 10,-12.18 11,-8.28 12,-10.39 13,-6.73 14,-6.55 15,-6.31 16,-3.75 17,-.5 18,0"/>
<polyline class="c25" points="5,0 6,-2 7,-3.48 8,-5.2 9,-5.33 10,-6.11 11,-4.76 12,-7.77 13,-5.53 14,-5.91 15,-4.21 16,-2.37 17,-.39 18,0"/>
<polyline class="c25" points="5,0 6,-2.13 7,-3.73 8,-4.95 9,-5.84 10,-6.39 11,-6.6 12,-6.48 13,-6.07 14,-5.36 15,-4.32 16,-2.87 17,-.24 18,0"/>
<polyline class="c25" points="5,0 6,-.77 7,-1.73 8,-3.22 9,-3.14 10,-3.82 11,-3.31 12,-3.12 13,-4.55 14,-3.86 15,-3.07 16,-1.67 17,-.33 18,0"/>
<polyline class="c25" points="5,0 6,-1.12 7,-3.2 8,-4.6 9,-5.17 10,-4.86 11,-5.61 12,-4.14 13,-4.41 14,-4.88 15,-4.14 16,-1.83 17,0"/>
<polyline class="c25" points="5,0 6,-3.63 7,-5.9 8,-7.5 9,-8.63 10,-9.35 11,-9.67 12,-9.56 13,-8.87 14,-7.62 15,-5.86 16,-3.64 17,-.88 18,0"/>
<polyline class="c25" points="5,0 6,-2.61 7,-4.19 8,-6.14 9,-8.35 10,-7.8 11,-7.71 12,-9.38 13,-8.01 14,-7.58 15,-6.43 16,-3.4 17,-.52 18,0"/>
<polyline class="c25" points="5,0 6,-3.69 7,-6.53 8,-8.44 9,-6.71 10,-10.93 11,-7.87 12,-7.41 13,-8.6 14,-8.4 15,-5.76 16,-2.88 17,-.38 18,0"/>
<polyline class="c25" points="5,0 6,-2.3 7,-4.14 8,-5.54 9,-6.57 10,-7.26 11,-7.59 12,-7.56 13,-7.13 14,-6.31 15,-5.06 16,-3.29 17,0"/>
<polyline class="c25" points="5,0 6,-.88 7,-1.26 8,-2.93 9,-3.33 10,-3.2 11,-3.14 12,-3.04 13,-4.06 14,-3.29 15,-2.84 16,-1.81 17,-.51 18,0"/>
<polyline class="c25" points="5,0 6,-1.8 7,-4.92 8,-6.13 9,-7.65 10,-8.56 11,-9.12 12,-9.19 13,-7.76 14,-6.29 15,-4.19 16,-2.27 17,0"/>
<polyline class="c25" points="5,0 6,-2.33 7,-5.46 8,-8.56 9,-6.94 10,-10.26 11,-10.25 12,-10.5 13,-9.17 14,-7.3 15,-6.57 16,-3.59 17,-1.17 18,0"/>
<polyline class="c25" points="5,0 6,-3.63 7,-6.72 8,-9.05 9,-10.75 10,-11.83 11,-12.26 12,-12.05 13,-11.24 14,-9.82 15,-7.78 16,-5.04 17,-.85 18,0"/>
<polyline class="c25" points="5,0 6,-.54 7,-1.02 8,-1.4 9,-1.68 10,-1.85 11,-1.91 12,-1.85 13,-1.68 14,-1.41 15,-1.05 16,-.6 17,-.02"/>
<polyline class="c25" points="5,0 6,-4.54 7,-5.58 8,-9.31 9,-7.82 10,-8.04 11,-12.26 12,-10.59 13,-10.11 14,-7.87 15,-5.66 16,-3.27 17,0"/>
<polyline class="c25" points="5,0 6,-1.83 7,-3.94 8,-3.86 9,-6.67 10,-7.4 11,-7.46 12,-7.14 13,-4.25 14,-5.21 15,-3.45 16,-1.35 17,0"/>
<polyline class="c25" points="5,0 6,-2.22 7,-3.77 8,-4.61 9,-8.27 10,-6.87 11,-6.87 12,-6.05 13,-7.09 14,-6.76 15,-5.43 16,-2.4 17,0"/>
<polyline class="c25" points="5,0 6,-4.57 7,-7.12 8,-9.01 9,-10.42 10,-11.41 11,-11.98 12,-12.16 13,-11.76 14,-10.66 15,-8.82 16,-6.08 17,-1.29 18,0"/>
<polyline class="c25" points="5,0 6,-4.12 7,-6.81 8,-8.8 9,-10.27 10,-11.26 11,-11.78 12,-11.81 13,-11.18 14,-9.85 15,-7.81 16,-4.98 17,-.51 18,0"/>
<polyline class="c25" points="5,0 6,-2.17 7,-3.98 8,-6.31 9,-6.62 10,-7.3 11,-8.39 12,-6.25 13,-8.14 14,-5.69 15,-4.9 16,-2.71 17,-.72 18,0"/>
<polyline class="c25" points="5,0 6,-.98 7,-1.5 8,-3.02 9,-3.47 10,-4.21 11,-4.68 12,-4.01 13,-2.63 14,-2.57 15,-1.87 16,-1.12 17,-.03 18,0"/>
<polyline class="c25" points="5,0 6,-.56 7,-1.32 8,-1.96 9,-2.47 10,-2.84 11,-3.06 12,-3.12 13,-3 14,-2.72 15,-2.25 16,-1.57 17,-.43 18,0"/>
<polyline class="c25" points="5,0 6,-2.5 7,-5.24 8,-7.25 9,-8.68 10,-9.53 11,-9.8 12,-9.5 13,-8.66 14,-7.32 15,-5.52 16,-3.27 17,-.42 18,0"/>
<polyline class="c25" points="5,0 6,-1.24 7,-2.41 8,-3.36 9,-3.46 10,-3.55 11,-3.82 12,-4.93 13,-5.58 14,-4.75 15,-3.45 16,-2.53 17,-.39 18,0"/>
<polyline class="c25" points="5,0 6,-1.67 7,-3.78 8,-4.68 9,-5.91 10,-8.44 11,-7.43 12,-9.4 13,-9.26 14,-9.02 15,-5.1 16,-3.43 17,0"/>
<polyline class="c25" points="5,0 6,-2.61 7,-4.09 8,-6.46 9,-7.4 10,-9.23 11,-8.62 12,-9.29 13,-6.99 14,-5.35 15,-6.31 16,-2.75 17,0"/>
<polyline class="c25" points="5,0 6,-.66 7,-1.31 8,-1.83 9,-2.23 10,-2.52 11,-2.67 12,-2.69 13,-2.54 14,-2.21 15,-1.7 16,-1.03 17,-.07 18,0"/>
<polyline class="c25" points="5,0 6,-1.78 7,-3.88 8,-4.19 9,-5.24 10,-4.57 11,-5.15 12,-7.51 13,-5.77 14,-6.55 15,-4.88 16,-2.29 17,-.2 18,0"/>
<polyline class="c25" points="5,0 6,-1.4 7,-2.92 8,-3.81 9,-3.52 10,-3.15 11,-4.7 12,-4.37 13,-3.42 14,-3.82 15,-2.22 16,-1.51 17,0"/>
<polyline class="c25" points="5,0 6,-1.32 7,-2.82 8,-3.24 9,-4.52 10,-5.33 11,-5.19 12,-4.1 13,-3.99 14,-4.93 15,-2.41 16,-1.61 17,0"/>
<polyline class="c25" points="5,0 6,-1.72 7,-3.63 8,-5.04 9,-6.06 10,-6.68 11,-6.9 12,-6.76 13,-6.3 14,-5.53 15,-4.41 16,-2.89 17,-.38 18,0"/>
<polyline class="c25" points="5,0 6,-3.17 7,-5.52 8,-7.17 9,-8.29 10,-8.89 11,-9.01 12,-8.67 13,-7.91 14,-6.72 15,-5.11 16,-3.05 17,0"/>
<polyline class="c25" points="5,0 6,-1.56 7,-2.96 8,-4.08 9,-4.92 10,-5.44 11,-5.62 12,-5.47 13,-5.01 14,-4.27 15,-3.26 16,-1.99 17,-.41 18,0"/>
<polyline class="c25" points="5,0 6,-1.82 7,-3.74 8,-4.45 9,-7.27 10,-7.88 11,-7.03 12,-6.63 13,-6.82 14,-5.94 15,-4.3 16,-3.88 17,-.71 18,0"/>
<polyline class="c25" points="5,0 6,-1.73 7,-3.43 8,-5.14 9,-4.58 10,-6.67 11,-5.19 12,-7.5 13,-6.62 14,-4.59 15,-3.51 16,-2.06 17,-.35 18,0"/>
<polyline class="c25" points="5,0 6,-.96 7,-2.08 8,-2.96 9,-3.63 10,-4.09 11,-4.32 12,-4.31 13,-4.02 14,-3.46 15,-2.64 16,-1.57 17,-.08 18,0"/>
<polyline class="c25" points="5,0 6,-1.86 7,-4.1 8,-5.38 9,-5.76 10,-7.73 11,-6.36 12,-5.58 13,-6.63 14,-5.26 15,-3.43 16,-2.32 17,0"/>
<polyline class="c25" points="5,0 6,-1.9 7,-4.41 8,-5.22 9,-6.17 10,-6.25 11,-6.09 12,-6.78 13,-6.16 14,-5.24 15,-3.46 16,-1.81 17,-.06 18,0"/>
<polyline class="c25" points="5,0 6,-.75 7,-1.66 8,-2.98 9,-3.56 10,-2.59 11,-2.95 12,-2.83 13,-3.44 14,-3.4 15,-2.16 16,-2.1 17,-.68 18,0"/>
<polyline class="c25" points="5,0 6,-2.22 7,-4.72 8,-6.6 9,-8.01 10,-8.95 11,-9.42 12,-9.38 13,-8.7 14,-7.38 15,-5.47 16,-2.98 17,0"/>
<polyline class="c25" points="5,0 6,-1.2 7,-1.82 8,-1.65 9,-2.66 10,-2.28 11,-2.35 12,-3.56 13,-3.14 14,-2.34 15,-1.76 16,-1.07 17,-.48 18,0"/>
<polyline class="c25" points="5,0 6,-.65 7,-1.13 8,-1.5 9,-1.35 10,-1.25 11,-1.91 12,-1.16 13,-1.44 14,-1.28 15,-1.07 16,-.78 17,-.16 18,0"/>
<polyline class="c25" points="5,0 6,-2.68 7,-5.22 8,-7.09 9,-8.37 10,-9.06 11,-9.16 12,-8.79 13,-8 14,-6.79 15,-5.17 16,-3.1 17,0"/>
<polyline class="c25" points="5,0 6,-1.92 7,-4.56 8,-4.83 9,-5.35 10,-5.97 11,-6.42 12,-5.8 13,-7.76 14,-4.17 15,-3.44 16,-3.15 17,-.76 18,0"/>
<polyline class="c25" points="5,0 6,-2.06 7,-3.92 8,-5.39 9,-6.51 10,-7.25 11,-7.61 12,-7.55 13,-7.01 14,-5.98 15,-4.49 16,-2.51 17,0"/>
<polyline class="c25" points="5,0 6,-1.31 7,-3.28 8,-4.1 9,-4.8 10,-5.48 11,-5.76 12,-4.43 13,-3.96 14,-4.37 15,-2.59 16,-1.79 17,0"/>
<polyline class="c25" points="5,0 6,-2.85 7,-3.65 8,-5.92 9,-6.52 10,-7.85 11,-7.89 12,-7.85 13,-6.27 14,-7.47 15,-6.32 16,-4.65 17,-1.09 18,0"/>
<polyline class="c25" points="5,0 6,-2 7,-4.13 8,-4.06 9,-6.86 10,-7.09 11,-7.11 12,-6.43 13,-6.14 14,-6.06 15,-2.81 16,-1.7 17,0"/>
<polyline class="c25" points="5,0 6,-1.9 7,-4.3 8,-7.12 9,-6.72 10,-9.05 11,-5.68 12,-8.07 13,-5.47 14,-4.96 15,-4.61 16,-2.35 17,0"/>
<polyline class="c25" points="5,0 6,-1.16 7,-2.8 8,-4.15 9,-5.21 10,-5.98 11,-6.41 12,-6.5 13,-6.17 14,-5.41 15,-4.2 16,-2.49 17,0"/>
<polyline class="c25" points="5,0 6,-1.1 7,-2.54 8,-2.94 9,-4.27 10,-3.74 11,-4.95 12,-5.41 13,-3.71 14,-3.55 15,-3.23 16,-2.39 17,-.58 18,0"/>
<polyline class="c25" points="5,0 6,-3.99 7,-7.41 8,-6.09 9,-9.78 10,-8.96 11,-9.34 12,-11.03 13,-7.34 14,-7.52 15,-6.03 16,-2.66 17,0"/>
<polyline class="c25" points="5,0 6,-1.2 7,-2.16 8,-2.97 9,-3.61 10,-4.08 11,-4.34 12,-4.41 13,-4.23 14,-3.79 15,-3.08 16,-2.04 17,0"/>
<polyline class="c25" points="5,0 6,-3.41 7,-5.76 8,-7.48 9,-8.72 10,-9.52 11,-9.88 12,-9.76 13,-8.99 14,-7.61 15,-5.66 16,-3.2 17,-.06 18,0"/>
<polyline class="c25" points="5,0 6,-2.13 7,-3.35 8,-4.58 9,-4.54 10,-5.75 11,-3.61 12,-4.3 13,-4.8 14,-3.88 15,-3.27 16,-1.67 17,0"/>
<polyline class="c25" points="5,0 6,-3.51 7,-6.01 8,-7.89 9,-9.28 10,-10.19 11,-10.64 12,-10.6 13,-10.03 14,-8.94 15,-7.3 16,-5.01 17,-1.52 18,0"/>
<polyline class="c25" points="5,0 6,-1.43 7,-2.69 8,-3.35 9,-6.04 10,-5.29 11,-5.06 12,-4.42 13,-6.54 14,-5.2 15,-2.72 16,-1.68 17,0"/>
<polyline class="c25" points="5,0 6,-1.62 7,-4.02 8,-5.91 9,-7.27 10,-8.07 11,-8.26 12,-8.04 13,-7.51 14,-6.64 15,-5.42 16,-3.77 17,-1.2 18,0"/>
<polyline class="c25" points="5,0 6,-1.57 7,-3.41 8,-4.86 9,-5.98 10,-6.75 11,-7.17 12,-7.22 13,-6.82 14,-5.97 15,-4.69 16,-2.96 17,-.54 18,0"/>
<polyline class="c25" points="5,0 6,-1.17 7,-2.32 8,-3.26 9,-3.96 10,-4.4 11,-4.54 12,-4.41 13,-4.02 14,-3.4 15,-2.57 16,-1.55 17,-.3 18,0"/>
<polyline class="c45" points="5,0 6,-2.46 7,-4.92 8,-6.97 9,-8.5 10,-8.51 11,-5.79 12,-2.25 13,0"/>
<polyline class="c45" points="5,0 6,-3.37 7,-6.64 8,-10.21 9,-11.59 10,-9.84 11,-6.38 12,-1.99 13,0"/>
<polyline class="c45" points="5,0 6,-1.48 7,-3.26 8,-4.81 9,-5.77 10,-5.42 11,-4.25 12,-1.88 13,0"/>
<polyline class="c45" points="5,0 6,-1.67 7,-5.18 8,-7.71 9,-9.26 10,-9.13 11,-6.04 12,-1.82 13,0"/>
<polyline class="c45" points="5,0 6,-2.02 7,-6.14 8,-8.59 9,-10.28 10,-9.06 11,-4.97 12,-.39 13,0"/>
<polyline class="c45" points="5,0 6,-2.79 7,-6.01 8,-9.95 9,-11.84 10,-11.03 11,-8.43 12,-2.21 13,0"/>
<polyline class="c45" points="5,0 6,-1.7 7,-5.18 8,-9.74 9,-11.53 10,-11.56 11,-8.77 12,-5.28 13,-1.64 14,0"/>
<polyline class="c45" points="5,0 6,-1.41 7,-3.35 8,-4.56 9,-5.91 10,-5.14 11,-4.14 12,-2.38 13,-.57 14,0"/>
<polyline class="c45" points="5,0 6,-1.77 7,-6.01 8,-9.44 9,-10.36 10,-8.44 11,-5.74 12,-2.54 13,-.05 14,0"/>
<polyline class="c45" points="5,0 6,-3.81 7,-7.69 8,-10.54 9,-12.23 10,-11.54 11,-7.99 12,-2.88 13,0"/>
<polyline class="c45" points="5,0 6,-1.56 7,-4.52 8,-8.39 9,-10.38 10,-10.44 11,-7.38 12,-4.74 13,-1.01 14,0"/>
<polyline class="c45" points="5,0 6,-3.63 7,-7.47 8,-10.64 9,-11.31 10,-10.02 11,-7.02 12,-3.17 13,0"/>
<polyline class="c45" points="5,0 6,-1.74 7,-4.86 8,-8.51 9,-10.84 10,-8.91 11,-5.31 12,-.68 13,0"/>
<polyline class="c45" points="5,0 6,-2.05 7,-5.85 8,-7.94 9,-8.98 10,-8.73 11,-4.96 12,-1.95 13,-.02 14,0"/>
<polyline class="c45" points="5,0 6,-1.09 7,-4.22 8,-6.42 9,-7.03 10,-6.13 11,-3.5 12,-1.14 13,0"/>
<polyline class="c45" points="5,0 6,-1.1 7,-4.91 8,-6.95 9,-8.86 10,-6.26 11,-3.74 12,-.39 13,0"/>
<polyline class="c45" points="5,0 6,-2.04 7,-6.42 8,-8.88 9,-12.01 10,-9.93 11,-5.19 12,-.29 13,0"/>
<polyline class="c45" points="5,0 6,-1.52 7,-5.21 8,-9.79 9,-12.17 10,-12.32 11,-8.01 12,-3.18 13,0"/>
<polyline class="c45" points="5,0 6,-1.67 7,-5.37 8,-7.73 9,-8.63 10,-7.83 11,-6.26 12,-2.64 13,-.07 14,0"/>
<polyline class="c45" points="5,0 6,-1.78 7,-5.45 8,-7.3 9,-8.68 10,-6.84 11,-4.93 12,-3.07 13,-.74 14,0"/>
<polyline class="c45" points="5,0 6,-2.83 7,-5.98 8,-8.77 9,-9.83 10,-10.01 11,-7.43 12,-4.45 13,-.46 14,0"/>
<polyline class="c45" points="5,0 6,-1.39 7,-3.51 8,-6.72 9,-7.96 10,-7.78 11,-4.14 12,-.3 13,0"/>
<polyline class="c45" points="5,0 6,-1.44 7,-4.82 8,-9.04 9,-10.94 10,-10.77 11,-5.82 12,-.85 13,0"/>
<polyline class="c45" points="5,0 6,-1.43 7,-6.11 8,-9.23 9,-10.58 10,-10.49 11,-7.53 12,-4.39 13,-1.07 14,0"/>
<polyline class="c45" points="5,0 6,-2.63 7,-6.79 8,-10.11 9,-11.56 10,-10.63 11,-4.75 12,-.22 13,0"/>
<polyline class="c45" points="5,0 6,-2.15 7,-5.79 8,-7.07 9,-9.16 10,-8.85 11,-7.51 12,-3.15 13,-.01 14,0"/>
<polyline class="c45" points="5,0 6,-1.3 7,-4.02 8,-5.98 9,-6.77 10,-6.81 11,-4.18 12,-1.44 13,0"/>
<polyline class="c45" points="5,0 6,-1.4 7,-4.16 8,-7.03 9,-8.04 10,-7.13 11,-5.51 12,-3.23 13,-.61 14,0"/>
<polyline class="c45" points="5,0 6,-1.45 7,-3.76 8,-5.42 9,-6.54 10,-6.76 11,-4.96 12,-2.72 13,-.39 14,0"/>
<polyline class="c45" points="5,0 6,-2.46 7,-5.97 8,-10.79 9,-11.02 10,-11.38 11,-8.17 12,-3.75 13,0"/>
<polyline class="c45" points="5,0 6,-1.07 7,-3.18 8,-5.19 9,-6.27 10,-6.34 11,-4.76 12,-1.98 13,0"/>
<polyline class="c45" points="5,0 6,-1.12 7,-3.51 8,-5.97 9,-6.92 10,-6.44 11,-5.23 12,-1.53 13,0"/>
<polyline class="c45" points="5,0 6,-2.54 7,-6.07 8,-8.04 9,-9.2 10,-7.88 11,-4.31 12,-.73 13,0"/>
<polyline class="c45" points="5,0 6,-1.73 7,-5.01 8,-6.88 9,-8.67 10,-8.23 11,-6.01 12,-2.98 13,-.2 14,0"/>
<polyline class="c45" points="5,0 6,-2.07 7,-4.58 8,-6.59 9,-7.8 10,-5.96 11,-3.84 12,-.07 13,0"/>
<polyline class="c45" points="5,0 6,-2.21 7,-5.19 8,-6.95 9,-8.16 10,-6.75 11,-3.37 12,-.17 13,0"/>
<polyline class="c45" points="5,0 6,-2.19 7,-5.1 8,-6.39 9,-6.75 10,-5.99 11,-3.32 12,-.07 13,0"/>
<polyline class="c45" points="5,0 6,-1.32 7,-4.61 8,-7.9 9,-8.46 10,-8.65 11,-6.14 12,-1.35 13,0"/>
<polyline class="c45" points="5,0 6,-1.32 7,-5.66 8,-10.2 9,-10.5 10,-9.32 11,-5.63 12,-.63 13,0"/>
<polyline class="c45" points="5,0 6,-2.53 7,-6.31 8,-9.23 9,-11.61 10,-10.08 11,-7.66 12,-4.28 13,-.72 14,0"/>
<polyline class="c45" points="5,0 6,-2 7,-4.58 8,-6.83 9,-7.39 10,-6.8 11,-5.28 12,-3.38 13,-.72 14,0"/>
<polyline class="c45" points="5,0 6,-3.02 7,-6.42 8,-7.58 9,-8.99 10,-7.6 11,-5.51 12,-2.8 13,-.65 14,0"/>
<polyline class="c45" points="5,0 6,-1.72 7,-4.96 8,-8.69 9,-9.37 10,-8.84 11,-6.06 12,-3.14 13,0"/>
<polyline class="c45" points="5,0 6,-3.54 7,-6.79 8,-9.81 9,-11.14 10,-9.47 11,-7.03 12,-2.81 13,0"/>
<polyline class="c45" points="5,0 6,-2.17 7,-6 8,-7.85 9,-8.63 10,-8.29 11,-6.45 12,-3.99 13,-1.25 14,0"/>
<polyline class="c45" points="5,0 6,-1.15 7,-3.58 8,-5.73 9,-7.68 10,-6.7 11,-6.12 12,-2.7 13,-.44 14,0"/>
<polyline class="c45" points="5,0 6,-1.55 7,-4.56 8,-7.47 9,-7.69 10,-7.2 11,-5.36 12,-2.27 13,-.22 14,0"/>
<polyline class="c45" points="5,0 6,-1.61 7,-4.7 8,-8.04 9,-9.72 10,-9.41 11,-6.5 12,-2.9 13,-.01 14,0"/>
<polyline class="c45" points="5,0 6,-2.22 7,-5.88 8,-8.37 9,-9.54 10,-7.99 11,-6.09 12,-2.8 13,-.07 14,0"/>
<polyline class="c45" points="5,0 6,-2.47 7,-6.11 8,-7.69 9,-9.44 10,-6.92 11,-4 12,-.4 13,0"/>
<polyline class="c45" points="5,0 6,-1.18 7,-4.71 8,-8.16 9,-10.55 10,-9.64 11,-7.41 12,-3.16 13,-.11 14,0"/>
<polyline class="c45" points="5,0 6,-1.42 7,-4.11 8,-6.02 9,-8.54 10,-8.8 11,-6.48 12,-2.45 13,0"/>
<polyline class="c45" points="5,0 6,-1.57 7,-3.46 8,-5.4 9,-6.52 10,-5.48 11,-3.17 12,-.68 13,0"/>
<polyline class="c45" points="5,0 6,-2.84 7,-6.1 8,-9.16 9,-10.58 10,-11.04 11,-8.01 12,-3.58 13,0"/>
<polyline class="c45" points="5,0 6,-1.89 7,-6.47 8,-9.72 9,-10.14 10,-9.94 11,-6.39 12,-2.61 13,0"/>
<polyline class="c45" points="5,0 6,-2.21 7,-5.13 8,-7.02 9,-8.05 10,-7.73 11,-3.45 12,-.18 13,0"/>
<polyline class="c45" points="5,0 6,-2.95 7,-5.84 8,-8.94 9,-9.98 10,-9.76 11,-5.4 12,-.52 13,0"/>
<polyline class="c45" points="5,0 6,-2.88 7,-7.3 8,-11.17 9,-11.92 10,-9.88 11,-5.54 12,-1.52 13,0"/>
<polyline class="c45" points="5,0 6,-1.84 7,-5.81 8,-9.14 9,-12 10,-10.82 11,-6.56 12,-.93 13,0"/>
<polyline class="c45" points="5,0 6,-3.62 7,-7.98 8,-9.96 9,-11.52 10,-9.75 11,-5.84 12,-1.17 13,0"/>
<polyline class="c45" points="5,0 6,-2.13 7,-5.1 8,-9.55 9,-10.15 10,-8.29 11,-4.24 12,-.19 13,0"/>
<polyline class="c45" points="5,0 6,-2.07 7,-6.3 8,-8.06 9,-11 10,-10.26 11,-7.53 12,-4.53 13,-1.06 14,0"/>
<polyline class="c45" points="5,0 6,-1.77 7,-4.58 8,-6.95 9,-8.56 10,-6.65 11,-3.69 12,-.14 13,0"/>
<polyline class="c45" points="5,0 6,-1.61 7,-5.35 8,-9.32 9,-9.34 10,-8.86 11,-5.19 12,-.28 13,0"/>
<polyline class="c45" points="5,0 6,-2.56 7,-6.26 8,-8.77 9,-10.29 10,-10.92 11,-7.96 12,-3.31 13,0"/>
<polyline class="c45" points="5,0 6,-3.01 7,-5.86 8,-8.36 9,-9.61 10,-8.16 11,-6.31 12,-3.6 13,-.53 14,0"/>
<polyline class="c45" points="5,0 6,-1.85 7,-5.09 8,-9.03 9,-8.97 10,-10.83 11,-6.43 12,-.78 13,0"/>
<polyline class="c45" points="5,0 6,-2 7,-5.54 8,-8.58 9,-9.71 10,-10.33 11,-5.12 12,-.28 13,0"/>
<polyline class="c45" points="5,0 6,-2.1 7,-5.48 8,-8.09 9,-10.25 10,-9.47 11,-5.67 12,-.98 13,0"/>
<polyline class="c45" points="5,0 6,-2.93 7,-6.3 8,-8.81 9,-9.99 10,-10.31 11,-7.58 12,-3.46 13,-.33 14,0"/>
<polyline class="c45" points="5,0 6,-2.77 7,-6.76 8,-9.89 9,-11.73 10,-11.37 11,-7.62 12,-4.65 13,-.98 14,0"/>
<polyline class="c45" points="5,0 6,-1.43 7,-4.64 8,-7.8 9,-10.5 10,-10.52 11,-8.45 12,-4.97 13,-1.39 14,0"/>
<polyline class="c45" points="5,0 6,-1.19 7,-3.47 8,-5.96 9,-6.5 10,-5.1 11,-3.2 12,-.89 13,0"/>
<polyline class="c45" points="5,0 6,-2.51 7,-6.91 8,-10.21 9,-11.98 10,-10.89 11,-8.01 12,-3.26 13,0"/>
<polyline class="c45" points="5,0 6,-1.7 7,-5.31 8,-8.46 9,-10.43 10,-10.67 11,-7.66 12,-2.18 13,0"/>
<polyline class="c45" points="5,0 6,-1.94 7,-5.82 8,-9.59 9,-11.39 10,-11.23 11,-9.71 12,-5.67 13,-1.23 14,0"/>
<polyline class="c45" points="5,0 6,-.84 7,-3.89 8,-6.91 9,-9.03 10,-9.75 11,-6.96 12,-3.79 13,-.18 14,0"/>
<polyline class="c45" points="5,0 6,-1.58 7,-3.88 8,-6.93 9,-8.22 10,-7.11 11,-6.1 12,-3.43 13,-.09 14,0"/>
<polyline class="c45" points="5,0 6,-1.98 7,-4.71 8,-7.14 9,-8.74 10,-6.86 11,-4.22 12,-.37 13,0"/>
<polyline class="c45" points="5,0 6,-2.52 7,-5.85 8,-8.13 9,-9.32 10,-6.71 11,-3.82 12,-.23 13,0"/>
<polyline class="c45" points="5,0 6,-1.45 7,-5.16 8,-7.99 9,-9.29 10,-10.18 11,-7.86 12,-3.3 13,0"/>
<polyline class="c45" points="5,0 6,-1.98 7,-5.8 8,-8.96 9,-10.17 10,-7.57 11,-4.31 12,-.86 13,0"/>
<polyline class="c45" points="5,0 6,-2.18 7,-5.07 8,-7.75 9,-7.82 10,-7.04 11,-5.57 12,-3.55 13,-1.16 14,0"/>
<polyline class="c45" points="5,0 6,-2.19 7,-5.88 8,-9.27 9,-10.57 10,-9.68 11,-6.54 12,-2.57 13,0"/>
<polyline class="c45" points="5,0 6,-1.67 7,-5.85 8,-10.04 9,-11.28 10,-10.39 11,-7.67 12,-3.32 13,0"/>
<polyline class="c45" points="5,0 6,-2.82 7,-7.06 8,-9.6 9,-10.36 10,-10.13 11,-6.49 12,-1.43 13,0"/>
<polyline class="c45" points="5,0 6,-1.09 7,-4.12 8,-7.06 9,-7.94 10,-8.29 11,-6.75 12,-4.08 13,-.25 14,0"/>
<polyline class="c45" points="5,0 6,-1.08 7,-4.07 8,-6.62 9,-7.85 10,-7.82 11,-6.53 12,-3.14 13,-.41 14,0"/>
<polyline class="c45" points="5,0 6,-2.41 7,-6.54 8,-9.55 9,-12 10,-10.08 11,-6.26 12,-2.55 13,0"/>
<polyline class="c45" points="5,0 6,-2.01 7,-5.11 8,-8.68 9,-9.09 10,-8.57 11,-4.89 12,-.99 13,0"/>
<polyline class="c45" points="5,0 6,-2.36 7,-5.79 8,-8.62 9,-9.95 10,-9.65 11,-4.96 12,-.99 13,0"/>
<polyline class="c45" points="5,0 6,-1.1 7,-4.63 8,-8.45 9,-9.32 10,-8.35 11,-4.7 12,-.59 13,0"/>
<polyline class="c45" points="5,0 6,-2.37 7,-5.93 8,-8.47 9,-8.5 10,-7.17 11,-5.32 12,-1.54 13,0"/>
<polyline class="c45" points="5,0 6,-1.67 7,-6.39 8,-8.74 9,-10.05 10,-9.41 11,-6.98 12,-3.36 13,-.33 14,0"/>
<polyline class="c45" points="5,0 6,-1.13 7,-4.63 8,-8.27 9,-9.53 10,-9.64 11,-5.45 12,-.61 13,0"/>
<polyline class="c45" points="5,0 6,-2.28 7,-5.61 8,-7.95 9,-8.5 10,-7.75 11,-5.54 12,-2.5 13,-.34 14,0"/>
<polyline class="c45" points="5,0 6,-1.2 7,-3.81 8,-6.76 9,-6.98 10,-7.54 11,-6.49 12,-3.39 13,-.3 14,0"/>
<polyline class="c45" points="5,0 6,-2.35 7,-5.93 8,-9.79 9,-11.51 10,-11.8 11,-8.25 12,-2.76 13,0"/>
<polyline class="c45" points="5,0 6,-2.48 7,-7.56 8,-9.08 9,-11.13 10,-10.63 11,-8.25 12,-4.64 13,-1.08 14,0"/>
<polyline class="c45" points="5,0 6,-2.33 7,-7.29 8,-10.5 9,-10.52 10,-9.87 11,-7.5 12,-3.25 13,-.12 14,0"/>
<polyline class="c45" points="5,0 6,-1.57 7,-4.43 8,-7.05 9,-7.95 10,-7.66 11,-5.55 12,-2.2 13,0"/>
<polyline class="c45" points="5,0 6,-2.04 7,-5 8,-8.59 9,-9.87 10,-9.23 11,-7.29 12,-4.54 13,-.73 14,0"/>
<polyline class="c45" points="5,0 6,-2.58 7,-7.4 8,-10.78 9,-13.37 10,-10.63 11,-9.24 12,-6.14 13,-2.33 14,0"/>
<polyline class="c45" points="5,0 6,-3.28 7,-6.59 8,-9.21 9,-10.37 10,-10.55 11,-9.21 12,-5.39 13,-1.16 14,0"/>
<polyline class="c45" points="5,0 6,-1.63 7,-3.71 8,-4.87 9,-5.68 10,-6.22 11,-4.92 12,-2.43 13,-.4 14,0"/>
<polyline class="c45" points="5,0 6,-3.38 7,-7.57 8,-9.9 9,-11.5 10,-10.4 11,-7.39 12,-2.7 13,0"/>
<polyline class="c45" points="5,0 6,-1.54 7,-5.28 8,-8.75 9,-9.16 10,-9.15 11,-5.85 12,-2.26 13,0"/>
<polyline class="c45" points="5,0 6,-1.56 7,-5.45 8,-9.31 9,-11.98 10,-9.91 11,-6.38 12,-1.99 13,0"/>
<polyline class="c45" points="5,0 6,-2.28 7,-6.19 8,-8.94 9,-9.81 10,-8.57 11,-6.24 12,-4.86 13,-1.36 14,0"/>
<polyline class="c45" points="5,0 6,-1.38 7,-4.21 8,-6.43 9,-8.42 10,-8.51 11,-4.55 12,-.1 13,0"/>
<polyline class="c45" points="5,0 6,-2.34 7,-6.74 8,-9.23 9,-11.6 10,-9.84 11,-6.86 12,-2.27 13,0"/>
<polyline class="c45" points="5,0 6,-1.59 7,-4.77 8,-7.03 9,-7.95 10,-6.8 11,-3.87 12,-.56 13,0"/>
<polyline class="c45" points="5,0 6,-1.51 7,-4.64 8,-7.79 9,-8.48 10,-7.71 11,-5.19 12,-3.21 13,-.49 14,0"/>
<polyline class="c45" points="5,0 6,-2.89 7,-7.22 8,-10.45 9,-11.7 10,-9.99 11,-6.77 12,-3.2 13,0"/>
<polyline class="c45" points="5,0 6,-1.87 7,-4.12 8,-6.39 9,-7.2 10,-7.89 11,-5.45 12,-.46 13,0"/>
<polyline class="c45" points="5,0 6,-2.7 7,-6.79 8,-9.48 9,-11.64 10,-10.74 11,-8.43 12,-5.47 13,-2.04 14,0"/>
<polyline class="c45" points="5,0 6,-2.33 7,-6.2 8,-7.95 9,-8.19 10,-8.04 11,-4.45 12,-.64 13,0"/>
<polyline class="c45" points="5,0 6,-1.14 7,-3.58 8,-5.25 9,-8.2 10,-7.51 11,-5.07 12,-.88 13,0"/>
<polyline class="c45" points="5,0 6,-1.81 7,-6.17 8,-10.39 9,-12.14 10,-9.69 11,-7.9 12,-5.25 13,-1.26 14,0"/>
<polyline class="c45" points="5,0 6,-1.51 7,-4.58 8,-6.6 9,-7.72 10,-6.29 11,-3.77 12,-.92 13,0"/>
<polyline class="c45" points="5,0 6,-2.79 7,-6.36 8,-10.18 9,-11.71 10,-10.96 11,-6.65 12,-2.3 13,0"/>
<polyline class="c45" points="5,0 6,-1.67 7,-4.2 8,-6.28 9,-8.03 10,-7.11 11,-4.71 12,-1.69 13,0"/>
<polyline class="c45" points="5,0 6,-2.57 7,-6.26 8,-9.26 9,-10.93 10,-10.62 11,-7.91 12,-3.92 13,0"/>
<polyline class="c45" points="5,0 6,-2.67 7,-6.72 8,-8.76 9,-10.04 10,-9.41 11,-5.03 12,-1.49 13,0"/>
<polyline class="c45" points="5,0 6,-1.48 7,-5.69 8,-9.53 9,-11.02 10,-8.42 11,-4.74 12,-.81 13,0"/>
<polyline class="c45" points="5,0 6,-1.75 7,-4.83 8,-7.01 9,-9.1 10,-9.5 11,-7.66 12,-4.57 13,-1.01 14,0"/>
<polyline class="c45" points="5,0 6,-2.62 7,-4.92 8,-6.69 9,-6.45 10,-6.2 11,-4.9 12,-2.37 13,-.52 14,0"/>
<polyline class="c45" points="5,0 6,-1.56 7,-4.79 8,-9.37 9,-11.6 10,-11.25 11,-8.77 12,-4.55 13,-.2 14,0"/>
<polyline class="c45" points="5,0 6,-1.77 7,-4.08 8,-6.21 9,-6.98 10,-7.24 11,-4.54 12,-1.3 13,0"/>
<polyline class="c45" points="5,0 6,-2.57 7,-6.81 8,-9.86 9,-11.49 10,-10.15 11,-7.02 12,-1.97 13,0"/>
<polyline class="c45" points="5,0 6,-1.1 7,-3.96 8,-6.44 9,-7.54 10,-6.66 11,-3.97 12,-1.94 13,-.07 14,0"/>
<polyline class="c45" points="5,0 6,-2.03 7,-6.33 8,-9.04 9,-9.87 10,-10.95 11,-6.56 12,-1.55 13,0"/>
<polyline class="c45" points="5,0 6,-2.05 7,-5.54 8,-8.81 9,-8.97 10,-7.65 11,-6.24 12,-3.1 13,-.58 14,0"/>
<polyline class="c45" points="5,0 6,-2.91 7,-7.37 8,-10.22 9,-10.96 10,-9.35 11,-7.45 12,-2.85 13,0"/>
<polyline class="c45" points="5,0 6,-2.35 7,-6.12 8,-8.89 9,-11.7 10,-11.52 11,-9.01 12,-5.3 13,-.92 14,0"/>
<polyline class="c45" points="5,0 6,-2.35 7,-4.98 8,-8.5 9,-8.15 10,-8.31 11,-5.54 12,-1.43 13,0"/>
<polyline class="c45" points="5,0 6,-2.02 7,-5.92 8,-9.19 9,-10.99 10,-9.36 11,-7.82 12,-4.5 13,-.85 14,0"/>
<polyline class="c45" points="5,0 6,-1.88 7,-4.31 8,-7.43 9,-8.15 10,-7.61 11,-5.49 12,-2.62 13,-.05 14,0"/>
<polyline class="c45" points="5,0 6,-.83 7,-3.34 8,-5.12 9,-5.59 10,-5.68 11,-4.33 12,-2.05 13,-.22 14,0"/>
<polyline class="c45" points="5,0 6,-2.19 7,-4.98 8,-7.79 9,-9.45 10,-7.82 11,-4.93 12,-1.37 13,0"/>
<polyline class="c45" points="5,0 6,-1.03 7,-3.19 8,-5.19 9,-6.59 10,-6.74 11,-5.38 12,-2.41 13,0"/>
<polyline class="c45" points="5,0 6,-2.53 7,-6.82 8,-9.73 9,-10.77 10,-8.61 11,-5.04 12,-1.34 13,0"/>
<polyline class="c45" points="5,0 6,-2.44 7,-6.23 8,-9.22 9,-9.46 10,-8.67 11,-6.08 12,-3.35 13,-.72 14,0"/>
<polyline class="c45" points="5,0 6,-2.17 7,-4.81 8,-7.68 9,-9.34 10,-8.16 11,-5.13 12,-1.91 13,0"/>
<polyline class="c45" points="5,0 6,-1.99 7,-6.32 8,-9.56 9,-10 10,-9.91 11,-6.91 12,-1.44 13,0"/>
<polyline class="c45" points="5,0 6,-2.12 7,-6.03 8,-8.45 9,-9.29 10,-7.22 11,-4.54 12,-1.45 13,0"/>
<polyline class="c45" points="5,0 6,-1.59 7,-4.36 8,-7.38 9,-8.9 10,-8.85 11,-6.6 12,-2.82 13,-.16 14,0"/>
<polyline class="c45" points="5,0 6,-1.31 7,-4.74 8,-7.35 9,-9.38 10,-7.12 11,-4 12,-.4 13,0"/>
<polyline class="c45" points="5,0 6,-2.73 7,-5.74 8,-8.43 9,-8.34 10,-7.33 11,-5 12,-2.34 13,-.08 14,0"/>
<polyline class="c45" points="5,0 6,-2.2 7,-6 8,-7.87 9,-9.93 10,-6.74 11,-3.31 12,-.08 13,0"/>
<polyline class="c45" points="5,0 6,-2.72 7,-6.33 8,-10.23 9,-11.1 10,-11.45 11,-8.92 12,-3.91 13,-.09 14,0"/>
<polyline class="c45" points="5,0 6,-1.75 7,-5.57 8,-9.59 9,-10.47 10,-10.79 11,-9.33 12,-5.27 13,-1.77 14,0"/>
<polyline class="c45" points="5,0 6,-2.21 7,-6.66 8,-9.58 9,-10.68 10,-11.75 11,-7.97 12,-4.27 13,0"/>
<polyline class="c45" points="5,0 6,-1.94 7,-5.77 8,-9.4 9,-9.95 10,-8.26 11,-6.47 12,-1.81 13,0"/>
<polyline class="c45" points="5,0 6,-.81 7,-3.22 8,-5.89 9,-8.06 10,-7.8 11,-5.39 12,-3.35 13,-.96 14,0"/>
<polyline class="c45" points="5,0 6,-1.63 7,-4.83 8,-9.07 9,-11.26 10,-11.75 11,-9.32 12,-5.35 13,-1.26 14,0"/>
<polyline class="c45" points="5,0 6,-2.02 7,-5.23 8,-7.68 9,-8.02 10,-7.57 11,-4.6 12,-1.64 13,0"/>
<polyline class="c45" points="5,0 6,-1.77 7,-5.83 8,-8.71 9,-10.43 10,-8.71 11,-6.53 12,-2.95 13,0"/>
<polyline class="c45" points="5,0 6,-2.92 7,-5.61 8,-7.37 9,-7.91 10,-7.2 11,-5.11 12,-2.56 13,-.38 14,0"/>
<polyline class="c45" points="5,0 6,-2.1 7,-6.06 8,-9.66 9,-12.34 10,-10.97 11,-8.4 12,-3.83 13,-.1 14,0"/>
<polyline class="c45" points="9,0 10,-.38 11,-6.2 12,-11.61 13,-12.53 14,-10.1 15,-8.05 16,-4.39 17,-.72 18,0"/>
<polyline class="c45" points="9,0 10,-.47 11,-4.44 12,-7.78 13,-8.98 14,-8.56 15,-6.16 16,-3.61 17,-.47 18,0"/>
<polyline class="c45" points="9,0 10,-2.77 11,-6.74 12,-8.81 13,-8.99 14,-8.11 15,-5.79 16,-2.84 17,-.47 18,0"/>
<polyline class="c45" points="9,0 10,-3.67 11,-8.6 12,-11.12 13,-10.83 14,-8.75 15,-7.06 16,-3.92 17,-.55 18,0"/>
<polyline class="c45" points="9,0 10,-2.29 11,-5.72 12,-8.29 13,-8.29 14,-6.4 15,-4.11 16,-1.28 17,0"/>
<polyline class="c45" points="8,0 9,-.14 10,-3.45 11,-8.96 12,-12.37 13,-12.35 14,-11.13 15,-7.93 16,-3.76 17,-.38 18,0"/>
<polyline class="c45" points="9,0 10,-1.07 11,-6.81 12,-11.75 13,-12.45 14,-10.33 15,-7.64 16,-3.35 17,0"/>
<polyline class="c45" points="8,0 9,-.02 10,-2.63 11,-5.72 12,-8.94 13,-8.06 14,-7.39 15,-5.69 16,-2.37 17,-.17 18,0"/>
<polyline class="c45" points="9,0 10,-.82 11,-4.76 12,-8.01 13,-10.12 14,-9.65 15,-6.66 16,-2.76 17,-.07 18,0"/>
<polyline class="c45" points="8,0 9,-.93 10,-3.76 11,-6.31 12,-7.19 13,-7.99 14,-7.12 15,-4.19 16,-2.17 17,-.14 18,0"/>
<polyline class="c45" points="9,0 10,-1.91 11,-6.6 12,-9.12 13,-8.77 14,-7.96 15,-4.97 16,-2.32 17,-.16 18,0"/>
<polyline class="c45" points="9,0 10,-.16 11,-4.92 12,-9.96 13,-11.84 14,-11.15 15,-7.23 16,-3.52 17,-.2 18,0"/>
<polyline class="c45" points="9,0 10,-1.87 11,-8.27 12,-13.1 13,-12.21 14,-10.57 15,-6.93 16,-2.42 17,-.07 18,0"/>
<polyline class="c45" points="9,0 10,-2.29 11,-5.97 12,-9 13,-10.29 14,-9.23 15,-6.37 16,-3.05 17,-.04 18,0"/>
<polyline class="c45" points="9,0 10,-1.28 11,-4.53 12,-7.27 13,-8.91 14,-7.06 15,-5.45 16,-2.48 17,-.25 18,0"/>
<polyline class="c45" points="8,0 9,-.02 10,-2.09 11,-5.68 12,-8.09 13,-8.84 14,-7.93 15,-5.36 16,-2.57 17,0"/>
<polyline class="c45" points="8,0 9,-1.17 10,-3.87 11,-5.98 12,-7.19 13,-8.13 14,-6.59 15,-5.38 16,-2.92 17,-.41 18,0"/>
<polyline class="c45" points="9,0 10,-1.73 11,-6.14 12,-7.95 13,-8.28 14,-6.94 15,-4.43 16,-2.13 17,-.16 18,0"/>
<polyline class="c45" points="9,0 10,-.17 11,-4.88 12,-9.55 13,-10.58 14,-9 15,-6.86 16,-3.65 17,-.34 18,0"/>
<polyline class="c45" points="9,0 10,-1.68 11,-4.58 12,-7.41 13,-7.61 14,-6.91 15,-4.87 16,-2.61 17,-.38 18,0"/>
<polyline class="c45" points="9,0 10,-2.3 11,-5.87 12,-8.48 13,-10.37 14,-8.98 15,-5.6 16,-2.1 17,0"/>
<polyline class="c45" points="8,0 9,-1.14 10,-6.18 11,-10.55 12,-11.85 13,-13.12 14,-10.69 15,-7.09 16,-4.3 17,-.63 18,0"/>
<polyline class="c45" points="8,0 9,-.03 10,-2.86 11,-6.43 12,-8.39 13,-10.23 14,-9.04 15,-6.59 16,-3.53 17,-.59 18,0"/>
<polyline class="c45" points="9,0 10,-1.67 11,-8.7 12,-11.72 13,-10.87 14,-9.76 15,-6.4 16,-3.27 17,-.42 18,0"/>
<polyline class="c45" points="9,0 10,-2.69 11,-7.34 12,-10.72 13,-11.82 14,-10.48 15,-8.4 16,-3.93 17,-.76 18,0"/>
<polyline class="c45" points="8,0 9,-.51 10,-2.94 11,-5.46 12,-8.67 13,-9.59 14,-9.59 15,-5.89 16,-2.78 17,0"/>
<polyline class="c45" points="9,0 10,-1.47 11,-5.65 12,-8.77 13,-10.8 14,-10 15,-8.2 16,-4.04 17,-.4 18,0"/>
<polyline class="c45" points="8,0 9,-.71 10,-4.3 11,-8.56 12,-11.09 13,-10.5 14,-10.8 15,-6.62 16,-2.92 17,0"/>
<polyline class="c45" points="9,0 10,-2.35 11,-5.9 12,-8.65 13,-9.06 14,-7.28 15,-5.04 16,-2.79 17,-.26 18,0"/>
<polyline class="c45" points="9,0 10,-2.06 11,-4.91 12,-8.36 13,-10 14,-8.6 15,-5.49 16,-2.99 17,-.22 18,0"/>
<polyline class="c45" points="8,0 9,-.87 10,-5.13 11,-9.31 12,-13.11 13,-12.87 14,-11.06 15,-8.29 16,-3.38 17,-.22 18,0"/>
<polyline class="c45" points="9,0 10,-1.42 11,-5.8 12,-8.98 13,-10.06 14,-9.99 15,-7.16 16,-3.53 17,-.59 18,0"/>
<polyline class="c45" points="8,0 9,-.31 10,-2.79 11,-5.27 12,-6.58 13,-7.75 14,-6.49 15,-4.58 16,-2.2 17,0 18,0"/>
<polyline class="c45" points="9,0 10,-.96 11,-3.93 12,-5.38 13,-6.6 14,-5.68 15,-3.8 16,-1.85 17,-.17 18,0"/>
<polyline class="c45" points="9,0 10,-.69 11,-2.7 12,-4.99 13,-5.42 14,-4.9 15,-3.47 16,-1.43 17,0"/>
<polyline class="c45" points="9,0 10,-2.17 11,-5.98 12,-8.92 13,-8.6 14,-7.41 15,-5.81 16,-2.35 17,-.42 18,0"/>
<polyline class="c45" points="8,0 9,-.59 10,-3.54 11,-7.93 12,-10.96 13,-10.78 14,-10.76 15,-7.46 16,-4.12 17,-.9 18,0"/>
<polyline class="c45" points="8,0 9,-.37 10,-3.41 11,-6.95 12,-8.87 13,-10.42 14,-8.39 15,-6.27 16,-2.44 17,0"/>
<polyline class="c45" points="9,0 10,-2.58 11,-7.37 12,-9.92 13,-10.07 14,-7.48 15,-5.49 16,-2.63 17,0"/>
<polyline class="c45" points="9,0 10,-.06 11,-2.99 12,-6.24 13,-7.61 14,-6.5 15,-4.18 16,-1.73 17,0"/>
<polyline class="c45" points="9,0 10,-1.53 11,-6.12 12,-10.53 13,-11.25 14,-9.96 15,-6.25 16,-2.54 17,0"/>
<polyline class="c45" points="9,0 10,-3.38 11,-7.16 12,-11.52 13,-12.92 14,-12.19 15,-9.09 16,-3.84 17,-.21 18,0"/>
<polyline class="c45" points="8,0 9,-.66 10,-5.62 11,-9.07 12,-12.24 13,-12.18 14,-10.53 15,-7.1 16,-3.09 17,-.13 18,0"/>
<polyline class="c45" points="9,0 10,-3.9 11,-7.99 12,-10.44 13,-10.35 14,-7.1 15,-5.52 16,-1.99 17,0"/>
<polyline class="c45" points="9,0 10,-.26 11,-4.3 12,-7.26 13,-8.52 14,-7.3 15,-5.66 16,-2.76 17,-.08 18,0"/>
<polyline class="c45" points="9,0 10,-1.86 11,-5.43 12,-8.78 13,-9.86 14,-8.91 15,-7.06 16,-2.94 17,0"/>
<polyline class="c45" points="9,0 10,-1.75 11,-4.37 12,-5.24 13,-5.55 14,-4.26 15,-3.3 16,-1.49 17,0"/>
<polyline class="c45" points="9,0 10,-.94 11,-5.2 12,-9.58 13,-10.94 14,-9.75 15,-6.86 16,-4.06 17,-.88 18,0"/>
<polyline class="c45" points="8,0 9,-.83 10,-4.34 11,-8.42 12,-11.62 13,-12.51 14,-11.57 15,-9.53 16,-4.4 17,-.61 18,0"/>
<polyline class="c45" points="9,0 10,-.04 11,-5.77 12,-11.03 13,-10.7 14,-9.7 15,-6.56 16,-3.17 17,-.47 18,0"/>
<polyline class="c45" points="8,0 9,-.44 10,-3.5 11,-6.94 12,-9.1 13,-10.37 14,-8.72 15,-6.84 16,-3.15 17,-.13 18,0"/>
<polyline class="c45" points="9,0 10,-.21 11,-5.19 12,-11.28 13,-12.72 14,-11.72 15,-10.16 16,-5.24 17,-1.07 18,0"/>
<polyline class="c45" points="9,0 10,-.24 11,-4.47 12,-8.75 13,-10.55 14,-9.35 15,-6.52 16,-3.24 17,-.22 18,0"/>
<polyline class="c45" points="9,0 10,-.57 11,-8.92 12,-11.99 13,-10.91 14,-9.93 15,-6.78 16,-3.02 17,0"/>
<polyline class="c45" points="8,0 9,-.54 10,-5.28 11,-9.26 12,-11.4 13,-11.82 14,-10.98 15,-8.41 16,-4.61 17,-.73 18,0"/>
<polyline class="c45" points="9,0 10,-1.55 11,-6.67 12,-9.92 13,-11.7 14,-11.65 15,-9.38 16,-5.17 17,-.96 18,0"/>
<polyline class="c45" points="8,0 9,-1 10,-4.72 11,-8.3 12,-9.46 13,-9.79 14,-7.54 15,-5.14 16,-2.71 17,-.33 18,0"/>
<polyline class="c45" points="8,0 9,-.81 10,-4.89 11,-9.05 12,-11.59 13,-12.71 14,-10.33 15,-7.64 16,-4.04 17,-.75 18,0"/>
<polyline class="c45" points="9,0 10,-4.83 11,-9.29 12,-12.19 13,-11.11 14,-9.77 15,-6.48 16,-2.8 17,-.15 18,0"/>
<polyline class="c45" points="9,0 10,-.64 11,-2.84 12,-4.89 13,-5.71 14,-5.66 15,-3.98 16,-1.73 17,-.03 18,0"/>
<polyline class="c45" points="9,0 10,-.55 11,-4.32 12,-5.6 13,-5.37 14,-4.65 15,-3.27 16,-1.98 17,-.37 18,0"/>
<polyline class="c45" points="9,0 10,-.43 11,-4.17 12,-7.94 13,-9.16 14,-8.23 15,-5.19 16,-2.45 17,-.06 18,0"/>
<polyline class="c45" points="8,0 9,-.39 10,-3.17 11,-5.8 12,-8.16 13,-7.75 14,-6.57 15,-4.46 16,-2.44 17,-.36 18,0"/>
<polyline class="c45" points="9,0 10,-1.18 11,-5.19 12,-7.53 13,-7.68 14,-6.37 15,-4.92 16,-2.41 17,-.2 18,0"/>
<polyline class="c45" points="8,0 9,-.09 10,-3.29 11,-6.05 12,-7.56 13,-7.64 14,-6.57 15,-4.81 16,-2.51 17,-.38 18,0"/>
<polyline class="c45" points="9,0 10,-3.7 11,-6.81 12,-8.61 13,-9.73 14,-8.2 15,-5.44 16,-2.99 17,-.28 18,0"/>
<polyline class="c45" points="9,0 10,-.19 11,-2.6 12,-4.82 13,-5.98 14,-5.18 15,-3.61 16,-1.8 17,-.15 18,0"/>
<polyline class="c45" points="9,0 10,-.86 11,-4.91 12,-7.47 13,-7.73 14,-6.49 15,-4.43 16,-1.89 17,0"/>
<polyline class="c45" points="8,0 9,-.73 10,-3.53 11,-6.03 12,-7.18 13,-8.46 14,-7.24 15,-5.63 16,-2.7 17,-.31 18,0"/>
<polyline class="c45" points="9,0 10,-.05 11,-3.12 12,-5.89 13,-7.01 14,-6.15 15,-3.93 16,-1.6 17,0"/>
<polyline class="c45" points="9,0 10,-2.21 11,-6.3 12,-9.98 13,-11.81 14,-11.34 15,-7.87 16,-4.05 17,-.16 18,0"/>
<polyline class="c45" points="9,0 10,-2.61 11,-10.18 12,-12.23 13,-12.42 14,-10.15 15,-6.54 16,-3.02 17,0"/>
<polyline class="c45" points="8,0 9,-.38 10,-2.49 11,-4.57 12,-5.5 13,-6.76 14,-5.75 15,-4.22 16,-2.16 17,-.28 18,0"/>
<polyline class="c45" points="9,0 10,-.52 11,-5.16 12,-8.93 13,-8.4 14,-8 15,-5.4 16,-2.11 17,0"/>
<polyline class="c45" points="8,0 9,-.46 10,-3.14 11,-5.51 12,-7.16 13,-8.04 14,-7.3 15,-4.83 16,-1.78 17,0"/>
<polyline class="c45" points="9,0 10,-.17 11,-4.16 12,-7.45 13,-9.33 14,-7.84 15,-5.3 16,-2.42 17,-.03 18,0"/>
<polyline class="c45" points="8,0 9,-.24 10,-3.76 11,-8.57 12,-11.09 13,-14 14,-11.64 15,-8.92 16,-4.23 17,-.15 18,0"/>
<polyline class="c45" points="8,0 9,-.85 10,-3.53 11,-5.16 12,-7.32 13,-6.52 14,-6.7 15,-5.27 16,-2.64 17,-.64 18,0"/>
<polyline class="c45" points="9,0 10,-2.48 11,-5.24 12,-7.18 13,-6.94 14,-6.59 15,-4.85 16,-2.6 17,-.11 18,0"/>
<polyline class="c45" points="8,0 9,-.87 10,-3.87 11,-6.3 12,-7.72 13,-6.74 14,-5.82 15,-3.47 16,-1.57 17,-.03 18,0"/>
<polyline class="c45" points="9,0 10,-1.95 11,-8.19 12,-11.29 13,-12.56 14,-11.01 15,-8.04 16,-4.72 17,-.81 18,0"/>
<polyline class="c45" points="9,0 10,-2.54 11,-6.33 12,-8.57 13,-10.42 14,-10.41 15,-7.07 16,-3.02 17,-.09 18,0"/>
<polyline class="c45" points="8,0 9,-.39 10,-3.1 11,-6.4 12,-9.4 13,-10.93 14,-10.76 15,-6.79 16,-3.06 17,0"/>
<polyline class="c45" points="9,0 10,-.89 11,-3.67 12,-6.07 13,-5.94 14,-5.4 15,-4.2 16,-2.24 17,-.44 18,0"/>
<polyline class="c45" points="9,0 10,-.18 11,-3.66 12,-6.93 13,-8.71 14,-6.14 15,-4.24 16,-1.81 17,-.02 18,0"/>
<polyline class="c45" points="9,0 10,-3.54 11,-9.11 12,-13.25 13,-11.67 14,-10.08 15,-6.42 16,-2.83 17,0"/>
<polyline class="c45" points="9,0 10,-.01 11,-4.15 12,-7.39 13,-9.05 14,-7.17 15,-4.94 16,-2.41 17,-.16 18,0"/>
<polyline class="c45" points="9,0 10,-1.79 11,-5.7 12,-8.42 13,-9.34 14,-8.36 15,-6.07 16,-2.9 17,-.25 18,0"/>
<polyline class="c45" points="8,0 9,-.83 10,-4.5 11,-9.58 12,-11.55 13,-10.84 14,-9.78 15,-6.93 16,-3.85 17,-.2 18,0"/>
<polyline class="c45" points="8,0 9,-.53 10,-4.03 11,-8.78 12,-11.74 13,-13.1 14,-10.33 15,-7.43 16,-4.05 17,-.71 18,0"/>
<polyline class="c45" points="8,0 9,-.12 10,-3.46 11,-5.84 12,-7.94 13,-8.36 14,-7.71 15,-5.14 16,-2.86 17,-.47 18,0"/>
<polyline class="c45" points="9,0 10,-1.9 11,-5.33 12,-9.25 13,-9.78 14,-9.35 15,-7.56 16,-3.69 17,-.19 18,0"/>
<polyline class="c45" points="9,0 10,-1.02 11,-5.56 12,-7.48 13,-7.92 14,-6.94 15,-5.32 16,-2.74 17,-.02 18,0"/>
<polyline class="c45" points="8,0 9,-1.15 10,-5.46 11,-9.6 12,-10.54 13,-11.1 14,-8.02 15,-6 16,-3.32 17,-.58 18,0"/>
<polyline class="c45" points="9,0 10,-.99 11,-4.05 12,-6.42 13,-8.74 14,-8.85 15,-5.7 16,-3.27 17,-.59 18,0"/>
<polyline class="c45" points="8,0 9,-.32 10,-3.48 11,-6.06 12,-7.29 13,-7.42 14,-6.79 15,-5.34 16,-2.64 17,-.34 18,0"/>
<polyline class="c45" points="8,0 9,-.21 10,-2.31 11,-4.92 12,-6.35 13,-6.4 14,-5.52 15,-3.72 16,-1.47 17,0"/>
<polyline class="c45" points="9,0 10,-2.57 11,-7.02 12,-8.55 13,-9.92 14,-9.59 15,-7.32 16,-3.68 17,0"/>
<polyline class="c45" points="9,0 10,-3.06 11,-8.98 12,-12.71 13,-11.74 14,-10.55 15,-7.51 16,-3.18 17,0"/>
<polyline class="c45" points="9,0 10,-.15 11,-3.97 12,-7.05 13,-8.6 14,-9.04 15,-5.9 16,-3.11 17,-.03 18,0"/>
<polyline class="c45" points="9,0 10,-2.32 11,-7.54 12,-10.84 13,-12.38 14,-9.62 15,-7.97 16,-4.78 17,-.68 18,0"/>
<polyline class="c45" points="9,0 10,-1.31 11,-6.8 12,-8.01 13,-8.04 14,-7.49 15,-5.23 16,-2.72 17,-.58 18,0"/>
<polyline class="c45" points="8,0 9,-.09 10,-4.49 11,-9.52 12,-10.87 13,-10.56 14,-9.65 15,-6.12 16,-2.83 17,-.23 18,0"/>
<polyline class="c45" points="8,0 9,-.68 10,-3.01 11,-5.93 12,-7.96 13,-8.99 14,-7.8 15,-5.28 16,-2.45 17,-.1 18,0"/>
<polyline class="c45" points="9,0 10,-1.24 11,-4.32 12,-6.67 13,-7.28 14,-6.48 15,-5.01 16,-2.2 17,-.1 18,0"/>
<polyline class="c45" points="9,0 10,-1.36 11,-6.32 12,-10.5 13,-12.5 14,-11.31 15,-8.27 16,-3.76 17,-.7 18,0"/>
<polyline class="c45" points="9,0 10,-.61 11,-6.68 12,-10.32 13,-12.54 14,-11.46 15,-8.37 16,-4.59 17,-.68 18,0"/>
<polyline class="c45" points="8,0 9,-.24 10,-4.06 11,-6.63 12,-8.4 13,-9.36 14,-6.99 15,-4.07 16,-1.75 17,0 18,0"/>
<polyline class="c45" points="8,0 9,-1.4 10,-4.68 11,-8.63 12,-10.43 13,-9.61 14,-8.26 15,-5.51 16,-2.2 17,-.02 18,0"/>
<polyline class="c45" points="9,0 10,-2 11,-6.05 12,-8.75 13,-8.68 14,-7.71 15,-5.27 16,-2.43 17,-.31 18,0"/>
<polyline class="c45" points="9,0 10,-2.21 11,-5.3 12,-7.33 13,-9.15 14,-8.11 15,-5.39 16,-2.23 17,-.02 18,0"/>
<polyline class="c45" points="8,0 9,-.9 10,-4.57 11,-7.87 12,-8.95 13,-10.11 14,-8.6 15,-5.95 16,-2.81 17,-.01 18,0"/>
<polyline class="c45" points="9,0 10,-2.92 11,-7.09 12,-8.62 13,-10.1 14,-7.84 15,-6.13 16,-2.74 17,0"/>
<polyline class="c45" points="9,0 10,-1.13 11,-6.54 12,-10.75 13,-11.62 14,-10.92 15,-7.13 16,-3.34 17,-.41 18,0"/>
<polyline class="c45" points="8,0 9,-.15 10,-4.26 11,-7.94 12,-9.56 13,-10.47 14,-10.43 15,-8.18 16,-4.17 17,-.55 18,0"/>
<polyline class="c45" points="8,0 9,-.51 10,-3.28 11,-6.82 12,-9 13,-10.03 14,-9.9 15,-6.54 16,-3.41 17,-.33 18,0"/>
<polyline class="c45" points="9,0 10,-.46 11,-3.95 12,-6.5 13,-7.49 14,-6.63 15,-4.71 16,-2.16 17,-.14 18,0"/>
<polyline class="c45" points="8,0 9,-.09 10,-1.89 11,-4.25 12,-5.47 13,-5.87 14,-4.89 15,-3.87 16,-1.54 17,-.09 18,0"/>
<polyline class="c45" points="8,0 9,-.69 10,-3.34 11,-5.74 12,-7.13 13,-7.3 14,-6.58 15,-4.36 16,-1.57 17,0"/>
<polyline class="c45" points="9,0 10,-2.63 11,-7.06 12,-10.61 13,-11.11 14,-10.32 15,-7.43 16,-3.87 17,-.21 18,0"/>
<polyline class="c45" points="9,0 10,-.49 11,-5.3 12,-10.41 13,-12.26 14,-11.36 15,-6.82 16,-2.99 17,0"/>
<polyline class="c45" points="8,0 9,-.65 10,-5.1 11,-10.55 12,-13.11 13,-11.83 14,-9.9 15,-7.09 16,-3.67 17,-.59 18,0"/>
<polyline class="c45" points="9,0 10,-1.05 11,-7.33 12,-10.19 13,-12.03 14,-9.39 15,-5.91 16,-3.1 17,-.46 18,0"/>
<polyline class="c45" points="9,0 10,-3.24 11,-7.9 12,-9.51 13,-8.81 14,-7.45 15,-5.14 16,-2.75 17,-.41 18,0"/>
<polyline class="c45" points="8,0 9,-1.01 10,-5.18 11,-9.32 12,-11.26 13,-11.56 14,-11 15,-6.32 16,-2.49 17,0"/>
<polyline class="c45" points="9,0 10,-1.96 11,-6.05 12,-8.4 13,-10.42 14,-9.55 15,-7.79 16,-3.74 17,-.61 18,0"/>
<polyline class="c45" points="8,0 9,-.07 10,-3.02 11,-6.17 12,-8.83 13,-10.2 14,-9.32 15,-6.58 16,-3.18 17,0"/>
<polyline class="c45" points="9,0 10,-3.59 11,-8.07 12,-11.91 13,-11.71 14,-8.66 15,-5.27 16,-2.36 17,-.03 18,0"/>
<polyline class="c45" points="8,0 9,-.09 10,-3.07 11,-5.55 12,-8.4 13,-7.76 14,-6.75 15,-4.75 16,-2.41 17,-.21 18,0"/>
<polyline class="c45" points="9,0 10,-1.49 11,-5.21 12,-6.74 13,-6.37 14,-5.74 15,-3.67 16,-1.43 17,0"/>
<polyline class="c45" points="9,0 10,-.01 11,-4.15 12,-9.4 13,-11.85 14,-11.15 15,-7.67 16,-2.67 17,0"/>
<polyline class="c45" points="8,0 9,-.37 10,-4.09 11,-7.56 12,-9.96 13,-10.38 14,-9.68 15,-8.29 16,-4.21 17,-.79 18,0"/>
<polyline class="c45" points="8,0 9,-.15 10,-3.29 11,-7.77 12,-11.04 13,-11.3 14,-10.06 15,-6.85 16,-3.4 17,0"/>
<polyline class="c45" points="9,0 10,-1.21 11,-7.65 12,-11.56 13,-10.47 14,-9.72 15,-6.18 16,-2.64 17,-.17 18,0"/>
<polyline class="c45" points="9,0 10,-.01 11,-4.55 12,-9.26 13,-11.36 14,-10.25 15,-7.56 16,-3.83 17,-.23 18,0"/>
<polyline class="c45" points="9,0 10,-1.5 11,-7.78 12,-11.51 13,-12.56 14,-9.8 15,-7.19 16,-3.11 17,0"/>
<polyline class="c45" points="9,0 10,-2.1 11,-4.54 12,-7.08 13,-7.6 14,-6.73 15,-4.94 16,-2.43 17,-.07 18,0"/>
<polyline class="c45" points="8,0 9,-.14 10,-2.86 11,-7.14 12,-10.43 13,-11.52 14,-11.13 15,-7.93 16,-3.96 17,-.59 18,0"/>
<polyline class="c45" points="8,0 9,-.56 10,-3.78 11,-6.06 12,-7.61 13,-6.91 14,-6.39 15,-3.69 16,-1.75 17,-.15 18,0"/>
<polyline class="c45" points="9,0 10,-.06 11,-2.25 12,-5.15 13,-6.4 14,-5.92 15,-4.27 16,-2.05 17,-.19 18,0"/>
<polyline class="c45" points="8,0 9,-.97 10,-5.52 11,-9.98 12,-10.74 13,-10.36 14,-8.73 15,-6.43 16,-3.06 17,-.49 18,0"/>
<polyline class="c45" points="9,0 10,-.19 11,-2.49 12,-6.09 13,-6.87 14,-7.07 15,-5.3 16,-2.03 17,-.04 18,0"/>
<polyline class="c45" points="9,0 10,-.58 11,-7.07 12,-10.67 13,-11.35 14,-11.75 15,-7.67 16,-3.25 17,-.01 18,0"/>
<polyline class="c45" points="9,0 10,-1.93 11,-5.58 12,-6.89 13,-6.48 14,-5.45 15,-3.37 16,-1.92 17,-.24 18,0"/>
<polyline class="c45" points="9,0 10,-1.83 11,-5.29 12,-8.27 13,-9.46 14,-9.23 15,-6.27 16,-2.8 17,-.2 18,0"/>
<polyline class="c45" points="9,0 10,-2.09 11,-4.64 12,-7.81 13,-8.25 14,-9.39 15,-6.11 16,-3.52 17,-.42 18,0"/>
<polyline class="c45" points="8,0 9,-.09 10,-2.64 11,-6.22 12,-7.49 13,-9.25 14,-8.75 15,-6.7 16,-3.06 17,-.45 18,0"/>
<polyline class="c45" points="9,0 10,-.3 11,-5.39 12,-8.15 13,-8.2 14,-6.39 15,-5.02 16,-2.38 17,-.23 18,0"/>
<polyline class="c45" points="9,0 10,-2.06 11,-5.69 12,-8.58 13,-10.27 14,-8.77 15,-6.89 16,-3.15 17,-.04 18,0"/>
<polyline class="c45" points="9,0 10,-2.58 11,-6.34 12,-8.67 13,-8.83 14,-7.11 15,-5.01 16,-2.67 17,-.4 18,0"/>
<polyline class="c45" points="9,0 10,-2.77 11,-7.77 12,-11.27 13,-12.59 14,-9.73 15,-7.21 16,-2.77 17,0"/>
<polyline class="c45" points="8,0 9,-.44 10,-3.18 11,-7.36 12,-8.82 13,-9.65 14,-8.47 15,-5.61 16,-2.75 17,-.17 18,0"/>
<polyline class="c45" points="8,0 9,-.5 10,-4.87 11,-6.76 12,-9.74 13,-10.53 14,-9.66 15,-6.58 16,-3.36 17,-.52 18,0"/>
<polyline class="c45" points="9,0 10,-2.09 11,-8.33 12,-12.45 13,-11.35 14,-9.5 15,-6.68 16,-2.85 17,-.08 18,0"/>
<polyline class="c45" points="9,0 10,-1.25 11,-6.54 12,-9.43 13,-9.39 14,-7.45 15,-5.02 16,-2.38 17,-.32 18,0"/>
<polyline class="c45" points="8,0 9,-.31 10,-3.41 11,-7.13 12,-9.66 13,-9.63 14,-8.3 15,-6.1 16,-3.11 17,0"/>
<polyline class="c45" points="9,0 10,-1.21 11,-6.83 12,-10.52 13,-10.86 14,-9.59 15,-6.76 16,-3.55 17,-.74 18,0"/>
<polyline class="c45" points="8,0 9,-.33 10,-3.31 11,-7.05 12,-9.57 13,-10.36 14,-9.06 15,-7.11 16,-2.72 17,-.24 18,0"/>
<polyline class="c45" points="8,0 9,-1.83 10,-4.97 11,-7.25 12,-8.97 13,-10.34 14,-8.93 15,-6.7 16,-3.37 17,-.17 18,0"/>
<polyline class="c45" points="9,0 10,-1.05 11,-5.02 12,-8.87 13,-10.1 14,-9.81 15,-6.56 16,-3.23 17,-.49 18,0"/>
<polyline class="c1" points="0,0 5,0"/>
<polyline class="c46" points="17,0 18,-4.25 19,-4.25 20,-4.25 21,0"/>
<polyline class="c3" points="17,0 18,-4.4 19,-4.55 20,-4.4 21,-.3 22,0"/>
<polyline class="c30" points="17,0 18,-1.97 19,-1.97 20,-1.97 21,-1.97 22,0"/>
<polyline class="c11" points="17,0 18,-2.12 19,-2.12 20,-2.12 21,-1.82 22,0"/>
<polyline class="c3" points="17,0 18,-4.25 19,-1.97 20,-4.25 21,-.76 22,0"/>
<polyline class="c3" points="17,0 18,-1.97 19,-4.25 20,-1.97 21,-1.52 22,0"/>
<polyline class="c11" points="17,0 18,-3.03 19,-4.55 20,-3.03 21,0 22,0"/>
<polyline class="c5" points="17,0 18,-3.79 19,-3.03 20,-1.52 21,-3.03 22,0"/>
<polyline class="c47" points="17,0 18,-2.4 19,-1.11 20,-1.42 21,-.87 22,0"/>
<polyline class="c47" points="17,0 18,-4.34 19,-1.47 20,-1.94 21,-.41 22,0"/>
<polyline class="c47" points="17,0 18,-.97 19,-3.85 20,-2.36 21,-.73 22,0"/>
<polyline class="c47" points="17,0 18,-4.28 19,-1.12 20,-3.04 21,-1.62 22,0"/>
<polyline class="c47" points="17,0 18,-2.97 19,-2.1 20,-1.4 21,-1.77 22,0"/>
<polyline class="c47" points="17,0 18,-4.16 19,-1.84 20,-2.19 21,-.89 22,0"/>
<polyline class="c47" points="17,0 18,-3.69 19,-3.19 20,-1.17 21,-1.65 22,0"/>
<polyline class="c47" points="17,0 18,-4.3 19,-1.74 20,-2.63 21,-1.55 22,0"/>
<polyline class="c47" points="17,0 18,-3.67 19,-1.49 20,-1.93 21,-1.32 22,0"/>
<polyline class="c47" points="17,0 18,-2.39 19,-4.36 20,-2.64 21,-1.14 22,0"/>
<polyline class="c47" points="17,0 18,-3.21 19,-3.47 20,-1.9 21,-1.27 22,0"/>
<polyline class="c47" points="17,0 18,-3.93 19,-3.82 20,-2.32 21,-1.22 22,0"/>
<polyline class="c47" points="17,0 18,-4.07 19,-2.75 20,-1.52 21,-.68 22,0"/>
<polyline class="c47" points="17,0 18,-2.79 19,-.92 20,-2.64 21,-1.83 22,0"/>
<polyline class="c47" points="17,0 18,-3.02 19,-4.49 20,-1.18 21,-.74 22,0"/>
<polyline class="c1" points="17,0 23,0"/>
</g>
<g transform="translate(214.62 368.04) scale(6.015)">
<polyline class="c1" points="0,-.46 5,-.46"/>
<polyline class="c9" points="0,-4.4 1,-.46 2,-.46"/>
<polyline class="c48" points="1,0 2,-14.42 3,-14.72 4,-10.62 5,0"/>
<polyline class="c49" points="4,0 5,-.03 6,-1.48 7,-2.82 8,-2.63 9,-5.04 10,-6.95 11,-7.85 12,-6.23 13,-6.47 14,-6.56 15,-2.75 16,-2.36 17,-.81 18,0"/>
<polyline class="c49" points="4,0 5,-.1 6,-2.29 7,-2.25 8,-6.31 9,-4.96 10,-9.38 11,-5.24 12,-7.62 13,-6.68 14,-4.95 15,-3.85 16,-4.37 17,-1.47 18,0"/>
<polyline class="c49" points="4,0 5,-.13 6,-1.87 7,-3.45 8,-5.18 9,-6.59 10,-9.41 11,-10.79 12,-7.91 13,-8.71 14,-10.48 15,-5.36 16,-3.5 17,-1.58 18,0"/>
<polyline class="c49" points="5,0 6,-1.98 7,-3.08 8,-4.52 9,-6.03 10,-5.85 11,-7.03 12,-7.38 13,-5.52 14,-6.3 15,-6.01 16,-3.43 17,-1.47 18,0"/>
<polyline class="c49" points="5,0 6,-1.59 7,-2.93 8,-4.08 9,-5.03 10,-5.74 11,-6.2 12,-6.38 13,-6.24 14,-5.69 15,-4.74 16,-3.41 17,-1.69 18,0"/>
<polyline class="c49" points="5,0 6,-2.62 7,-5.34 8,-7.82 9,-9.92 10,-11.5 11,-12.48 12,-12.79 13,-12.28 14,-10.83 15,-8.53 16,-5.53 17,-1.92 18,0"/>
<polyline class="c49" points="5,0 6,-1.29 7,-2.86 8,-4.29 9,-5.49 10,-6.37 11,-6.88 12,-6.98 13,-6.61 14,-5.77 15,-4.53 16,-2.96 17,-1.15 18,0"/>
<polyline class="c49" points="5,0 6,-1.98 7,-4.15 8,-6.19 9,-7.95 10,-9.33 11,-10.24 12,-10.63 13,-10.37 14,-9.27 15,-7.39 16,-4.86 17,-1.83 18,0"/>
<polyline class="c49" points="5,0 6,-2.43 7,-5.07 8,-7.39 9,-9.28 10,-10.65 11,-11.43 12,-11.58 13,-11.02 14,-9.74 15,-7.77 16,-5.18 17,-1.89 18,0"/>
<polyline class="c49" points="5,0 6,-.71 7,-1.64 8,-2.53 9,-3.31 10,-3.93 11,-4.34 12,-4.53 13,-4.43 14,-3.94 15,-3.09 16,-1.95 17,-.58 18,0"/>
<polyline class="c49" points="5,0 6,-2.44 7,-4.73 8,-6.7 9,-8.29 10,-9.46 11,-10.15 12,-10.32 13,-9.87 14,-8.73 15,-6.97 16,-4.69 17,-2 18,0"/>
<polyline class="c49" points="5,0 6,-1.05 7,-2.16 8,-3.14 9,-3.93 10,-4.52 11,-4.88 12,-4.99 13,-4.8 14,-4.26 15,-3.42 16,-2.31 17,-1.01 18,0"/>
<polyline class="c49" points="4,0 5,-.05 6,-2.11 7,-4.21 8,-6.17 9,-7.85 10,-9.15 11,-10.01 12,-10.37 13,-10.12 14,-9.09 15,-7.33 16,-4.93 17,-1.97 18,0"/>
<polyline class="c49" points="4,0 5,-.11 6,-1.85 7,-3.35 8,-4.65 9,-5.7 10,-6.48 11,-6.94 12,-7.08 13,-6.82 14,-6.1 15,-4.96 16,-3.45 17,-1.6 18,0"/>
<polyline class="c49" points="4,0 5,-.06 6,-.9 7,-3 8,-2.43 9,-3.73 10,-3.94 11,-5.93 12,-6.39 13,-6.06 14,-4.66 15,-2.68 16,-1.54 17,-.64 18,0"/>
<polyline class="c49" points="5,0 6,-1.6 7,-3.36 8,-3.86 9,-7.08 10,-4.87 11,-9.94 12,-8.85 13,-7.91 14,-8.63 15,-4.44 16,-4.82 17,-1.43 18,0"/>
<polyline class="c49" points="4,0 5,-.06 6,-1.17 7,-3.83 8,-3.35 9,-6.75 10,-5.05 11,-6.56 12,-8.25 13,-5.69 14,-5.55 15,-6.15 16,-3.24 17,-1.68 18,0"/>
<polyline class="c49" points="5,0 6,-1.44 7,-2.92 8,-4.28 9,-5.42 10,-6.27 11,-6.77 12,-6.91 13,-6.56 14,-5.69 15,-4.35 16,-2.65 17,-.67 18,0"/>
<polyline class="c49" points="5,0 6,-1.55 7,-3.12 8,-4.5 9,-5.61 10,-6.41 11,-6.87 12,-6.95 13,-6.6 14,-5.81 15,-4.62 16,-3.09 17,-1.22 18,0"/>
<polyline class="c49" points="5,0 6,-1.78 7,-3.15 8,-5.33 9,-6.82 10,-8.51 11,-5.21 12,-5.37 13,-8.93 14,-8.42 15,-5.61 16,-3.28 17,-1.56 18,0"/>
<polyline class="c49" points="5,0 6,-.78 7,-1.65 8,-2.42 9,-3.07 10,-3.54 11,-3.84 12,-3.92 13,-3.78 14,-3.39 15,-2.76 16,-1.91 17,-.82 18,0"/>
<polyline class="c49" points="5,0 6,-.73 7,-1.48 8,-2.01 9,-3.23 10,-2.93 11,-2.38 12,-2.48 13,-3.84 14,-3.06 15,-2.38 16,-1.84 17,-.35 18,0"/>
<polyline class="c49" points="4,0 5,-.09 6,-1.22 7,-2.36 8,-3.39 9,-4.27 10,-4.93 11,-5.34 12,-5.48 13,-5.27 14,-4.68 15,-3.74 16,-2.51 17,-1 18,0"/>
<polyline class="c49" points="5,0 6,-1.25 7,-1.87 8,-3.06 9,-4.77 10,-5.12 11,-6.22 12,-4.75 13,-5.1 14,-4.55 15,-3.42 16,-1.73 17,-.9 18,0"/>
<polyline class="c49" points="5,0 6,-1.93 7,-2.51 8,-5.32 9,-4.46 10,-7.51 11,-5.59 12,-10.06 13,-7.55 14,-8.92 15,-5.12 16,-3.76 17,-1.44 18,0"/>
<polyline class="c49" points="5,0 6,-1.09 7,-2.22 8,-4.15 9,-4.66 10,-5.93 11,-6.95 12,-7.74 13,-8.83 14,-8.34 15,-7.11 16,-4.24 17,-1.07 18,0"/>
<polyline class="c49" points="4,0 5,-.04 6,-1.36 7,-3.26 8,-4.08 9,-5.63 10,-6.88 11,-8.7 12,-6.04 13,-6.98 14,-8.66 15,-6.45 16,-2.89 17,-1.05 18,0"/>
<polyline class="c49" points="5,0 6,-1.55 7,-2.31 8,-4.4 9,-4.27 10,-7.3 11,-7.81 12,-6.75 13,-9.33 14,-7.11 15,-4.74 16,-3.33 17,-.76 18,0"/>
<polyline class="c49" points="4,0 5,-.11 6,-2.15 7,-4.17 8,-6.03 9,-7.63 10,-8.87 11,-9.7 12,-10.08 13,-9.89 14,-8.91 15,-7.19 16,-4.85 17,-2.05 18,0"/>
<polyline class="c49" points="5,0 6,-.42 7,-.8 8,-1.01 9,-2.29 10,-1.5 11,-1.62 12,-1.97 13,-2.18 14,-1.84 15,-1.52 16,-1.47 17,-.31 18,0"/>
<polyline class="c49" points="5,0 6,-1.08 7,-2.02 8,-2.82 9,-3.46 10,-3.92 11,-4.18 12,-4.22 13,-4.02 14,-3.57 15,-2.89 16,-2.01 17,-.93 18,0"/>
<polyline class="c49" points="5,-.03 6,-.88 7,-1.51 8,-1.98 9,-2.74 10,-2.49 11,-3.81 12,-2.3 13,-3.29 14,-3.48 15,-1.74 16,-1.18 17,-.42 18,0"/>
<polyline class="c49" points="5,0 6,-1.01 7,-2.4 8,-2.97 9,-3.28 10,-4.34 11,-4.59 12,-4.08 13,-3.56 14,-4.6 15,-2.24 16,-2.29 17,-.89 18,0"/>
<polyline class="c49" points="4,0 5,-.04 6,-.89 7,-2.01 8,-1.75 9,-2.1 10,-3.09 11,-2.85 12,-3.45 13,-4.01 14,-3.29 15,-3.29 16,-1.42 17,-.49 18,0"/>
<polyline class="c49" points="5,0 6,-.64 7,-1.43 8,-2.8 9,-2.4 10,-5.35 11,-4.61 12,-4.21 13,-5.44 14,-3.77 15,-3.62 16,-2.38 17,-.73 18,0"/>
<polyline class="c49" points="5,0 6,-1.23 7,-2.51 8,-3.68 9,-4.65 10,-5.38 11,-5.81 12,-5.91 13,-5.62 14,-4.93 15,-3.88 16,-2.49 17,-.79 18,0"/>
<polyline class="c49" points="5,0 6,-2.32 7,-3.59 8,-3.99 9,-6.73 10,-6.79 11,-6.84 12,-9.09 13,-6.14 14,-10.86 15,-7.75 16,-5.45 17,-1.73 18,0"/>
<polyline class="c49" points="5,0 6,-.98 7,-2.83 8,-4.5 9,-5.72 10,-3.79 11,-7.02 12,-5.85 13,-4.13 14,-4.57 15,-3.74 16,-2.66 17,-.69 18,0"/>
<polyline class="c49" points="5,0 6,-1.96 7,-3.74 8,-3.74 9,-4.92 10,-7.9 11,-6.4 12,-5.93 13,-6.46 14,-7.47 15,-4.03 16,-2.6 17,-1.79 18,0"/>
<polyline class="c49" points="5,0 6,-1.92 7,-4.04 8,-6.05 9,-7.79 10,-9.17 11,-10.09 12,-10.49 13,-10.25 14,-9.08 15,-7.07 16,-4.39 17,-1.22 18,0"/>
<polyline class="c49" points="5,0 6,-1.77 7,-3.29 8,-4.62 9,-5.7 10,-6.5 11,-6.99 12,-7.16 13,-6.86 14,-6.02 15,-4.7 16,-3 17,-1.03 18,0"/>
<polyline class="c49" points="4,0 5,-.04 6,-1.68 7,-3.32 8,-4.83 9,-6.13 10,-7.14 11,-7.82 12,-8.12 13,-7.99 14,-7.27 15,-5.99 16,-4.18 17,-1.85 18,0"/>
<polyline class="c49" points="5,0 6,-.74 7,-2 8,-2.93 9,-2.12 10,-3.3 11,-3.48 12,-3.77 13,-4.03 14,-3.48 15,-1.86 16,-1.6 17,-.71 18,0"/>
<polyline class="c49" points="5,0 6,-2.13 7,-4.44 8,-6.53 9,-8.28 10,-9.57 11,-10.32 12,-10.5 13,-10.04 14,-8.96 15,-7.27 16,-5.03 17,-2.2 18,0"/>
<polyline class="c49" points="5,0 6,-1.65 7,-3.11 8,-4.35 9,-5.36 10,-6.11 11,-6.56 12,-6.71 13,-6.45 14,-5.72 15,-4.56 16,-2.98 17,-.93 18,0"/>
<polyline class="c49" points="5,-.02 6,-2.11 7,-3.11 8,-7.47 9,-5.97 10,-5.99 11,-9.41 12,-10.9 13,-9.62 14,-6.29 15,-3.76 16,-2.4 17,-.7 18,0"/>
<polyline class="c49" points="4,0 5,-.1 6,-2.35 7,-3.98 8,-4.49 9,-6.47 10,-5.26 11,-5.87 12,-6.53 13,-9.72 14,-7.17 15,-6.56 16,-2.96 17,-.97 18,0"/>
<polyline class="c49" points="5,0 6,-2.44 7,-4.64 8,-6.59 9,-8.21 10,-9.44 11,-10.24 12,-10.58 13,-10.34 14,-9.39 15,-7.75 16,-5.48 17,-2.57 18,0"/>
<polyline class="c49" points="5,-.03 6,-2.07 7,-4.49 8,-6.16 9,-8.02 10,-7.52 11,-9.49 12,-10.42 13,-7.86 14,-8.28 15,-4.89 16,-3.55 17,-.76 18,0"/>
<polyline class="c49" points="5,0 6,-2.04 7,-4.18 8,-6.09 9,-7.68 10,-8.87 11,-9.61 12,-9.84 13,-9.39 14,-8.14 15,-6.19 16,-3.72 17,-.93 18,0"/>
<polyline class="c15" points="4,0 5,-.15 6,-.74 7,-3.33 8,-7.01 9,-11.56 10,-.46"/>
<polyline class="c15" points="5,0 6,-.07 7,-2.44 8,-6.39 9,-11.41 10,-.46"/>
<polyline class="c15" points="6,0 7,-.3 8,-1.56 9,-8.63 10,-.46"/>
<polyline class="c15" points="5,0 6,-1.85 7,-4.46 8,-7.38 9,-10.53 10,-.46"/>
<polyline class="c15" points="5,0 6,-.1 7,-.67 8,-4.43 9,-10.21 10,-.46"/>
<polyline class="c15" points="4,0 5,-.3 6,-.06 7,-1.5 8,-4.66 9,-9.46 10,-.46"/>
<polyline class="c15" points="3,0 4,-.21 5,-.04 6,-.81 7,-2.47 8,-5.02 9,-8.44 10,-.46"/>
<polyline class="c15" points="5,0 6,-.3 7,-1.38 8,-4.72 9,-9.44 10,-.46"/>
<polyline class="c15" points="3,0 4,-.3 5,-.18 6,-1.78 7,-3.78 8,-6.01 9,-8.41 10,-.46"/>
<polyline class="c15" points="6,0 7,-.28 8,-3.12 9,-10.06 10,-.46"/>
<polyline class="c15" points="5,0 6,-.16 7,-.17 8,-3.96 9,-9.33 10,-.46"/>
<polyline class="c15" points="6,0 7,-.11 8,-2.6 9,-8.64 10,-.46"/>
<polyline class="c15" points="5,0 6,-.87 7,-3.62 8,-7.22 9,-11.46 10,-.46"/>
<polyline class="c15" points="4,0 5,-.05 6,-1.03 7,-3.2 8,-6.52 9,-10.96 10,-.46"/>
<polyline class="c15" points="5,0 6,-.06 7,-.18 8,-3.13 9,-9.03 10,-.46"/>
<polyline class="c15" points="6,0 7,-.01 8,-1.77 9,-8.43 10,-.46"/>
<polyline class="c15" points="5,0 6,-.23 7,-1.83 8,-5.1 9,-8.99 10,-.46"/>
<polyline class="c15" points="5,0 6,-.14 7,-1.64 8,-4.7 9,-9.26 10,-.46"/>
<polyline class="c15" points="4,0 5,-.38 6,-.7 7,-3 8,-6.18 9,-10.04 10,-.46"/>
<polyline class="c15" points="8,0 9,-8.86 10,-.46"/>
<polyline class="c15" points="5,0 6,-.19 7,-.9 8,-4.68 9,-11.18 10,-.46"/>
<polyline class="c15" points="4,0 5,-.2 6,-1.29 7,-3.87 8,-6.98 9,-10.48 10,-.46"/>
<polyline class="c15" points="4,0 5,-.19 6,-.43 7,-2.25 8,-5.23 9,-9.29 10,-.46"/>
<polyline class="c15" points="5,0 6,-.16 7,-.58 8,-3.44 9,-8.37 10,-.46"/>
<polyline class="c15" points="5,0 6,-.03 7,-1.66 8,-5.42 9,-11.09 10,-.46"/>
<polyline class="c15" points="4,0 5,-.35 6,-.02 7,-2.66 8,-6.56 9,-11.16 10,-.46"/>
<polyline class="c15" points="4,0 5,-.21 6,-.12 7,-1.92 8,-5.63 9,-11.11 10,-.46"/>
<polyline class="c15" points="7,0 8,-.01 9,-10.14 10,-.46"/>
<polyline class="c15" points="6,0 7,-.08 8,-3.59 9,-11.2 10,-.46"/>
<polyline class="c15" points="4,0 5,-.36 6,-.03 7,-1.58 8,-5.46 9,-11.65 10,-.46"/>
<polyline class="c15" points="5,0 6,-.18 7,-2.09 8,-5.93 9,-11.62 10,-.46"/>
<polyline class="c15" points="6,0 7,-.31 8,-1.49 9,-9.52 10,-.46"/>
<polyline class="c15" points="6,0 7,-1.26 8,-5.02 9,-10.44 10,-.46"/>
<polyline class="c15" points="5,0 6,0 7,-.85 8,-4.62 9,-11.01 10,-.46"/>
<polyline class="c15" points="8,0 9,-9.93 10,-.46"/>
<polyline class="c15" points="4,0 5,-.32 6,-.36 7,-2.73 8,-5.77 9,-9.21 10,-.46"/>
<polyline class="c15" points="7,0 8,-2.05 9,-11.49 10,-.46"/>
<polyline class="c15" points="3,0 4,-.34 5,-.05 6,-1.05 7,-3.24 8,-6.51 9,-10.84 10,-.46"/>
<polyline class="c15" points="6,0 7,-.66 8,-4.27 9,-10.83 10,-.46"/>
<polyline class="c15" points="6,0 7,-.29 8,-4.15 9,-11.53 10,-.46"/>
<polyline class="c15" points="5,0 6,-.27 7,-1.17 8,-4.19 9,-8.58 10,-.46"/>
<polyline class="c15" points="5,0 6,-.31 7,-.06 8,-3.21 9,-8.94 10,-.46"/>
<polyline class="c15" points="4,0 5,-.22 6,-.52 7,-2.68 8,-6.38 9,-11.54 10,-.46"/>
<polyline class="c15" points="6,0 7,-.07 8,-.1 9,-8.95 10,-.46"/>
<polyline class="c15" points="5,0 6,-.3 7,-.44 8,-4.04 9,-9.49 10,-.46"/>
<polyline class="c15" points="6,0 7,-.35 8,-2.95 9,-10.52 10,-.46"/>
<polyline class="c15" points="4,0 5,-.06 6,-.19 7,-2.32 8,-5.27 9,-8.72 10,-.46"/>
<polyline class="c15" points="7,0 8,-.99 9,-10.74 10,-.46"/>
<polyline class="c15" points="6,0 7,-1.06 8,-4.24 9,-8.69 10,-.46"/>
<polyline class="c15" points="5,0 6,-.35 7,-.18 8,-3.77 9,-10.64 10,-.46"/>
<polyline class="c15" points="6,0 7,-.31 8,-1.13 9,-10.85 10,-.46"/>
<polyline class="c15" points="6,0 7,-.02 8,-2.38 9,-9.62 10,-.46"/>
<polyline class="c15" points="6,0 7,-.4 8,-4.47 9,-11.3 10,-.46"/>
<polyline class="c15" points="7,0 8,-.34 9,-11.49 10,-.46"/>
<polyline class="c15" points="7,0 8,-.34 9,-11.34 10,-.46"/>
<polyline class="c15" points="5,0 6,-.21 7,-.01 8,-3.21 9,-10.05 10,-.46"/>
<polyline class="c15" points="8,0 9,-10.77 10,-.46"/>
<polyline class="c15" points="3,0 4,-.37 5,-.12 6,-1.5 7,-3.75 8,-6.67 9,-10.14 10,-.46"/>
<polyline class="c15" points="7,0 8,-3.25 9,-11.16 10,-.46"/>
<polyline class="c15" points="5,0 6,-.25 7,-.1 8,-3.23 9,-10.41 10,-.46"/>
<polyline class="c15" points="3,0 4,-.37 5,-.23 6,-1.82 7,-4.07 8,-6.78 9,-9.84 10,-.46"/>
<polyline class="c15" points="3,0 4,-.33 5,-.11 6,-1.37 7,-3.33 8,-5.78 9,-8.64 10,-.46"/>
<polyline class="c15" points="6,0 7,-.05 8,-2.07 9,-10.43 10,-.46"/>
<polyline class="c15" points="4,0 5,-.01 6,-.72 7,-2.5 8,-5.32 9,-9.16 10,-.46"/>
<polyline class="c15" points="5,0 6,-.36 7,-.89 8,-4.07 9,-9.44 10,-.46"/>
<polyline class="c15" points="6,0 7,-.13 8,-2.92 9,-10.33 10,-.46"/>
<polyline class="c15" points="5,0 6,-1.29 7,-3.7 8,-6.53 9,-9.66 10,-.46"/>
<polyline class="c15" points="6,0 7,-1.7 8,-5.1 9,-9.64 10,-.46"/>
<polyline class="c15" points="5,0 6,-.76 7,-3.11 8,-6.79 9,-11.67 10,-.46"/>
<polyline class="c15" points="6,0 7,-.31 8,-.96 9,-11.2 10,-.46"/>
<polyline class="c15" points="6,0 7,-.85 8,-4.93 9,-10.51 10,-.46"/>
<polyline class="c15" points="5,0 6,-.63 7,-2.84 8,-6.06 9,-10.09 10,-.46"/>
<polyline class="c15" points="6,0 7,-.17 8,-1.16 9,-9.82 10,-.46"/>
<polyline class="c15" points="6,0 7,-.35 8,-3.78 9,-11.25 10,-.46"/>
<polyline class="c15" points="6,0 7,-.78 8,-3.88 9,-8.5 10,-.46"/>
<polyline class="c15" points="6,0 7,-.86 8,-5.28 9,-10.85 10,-.46"/>
<polyline class="c15" points="7,0 8,-.35 9,-9.48 10,-.46"/>
<polyline class="c15" points="4,0 5,-.08 6,-1.2 7,-3.37 8,-6.44 9,-10.34 10,-.46"/>
<polyline class="c15" points="4,0 5,-.35 6,-.71 7,-3 8,-6.55 9,-11.25 10,-.46"/>
<polyline class="c15" points="3,0 4,-.23 5,-.12 6,-1.58 7,-3.61 8,-5.99 9,-8.64 10,-.46"/>
<polyline class="c15" points="5,0 6,-.04 7,-1.55 8,-4.91 9,-9.96 10,-.46"/>
<polyline class="c15" points="4,0 5,-.2 6,-.92 7,-3.39 8,-6.95 9,-11.43 10,-.46"/>
<polyline class="c15" points="6,0 7,-.09 8,-3.62 9,-11.51 10,-.46"/>
<polyline class="c15" points="4,0 5,-.18 6,-.32 7,-2.37 8,-5.38 9,-9.07 10,-.46"/>
<polyline class="c15" points="5,0 6,-.25 7,-.43 8,-3.9 9,-10.72 10,-.46"/>
<polyline class="c15" points="5,0 6,-.48 7,-2.7 8,-5.69 9,-9.21 10,-.46"/>
<polyline class="c15" points="7,0 8,-.03 9,-9.44 10,-.46"/>
<polyline class="c15" points="5,0 6,-.26 7,-1.86 8,-5.61 9,-10.43 10,-.46"/>
<polyline class="c15" points="4,0 5,-.32 6,-.28 7,-2.75 8,-5.98 9,-9.67 10,-.46"/>
<polyline class="c15" points="3,0 4,-.05 5,-.06 6,-1.43 7,-3.88 8,-7.14 9,-11.1 10,-.46"/>
<polyline class="c15" points="5,0 6,-.09 7,-.78 8,-4.14 9,-10.15 10,-.46"/>
<polyline class="c15" points="6,0 7,-.32 8,-.01 9,-9.11 10,-.46"/>
<polyline class="c15" points="3,0 4,-.22 5,-.01 6,-.69 7,-2.37 8,-5.02 9,-8.64 10,-.46"/>
<polyline class="c15" points="8,0 9,-11.4 10,-.46"/>
<polyline class="c15" points="4,0 5,-.05 6,-.18 7,-2.47 8,-5.4 9,-8.69 10,-.46"/>
<polyline class="c15" points="4,0 5,-.16 6,-.37 7,-2.56 8,-6.12 9,-10.84 10,-.46"/>
<polyline class="c15" points="4,0 5,-.27 6,-2.21 7,-4.81 8,-7.82 9,-11.16 10,-.46"/>
<polyline class="c15" points="6,0 7,-2.17 8,-5.12 9,-8.45 10,-.46"/>
<polyline class="c15" points="4,0 5,-.17 6,-1.83 7,-4.44 8,-7.75 9,-11.63 10,-.46"/>
<polyline class="c15" points="5,0 6,0 7,-1.72 8,-4.96 9,-9.23 10,-.46"/>
<polyline class="c15" points="6,0 7,-.05 8,-2.42 9,-10.2 10,-.46"/>
<polyline class="c15" points="6,0 7,-.52 8,-4.24 9,-9.43 10,-.46"/>
<polyline class="c15" points="5,0 6,-.06 7,-1.22 8,-5.14 9,-10.89 10,-.46"/>
<polyline class="c15" points="6,0 7,-.25 8,-1.95 9,-10.1 10,-.46"/>
<polyline class="c15" points="4,0 5,-.07 6,-1.12 7,-3.11 8,-5.89 9,-9.41 10,-.46"/>
<polyline class="c15" points="7,0 8,-.14 9,-11.65 10,-.46"/>
<polyline class="c15" points="8,0 9,-11.23 10,-.46"/>
<polyline class="c15" points="7,0 8,-.23 9,-10.99 10,-.46"/>
<polyline class="c15" points="6,0 7,-1.62 8,-5.14 9,-10.11 10,-.46"/>
<polyline class="c15" points="3,0 4,-.25 5,-.05 6,-1.28 7,-3.46 8,-6.36 9,-9.87 10,-.46"/>
<polyline class="c15" points="7,0 8,-2.04 9,-8.95 10,-.46"/>
<polyline class="c15" points="6,0 7,-.07 8,-1.27 9,-10.96 10,-.46"/>
<polyline class="c15" points="6,0 7,-.14 8,-2.9 9,-9.12 10,-.46"/>
<polyline class="c15" points="6,0 7,-.11 8,-.12 9,-8.86 10,-.46"/>
<polyline class="c15" points="5,0 6,-.03 7,-1.53 8,-4.78 9,-9.53 10,-.46"/>
<polyline class="c15" points="3,0 4,-.01 5,-.02 6,-1.15 7,-3.39 8,-6.48 9,-10.31 10,-.46"/>
<polyline class="c15" points="5,0 6,-.27 7,-.09 8,-3.98 9,-10.4 10,-.46"/>
<polyline class="c15" points="3,0 4,-.31 5,-.02 6,-.97 7,-3.24 8,-6.79 9,-11.6 10,-.46"/>
<polyline class="c15" points="4,0 5,-.2 6,-1.95 7,-4.42 8,-7.36 9,-10.68 10,-.46"/>
<polyline class="c15" points="3,0 4,-.15 5,-.02 6,-1.36 7,-3.6 8,-6.44 9,-9.75 10,-.46"/>
<polyline class="c15" points="4,0 5,-.13 6,-.22 7,-2.29 8,-6.03 9,-11.23 10,-.46"/>
<polyline class="c15" points="4,0 5,-.15 6,-1.52 7,-3.59 8,-6.18 9,-9.18 10,-.46"/>
<polyline class="c15" points="5,0 6,-.02 7,-2.35 8,-6.33 9,-11.39 10,-.46"/>
<polyline class="c15" points="6,0 7,-.02 8,-.81 9,-10.19 10,-.46"/>
<polyline class="c15" points="4,0 5,-.37 6,0 7,-1 8,-3.83 9,-8.42 10,-.46"/>
<polyline class="c15" points="4,0 5,-.23 6,-.51 7,-2.17 8,-4.83 9,-8.41 10,-.46"/>
<polyline class="c15" points="6,0 7,-.31 8,-1.12 9,-10.29 10,-.46"/>
<polyline class="c15" points="4,0 5,-.24 6,-.73 7,-2.95 8,-6.23 9,-10.43 10,-.46"/>
<polyline class="c15" points="5,0 6,-.24 7,-1 8,-4.32 9,-9.6 10,-.46"/>
<polyline class="c15" points="4,0 5,-.05 6,-1.12 7,-3.37 8,-6.69 9,-11.02 10,-.46"/>
<polyline class="c15" points="6,0 7,-.26 8,-4.71 9,-11 10,-.46"/>
<polyline class="c15" points="5,0 6,-.31 7,-1.49 8,-4.81 9,-9.04 10,-.46"/>
<polyline class="c15" points="6,0 7,-.21 8,-.13 9,-11.04 10,-.46"/>
<polyline class="c15" points="5,0 6,-.27 7,-1.02 8,-4.85 9,-10.66 10,-.46"/>
<polyline class="c15" points="6,0 7,-.42 8,-4.24 9,-11.24 10,-.46"/>
<polyline class="c15" points="6,0 7,-.36 8,-2.74 9,-8.86 10,-.46"/>
<polyline class="c15" points="4,0 5,-.21 6,-.3 7,-2.04 8,-4.88 9,-8.65 10,-.46"/>
<polyline class="c15" points="6,0 7,-.02 8,-2.82 9,-9.93 10,-.46"/>
<polyline class="c15" points="3,0 4,-.18 5,-.16 6,-1.59 7,-3.87 8,-6.8 9,-10.28 10,-.46"/>
<polyline class="c15" points="5,0 6,-.37 7,-.09 8,-3.42 9,-10.6 10,-.46"/>
<polyline class="c15" points="3,0 4,-.35 5,-.01 6,-.96 7,-2.84 8,-5.4 9,-8.55 10,-.46"/>
<polyline class="c15" points="6,0 7,-.08 8,-2.38 9,-11.41 10,-.46"/>
<polyline class="c15" points="3,0 4,-.34 5,-.11 6,-1.86 7,-4.49 8,-7.68 9,-11.32 10,-.46"/>
<polyline class="c15" points="3,0 4,-.07 5,-.11 6,-1.79 7,-4.05 8,-6.65 9,-9.49 10,-.46"/>
<polyline class="c15" points="5,0 6,-.27 7,-1.64 8,-5.25 9,-9.86 10,-.46"/>
<polyline class="c15" points="6,0 7,-.03 8,-3.79 9,-11.52 10,-.46"/>
<polyline class="c15" points="5,0 6,-.21 7,-.71 8,-5 9,-10.89 10,-.46"/>
<polyline class="c15" points="4,0 5,-.2 6,-.89 7,-3.01 8,-5.99 9,-9.7 10,-.46"/>
<polyline class="c15" points="4,0 5,-.35 6,-.07 7,-1.57 8,-4.49 9,-8.6 10,-.46"/>
<polyline class="c15" points="5,0 6,-.31 7,-2.47 8,-5.29 9,-8.5 10,-.46"/>
<polyline class="c15" points="7,0 8,-.59 9,-8.42 10,-.46"/>
<polyline class="c15" points="6,0 7,-.26 8,-.29 9,-9.45 10,-.46"/>
<polyline class="c15" points="5,0 6,-.23 7,-2.1 8,-5.39 9,-9.9 10,-.46"/>
<polyline class="c15" points="4,0 5,-.08 6,-1.1 7,-2.94 8,-5.44 9,-8.53 10,-.46"/>
<polyline class="c15" points="6,0 7,-.13 8,-2.18 9,-9.06 10,-.46"/>
<polyline class="c15" points="5,0 6,-.28 7,-.01 8,-3.39 9,-9.68 10,-.46"/>
<polyline class="c15" points="5,0 6,-.34 7,-.44 8,-5.16 9,-11.57 10,-.46"/>
<polyline class="c15" points="5,0 6,-.99 7,-3.5 8,-6.75 9,-10.55 10,-.46"/>
<polyline class="c15" points="6,0 7,-.02 8,-1.19 9,-9.01 10,-.46"/>
<polyline class="c15" points="5,0 6,-.52 7,-2.69 8,-5.59 9,-9.02 10,-.46"/>
<polyline class="c16" points="8,-6.83 9,-11.68 10,-.46"/>
<polyline class="c34" points="10,-.46 13,-.46"/>
<polyline class="c20" points="11,0 12,-.06 13,-4.36 14,-12.81 15,-.46"/>
<polyline class="c20" points="10,0 11,-.3 12,-.41 13,-4.17 14,-9.84 15,-.46"/>
<polyline class="c20" points="12,0 13,-4.81 14,-12.92 15,-.46"/>
<polyline class="c20" points="9,0 10,-.36 11,-.07 12,-2.17 13,-6.6 14,-13.09 15,-.46"/>
<polyline class="c20" points="12,0 13,-3.78 14,-11.56 15,-.46"/>
<polyline class="c20" points="12,0 13,-4.41 14,-11.48 15,-.46"/>
<polyline class="c20" points="9,0 10,-.11 11,-.35 12,-2.3 13,-5.66 14,-10.26 15,-.46"/>
<polyline class="c20" points="9,0 10,-.37 11,-.08 12,-1.92 13,-5.22 14,-9.64 15,-.46"/>
<polyline class="c20" points="9,0 10,-.01 11,0 12,-1.46 13,-4.91 14,-10.01 15,-.46"/>
<polyline class="c20" points="11,0 12,-.3 13,-3.37 14,-12.13 15,-.46"/>
<polyline class="c20" points="10,0 11,-.44 12,-2.29 13,-5.29 14,-9.32 15,-.46"/>
<polyline class="c20" points="11,0 12,-.18 13,-.44 14,-13.09 15,-.46"/>
<polyline class="c20" points="11,0 12,-.32 13,-4.37 14,-12.88 15,-.46"/>
<polyline class="c20" points="10,0 11,-.29 12,-1.06 13,-4.67 14,-10.29 15,-.46"/>
<polyline class="c20" points="11,0 12,-.14 13,-1.2 14,-10.63 15,-.46"/>
<polyline class="c20" points="13,0 14,-10.42 15,-.46"/>
<polyline class="c20" points="12,0 13,-1.34 14,-12.86 15,-.46"/>
<polyline class="c20" points="11,0 12,-.27 13,-.76 14,-8.53 15,-.46"/>
<polyline class="c20" points="10,0 11,0 12,-1.51 13,-5.11 14,-9.68 15,-.46"/>
<polyline class="c20" points="10,0 11,-.23 12,-2.84 13,-6.7 14,-11.39 15,-.46"/>
<polyline class="c20" points="10,0 11,0 12,-1.16 13,-4.87 14,-11.31 15,-.46"/>
<polyline class="c20" points="9,0 10,-.14 11,-.11 12,-1.65 13,-4.95 14,-9.99 15,-.46"/>
<polyline class="c20" points="11,0 12,-1.2 13,-5.43 14,-13.08 15,-.46"/>
<polyline class="c20" points="10,0 11,-.03 12,-.88 13,-5.16 14,-12.84 15,-.46"/>
<polyline class="c20" points="9,0 10,-.23 11,-.04 12,-2.99 13,-7.27 14,-12.28 15,-.46"/>
<polyline class="c20" points="10,0 11,-.26 12,-2.05 13,-5.74 14,-11.4 15,-.46"/>
<polyline class="c20" points="9,0 10,-.03 11,-.88 12,-3.02 13,-5.66 14,-8.65 15,-.46"/>
<polyline class="c20" points="11,0 12,0 13,-3.05 14,-8.36 15,-.46"/>
<polyline class="c20" points="11,0 12,-.12 13,-1.54 14,-11.71 15,-.46"/>
<polyline class="c20" points="11,0 12,-.17 13,-3.29 14,-9.64 15,-.46"/>
<polyline class="c20" points="10,0 11,-.11 12,-.22 13,-3.46 14,-9.87 15,-.46"/>
<polyline class="c20" points="11,0 12,-.28 13,-2.76 14,-8.5 15,-.46"/>
<polyline class="c20" points="11,0 12,-.06 13,-.56 14,-8.43 15,-.46"/>
<polyline class="c20" points="9,0 10,-.25 11,-.45 12,-2.75 13,-6.97 14,-13.13 15,-.46"/>
<polyline class="c20" points="10,0 11,-.94 12,-3.21 13,-6.04 14,-9.26 15,-.46"/>
<polyline class="c20" points="10,0 11,-.36 12,-3.04 13,-6.89 14,-11.55 15,-.46"/>
<polyline class="c20" points="10,0 11,-1.04 12,-4.16 13,-7.66 14,-11.39 15,-.46"/>
<polyline class="c20" points="9,0 10,-.14 11,-.84 12,-3.2 13,-5.97 14,-9 15,-.46"/>
<polyline class="c20" points="12,0 13,-1.5 14,-11.98 15,-.46"/>
<polyline class="c20" points="12,0 13,-.2 14,-12.86 15,-.46"/>
<polyline class="c20" points="9,0 10,-.09 11,-.83 12,-3.61 13,-6.71 14,-9.99 15,-.46"/>
<polyline class="c20" points="12,0 13,-.01 14,-9.91 15,-.46"/>
<polyline class="c20" points="11,0 12,-.14 13,-3.04 14,-11.96 15,-.46"/>
<polyline class="c20" points="11,0 12,-.13 13,-2.89 14,-12.62 15,-.46"/>
<polyline class="c20" points="12,0 13,-.03 14,-10.71 15,-.46"/>
<polyline class="c20" points="9,0 10,-.15 11,-.02 12,-1.35 13,-5.12 14,-11.52 15,-.46"/>
<polyline class="c20" points="11,0 12,-.04 13,-1.82 14,-12.33 15,-.46"/>
<polyline class="c20" points="12,0 13,-.05 14,-12.55 15,-.46"/>
<polyline class="c20" points="12,0 13,-1.12 14,-11.96 15,-.46"/>
<polyline class="c20" points="10,0 11,-.16 12,-.87 13,-4.45 14,-10.54 15,-.46"/>
<polyline class="c20" points="11,0 12,-.29 13,-2.13 14,-9.84 15,-.46"/>
<polyline class="c20" points="12,0 13,-.17 14,-10.25 15,-.46"/>
<polyline class="c20" points="10,0 11,-.25 12,-.07 13,-3.75 14,-10.22 15,-.46"/>
<polyline class="c20" points="12,0 13,-.23 14,-10.84 15,-.46"/>
<polyline class="c20" points="11,0 12,-.14 13,-1.61 14,-8.7 15,-.46"/>
<polyline class="c20" points="11,0 12,-.08 13,-1.7 14,-12.87 15,-.46"/>
<polyline class="c20" points="10,0 11,-.14 12,-.31 13,-4.46 14,-10.12 15,-.46"/>
<polyline class="c20" points="13,0 14,-10.96 15,-.46"/>
<polyline class="c20" points="10,0 11,-.07 12,-1.68 13,-6.55 14,-12.23 15,-.46"/>
<polyline class="c20" points="10,0 11,-1.32 12,-4.24 13,-7.27 14,-10.37 15,-.46"/>
<polyline class="c20" points="12,0 13,-.33 14,-8.62 15,-.46"/>
<polyline class="c20" points="13,0 14,-9.59 15,-.46"/>
<polyline class="c20" points="11,0 12,-.31 13,-1.32 14,-8.95 15,-.46"/>
<polyline class="c20" points="10,0 11,-.1 12,-.1 13,-3.37 14,-11.89 15,-.46"/>
<polyline class="c20" points="10,0 11,-.29 12,-.15 13,-3.91 14,-11.07 15,-.46"/>
<polyline class="c20" points="11,0 12,-1.47 13,-4.71 14,-8.92 15,-.46"/>
<polyline class="c20" points="12,0 13,-.02 14,-8.91 15,-.46"/>
<polyline class="c20" points="9,0 10,-.04 11,-.56 12,-3.14 13,-5.88 14,-8.7 15,-.46"/>
<polyline class="c20" points="9,0 10,-.07 11,-.82 12,-4.05 13,-8.26 14,-13.15 15,-.46"/>
<polyline class="c20" points="10,0 11,0 12,-1.2 13,-5.14 14,-12.12 15,-.46"/>
<polyline class="c20" points="12,0 13,-.09 14,-11.31 15,-.46"/>
<polyline class="c20" points="11,0 12,-.65 13,-4.35 14,-10.45 15,-.46"/>
<polyline class="c20" points="11,0 12,-.18 13,-1.08 14,-12.39 15,-.46"/>
<polyline class="c20" points="13,0 14,-9.82 15,-.46"/>
<polyline class="c20" points="12,0 13,-2.02 14,-12.51 15,-.46"/>
<polyline class="c20" points="11,0 12,-.15 13,-3.89 14,-12.97 15,-.46"/>
<polyline class="c20" points="12,0 13,-1.25 14,-11.81 15,-.46"/>
<polyline class="c20" points="11,0 12,-.21 13,-3.12 14,-8.87 15,-.46"/>
<polyline class="c20" points="11,0 12,0 13,-2.61 14,-10.15 15,-.46"/>
<polyline class="c20" points="11,0 12,-.09 13,-.14 14,-10.87 15,-.46"/>
<polyline class="c20" points="11,0 12,-.19 13,-3.1 14,-12.02 15,-.46"/>
<polyline class="c20" points="12,0 13,-1.09 14,-12.67 15,-.46"/>
<polyline class="c20" points="11,0 12,0 13,-2.15 14,-8.89 15,-.46"/>
<polyline class="c20" points="13,0 14,-8.66 15,-.46"/>
<polyline class="c20" points="9,0 10,-.24 11,-.26 12,-2.35 13,-5.41 14,-9.16 15,-.46"/>
<polyline class="c20" points="10,0 11,-.18 12,-.48 13,-5.59 14,-12.91 15,-.46"/>
<polyline class="c20" points="11,0 12,-.29 13,-2.95 14,-8.49 15,-.46"/>
<polyline class="c20" points="9,0 10,-.09 11,-.72 12,-2.75 13,-5.5 14,-8.81 15,-.46"/>
<polyline class="c20" points="11,0 12,-.83 13,-4.32 14,-9.57 15,-.46"/>
<polyline class="c20" points="11,0 12,-1.23 13,-5.31 14,-10.63 15,-.46"/>
<polyline class="c20" points="11,0 12,-2.31 13,-6.92 14,-12.92 15,-.46"/>
<polyline class="c20" points="10,0 11,-.28 12,-.13 13,-3.07 14,-8.5 15,-.46"/>
<polyline class="c20" points="13,0 14,-12.66 15,-.46"/>
<polyline class="c20" points="9,0 10,-.25 11,-.32 12,-2.19 13,-5.34 14,-9.58 15,-.46"/>
<polyline class="c20" points="9,0 10,-.04 11,-.61 12,-3.64 13,-7.37 14,-11.54 15,-.46"/>
<polyline class="c20" points="10,0 11,-.28 12,-.32 13,-4.01 14,-12.39 15,-.46"/>
<polyline class="c20" points="9,0 10,-.37 11,-.1 12,-2.4 13,-5.52 14,-9.08 15,-.46"/>
<polyline class="c20" points="13,0 14,-9.69 15,-.46"/>
<polyline class="c20" points="11,0 12,-.23 13,-2.4 14,-9.17 15,-.46"/>
<polyline class="c20" points="11,0 12,-.51 13,-3.87 14,-10.36 15,-.46"/>
<polyline class="c20" points="9,0 10,-.21 11,-.41 12,-2.98 13,-6.71 14,-11.28 15,-.46"/>
<polyline class="c20" points="12,0 13,-.37 14,-11.04 15,-.46"/>
<polyline class="c20" points="10,0 11,-.29 12,-.48 13,-6.12 14,-12.31 15,-.46"/>
<polyline class="c20" points="9,0 10,-.19 11,-.18 12,-1.62 13,-4.78 14,-9.83 15,-.46"/>
<polyline class="c20" points="10,0 11,-.19 12,-.72 13,-4.6 14,-10.12 15,-.46"/>
<polyline class="c20" points="11,0 12,-.46 13,-3.97 14,-8.39 15,-.46"/>
<polyline class="c20" points="11,0 12,-2.37 13,-6.13 14,-10.38 15,-.46"/>
<polyline class="c20" points="13,0 14,-9.33 15,-.46"/>
<polyline class="c20" points="11,0 12,-.06 13,-.98 14,-8.86 15,-.46"/>
<polyline class="c20" points="11,0 12,-.6 13,-4.1 14,-8.55 15,-.46"/>
<polyline class="c1" points="13,-.46 14,-13.2 15,-9.1"/>
<polyline class="c20" points="13,-1.16 14,-9.11 15,-4.92 16,-1.75 17,-.02 18,0"/>
<polyline class="c20" points="13,-.71 14,-11.08 15,-5.77 16,-1.87 17,0"/>
<polyline class="c20" points="13,-1.75 14,-10.05 15,-4.44 16,0"/>
<polyline class="c20" points="13,-1 14,-13.11 15,-5.32 16,0"/>
<polyline class="c20" points="13,-.65 14,-9.71 15,-7.22 16,-4.69 17,-2.1 18,0"/>
<polyline class="c20" points="13,-1.92 14,-12.89 15,-7.86 16,-3.81 17,-.96 18,0"/>
<polyline class="c20" points="13,-.66 14,-8.34 15,-2.77 16,0"/>
<polyline class="c20" points="13,-2.14 14,-9.01 15,-5.1 16,-1.88 17,0"/>
<polyline class="c20" points="13,-.7 14,-13.01 15,-5.27 16,-.37 17,0"/>
<polyline class="c20" points="13,-1.77 14,-8.95 15,-5.37 16,-1.89 17,0"/>
<polyline class="c20" points="13,-.74 14,-7.74 15,-4.39 16,-1.48 17,0"/>
<polyline class="c20" points="13,-.48 14,-10.77 15,-7.54 16,-4.55 17,-1.9 18,0"/>
<polyline class="c20" points="13,-1.21 14,-11.68 15,-5.21 16,-.82 17,0"/>
<polyline class="c20" points="13,-1.35 14,-10.98 15,-7.22 16,-3.29 17,0"/>
<polyline class="c20" points="13,-1 14,-11.89 15,-7.03 16,-2.4 17,0"/>
<polyline class="c20" points="13,-1.05 14,-9.11 15,-6.34 16,-3.84 17,-1.67 18,-.09 19,0"/>
<polyline class="c20" points="13,-1.99 14,-12.37 15,-7.14 16,-.34 17,0"/>
<polyline class="c20" points="13,-2.04 14,-8.75 15,-3.47 16,0"/>
<polyline class="c20" points="13,-1.04 14,-9.91 15,-6.11 16,-2.03 17,0"/>
<polyline class="c20" points="13,-2.17 14,-12.09 15,-7.37 16,-3.46 17,-.66 18,0"/>
<polyline class="c20" points="13,-1.97 14,-8.66 15,-5.64 16,-3.09 17,-1.12 18,-.01 19,0"/>
<polyline class="c20" points="13,-.67 14,-12.55 15,-9.97 16,-7.24 17,-4.26 18,-.6 19,0"/>
<polyline class="c20" points="13,-2.13 14,-9.73 15,-5.92 16,-2.75 17,-.48 18,0"/>
<polyline class="c20" points="13,-.68 14,-10.97 15,-7.71 16,-4.38 17,-.9 18,0"/>
<polyline class="c20" points="13,-1.16 14,-8.03 15,-1.97 16,0"/>
<polyline class="c20" points="13,-1.29 14,-9.54 15,-6.11 16,-2.69 17,0"/>
<polyline class="c20" points="13,-1.28 14,-12.89 15,-8.13 16,-3.53 17,0"/>
<polyline class="c20" points="13,-1.87 14,-13 15,-3.9 16,0"/>
<polyline class="c20" points="13,-1.42 14,-9.53 15,-3.72 16,0"/>
<polyline class="c20" points="13,-1.99 14,-8.84 15,-3.42 16,-.06 17,0"/>
<polyline class="c20" points="13,-1.77 14,-7.63 15,-5.34 16,-3.08 17,-.89 18,0"/>
<polyline class="c20" points="13,-1.78 14,-12.93 15,-8.41 16,-4.14 17,-.36 18,0"/>
<polyline class="c20" points="13,-.51 14,-11.42 15,-7.24 16,-3.59 17,-.73 18,0"/>
<polyline class="c20" points="13,-2.09 14,-11.39 15,-5.28 16,0"/>
<polyline class="c20" points="13,-1.14 14,-11.3 15,-7.37 16,-3.17 17,0"/>
<polyline class="c20" points="13,-.54 14,-7.91 15,-6.04 16,-4.05 17,-1.84 18,0"/>
<polyline class="c20" points="13,-.85 14,-9.53 15,-6.04 16,-3.1 17,-.87 18,0"/>
<polyline class="c20" points="13,-1.51 14,-10.82 15,-7.33 16,-3.53 17,0"/>
<polyline class="c20" points="13,-1.65 14,-11.6 15,-7.31 16,-3.03 17,0"/>
<polyline class="c20" points="13,-.89 14,-11.99 15,-9.26 16,-6.35 17,-3.15 18,0"/>
<polyline class="c20" points="13,-.77 14,-8.54 15,-4.23 16,-.94 17,0"/>
<polyline class="c20" points="13,-2.14 14,-12.79 15,-7.29 16,-2.44 17,0"/>
<polyline class="c20" points="13,-1.28 14,-9.63 15,-6.36 16,-3.58 17,-1.42 18,-.09 19,0"/>
<polyline class="c20" points="13,-1.69 14,-13.02 15,-9.26 16,-5.51 17,-1.76 18,0"/>
<polyline class="c20" points="13,-1.15 14,-11.19 15,-6.95 16,-2.17 17,0"/>
<polyline class="c20" points="13,-.54 14,-9.65 15,-5.95 16,-2.82 17,-.49 18,0"/>
<polyline class="c20" points="13,-.77 14,-12.97 15,-6.47 16,-1.78 17,0"/>
<polyline class="c20" points="13,-2.23 14,-9.47 15,-7.08 16,-4.64 17,-2.12 18,0"/>
<polyline class="c20" points="13,-.74 14,-11.43 15,-6.99 16,-3.36 17,-.77 18,0"/>
<polyline class="c20" points="13,-1.09 14,-8.23 15,-3.54 16,-.32 17,0"/>
<polyline class="c20" points="13,-1.94 14,-12.99 15,-9.94 16,-6.78 17,-3.43 18,0"/>
<polyline class="c20" points="13,-.76 14,-12.8 15,-3.67 16,0"/>
<polyline class="c20" points="13,-1.9 14,-11.51 15,-6.78 16,-2.07 17,0"/>
<polyline class="c20" points="13,-.47 14,-10.01 15,-4.01 16,0"/>
<polyline class="c20" points="13,-2.04 14,-8.98 15,-4.15 16,0"/>
<polyline class="c20" points="13,-1.16 14,-9.47 15,-5 16,-1.65 17,0"/>
<polyline class="c20" points="13,-.66 14,-8.61 15,-4.26 16,-1.15 17,0"/>
<polyline class="c20" points="13,-1.75 14,-11.53 15,-8.11 16,-4.62 17,-.98 18,0"/>
<polyline class="c20" points="13,-1.75 14,-10.13 15,-6.53 16,-3.36 17,-.82 18,0"/>
<polyline class="c20" points="13,-1.87 14,-11.92 15,-8.43 16,-5.01 17,-1.71 18,0"/>
<polyline class="c20" points="13,-.59 14,-12.06 15,-7.94 16,-4.35 17,-1.45 18,0"/>
<polyline class="c20" points="13,-1.5 14,-12.02 15,-9.26 16,-6.42 17,-3.44 18,-.06 19,0"/>
<polyline class="c20" points="13,-1.05 14,-10.55 15,-4.83 16,-.97 17,0"/>
<polyline class="c20" points="13,-1.69 14,-11.13 15,-4.14 16,0"/>
<polyline class="c20" points="13,-1.23 14,-10.88 15,-7.79 16,-4.74 17,-1.74 18,0"/>
<polyline class="c20" points="13,-1.26 14,-10.29 15,-5.93 16,-2.35 17,-.04 18,0"/>
<polyline class="c20" points="13,-1.35 14,-9.83 15,-5.96 16,-2.86 17,-.7 18,0"/>
<polyline class="c20" points="13,-.69 14,-10.07 15,-6.09 16,-2.83 17,-.53 18,0"/>
<polyline class="c20" points="13,-2.13 14,-13.07 15,-10.3 16,-7.35 17,-4.1 18,0"/>
<polyline class="c20" points="13,-.79 14,-12.16 15,-9.54 16,-6.81 17,-3.89 18,-.49 19,0"/>
<polyline class="c20" points="13,-.69 14,-8.1 15,-5.39 16,-3.07 17,-1.22 18,-.07 19,0"/>
<polyline class="c20" points="13,-2.27 14,-8.31 15,-5.79 16,-3.34 17,-.98 18,0"/>
<polyline class="c20" points="13,-1.77 14,-8.77 15,-4.7 16,-1.23 17,0"/>
<polyline class="c20" points="13,-1.57 14,-10.41 15,-7.5 16,-4.66 17,-1.94 18,0"/>
<polyline class="c20" points="13,-1.34 14,-9.23 15,-5.23 16,-1.7 17,0"/>
<polyline class="c20" points="13,-1.66 14,-10.88 15,-6.41 16,-2.88 17,-.53 18,0"/>
<polyline class="c20" points="13,-1.97 14,-12.51 15,-8.58 16,-4.66 17,-.73 18,0"/>
<polyline class="c20" points="13,-1.88 14,-10.86 15,-6.13 16,-1.56 17,0"/>
<polyline class="c20" points="13,-1.82 14,-10.14 15,-4.38 16,-.26 17,0"/>
<polyline class="c20" points="13,-.94 14,-8.6 15,-4.95 16,-2.05 17,-.19 18,0"/>
<polyline class="c20" points="13,-1.61 14,-9.33 15,-3.55 16,0"/>
<polyline class="c20" points="13,-1.83 14,-11.85 15,-6.12 16,0"/>
<polyline class="c20" points="13,-1.68 14,-9.66 15,-4.63 16,-.81 17,0"/>
<polyline class="c20" points="13,-.88 14,-10.98 15,-4.19 16,0"/>
<polyline class="c20" points="13,-1.05 14,-7.98 15,-4.28 16,-1.34 17,0"/>
<polyline class="c20" points="13,-2.13 14,-13.03 15,-8.03 16,-3.65 17,-.3 18,0"/>
<polyline class="c20" points="13,-1.84 14,-8.95 15,-6.6 16,-4.3 17,-2.06 18,0"/>
<polyline class="c20" points="13,-2.04 14,-9.51 15,-4.91 16,-1.34 17,0"/>
<polyline class="c20" points="13,-1.2 14,-8.03 15,-6.11 16,-4.19 17,-2.25 18,-.26 19,0"/>
<polyline class="c20" points="13,-1.51 14,-10.11 15,-6.19 16,-2.45 17,0"/>
<polyline class="c20" points="13,-.7 14,-9.92 15,-6.26 16,-2.95 17,-.29 18,0"/>
<polyline class="c20" points="13,-1.79 14,-12.53 15,-7.94 16,-4.01 17,-1.01 18,0"/>
<polyline class="c20" points="13,-2.07 14,-7.96 15,-4.63 16,-1.89 17,-.07 18,0"/>
<polyline class="c20" points="13,-.48 14,-8.62 15,-6.06 16,-3.62 17,-1.36 18,0"/>
<polyline class="c20" points="13,-1.96 14,-13.01 15,-3.6 16,0"/>
<polyline class="c20" points="13,-1.03 14,-12.63 15,-7.37 16,-2.84 17,0"/>
<polyline class="c20" points="13,-.62 14,-8.01 15,-5.92 16,-3.87 17,-1.87 18,0"/>
<polyline class="c20" points="13,-1.61 14,-8.58 15,-2.75 16,0"/>
<polyline class="c20" points="13,-.99 14,-8.53 15,-6.04 16,-3.69 17,-1.56 18,0"/>
<polyline class="c20" points="13,-1.22 14,-12.75 15,-5.57 16,-.78 17,0"/>
<polyline class="c20" points="13,-.8 14,-11.02 15,-6.07 16,-1.59 17,0"/>
<polyline class="c20" points="13,-.55 14,-11.71 15,-6.37 16,-2.18 17,0"/>
<polyline class="c20" points="13,-.49 14,-12.13 15,-8.83 16,-5.68 17,-2.76 18,-.26 19,0"/>
<polyline class="c20" points="13,-1.84 14,-12.62 15,-7.41 16,-3.26 17,-.51 18,0"/>
<polyline class="c20" points="13,-1.44 14,-9.26 15,-4.49 16,-1.04 17,0"/>
<polyline class="c20" points="13,-1.25 14,-8.78 15,-4.28 16,-1.13 17,0"/>
<polyline class="c20" points="13,-1.99 14,-9.65 15,-3.77 16,0"/>
<polyline class="c20" points="13,-.56 14,-9.05 15,-4.69 16,-1.5 17,0"/>
<polyline class="c20" points="13,-1.14 14,-9.91 15,-5.48 16,0"/>
<polyline class="c20" points="13,-1.95 14,-8.56 15,-3.33 16,0"/>
<polyline class="c20" points="13,-2.13 14,-10.23 15,-6.93 16,-3.76 17,-.8 18,0"/>
<polyline class="c20" points="13,-.48 14,-9.39 15,-5.42 16,-2.14 17,-.02 18,0"/>
<polyline class="c20" points="13,-1.7 14,-9.37 15,-5.66 16,-2.68 17,-.62 18,0"/>
<polyline class="c20" points="13,-2.01 14,-7.67 15,-4.29 16,-1.4 17,0"/>
<polyline class="c20" points="13,-.71 14,-12 15,-8.29 16,-4.82 17,-1.7 18,0"/>
<polyline class="c20" points="13,-1.17 14,-11.43 15,-6.82 16,-2.3 17,0"/>
<polyline class="c20" points="13,-1.03 14,-9.1 15,-6.22 16,-3.48 17,-.99 18,0"/>
<polyline class="c20" points="13,-1.96 14,-11.28 15,-8.08 16,-5.09 17,-2.38 18,-.19 19,0"/>
<polyline class="c20" points="13,-1.63 14,-11.99 15,-7.24 16,-2.98 17,0"/>
<polyline class="c20" points="13,-1.56 14,-11.03 15,-6.58 16,-2.79 17,-.11 18,0"/>
<polyline class="c20" points="13,-1.63 14,-8.79 15,-3.23 16,0"/>
<polyline class="c20" points="13,-1.02 14,-8.6 15,-4.42 16,-1.2 17,0"/>
<polyline class="c20" points="13,-.47 14,-8.73 15,-4.09 16,-.86 17,0"/>
<polyline class="c20" points="13,-1.96 14,-12.57 15,-7.74 16,-3.78 17,-.93 18,0"/>
<polyline class="c20" points="13,-1.61 14,-9.16 15,-5.53 16,-1.92 17,0"/>
<polyline class="c20" points="13,-1.24 14,-9.2 15,-2.31 16,0"/>
<polyline class="c20" points="13,-1.14 14,-10.54 15,-6.14 16,-2.51 17,-.11 18,0"/>
<polyline class="c20" points="13,-.84 14,-10.03 15,-6.04 16,-1.73 17,0"/>
<polyline class="c20" points="13,-1.77 14,-7.95 15,-3.86 16,-.71 17,0"/>
<polyline class="c20" points="13,-.99 14,-8.07 15,-4.26 16,-1.15 17,0"/>
<polyline class="c22" points="15,-.46 15.7,-.76 16,-10.32 16.4,-11.08 17,-11.08 18,-11.08 19,-11.08 20,-11.08 21,-11.08 22,-11.08 23,-11.08"/>
<polyline class="c36" points="19,-.46 20,-15.17 21,-15.17 22,-13.66 23,-9.41"/>
<polyline class="c50" points="19,-.46 20,-14.87 21,-14.87 22,-14.87 23,0"/>
<polyline class="c51" points="19,-.46 20,-9.41 21,-9.41 22,-9.41 23,-9.41"/>
<polyline class="c51" points="19,-.46 20,-14.42 21,-4.55 22,0 23,0"/>
<polyline class="c52" points="18,-.46 19,-.46 20,-12.14 21,-13.66 22,-7.59 23,0"/>
<polyline class="c38" points="19,-.46 20,-11.09 21,-9.38 22,0"/>
<polyline class="c38" points="19,-.46 20,-14.99 21,-14.14 22,0"/>
<polyline class="c38" points="19,-.46 20,-15.16 21,0"/>
<polyline class="c38" points="19,-.46 20,-8.38 21,-7.74 22,0"/>
<polyline class="c38" points="19,-.46 20,-9.43 21,-7.65 22,-6.71 23,-7.84"/>
<polyline class="c38" points="19,-.46 20,-11.03 21,0"/>
<polyline class="c38" points="19,-.46 20,-8.43 21,0"/>
<polyline class="c38" points="19,-.46 20,-10.23 21,-9.54 22,-9.91 23,0"/>
<polyline class="c38" points="19,-.46 20,-13.67 21,0"/>
<polyline class="c38" points="19,-.46 20,-10.6 21,-10.18 22,0"/>
<polyline class="c38" points="19,-.46 20,-12.29 21,-10.35 22,-8.76 23,-9.14"/>
<polyline class="c38" points="19,-.46 20,-8.41 21,0"/>
<polyline class="c38" points="19,-.46 20,-13.72 21,0"/>
<polyline class="c38" points="19,-.46 20,-14.87 21,-10.76 22,-12.87 23,0"/>
<polyline class="c38" points="19,-.46 20,-14.4 21,-10.72 22,0"/>
<polyline class="c38" points="19,-.46 20,-11.35 21,-11.14 22,-10.67 23,0"/>
<polyline class="c38" points="19,-.46 20,-13.44 21,-12.45 22,-12.5 23,0"/>
<polyline class="c38" points="19,-.46 20,-10.82 21,-10.49 22,0"/>
<polyline class="c38" points="19,-.46 20,-10.36 21,-8.34 22,-9.27 23,0"/>
<polyline class="c38" points="19,-.46 20,-9.12 21,-8.47 22,0"/>
<polyline class="c38" points="19,-.46 20,-8.58 21,0"/>
<polyline class="c38" points="19,-.46 20,-14.3 21,0"/>
<polyline class="c38" points="19,-.46 20,-12.66 21,0"/>
<polyline class="c38" points="19,-.46 20,-8.02 21,0"/>
<polyline class="c38" points="19,-.46 20,-14.59 21,-10.51 22,-14.43 23,-10.47"/>
<polyline class="c38" points="19,-.46 20,-9.37 21,0"/>
<polyline class="c38" points="19,-.46 20,-11.28 21,-10.01 22,-8.94 23,0"/>
<polyline class="c38" points="19,-.46 20,-7.25 21,0"/>
<polyline class="c38" points="19,-.46 20,-13.18 21,-10.63 22,-10.79 23,-12.27"/>
<polyline class="c38" points="19,-.46 20,-13.39 21,-12.01 22,-11.35 23,-10.22"/>
<polyline class="c38" points="19,-.46 20,-8.78 21,0"/>
<polyline class="c38" points="19,-.46 20,-12.16 21,-10.53 22,-9.87 23,0"/>
<polyline class="c38" points="19,-.46 20,-7.32 21,0"/>
<polyline class="c38" points="19,-.46 20,-5.58 21,-5.42 22,0"/>
<polyline class="c38" points="19,-.46 20,-14.67 21,-13.81 22,-11.28 23,0"/>
<polyline class="c38" points="19,-.46 20,-11.3 21,0"/>
<polyline class="c38" points="19,-.46 20,-8.95 21,-7.51 22,0"/>
<polyline class="c38" points="19,-.46 20,-13.72 21,-12.55 22,-10.04 23,-11.12"/>
<polyline class="c38" points="19,-.46 20,-9.52 21,0"/>
<polyline class="c38" points="19,-.46 20,-7.83 21,0"/>
<polyline class="c38" points="19,-.46 20,-14.7 21,-12.92 22,-11.16 23,0"/>
<polyline class="c38" points="19,-.46 20,-13.98 21,-11.8 22,0"/>
<polyline class="c38" points="19,-.46 20,-9.29 21,-7.51 22,-9.16 23,0"/>
<polyline class="c38" points="19,-.46 20,-11.06 21,-9.58 22,-10.36 23,0"/>
<polyline class="c38" points="19,-.46 20,-14.87 21,-10.58 22,0"/>
<polyline class="c38" points="19,-.46 20,-11.65 21,-10.78 22,0"/>
<polyline class="c38" points="19,-.46 20,-12.33 21,0"/>
<polyline class="c38" points="19,-.46 20,-9.59 21,0"/>
<polyline class="c38" points="19,-.46 20,-4.98 21,-4.64 22,0"/>
<polyline class="c38" points="19,-.46 20,-14.6 21,-11.95 22,-14.33 23,-14.44"/>
<polyline class="c38" points="19,-.46 20,-8.35 21,-7 22,-7.34 23,0"/>
<polyline class="c38" points="19,-.46 20,-9.14 21,0"/>
<polyline class="c38" points="19,-.46 20,-14.41 21,-13.54 22,0"/>
<polyline class="c38" points="19,-.46 20,-12.12 21,-9.62 22,-9.09 23,-11.66"/>
<polyline class="c38" points="19,-.46 20,-9.29 21,-9.04 22,-8.25 23,0"/>
<polyline class="c38" points="19,-.46 20,-9.97 21,-7.95 22,-9.2 23,-9.95"/>
<polyline class="c38" points="19,-.46 20,-10.21 21,-9.51 22,-8.55 23,0"/>
<polyline class="c38" points="19,-.46 20,-12.62 21,-9.78 22,-11.59 23,-9.45"/>
<polyline class="c38" points="19,-.46 20,-14.7 21,-12.92 22,0"/>
<polyline class="c38" points="19,-.46 20,-14.2 21,-11.15 22,-13.42 23,0"/>
<polyline class="c38" points="19,-.46 20,-10.23 21,-9.6 22,-9.65 23,0"/>
<polyline class="c38" points="19,-.46 20,-12.11 21,0"/>
<polyline class="c38" points="19,-.46 20,-10.31 21,-7.54 22,-9.33 23,0"/>
<polyline class="c38" points="19,-.46 20,-15.06 21,0"/>
<polyline class="c38" points="19,-.46 20,-14.02 21,-12.82 22,0"/>
<polyline class="c38" points="19,-.46 20,-13.89 21,-12.78 22,-10.6 23,-11.46"/>
<polyline class="c38" points="19,-.46 20,-13.16 21,-12.64 22,0"/>
<polyline class="c38" points="19,-.46 20,-11.8 21,-11.1 22,-10.38 23,-8.84"/>
<polyline class="c38" points="19,-.46 20,-14.61 21,-12.15 22,-11.42 23,-11.61"/>
<polyline class="c38" points="19,-.46 20,-12.8 21,-11.77 22,-9.18 23,0"/>
<polyline class="c38" points="19,-.46 20,-12 21,-8.72 22,0"/>
<polyline class="c38" points="19,-.46 20,-11.41 21,-8.35 22,0"/>
<polyline class="c38" points="19,-.46 20,-14.62 21,-12.75 22,0"/>
<polyline class="c38" points="19,-.46 20,-13.22 21,-11.24 22,0"/>
<polyline class="c38" points="19,-.46 20,-15.04 21,-12.24 22,-12.03 23,0"/>
<polyline class="c38" points="19,-.46 20,-12.55 21,0"/>
<polyline class="c38" points="19,-.46 20,-13.41 21,-9.39 22,-13.2 23,0"/>
<polyline class="c38" points="19,-.46 20,-6.47 21,-5.62 22,-5.19 23,-5.95"/>
<polyline class="c38" points="19,-.46 20,-11.2 21,-8.49 22,0"/>
<polyline class="c38" points="19,-.46 20,-8.08 21,-7.13 22,-7.2 23,-5.79"/>
</g>
<g transform="translate(402.22 368.04) scale(6.015)">
<polyline class="c8" points="5,0 6,-1.5 7,-3.12 8,-4.72 9,-6.96 10,-7.55 11,-4.16 12,-6.63 13,-7.12 14,-6.18 15,-4.2 16,-3.29 17,-1.22 18,0"/>
<polyline class="c8" points="5,0 6,-1.74 7,-3.03 8,-5.92 9,-3.64 10,-7.65 11,-10.57 12,-6.86 13,-7.65 14,-8.41 15,-6.04 16,-2.45 17,0"/>
<polyline class="c8" points="5,-.02 6,-1.35 7,-2.83 8,-3.37 9,-3.49 10,-7.09 11,-6.7 12,-9.34 13,-4.67 14,-7.45 15,-5.17 16,-3.13 17,-.46 18,0"/>
<polyline class="c8" points="5,0 6,-1.78 7,-2.9 8,-5.76 9,-7.89 10,-7.4 11,-6.63 12,-5.38 13,-7.25 14,-8.98 15,-6.29 16,-2.23 17,-.61 18,0"/>
<polyline class="c8" points="5,0 6,-2.51 7,-3.92 8,-5.61 9,-3.83 10,-3.74 11,-7.57 12,-5.91 13,-5.68 14,-7.77 15,-4.82 16,-1.63 17,-.15 18,0"/>
<polyline class="c8" points="4,0 5,-.04 6,-1.09 7,-1.29 8,-3.83 9,-2.58 10,-4.14 11,-5.38 12,-5.51 13,-5.18 14,-2.54 15,-2.85 16,-1.95 17,-.21 18,0"/>
<polyline class="c8" points="5,0 6,-1.15 7,-2.83 8,-4.41 9,-5.74 10,-6.7 11,-7.2 12,-7.22 13,-6.8 14,-5.96 15,-4.74 16,-3.15 17,-1.15 18,0"/>
<polyline class="c8" points="5,0 6,-1.38 7,-3.65 8,-4.29 9,-5.93 10,-4.94 11,-7.66 12,-10.17 13,-10.01 14,-7.01 15,-5.83 16,-3.4 17,-1.25 18,0"/>
<polyline class="c8" points="5,0 6,-.73 7,-1.38 8,-3.26 9,-6.01 10,-4.53 11,-7.45 12,-6.63 13,-5.02 14,-6.49 15,-2.75 16,-3.14 17,-.44 18,0"/>
<polyline class="c8" points="5,0 6,-1.05 7,-.91 8,-1.26 9,-2.07 10,-3.49 11,-3.76 12,-2.42 13,-3.44 14,-1.8 15,-1.59 16,-.64 17,0"/>
<polyline class="c8" points="5,0 6,-1.98 7,-3.87 8,-5.41 9,-6.63 10,-7.54 11,-8.13 12,-8.37 13,-8.09 14,-6.92 15,-5.04 16,-2.74 17,-.48 18,0"/>
<polyline class="c8" points="5,0 6,-1.26 7,-3.24 8,-4.98 9,-4.9 10,-7.38 11,-8.22 12,-5.53 13,-5.19 14,-4.22 15,-3.1 16,-2.85 17,0"/>
<polyline class="c8" points="5,0 6,-.71 7,-1.42 8,-2.01 9,-2.49 10,-2.84 11,-3.08 12,-3.17 13,-3.09 14,-2.69 15,-2.03 16,-1.14 17,-.11 18,0"/>
<polyline class="c8" points="5,0 6,-1.27 7,-3.28 8,-1.93 9,-4.75 10,-4.02 11,-6 12,-5.43 13,-3.08 14,-4.76 15,-3.19 16,-1.94 17,-.97 18,0"/>
<polyline class="c8" points="5,-.02 6,-.62 7,-2.4 8,-2.47 9,-2.71 10,-2.32 11,-4.64 12,-3.72 13,-4.4 14,-3.38 15,-2.34 16,-.82 17,-.33 18,0"/>
<polyline class="c8" points="5,0 6,-.32 7,-.92 8,-2.43 9,-2.92 10,-3.51 11,-2.9 12,-2.15 13,-4.02 14,-3.38 15,-2.2 16,-1.33 17,-.67 18,0"/>
<polyline class="c8" points="5,0 6,-1.16 7,-2.29 8,-3.22 9,-3.96 10,-4.49 11,-4.8 12,-4.89 13,-4.66 14,-4.05 15,-3.1 16,-1.82 17,0"/>
<polyline class="c8" points="5,0 6,-.7 7,-1.09 8,-1.53 9,-2.92 10,-4.09 11,-4.09 12,-4.26 13,-1.97 14,-1.34 15,-1.13 16,-.83 17,0"/>
<polyline class="c8" points="5,0 6,-1.44 7,-3.68 8,-4.05 9,-7.7 10,-5.28 11,-4.69 12,-9.98 13,-6.4 14,-4.09 15,-2.95 16,-2.31 17,0"/>
<polyline class="c8" points="5,-.01 6,-.26 7,-.45 8,-1.21 9,-1.53 10,-1.1 11,-2.33 12,-2.72 13,-1.19 14,-1.6 15,-1.02 16,-.42 17,-.1 18,0"/>
<polyline class="c8" points="5,0 6,-1.47 7,-2.42 8,-3.04 9,-4.44 10,-4.38 11,-4.69 12,-4.31 13,-3.61 14,-5.15 15,-1.62 16,-1.62 17,0"/>
<polyline class="c8" points="5,0 6,-.85 7,-1.79 8,-2.97 9,-3.88 10,-3.34 11,-2.98 12,-4.85 13,-2.78 14,-2.37 15,-2.7 16,-.76 17,-.21 18,0"/>
<polyline class="c8" points="5,0 6,-2.47 7,-3.24 8,-3.26 9,-5.15 10,-5.62 11,-7.07 12,-11.31 13,-7.7 14,-4.97 15,-4.32 16,-3.44 17,-.57 18,0"/>
<polyline class="c8" points="5,0 6,-.4 7,-1.36 8,-1.64 9,-1.76 10,-3.35 11,-3.18 12,-3.2 13,-3.09 14,-2.4 15,-1.61 16,-.77 17,0"/>
<polyline class="c8" points="4,0 5,-.04 6,-1.16 7,-4.09 8,-6 9,-6.73 10,-7.01 11,-8.41 12,-9.58 13,-8.94 14,-6.66 15,-5.48 16,-4.4 17,-1.41 18,0"/>
<polyline class="c8" points="5,0 6,-2.09 7,-3.25 8,-3.83 9,-3.04 10,-6.8 11,-7.68 12,-7.19 13,-4.74 14,-2.69 15,-4.43 16,-1.64 17,-.49 18,0"/>
<polyline class="c8" points="5,0 6,-1.3 7,-2.06 8,-4.28 9,-3.87 10,-9.8 11,-9.37 12,-4.7 13,-5.98 14,-7.3 15,-2.97 16,-1.57 17,-.63 18,0"/>
<polyline class="c8" points="5,0 6,-.46 7,-.94 8,-1.89 9,-2.6 10,-2.02 11,-3.12 12,-2.6 13,-1.46 14,-1.95 15,-2.09 16,-.79 17,0"/>
<polyline class="c8" points="5,0 6,-1.72 7,-2.77 8,-5.04 9,-5.01 10,-6.42 11,-6.88 12,-6.18 13,-5.14 14,-3.62 15,-3.6 16,-1.72 17,-.12 18,0"/>
<polyline class="c8" points="5,0 6,-2 7,-5.04 8,-4.23 9,-4.07 10,-9.83 11,-6.65 12,-9.32 13,-6.48 14,-6.51 15,-5.44 16,-2.46 17,-.21 18,0"/>
<polyline class="c8" points="5,0 6,-1.13 7,-4.28 8,-6.79 9,-7.86 10,-7.26 11,-11.07 12,-10.21 13,-6.02 14,-7.67 15,-5 16,-2.73 17,-1.63 18,0"/>
<polyline class="c8" points="5,0 6,-.93 7,-2.46 8,-3.23 9,-3.79 10,-5.67 11,-5.03 12,-4.7 13,-4.17 14,-4.35 15,-3.64 16,-1.48 17,-.74 18,0"/>
<polyline class="c8" points="4,0 5,-.08 6,-1.73 7,-4.25 8,-5.13 9,-6.61 10,-5.33 11,-5.22 12,-4.87 13,-7.98 14,-3.7 15,-3.78 16,-2.59 17,-.26 18,0"/>
<polyline class="c8" points="4,0 5,-.15 6,-1.59 7,-2.2 8,-5.56 9,-3.82 10,-3.49 11,-3.7 12,-3.71 13,-6.41 14,-6.1 15,-5.13 16,-3.83 17,-1.43 18,0"/>
<polyline class="c8" points="5,0 6,-.21 7,-.96 8,-.67 9,-1.27 10,-1.29 11,-1.37 12,-1.38 13,-1.8 14,-1.45 15,-1.31 16,-.7 17,-.13 18,0"/>
<polyline class="c8" points="4,0 5,-.1 6,-1.4 7,-3.81 8,-4.7 9,-4.22 10,-5.07 11,-6.52 12,-6.22 13,-6.05 14,-4.32 15,-4.2 16,-1.39 17,-.5 18,0"/>
<polyline class="c8" points="5,0 6,-.4 7,-1.39 8,-1.71 9,-2.71 10,-3.12 11,-2.67 12,-3.69 13,-3.88 14,-1.68 15,-1.11 16,-.8 17,-.29 18,0"/>
<polyline class="c8" points="5,0 6,-.64 7,-1.64 8,-4.34 9,-3.9 10,-6.66 11,-4.16 12,-6.15 13,-3.92 14,-4.11 15,-2.5 16,-1.53 17,-.08 18,0"/>
<polyline class="c8" points="5,0 6,-.83 7,-2.28 8,-3.66 9,-3.22 10,-7.96 11,-8.59 12,-4.62 13,-7.07 14,-7.41 15,-4.12 16,-2.18 17,-.8 18,0"/>
<polyline class="c8" points="5,0 6,-1.03 7,-2.59 8,-3.32 9,-2.32 10,-2.73 11,-2.77 12,-3.86 13,-3.5 14,-3.65 15,-3.17 16,-1.58 17,-.6 18,0"/>
<polyline class="c8" points="5,0 6,-2.19 7,-3.58 8,-4.67 9,-7.35 10,-5.22 11,-6.12 12,-5.19 13,-4.84 14,-5.72 15,-2.87 16,-2.04 17,-.43 18,0"/>
<polyline class="c8" points="5,0 6,-2.18 7,-3.99 8,-5.45 9,-6.58 10,-7.36 11,-7.78 12,-7.81 13,-7.32 14,-6.28 15,-4.73 16,-2.69 17,0"/>
<polyline class="c8" points="5,0 6,-1.78 7,-3.8 8,-5.68 9,-7.3 10,-8.59 11,-9.48 12,-9.92 13,-9.77 14,-8.53 15,-6.32 16,-3.51 17,-.68 18,0"/>
<polyline class="c8" points="5,0 6,-.96 7,-2.73 8,-4.27 9,-4.36 10,-5.05 11,-5.49 12,-4.26 13,-5.8 14,-3.45 15,-3.8 16,-2.58 17,-.33 18,0"/>
<polyline class="c8" points="5,0 6,-1.89 7,-2.98 8,-4.85 9,-3.39 10,-3.49 11,-7.87 12,-4.25 13,-5.37 14,-3.22 15,-3.2 16,-2.08 17,0"/>
<polyline class="c8" points="5,0 6,-.37 7,-1.45 8,-1.37 9,-2.8 10,-4.02 11,-2.95 12,-4.06 13,-2.38 14,-2.91 15,-1.81 16,-2 17,-.45 18,0"/>
<polyline class="c8" points="5,0 6,-.81 7,-3.29 8,-2.72 9,-3.32 10,-7.8 11,-4.63 12,-9.46 13,-5.69 14,-5.92 15,-4.65 16,-1.43 17,0"/>
<polyline class="c8" points="5,0 6,-1.88 7,-4.12 8,-6.28 9,-8.1 10,-9.43 11,-10.14 12,-10.15 13,-9.35 14,-7.81 15,-5.69 16,-3.22 17,-.77 18,0"/>
<polyline class="c8" points="5,0 6,-.77 7,-1.84 8,-2.81 9,-3.6 10,-4.15 11,-4.41 12,-4.37 13,-4.06 14,-3.48 15,-2.67 16,-1.65 17,-.45 18,0"/>
<polyline class="c8" points="5,0 6,-1.51 7,-2.9 8,-4.71 9,-8.48 10,-10.14 11,-8.76 12,-5.89 13,-10.45 14,-4.49 15,-5.89 16,-3.2 17,-.21 18,0"/>
<polyline class="c8" points="5,-.01 6,-.97 7,-1.37 8,-2.3 9,-3.67 10,-3.02 11,-4.98 12,-5.82 13,-2.78 14,-4.85 15,-2.19 16,-.9 17,-.12 18,0"/>
<polyline class="c8" points="5,0 6,-1.81 7,-3.83 8,-5.7 9,-7.3 10,-8.54 11,-9.35 12,-9.68 13,-9.24 14,-7.64 15,-5.12 16,-2.16 17,0"/>
<polyline class="c8" points="5,0 6,-.31 7,-.7 8,-1.06 9,-1.37 10,-1.61 11,-1.78 12,-1.86 13,-1.82 14,-1.63 15,-1.28 16,-.8 17,-.23 18,0"/>
<polyline class="c8" points="5,-.01 6,-1.25 7,-2.3 8,-2.02 9,-2.04 10,-2.19 11,-5.17 12,-3.3 13,-4.27 14,-4.5 15,-2.42 16,-1.45 17,-.15 18,0"/>
<polyline class="c8" points="4,0 5,-.03 6,-1.34 7,-2.6 8,-2.75 9,-5.53 10,-6.27 11,-7.23 12,-8.36 13,-5.29 14,-4.56 15,-4.53 16,-3.28 17,-.37 18,0"/>
<polyline class="c8" points="5,0 6,-1.07 7,-1.24 8,-2.52 9,-1.7 10,-3.6 11,-3.24 12,-3.19 13,-3.97 14,-2.9 15,-2.46 16,-1.39 17,-.17 18,0"/>
<polyline class="c8" points="5,0 6,-1.53 7,-3.74 8,-5.97 9,-7.99 10,-9.63 11,-10.76 12,-11.3 13,-11.12 14,-9.93 15,-7.74 16,-4.62 17,-.15 18,0"/>
<polyline class="c8" points="5,0 6,-2.9 7,-4.18 8,-3.24 9,-5.86 10,-4.73 11,-7.02 12,-9.5 13,-8.48 14,-5.32 15,-5.1 16,-1.99 17,-.43 18,0"/>
<polyline class="c8" points="5,0 6,-2.6 7,-3.65 8,-4.15 9,-7.51 10,-9.21 11,-8.44 12,-5.5 13,-9.74 14,-7.58 15,-5.28 16,-2.82 17,-1.2 18,0"/>
<polyline class="c8" points="5,0 6,-.71 7,-1.71 8,-3.36 9,-5.54 10,-4.21 11,-4.5 12,-6.52 13,-3.62 14,-6.58 15,-2.61 16,-2.62 17,0"/>
<polyline class="c8" points="5,0 6,-.74 7,-2.93 8,-3.11 9,-3.65 10,-5.77 11,-4.3 12,-7.24 13,-5.94 14,-5.85 15,-2.54 16,-1.76 17,0"/>
<polyline class="c8" points="4,0 5,-.08 6,-.79 7,-1.12 8,-2.6 9,-3.49 10,-2.17 11,-4.46 12,-3.49 13,-4.56 14,-2.32 15,-2.59 16,-1.37 17,0"/>
<polyline class="c8" points="5,0 6,-1.62 7,-3.57 8,-3.44 9,-5.76 10,-5.7 11,-4.76 12,-9.45 13,-7.68 14,-7.92 15,-3.23 16,-3.32 17,-.64 18,0"/>
<polyline class="c8" points="5,-.02 6,-.59 7,-1.06 8,-1.31 9,-1.82 10,-1.31 11,-2.54 12,-1.7 13,-1.34 14,-1.6 15,-.9 16,-1.13 17,-.23 18,0"/>
<polyline class="c8" points="4,0 5,-.07 6,-1.65 7,-3.46 8,-5.18 9,-6.65 10,-7.73 11,-8.34 12,-8.41 13,-7.84 14,-6.62 15,-4.81 16,-2.49 17,0"/>
<polyline class="c8" points="5,0 6,-1.23 7,-4.7 8,-4.48 9,-5.92 10,-6.49 11,-4.7 12,-7.38 13,-7.18 14,-4.92 15,-3.97 16,-1.28 17,0"/>
<polyline class="c8" points="5,0 6,-.95 7,-1.59 8,-1.35 9,-3.85 10,-2.33 11,-3.45 12,-4.64 13,-4.33 14,-3.36 15,-3.49 16,-.98 17,-.36 18,0"/>
<polyline class="c8" points="5,0 6,-2.45 7,-4.55 8,-6.34 9,-7.81 10,-8.92 11,-9.67 12,-10.02 13,-9.88 14,-8.84 15,-6.91 16,-4.16 17,-.21 18,0"/>
<polyline class="c8" points="5,0 6,-.75 7,-1.39 8,-2 9,-2.79 10,-2.73 11,-3.18 12,-1.94 13,-3.36 14,-3.11 15,-1.07 16,-.56 17,0"/>
<polyline class="c8" points="5,0 6,-.93 7,-3.26 8,-4.92 9,-7.35 10,-8.25 11,-9.49 12,-7.93 13,-7.07 14,-8.48 15,-5.9 16,-2.79 17,-.13 18,0"/>
<polyline class="c8" points="5,0 6,-1.07 7,-1.05 8,-3.52 9,-4.1 10,-5.09 11,-3.06 12,-5.59 13,-2.56 14,-4.36 15,-1.88 16,-1.4 17,-.13 18,0"/>
<polyline class="c8" points="5,0 6,-1.27 7,-1.48 8,-1.98 9,-4.5 10,-4.65 11,-6.33 12,-5.69 13,-3.47 14,-1.96 15,-3.2 16,-.87 17,0"/>
<polyline class="c8" points="4,0 5,-.03 6,-.45 7,-.72 8,-.76 9,-.77 10,-1.08 11,-.78 12,-1.49 13,-1.65 14,-.71 15,-.51 16,-.55 17,-.12 18,0"/>
<polyline class="c8" points="4,0 5,-.06 6,-1.1 7,-1.59 8,-4.38 9,-3.35 10,-3.01 11,-7.37 12,-4.77 13,-6.37 14,-6.89 15,-2.64 16,-1.8 17,-1.01 18,0"/>
<polyline class="c8" points="5,0 6,-1.41 7,-2.35 8,-2.46 9,-3.73 10,-7.94 11,-8.02 12,-10.31 13,-6.62 14,-5.43 15,-5.76 16,-3.26 17,0"/>
<polyline class="c8" points="5,0 6,-1.17 7,-3.94 8,-4.82 9,-6.17 10,-3.93 11,-5.11 12,-8.21 13,-8.78 14,-6.15 15,-4.85 16,-1.09 17,0"/>
<polyline class="c8" points="5,0 6,-1.44 7,-2.85 8,-3.02 9,-4.65 10,-3.89 11,-6.3 12,-4.56 13,-8.05 14,-8.14 15,-6.06 16,-1.81 17,-1.02 18,0"/>
<polyline class="c8" points="5,0 6,-2.07 7,-4.45 8,-5.25 9,-4.93 10,-6.4 11,-9.1 12,-7.13 13,-10.09 14,-6.35 15,-4.07 16,-3.41 17,-.1 18,0"/>
<polyline class="c8" points="5,0 6,-1.26 7,-2.37 8,-2.16 9,-3.36 10,-5.4 11,-5.92 12,-7.5 13,-6.55 14,-3.71 15,-2.37 16,-1.26 17,-.16 18,0"/>
<polyline class="c8" points="5,0 6,-.38 7,-1.06 8,-1.65 9,-2 10,-2.57 11,-1.74 12,-1.79 13,-2.83 14,-2.07 15,-1.59 16,-.68 17,-.06 18,0"/>
<polyline class="c8" points="5,0 6,-2.29 7,-4.12 8,-5.6 9,-6.76 10,-7.6 11,-8.09 12,-8.23 13,-7.76 14,-6.54 15,-4.69 16,-2.37 17,0"/>
<polyline class="c8" points="5,0 6,-.89 7,-1.15 8,-2.03 9,-2.51 10,-2.92 11,-6.48 12,-6.36 13,-5.62 14,-5.3 15,-3.82 16,-2.2 17,-.32 18,0"/>
<polyline class="c8" points="4,0 5,-.04 6,-1.62 7,-1.75 8,-2.22 9,-4.22 10,-4.55 11,-4.72 12,-6.34 13,-3.76 14,-4.57 15,-4.4 16,-2.55 17,-.68 18,0"/>
<polyline class="c8" points="5,0 6,-1.27 7,-2.43 8,-5.66 9,-6.94 10,-8.01 11,-5.59 12,-9.84 13,-7.32 14,-5.79 15,-2.76 16,-1.41 17,0"/>
<polyline class="c8" points="5,0 6,-1.49 7,-3.45 8,-5.38 9,-7.12 10,-8.5 11,-9.43 12,-9.85 13,-9.62 14,-8.55 15,-6.7 16,-4.2 17,-1.12 18,0"/>
<polyline class="c8" points="5,0 6,-1.11 7,-2.42 8,-5.04 9,-5.4 10,-8.98 11,-8.26 12,-8.84 13,-8.51 14,-7.38 15,-6.03 16,-3.04 17,-.33 18,0"/>
<polyline class="c8" points="4,0 5,-.06 6,-1.08 7,-2.38 8,-6.73 9,-8.07 10,-5.43 11,-7.63 12,-6.13 13,-5.31 14,-6.5 15,-5.56 16,-2.67 17,-.52 18,0"/>
<polyline class="c8" points="5,0 6,-.7 7,-2.16 8,-3.4 9,-2.63 10,-6.65 11,-5.76 12,-4.55 13,-2.87 14,-5.26 15,-4.2 16,-1.53 17,-.11 18,0"/>
<polyline class="c8" points="5,0 6,-2.1 7,-5.9 8,-3.61 9,-7.44 10,-7.95 11,-11.66 12,-5.52 13,-9.47 14,-7.82 15,-3.33 16,-1.71 17,-.49 18,0"/>
<polyline class="c8" points="5,0 6,-1.16 7,-2.71 8,-4.23 9,-5.54 10,-6.53 11,-7.1 12,-7.18 13,-6.58 14,-5.32 15,-3.56 16,-1.55 17,0"/>
<polyline class="c8" points="5,0 6,-.42 7,-1.32 8,-2.28 9,-4.53 10,-3.96 11,-5.73 12,-4.66 13,-6.34 14,-4.6 15,-4.76 16,-2.55 17,-1.15 18,0"/>
<polyline class="c8" points="5,0 6,-1.24 7,-3.26 8,-3.79 9,-6.23 10,-3.84 11,-4.13 12,-10.27 13,-6.26 14,-7.43 15,-4.67 16,-1.53 17,-.16 18,0"/>
<polyline class="c8" points="5,0 6,-1.09 7,-4.3 8,-4.03 9,-6.93 10,-8.32 11,-6.07 12,-8.51 13,-9.41 14,-5.19 15,-7.62 16,-2.62 17,-1.95 18,0"/>
<polyline class="c8" points="5,0 6,-1.17 7,-2.53 8,-3.74 9,-4.75 10,-5.54 11,-6.07 12,-6.33 13,-6.2 14,-5.38 15,-3.9 16,-1.91 17,0"/>
<polyline class="c8" points="5,0 6,-.94 7,-2.03 8,-3.02 9,-3.84 10,-4.41 11,-4.7 12,-4.68 13,-4.33 14,-3.66 15,-2.69 16,-1.45 17,0"/>
<polyline class="c8" points="5,0 6,-.91 7,-2.2 8,-1.83 9,-4.37 10,-4.3 11,-5.19 12,-3.12 13,-4.17 14,-5.82 15,-4.02 16,-1.71 17,-.37 18,0"/>
<polyline class="c8" points="4,0 5,-.03 6,-.59 7,-1.2 8,-1.82 9,-2.68 10,-1.95 11,-1.91 12,-1.94 13,-2.39 14,-2.76 15,-1.84 16,-1.11 17,0"/>
<polyline class="c8" points="5,0 6,-1.34 7,-2.61 8,-5.08 9,-6.15 10,-7.02 11,-9.36 12,-4.44 13,-3.99 14,-8.44 15,-4.85 16,-3.03 17,0"/>
<polyline class="c8" points="5,0 6,-.58 7,-1.31 8,-4.6 9,-5.01 10,-3.75 11,-3.58 12,-9.18 13,-8.44 14,-3.57 15,-5.16 16,-2.72 17,-1.01 18,0"/>
<polyline class="c8" points="5,0 6,-3.6 7,-6.46 8,-8.71 9,-10.4 10,-11.5 11,-11.99 12,-11.76 13,-10.58 14,-8.57 15,-5.94 16,-3.02 17,-.31 18,0"/>
<polyline class="c8" points="4,0 5,-.2 6,-2.44 7,-2.14 8,-5.47 9,-3.4 10,-8.31 11,-7.17 12,-5.75 13,-7.82 14,-4.74 15,-2.54 16,-3.05 17,0"/>
<polyline class="c8" points="5,0 6,-.38 7,-1.83 8,-1.7 9,-2.6 10,-3.13 11,-3.22 12,-2.83 13,-2.88 14,-1.33 15,-1.77 16,-1.31 17,-.17 18,0"/>
<polyline class="c8" points="5,0 6,-1.06 7,-2.07 8,-3.57 9,-3.23 10,-3.16 11,-6.16 12,-4.04 13,-5.87 14,-2.54 15,-2.97 16,-1.83 17,-.32 18,0"/>
<polyline class="c8" points="5,0 6,-2.5 7,-3.88 8,-3.51 9,-9.6 10,-8.86 11,-10.99 12,-6.97 13,-6 14,-6.26 15,-2.59 16,-1.81 17,0"/>
<polyline class="c8" points="4,0 5,-.1 6,-2.17 7,-4.42 8,-6.55 9,-8.38 10,-9.77 11,-10.62 12,-10.87 13,-10.19 14,-8.43 15,-5.82 16,-2.7 17,0"/>
<polyline class="c8" points="5,0 6,-1.7 7,-3.87 8,-5.92 9,-7.69 10,-9.06 11,-9.93 12,-10.26 13,-9.81 14,-8.35 15,-6.06 16,-3.25 17,-.37 18,0"/>
<polyline class="c8" points="5,0 6,-1.49 7,-3.63 8,-5.76 9,-7.65 10,-9.13 11,-10.09 12,-10.43 13,-9.96 14,-8.54 15,-6.35 16,-3.67 17,-.93 18,0"/>
<polyline class="c8" points="5,0 6,-1.44 7,-3.28 8,-4.94 9,-6.29 10,-7.21 11,-7.63 12,-7.56 13,-7.04 14,-6.11 15,-4.79 16,-3.11 17,-1.04 18,0"/>
<polyline class="c8" points="5,0 6,-1.44 7,-2.21 8,-2.29 9,-4.89 10,-5.21 11,-7.63 12,-7.44 13,-4.85 14,-4.45 15,-2.54 16,-1.23 17,0"/>
<polyline class="c8" points="5,0 6,-1.2 7,-2.6 8,-3.89 9,-4.98 10,-5.8 11,-6.3 12,-6.46 13,-6.11 14,-5.18 15,-3.78 16,-2.1 17,-.42 18,0"/>
<polyline class="c8" points="5,0 6,-2.52 7,-5.33 8,-7.73 9,-9.64 10,-10.97 11,-11.65 12,-11.62 13,-10.72 14,-8.97 15,-6.5 16,-3.44 17,0"/>
<polyline class="c8" points="5,0 6,-1.22 7,-2.26 8,-3.98 9,-8.91 10,-9.07 11,-11.15 12,-9.92 13,-8.38 14,-8.77 15,-6.09 16,-2.96 17,-.65 18,0"/>
<polyline class="c8" points="5,0 6,-1.93 7,-3.1 8,-5.59 9,-8.09 10,-4.59 11,-6.16 12,-5.22 13,-6.95 14,-8.2 15,-7.59 16,-3.69 17,-.15 18,0"/>
<polyline class="c8" points="5,-.01 6,-1.85 7,-4.41 8,-5.55 9,-5.55 10,-7.19 11,-6.66 12,-8.66 13,-6.95 14,-7.51 15,-4.42 16,-1.27 17,0"/>
<polyline class="c8" points="5,0 6,-1.77 7,-2.2 8,-6.23 9,-7.13 10,-8.33 11,-5.16 12,-9.54 13,-9.5 14,-7.87 15,-2.75 16,-1.12 17,0"/>
<polyline class="c8" points="5,0 6,-1.56 7,-3.16 8,-4.62 9,-5.88 10,-6.86 11,-7.53 12,-7.84 13,-7.67 14,-6.67 15,-4.89 16,-2.53 17,0"/>
<polyline class="c8" points="5,0 6,-.74 7,-1.7 8,-2.62 9,-3.44 10,-4.11 11,-4.57 12,-4.81 13,-4.74 14,-4.05 15,-2.8 16,-1.23 17,0"/>
<polyline class="c8" points="5,0 6,-1.33 7,-2.37 8,-3.81 9,-5.13 10,-5.6 11,-3.76 12,-5.72 13,-7.83 14,-4.83 15,-5 16,-1.46 17,-.19 18,0"/>
<polyline class="c8" points="5,0 6,-.99 7,-2.36 8,-3.65 9,-6.18 10,-3.27 11,-3.4 12,-6.88 13,-3.81 14,-6.45 15,-2.54 16,-2.34 17,-.22 18,0"/>
<polyline class="c8" points="5,0 6,-1.3 7,-2.92 8,-4.45 9,-5.79 10,-6.85 11,-7.56 12,-7.88 13,-7.65 14,-6.44 15,-4.43 16,-1.94 17,0"/>
<polyline class="c8" points="5,0 6,-1.6 7,-3.67 8,-5.16 9,-5.08 10,-5.39 11,-9.14 12,-6.32 13,-9.89 14,-7.68 15,-3.37 16,-2.3 17,-1.33 18,0"/>
<polyline class="c8" points="5,0 6,-.88 7,-.97 8,-1.45 9,-2.45 10,-1.77 11,-1.64 12,-2.95 13,-2.7 14,-2.78 15,-1.44 16,-.84 17,-.41 18,0"/>
<polyline class="c8" points="5,0 6,-.72 7,-2.06 8,-2.49 9,-3.52 10,-5.07 11,-5.33 12,-2.7 13,-3.74 14,-2.24 15,-2.69 16,-.7 17,-.46 18,0"/>
<polyline class="c8" points="4,0 5,-.04 6,-1.29 7,-1.89 8,-6.58 9,-6.76 10,-6.08 11,-6.37 12,-8.43 13,-7.49 14,-7.67 15,-3.16 16,-1.72 17,-.02"/>
<polyline class="c8" points="5,0 6,-1.46 7,-1.42 8,-2.87 9,-2.29 10,-5.16 11,-6.31 12,-3.96 13,-3.51 14,-4.19 15,-3.61 16,-1.55 17,-.2 18,0"/>
<polyline class="c8" points="5,0 6,-.9 7,-1.94 8,-2.92 9,-3.76 10,-4.41 11,-4.84 12,-5 13,-4.78 14,-3.99 15,-2.75 16,-1.29 17,0"/>
<polyline class="c8" points="5,0 6,-1.63 7,-2.38 8,-5.28 9,-8.26 10,-7.55 11,-5.59 12,-9.48 13,-9.52 14,-7.14 15,-4.65 16,-1.54 17,-.05 18,0"/>
<polyline class="c8" points="5,0 6,-.74 7,-1.55 8,-2.93 9,-1.84 10,-4.21 11,-3.89 12,-4.4 13,-4.68 14,-2.67 15,-1.89 16,-.97 17,-.25 18,0"/>
<polyline class="c8" points="5,-.01 6,-.66 7,-1.95 8,-2.76 9,-3.63 10,-3.31 11,-5.83 12,-3.54 13,-3.22 14,-2.46 15,-4.59 16,-2.74 17,-.95 18,0"/>
<polyline class="c8" points="4,0 5,-.11 6,-2.3 7,-4.25 8,-5.94 9,-7.31 10,-8.31 11,-8.89 12,-9.03 13,-8.58 14,-7.47 15,-5.79 16,-3.63 17,-1.08 18,0"/>
<polyline class="c8" points="4,0 5,-.06 6,-1.73 7,-4.8 8,-2.9 9,-8.21 10,-4.92 11,-7.63 12,-9.17 13,-6.48 14,-7.62 15,-4.54 16,-2.11 17,-.09 18,0"/>
<polyline class="c8" points="5,0 6,-.3 7,-.79 8,-2.52 9,-1.99 10,-2.23 11,-4.79 12,-3.56 13,-3.85 14,-2.05 15,-2.89 16,-1.64 17,-.13 18,0"/>
<polyline class="c8" points="5,0 6,-.24 7,-.47 8,-.61 9,-.76 10,-.77 11,-1.89 12,-1.57 13,-1.33 14,-.99 15,-.89 16,-.52 17,0"/>
<polyline class="c8" points="5,0 6,-.86 7,-3.07 8,-4.65 9,-3.55 10,-7.33 11,-8.19 12,-4.21 13,-6.6 14,-4.74 15,-3.23 16,-1.3 17,0"/>
<polyline class="c8" points="5,0 6,-1.81 7,-3.25 8,-2.99 9,-5.08 10,-4.08 11,-4.64 12,-4.65 13,-2.72 14,-3.72 15,-2.53 16,-1.08 17,-.06 18,0"/>
<polyline class="c8" points="5,0 6,-.58 7,-1.11 8,-.83 9,-1.43 10,-1.28 11,-1.61 12,-2.59 13,-1.08 14,-1.5 15,-1.18 16,-.48 17,-.1 18,0"/>
<polyline class="c8" points="5,0 6,-.29 7,-1.08 8,-1.27 9,-1.39 10,-2.77 11,-2.21 12,-3.39 13,-2.31 14,-2.53 15,-1.04 16,-.95 17,-.14 18,0"/>
<polyline class="c8" points="5,0 6,-2.8 7,-5.52 8,-7.89 9,-9.78 10,-11.06 11,-11.67 12,-11.54 13,-10.63 14,-8.99 15,-6.67 16,-3.75 17,-.02"/>
<polyline class="c8" points="5,0 6,-1 7,-1.29 8,-2.19 9,-3.39 10,-3.6 11,-4.68 12,-2.68 13,-3.97 14,-2.22 15,-3.1 16,-1.42 17,-.22 18,0"/>
<polyline class="c8" points="5,0 6,-.42 7,-1.36 8,-2.33 9,-2 10,-4.22 11,-2.49 12,-2.45 13,-3.52 14,-4.62 15,-1.86 16,-2.31 17,-.6 18,0"/>
<polyline class="c8" points="5,0 6,-.97 7,-1.67 8,-1.54 9,-2.12 10,-1.91 11,-2.86 12,-1.53 13,-2.62 14,-1.6 15,-1.69 16,-.99 17,0"/>
<polyline class="c8" points="5,0 6,-2.39 7,-4.6 8,-6.5 9,-7.99 10,-9 11,-9.46 12,-9.37 13,-8.74 14,-7.59 15,-5.96 16,-3.89 17,-1.32 18,0"/>
<polyline class="c8" points="5,0 6,-.28 7,-.56 8,-1.06 9,-.73 10,-1.5 11,-1.13 12,-1.74 13,-1.49 14,-1.1 15,-1.04 16,-.41 17,-.14 18,0"/>
<polyline class="c8" points="5,0 6,-.74 7,-2.1 8,-1.89 9,-2.33 10,-3.57 11,-2.59 12,-2.18 13,-4.39 14,-1.91 15,-1.38 16,-.86 17,0"/>
<polyline class="c8" points="4,0 5,-.05 6,-1.42 7,-3.51 8,-5.33 9,-5.43 10,-7.89 11,-6.59 12,-5.42 13,-4.28 14,-5.8 15,-2.74 16,-2.13 17,-.04 18,0"/>
<polyline class="c8" points="5,0 6,-1.05 7,-2.8 8,-2.55 9,-4.85 10,-4.9 11,-6.61 12,-6.13 13,-8.5 14,-3.43 15,-3.6 16,-3.29 17,-.49 18,0"/>
<polyline class="c8" points="5,-.03 6,-1.55 7,-1.69 8,-4.7 9,-5.6 10,-3.9 11,-7.6 12,-8.99 13,-6.71 14,-3.48 15,-3.34 16,-2.25 17,-.05 18,0"/>
<polyline class="c8" points="5,0 6,-.99 7,-1.85 8,-2.59 9,-3.21 10,-3.67 11,-3.96 12,-4.07 13,-3.91 14,-3.38 15,-2.52 16,-1.44 17,-.26 18,0"/>
<polyline class="c8" points="5,0 6,-1.56 7,-3 8,-4.19 9,-5.12 10,-5.77 11,-6.14 12,-6.19 13,-5.85 14,-5.1 15,-3.98 16,-2.52 17,-.67 18,0"/>
<polyline class="c8" points="5,0 6,-.74 7,-2.38 8,-2.91 9,-5.85 10,-5.62 11,-6.49 12,-6.76 13,-7.19 14,-4.26 15,-2.6 16,-1.54 17,0"/>
<polyline class="c15" points="6,0 7,-.05 8,-2.69 9,-8.77 10,-2.91"/>
<polyline class="c15" points="4,0 5,-.23 6,-1.28 7,-3.52 8,-6.34 9,-9.6 10,-2.17"/>
<polyline class="c15" points="3,0 4,-.18 5,-.14 6,-1.35 7,-3.31 8,-5.83 9,-8.86 10,-1.45"/>
<polyline class="c15" points="8,0 9,-7.81 10,-4.22"/>
<polyline class="c15" points="5,0 6,-.35 7,-1.46 8,-5.34 9,-10.2 10,-4.46"/>
<polyline class="c15" points="3,0 4,-.29 5,-.05 6,-1.11 7,-3.04 8,-5.64 9,-8.83 10,-5.17"/>
<polyline class="c15" points="7,0 8,-.24 9,-10.38 10,-2.75"/>
<polyline class="c15" points="6,0 7,-.24 8,-3.86 9,-10.74 10,-4.77"/>
<polyline class="c15" points="4,0 5,-.06 6,-1.55 7,-3.85 8,-6.66 9,-9.87 10,-4.43"/>
<polyline class="c15" points="6,0 7,-.14 8,-.04 9,-10.82 10,-1.86"/>
<polyline class="c15" points="4,0 5,-.2 6,-.53 7,-2.11 8,-4.67 9,-8.16 10,-3.47"/>
<polyline class="c15" points="5,0 6,-.35 7,-1.13 8,-5.17 9,-10.33 10,-1.47"/>
<polyline class="c15" points="4,0 5,-.07 6,-1.65 7,-3.8 8,-6.26 9,-8.97 10,-5.22"/>
<polyline class="c15" points="4,0 5,-.34 6,-.4 7,-2.73 8,-6.01 9,-9.96 10,-4.28"/>
<polyline class="c15" points="6,0 7,-.36 8,-3.85 9,-8.7 10,-3.67"/>
<polyline class="c15" points="4,0 5,-.24 6,-1.84 7,-4.4 8,-7.28 9,-10.39 10,-1.93"/>
<polyline class="c15" points="5,0 6,-.07 7,-3.4 8,-7.35 9,-11.59 10,-4.15"/>
<polyline class="c15" points="4,0 5,-.28 6,-.11 7,-2.16 8,-5.91 9,-11.04 10,-4.93"/>
<polyline class="c15" points="4,0 5,-.22 6,-1.23 7,-4.19 8,-7.63 9,-11.38 10,-3.07"/>
<polyline class="c15" points="6,0 7,-.7 8,-4.74 9,-10.15 10,-3.98"/>
<polyline class="c15" points="4,0 5,-.03 6,-.21 7,-2.13 8,-5.75 9,-10.9 10,-4.75"/>
<polyline class="c15" points="4,0 5,-.2 6,-1.25 7,-3.59 8,-6.54 9,-9.98 10,-4.74"/>
<polyline class="c15" points="5,0 6,-.16 7,-.01 8,-4.02 9,-10.54 10,-1.64"/>
<polyline class="c15" points="6,0 7,-.34 8,-1.05 9,-8.28 10,-2.52"/>
<polyline class="c15" points="4,0 5,-.08 6,-1.37 7,-3.79 8,-6.78 9,-10.19 10,-2.71"/>
<polyline class="c15" points="6,0 7,-.08 8,-2.71 9,-10.88 10,-1.34"/>
<polyline class="c15" points="4,0 5,-.24 6,-.58 7,-2.79 8,-6.15 9,-10.45 10,-2.86"/>
<polyline class="c15" points="6,0 7,-.26 8,-1.16 9,-9.66 10,-4.92"/>
<polyline class="c15" points="4,0 5,-.1 6,-1.35 7,-3.42 8,-5.84 9,-8.52 10,-3.26"/>
<polyline class="c15" points="3,0 4,-.05 5,-.09 6,-.99 7,-2.65 8,-4.95 9,-7.84 10,-1.69"/>
<polyline class="c15" points="5,0 6,-.11 7,-.47 8,-3.15 9,-7.79 10,-5.13"/>
<polyline class="c15" points="5,0 6,-.01 7,-.34 8,-3.69 9,-9.74 10,-3.53"/>
<polyline class="c15" points="3,0 4,-.36 5,-.22 6,-1.81 7,-3.8 8,-6.04 9,-8.47 10,-3.91"/>
<polyline class="c15" points="4,0 5,-.07 6,-.99 7,-3.07 8,-5.44 9,-7.99 10,-5.09"/>
<polyline class="c15" points="5,0 6,-.01 7,-1.24 8,-3.86 9,-7.63 10,-2.76"/>
<polyline class="c15" points="7,0 8,-.14 9,-8.95 10,-1.59"/>
<polyline class="c15" points="7,0 8,-3.15 9,-9.43 10,-4.72"/>
<polyline class="c15" points="7,0 8,-.07 9,-8 10,-4.13"/>
<polyline class="c15" points="6,0 7,-1.52 8,-4.34 9,-7.9 10,-2.36"/>
<polyline class="c15" points="3,0 4,-.21 5,-.27 6,-2.01 7,-4.28 8,-6.88 9,-9.73 10,-4.97"/>
<polyline class="c15" points="5,0 6,-.31 7,-2.08 8,-5.18 9,-9.51 10,-5.28"/>
<polyline class="c15" points="6,0 7,-.75 8,-3.82 9,-9.19 10,-2.24"/>
<polyline class="c15" points="5,0 6,-.7 7,-2.71 8,-5.91 9,-10.26 10,-1.37"/>
<polyline class="c15" points="4,0 5,-.09 6,-1.76 7,-4.19 8,-7.08 9,-10.34 10,-3.18"/>
<polyline class="c15" points="5,0 6,-1.25 7,-4.15 8,-7.4 9,-10.86 10,-2.4"/>
<polyline class="c15" points="5,0 6,-.27 7,-.16 8,-3.46 9,-10.68 10,-1.77"/>
<polyline class="c15" points="5,0 6,0 7,-1.14 8,-4.07 9,-8.66 10,-4.34"/>
<polyline class="c15" points="7,0 8,-1.47 9,-10.22 10,-5.3"/>
<polyline class="c15" points="4,0 5,-.34 6,-.4 7,-2.89 8,-6.22 9,-10.09 10,-4.04"/>
<polyline class="c15" points="5,0 6,-.34 7,-.88 8,-4.11 9,-9.68 10,-1.38"/>
<polyline class="c15" points="7,0 8,-.44 9,-10.32 10,-3.28"/>
<polyline class="c15" points="6,0 7,-.69 8,-5.37 9,-10.9 10,-3.63"/>
<polyline class="c15" points="5,0 6,-.29 7,-1.42 8,-6.13 9,-11.52 10,-3.25"/>
<polyline class="c15" points="5,0 6,-.05 7,-.81 8,-3.69 9,-7.85 10,-2.05"/>
<polyline class="c15" points="8,0 9,-10.35 10,-1.69"/>
<polyline class="c15" points="5,0 6,-.02 7,-.82 8,-4.01 9,-8.73 10,-4.39"/>
<polyline class="c15" points="7,0 8,-2.13 9,-7.69 10,-1.4"/>
<polyline class="c15" points="5,0 6,-.22 7,-.26 8,-3.98 9,-10.99 10,-2.07"/>
<polyline class="c15" points="6,0 7,-.23 8,-3.61 9,-10.24 10,-1.25"/>
<polyline class="c15" points="4,0 5,-.21 6,-1.34 7,-3.88 8,-6.93 9,-10.36 10,-5.01"/>
<polyline class="c15" points="4,0 5,-.19 6,-.46 7,-2.68 8,-5.95 9,-10.02 10,-3.6"/>
<polyline class="c15" points="5,0 6,-.11 7,-.46 8,-4.54 9,-10.94 10,-2.07"/>
<polyline class="c15" points="5,0 6,-.5 7,-2.41 8,-5.02 9,-8.13 10,-1.94"/>
<polyline class="c15" points="8,0 9,-9.61 10,-3.67"/>
<polyline class="c15" points="7,0 8,-1.2 9,-9.54 10,-3.58"/>
<polyline class="c15" points="3,0 4,-.09 5,-.07 6,-.99 7,-2.88 8,-5.69 9,-9.38 10,-1.53"/>
<polyline class="c15" points="5,0 6,-.35 7,0 8,-3.81 9,-9.55 10,-1.67"/>
<polyline class="c15" points="6,0 7,-.22 8,-1.25 9,-8.67 10,-2.84"/>
<polyline class="c15" points="6,0 7,-.03 8,-4.2 9,-10.61 10,-2.34"/>
<polyline class="c15" points="7,0 8,-3.53 9,-11.06 10,-4.32"/>
<polyline class="c15" points="4,0 5,-.31 6,-1.11 7,-3.03 8,-5.36 9,-8.01 10,-4.91"/>
<polyline class="c15" points="3,0 4,-.11 5,-.21 6,-2.18 7,-4.49 8,-6.96 9,-9.56 10,-1.9"/>
<polyline class="c15" points="4,0 5,-.18 6,-.19 7,-1.89 8,-4.49 9,-7.73 10,-3.52"/>
<polyline class="c15" points="5,0 6,-.35 7,-2.02 8,-5.02 9,-9.34 10,-2.92"/>
<polyline class="c15" points="4,0 5,-.08 6,-.8 7,-2.9 8,-5.82 9,-9.43 10,-4.85"/>
<polyline class="c15" points="5,0 6,-.99 7,-3.36 8,-6.8 9,-11.19 10,-5.03"/>
<polyline class="c15" points="6,0 7,-.06 8,-.22 9,-8.65 10,-4.13"/>
<polyline class="c15" points="6,0 7,-.18 8,-1.77 9,-8.95 10,-4.74"/>
<polyline class="c15" points="7,0 8,-1.67 9,-7.92 10,-4.71"/>
<polyline class="c15" points="5,0 6,-.19 7,-.38 8,-4.5 9,-9.18 10,-2.15"/>
<polyline class="c15" points="5,0 6,-.05 7,-1.36 8,-4.5 9,-8.52 10,-1.53"/>
<polyline class="c15" points="4,0 5,-.33 6,-.6 7,-2.55 8,-5.5 9,-9.31 10,-3.38"/>
<polyline class="c15" points="6,0 7,-.18 8,-2.84 9,-8.48 10,-1.36"/>
<polyline class="c15" points="4,0 5,-.16 6,-1.91 7,-4.91 8,-8.1 9,-11.43 10,-1.71"/>
<polyline class="c15" points="4,0 5,0 6,-1.34 7,-3.8 8,-7.01 9,-10.83 10,-3.15"/>
<polyline class="c15" points="6,0 7,-.34 8,-3.39 9,-9.26 10,-1.22"/>
<polyline class="c15" points="7,0 8,-.38 9,-8.17 10,-2.42"/>
<polyline class="c15" points="6,0 7,-.19 8,-3.18 9,-8.93 10,-2.51"/>
<polyline class="c15" points="7,0 8,-1.41 9,-10.41 10,-4.34"/>
<polyline class="c15" points="6,0 7,-.7 8,-3.44 9,-8.09 10,-3.42"/>
<polyline class="c15" points="7,0 8,-1.93 9,-9.65 10,-3.02"/>
<polyline class="c15" points="6,0 7,-2.14 8,-6.21 9,-11.13 10,-2.85"/>
<polyline class="c15" points="5,0 6,-.05 7,-2.36 8,-5.58 9,-9.32 10,-1.7"/>
<polyline class="c15" points="4,0 5,-.16 6,-.01 7,-1.38 8,-4.92 9,-10.62 10,-1.97"/>
<polyline class="c15" points="6,0 7,-.62 8,-3.73 9,-9.15 10,-3.01"/>
<polyline class="c15" points="6,0 7,-1.91 8,-5.06 9,-8.52 10,-3.19"/>
<polyline class="c15" points="6,0 7,-1.01 8,-4.27 9,-8.24 10,-3.87"/>
<polyline class="c15" points="5,0 6,-.19 7,-1.12 8,-5.03 9,-10.17 10,-3"/>
<polyline class="c15" points="7,0 8,-.15 9,-9.13 10,-1.59"/>
<polyline class="c15" points="6,0 7,-1.65 8,-5.18 9,-9.81 10,-1.74"/>
<polyline class="c53" points="10,-2.49 11,-5.05 12,-7.12 13,-9.29 14,-6.56 15,-3.98 16,-1.61 17,0"/>
<polyline class="c53" points="10,-1.28 11,-5.61 12,-8.74 13,-11.33 14,-7.17 15,-3.62 16,-.89 17,0"/>
<polyline class="c53" points="10,-3.42 11,-7.4 12,-10.51 13,-12.35 14,-8.29 15,-4.44 16,-.95 17,0"/>
<polyline class="c53" points="10,-3.28 11,-6.01 12,-7.68 13,-10.13 14,-6.28 15,-2.53 16,0"/>
<polyline class="c53" points="10,-1.97 11,-5.13 12,-10.75 13,-13.98 14,-8.92 15,-4.3 16,-.46 17,0"/>
<polyline class="c53" points="10,-1.42 11,-3.84 12,-9.44 13,-12.96 14,-9.2 15,-5.76 16,-2.72 17,-.36 18,0"/>
<polyline class="c53" points="10,-2.32 11,-5.45 12,-8.31 13,-10.85 14,-7.7 15,-4.84 16,-2.33 17,-.37 18,0"/>
<polyline class="c53" points="10,-3.64 11,-7.22 12,-10.75 13,-13.07 14,-8.6 15,-4.54 16,-1.14 17,0"/>
<polyline class="c53" points="10,-3.27 11,-5.89 12,-9.24 13,-13.93 14,-10.57 15,-7.2 16,-3.8 17,-.34 18,0"/>
<polyline class="c53" points="10,-2.95 11,-5.99 12,-7.52 13,-10.94 14,-6.63 15,-2.8 16,0"/>
<polyline class="c53" points="10,-2.25 11,-4.13 12,-8.03 13,-11.08 14,-7.33 15,-3.15 16,0"/>
<polyline class="c53" points="10,-4.22 11,-8.11 12,-11.74 13,-13.84 14,-9.11 15,-4.9 16,-1.42 17,0"/>
<polyline class="c53" points="10,-1.44 11,-6.63 12,-8.44 13,-13.93 14,-10.59 15,-7.24 16,-3.9 17,-.55 18,0"/>
<polyline class="c53" points="10,-2 11,-5.54 12,-8.55 13,-11.12 14,-6.63 15,-2.57 16,0"/>
<polyline class="c53" points="10,-3.85 11,-5.63 12,-7.8 13,-9.88 14,-7.72 15,-5.42 16,-2.9 17,0"/>
<polyline class="c53" points="10,-1.79 11,-3.44 12,-5.59 13,-7.84 14,-5.02 15,-2.08 16,0"/>
<polyline class="c53" points="10,-2.88 11,-5.24 12,-9.01 13,-13.17 14,-9.41 15,-5.53 16,-1.43 17,0"/>
<polyline class="c53" points="10,-3.07 11,-4.85 12,-7.44 13,-8.92 14,-5.21 15,-1.88 16,0"/>
<polyline class="c53" points="10,-2.53 11,-6.8 12,-10.16 13,-12.37 14,-9.44 15,-6.58 16,-3.81 17,-1.2 18,0"/>
<polyline class="c53" points="10,-3.64 11,-7.11 12,-8.56 13,-12.45 14,-7.29 15,-2.56 16,0"/>
<polyline class="c53" points="10,-3.6 11,-6.22 12,-10.25 13,-12.27 14,-9.56 15,-6.73 16,-3.69 17,0"/>
<polyline class="c53" points="10,-1.98 11,-6.48 12,-9.12 13,-12.74 14,-9.15 15,-5.83 16,-2.87 17,-.47 18,0"/>
<polyline class="c53" points="10,-1.81 11,-4.28 12,-9.02 13,-11.03 14,-7.97 15,-4.94 16,-1.97 17,0"/>
<polyline class="c53" points="10,-3.6 11,-6.84 12,-9.57 13,-13.06 14,-8.28 15,-3.71 16,0"/>
<polyline class="c53" points="10,-4.29 11,-7.04 12,-10.06 13,-13.88 14,-9.92 15,-5.73 16,-.95 17,0"/>
<polyline class="c53" points="10,-1.25 11,-2.83 12,-5.36 13,-8.72 14,-4.98 15,-1.74 16,0"/>
<polyline class="c53" points="10,-2.25 11,-6.72 12,-8.63 13,-13.73 14,-10.38 15,-7.09 16,-3.88 17,-.83 18,0"/>
<polyline class="c53" points="10,-3.58 11,-6.4 12,-9.48 13,-12.77 14,-9.81 15,-6.92 16,-4.1 17,-1.42 18,0"/>
<polyline class="c53" points="10,-3.19 11,-7.14 12,-10.62 13,-13.06 14,-9.35 15,-5.92 16,-2.89 17,-.46 18,0"/>
<polyline class="c53" points="10,-2.71 11,-4.64 12,-6.5 13,-7.88 14,-5.8 15,-3.61 16,-1.21 17,0"/>
<polyline class="c53" points="10,-2.41 11,-4.43 12,-9.95 13,-11.91 14,-8.34 15,-4.42 16,0"/>
<polyline class="c53" points="10,-3.12 11,-5.87 12,-10.92 13,-13.72 14,-10.02 15,-6.3 16,-2.52 17,0"/>
<polyline class="c53" points="10,-3.54 11,-6.41 12,-11.38 13,-13.79 14,-9.88 15,-6.2 16,-2.85 17,-.14 18,0"/>
<polyline class="c53" points="10,-2.93 11,-6.5 12,-8.94 13,-13.64 14,-9.31 15,-5.42 16,-2.13 17,0"/>
<polyline class="c53" points="10,-2.59 11,-4.79 12,-6.93 13,-10.13 14,-7.56 15,-5.08 16,-2.72 17,-.58 18,0"/>
<polyline class="c53" points="10,-2.31 11,-4.76 12,-9.66 13,-13.92 14,-10.32 15,-6.88 16,-3.66 17,-.81 18,0"/>
<polyline class="c53" points="10,-1.32 11,-3.99 12,-8.44 13,-13.87 14,-9.77 15,-6.05 16,-2.84 17,-.4 18,0"/>
<polyline class="c53" points="10,-2.84 11,-5.42 12,-8.36 13,-10.51 14,-7.87 15,-5.32 16,-2.89 17,-.66 18,0"/>
<polyline class="c53" points="10,-2.27 11,-5.71 12,-8.95 13,-11.15 14,-8.27 15,-5.38 16,-2.47 17,0"/>
<polyline class="c53" points="10,-3.9 11,-5.76 12,-8.46 13,-10.27 14,-5.69 15,-1.76 16,0"/>
<polyline class="c53" points="10,-3.78 11,-5.81 12,-8.71 13,-12.49 14,-8.09 15,-3.52 16,0"/>
<polyline class="c53" points="10,-2.54 11,-6.24 12,-10.35 13,-12.39 14,-9.07 15,-5.8 16,-2.59 17,0"/>
<polyline class="c53" points="10,-3.17 11,-4.48 12,-7.59 13,-8.85 14,-7.03 15,-5.15 16,-3.18 17,-1.02 18,0"/>
<polyline class="c53" points="10,-3.97 11,-5.32 12,-7.63 13,-9.82 14,-6.89 15,-4.19 16,-1.79 17,0"/>
<polyline class="c53" points="10,-2.37 11,-5.97 12,-8.53 13,-10.72 14,-7.4 15,-4.02 16,-.51 17,0"/>
<polyline class="c53" points="10,-2.68 11,-4.16 12,-6.68 13,-8.81 14,-5.44 15,-2.27 16,0"/>
<polyline class="c53" points="10,-3.14 11,-6.39 12,-9.38 13,-12.41 14,-9.28 15,-5.87 16,-1.82 17,0"/>
<polyline class="c53" points="10,-2.77 11,-7.83 12,-10.04 13,-14.1 14,-9.82 15,-5.57 16,-1.36 17,0"/>
<polyline class="c53" points="10,-4.13 11,-6.12 12,-9.37 13,-11.54 14,-8.16 15,-5.02 16,-2.23 17,-.07 18,0"/>
<polyline class="c53" points="10,-3.87 11,-6.45 12,-9.19 13,-12.34 14,-7.78 15,-3.84 16,-.8 17,0"/>
<polyline class="c53" points="10,-3.44 11,-6.32 12,-9.81 13,-11.99 14,-8.63 15,-5.49 16,-2.66 17,-.33 18,0"/>
<polyline class="c53" points="10,-2.11 11,-4.62 12,-9.65 13,-13.74 14,-9.75 15,-6.17 16,-3.08 17,-.71 18,0"/>
<polyline class="c53" points="10,-2.71 11,-4.61 12,-8.07 13,-11.59 14,-7.98 15,-4.67 16,-1.79 17,0"/>
<polyline class="c53" points="10,-3.41 11,-6 12,-8.96 13,-10.68 14,-7.29 15,-4.26 16,-1.7 17,0 18,0"/>
<polyline class="c53" points="10,-3.33 11,-5.73 12,-8.65 13,-11.59 14,-5.85 15,-1.41 16,0"/>
<polyline class="c53" points="10,-2.52 11,-6.86 12,-9.97 13,-13.21 14,-9.97 15,-6.67 16,-3.3 17,0"/>
<polyline class="c53" points="10,-3.63 11,-7.68 12,-9.5 13,-12.9 14,-10.1 15,-7.22 16,-4.23 17,-1 18,0"/>
<polyline class="c53" points="10,-4.07 11,-6.57 12,-9.14 13,-11.23 14,-7.48 15,-3.28 16,0"/>
<polyline class="c53" points="10,-3.22 11,-5.03 12,-8.19 13,-10.22 14,-7.6 15,-4.8 16,-1.65 17,0"/>
<polyline class="c53" points="10,-2.46 11,-6.12 12,-8.62 13,-11.81 14,-7.76 15,-3.96 16,-.62 17,0"/>
<polyline class="c53" points="10,-2.2 11,-4.81 12,-8.55 13,-12.47 14,-9.5 15,-6.5 16,-3.46 17,-.34 18,0"/>
<polyline class="c53" points="10,-2.09 11,-6.04 12,-9.49 13,-12.59 14,-9.07 15,-5.61 16,-2.24 17,0"/>
<polyline class="c53" points="10,-2.89 11,-6.02 12,-7.76 13,-11.39 14,-6.52 15,-2.04 16,0"/>
<polyline class="c53" points="10,-2.09 11,-5.39 12,-8 13,-12.11 14,-8.7 15,-4.97 16,-.23 17,0"/>
<polyline class="c53" points="10,-3.8 11,-5.75 12,-10.31 13,-12.94 14,-9.45 15,-6.21 16,-3.29 17,-.86 18,0"/>
<polyline class="c53" points="10,-1.64 11,-4.87 12,-7.47 13,-11.77 14,-6.65 15,-2.25 16,0"/>
<polyline class="c53" points="10,-3.1 11,-5.18 12,-9.97 13,-13.1 14,-6.68 15,-1.63 16,0"/>
<polyline class="c53" points="10,-2.75 11,-6.8 12,-10.23 13,-12.68 14,-8.74 15,-5.18 16,-2.12 17,-.01 18,0"/>
<polyline class="c53" points="10,-2.54 11,-6.34 12,-9.64 13,-12.46 14,-7.54 15,-3.36 16,-.36 17,0"/>
<polyline class="c53" points="10,-4.39 11,-5.93 12,-6.97 13,-8.94 14,-6.03 15,-3.02 16,0"/>
<polyline class="c53" points="10,-4.21 11,-7.97 12,-10.27 13,-12.88 14,-8.87 15,-5.23 16,-2.08 17,0"/>
<polyline class="c53" points="10,-2.24 11,-4.37 12,-8 13,-10.06 14,-7.24 15,-4.61 16,-2.25 17,-.33 18,0"/>
<polyline class="c53" points="10,-1.65 11,-6.12 12,-8.36 13,-12.93 14,-10.01 15,-7.02 16,-3.95 17,-.67 18,0"/>
<polyline class="c53" points="10,-1.59 11,-5.2 12,-9.27 13,-13.66 14,-8.57 15,-4.23 16,-.93 17,0"/>
<polyline class="c53" points="10,-3.34 11,-7.62 12,-8.91 13,-13.17 14,-10.13 15,-6.91 16,-3.4 17,0"/>
<polyline class="c53" points="10,-1.99 11,-5.92 12,-8.24 13,-12.01 14,-8.41 15,-5.03 16,-1.98 17,0"/>
<polyline class="c53" points="10,-2.12 11,-4.88 12,-6.53 13,-9.62 14,-7.39 15,-5.16 16,-2.93 17,-.7 18,0"/>
<polyline class="c53" points="10,-2.26 11,-4.92 12,-7.12 13,-10.62 14,-7.24 15,-4.17 16,-1.53 17,0"/>
<polyline class="c53" points="10,-2.45 11,-4.15 12,-7.17 13,-9.32 14,-7.34 15,-5.25 16,-2.98 17,-.18 18,0"/>
<polyline class="c53" points="10,-1.75 11,-7.09 12,-8.85 13,-14.11 14,-10.69 15,-7.05 16,-2.99 17,0"/>
<polyline class="c53" points="10,-1.6 11,-3.83 12,-6.45 13,-8.99 14,-6.07 15,-3.38 16,-1.02 17,0"/>
<polyline class="c53" points="10,-1.57 11,-5.61 12,-8.21 13,-12.49 14,-7.65 15,-2.94 16,0"/>
<polyline class="c53" points="10,-2.28 11,-5.4 12,-8.68 13,-10.52 14,-6.42 15,-2.74 16,0"/>
<polyline class="c53" points="10,-3.75 11,-5 12,-6.96 13,-8.73 14,-6.51 15,-4.39 16,-2.38 17,-.59 18,0"/>
<polyline class="c53" points="10,-3.45 11,-6.44 12,-9.14 13,-10.56 14,-5.93 15,-2.1 16,0"/>
<polyline class="c53" points="10,-3.83 11,-6.79 12,-8.64 13,-11.51 14,-7.22 15,-3.3 16,-.13 17,0"/>
<polyline class="c53" points="10,-2.73 11,-5.48 12,-6.15 13,-8.92 14,-6.07 15,-3.51 16,-1.36 17,0"/>
<polyline class="c53" points="10,-3.61 11,-5.65 12,-7.62 13,-10.31 14,-8.23 15,-6.01 16,-3.58 17,-.58 18,0"/>
<polyline class="c53" points="10,-4.22 11,-6.14 12,-8.58 13,-11.75 14,-8.25 15,-5.03 16,-2.19 17,-.07 18,0"/>
<polyline class="c53" points="10,-2.36 11,-4.77 12,-7.93 13,-11.83 14,-5.96 15,-1.43 16,0"/>
<polyline class="c18" points="10,-1.04 11,-3.39 12,-3.36"/>
<polyline class="c18" points="10,-2.74 11,-1.54 12,-4.31"/>
<polyline class="c18" points="10,-.76 11,-3.6 12,-3.94"/>
<polyline class="c18" points="10,-2 11,-2.57 12,-3.38"/>
<polyline class="c18" points="10,-2.54 11,-4.47 12,-4.04"/>
<polyline class="c18" points="10,-1.38 11,-4.52 12,-4.23"/>
<polyline class="c18" points="10,-1.83 11,-2.02 12,-2.34"/>
<polyline class="c18" points="10,-3.05 11,-4.01 12,-4.9"/>
<polyline class="c18" points="10,-2.48 11,-1.31 12,-4.05"/>
<polyline class="c18" points="10,-2.45 11,-2.9 12,-4.6"/>
<polyline class="c18" points="10,-3.63 11,-.81 12,-2.1"/>
<polyline class="c18" points="10,-1.99 11,-1.23 12,-3.36"/>
<polyline class="c18" points="10,-1.32 11,-2.42 12,-4.56"/>
<polyline class="c18" points="10,-3.91 11,-3.88 12,-2.83"/>
<polyline class="c18" points="10,-3.59 11,-1.03 12,-4.58"/>
<polyline class="c18" points="10,-4.36 11,-4.51 12,-1.95"/>
<polyline class="c18" points="10,-.76 11,-3.59 12,-5.14"/>
<polyline class="c18" points="10,-2.88 11,-3.74 12,-3.65"/>
<polyline class="c18" points="10,-2.79 11,-3.45 12,-1.97"/>
<polyline class="c18" points="10,-2.39 11,-2.75 12,-4.59"/>
<polyline class="c18" points="10,-3.44 11,-.94 12,-1.78"/>
<polyline class="c18" points="10,-1.58 11,-3.34 12,-2.25"/>
<polyline class="c18" points="10,-1.3 11,-1.87 12,-3.44"/>
<polyline class="c18" points="10,-1.88 11,-1.5 12,-3.7"/>
<polyline class="c18" points="10,-3.1 11,-3.09 12,-2.52"/>
<polyline class="c18" points="10,-3.75 11,-2.55 12,-4.3"/>
<polyline class="c18" points="10,-2.96 11,-1.02 12,-3.79"/>
<polyline class="c18" points="10,-3.54 11,-.86 12,-1.82"/>
<polyline class="c18" points="10,-4.17 11,-2.21 12,-5"/>
<polyline class="c18" points="10,-2.77 11,-2.76 12,-3.11"/>
<polyline class="c3" points="5,0 6,-1.52 7,-4.55 8,-7.59 9,-11.68 10,-2.28 11,-2.28 12,-3.34 13,-13.96 14,-10.62 15,-6.07 16,-2.28 17,0"/>
<polyline class="c23" points="5,0 6,-1.52 7,-3.79 8,-6.83 9,-10.93 10,-1.82 11,-1.82 12,-4.55 13,-12.9 14,-9.86 15,-5.31 16,-1.52 17,0"/>
<polyline class="c54" points="0,-1.97 4,-1.97 5,-6.68 6,-1.52 7,0"/>
<polyline class="c3" points="0,-1.97 4,-1.97 5,-3.79 6,-1.82 7,0"/>
<polyline class="c23" points="4,-1.97 5,-6.68 6,-3.79 7,-.76"/>
<polyline class="c23" points="0,-1.82 1,0 4,0 5,0"/>
<polyline class="c35" points="17,-1.97 23,-1.97"/>
<polyline class="c55" points="17,-1.97 18,-.76 19,-7.59 20,-8.04 21,-8.04 22,-7.59 23,0"/>
<polyline class="c31" points="17,-1.97 18,-.76 19,-5.46 20,-5.46 21,-5.46 22,-5.46 23,0"/>
<polyline class="c37" points="17,-1.97 18,-.76 19,-7.59 20,-4.55 21,-6.83 22,-1.52 23,0"/>
<polyline class="c6" points="17,-1.97 18,-.76 19,-6.83 20,-7.59 21,0"/>
<polyline class="c50" points="17,-1.97 18,-.76 19,-7.89 20,-7.89 21,-7.59 22,-7.28 23,0"/>
<polyline class="c56" points="18,-.76 19,-5.37 20,-5.24 21,-3.8 22,-4.7 23,-.69"/>
<polyline class="c56" points="18,-.76 19,-6 20,-5.69 21,-4.43 22,-.67"/>
<polyline class="c56" points="18,-.76 19,-6.5 20,-4.92 21,-.85"/>
<polyline class="c56" points="18,-.76 19,-7.66 20,-7.15 21,-.02"/>
<polyline class="c56" points="18,-.76 19,-7.32 20,-5.24 21,-.75"/>
<polyline class="c56" points="18,-.76 19,-7.78 20,-1.71"/>
<polyline class="c56" points="18,-.76 19,-3.72 20,-2.72 21,-3.62 22,-1.25"/>
<polyline class="c56" points="18,-.76 19,-6.91 20,-.8"/>
<polyline class="c56" points="18,-.76 19,-3.35 20,-1.13"/>
<polyline class="c56" points="18,-.76 19,-7.95 20,-.35"/>
<polyline class="c56" points="18,-.76 19,-7.32 20,-6.34 21,-6.85 22,-.23"/>
<polyline class="c56" points="18,-.76 19,-3.79 20,-3.68 21,-.91"/>
<polyline class="c56" points="18,-.76 19,-3.47 20,-1.17"/>
<polyline class="c56" points="18,-.76 19,-6.09 20,-5.41 21,-5.76 22,-4.86 23,-1.75"/>
<polyline class="c56" points="18,-.76 19,-3.52 20,-3.52 21,-2.56 22,-1.95"/>
<polyline class="c56" points="18,-.76 19,-7.74 20,-7.33 21,-6.31 22,-6.07 23,-.22"/>
<polyline class="c56" points="18,-.76 19,-7.24 20,-5.59 21,-1.7"/>
<polyline class="c56" points="18,-.76 19,-7.49 20,-.38"/>
<polyline class="c56" points="18,-.76 19,-6.65 20,-6.61 21,-6.16 22,-5.08 23,-.51"/>
<polyline class="c56" points="18,-.76 19,-4 20,-3.72 21,-3.75 22,-2.83 23,-.97"/>
<polyline class="c56" points="18,-.76 19,-3.55 20,-3.36 21,-3.22 22,-.77"/>
<polyline class="c56" points="18,-.76 19,-4.89 20,-3.97 21,-4.44 22,-4.08 23,-1.71"/>
<polyline class="c56" points="18,-.76 19,-5.13 20,-4.28 21,-3.86 22,-3.91 23,-.05"/>
<polyline class="c56" points="18,-.76 19,-4.51 20,-3.68 21,-4.08 22,-1.57"/>
<polyline class="c56" points="18,-.76 19,-4.16 20,-3.57 21,-3.88 22,-.95"/>
<polyline class="c56" points="18,-.76 19,-5.42 20,-.77"/>
<polyline class="c56" points="18,-.76 19,-4.48 20,-4.12 21,-3.2 22,-.9"/>
<polyline class="c56" points="18,-.76 19,-4.47 20,-.53"/>
<polyline class="c56" points="18,-.76 19,-7.2 20,-5.48 21,-6.37 22,-1.84"/>
<polyline class="c56" points="18,-.76 19,-7.16 20,-1.72"/>
<polyline class="c56" points="18,-.76 19,-7.36 20,-5.16 21,-.04"/>
<polyline class="c56" points="18,-.76 19,-3.45 20,-.3"/>
<polyline class="c56" points="18,-.76 19,-7.82 20,-6.91 21,-6.91 22,-7.61 23,-.21"/>
<polyline class="c56" points="18,-.76 19,-4.58 20,-4.01 21,-3.63 22,-3.43 23,-.36"/>
<polyline class="c56" points="18,-.76 19,-6.18 20,-5.52 21,-4.51 22,-4.73 23,-1.41"/>
<polyline class="c56" points="18,-.76 19,-7.05 20,-6.53 21,-4.96 22,-1.77"/>
<polyline class="c56" points="18,-.76 19,-7.31 20,-5.62 21,-5.99 22,-.73"/>
<polyline class="c56" points="18,-.76 19,-4.65 20,-3.96 21,-1.27"/>
<polyline class="c56" points="18,-.76 19,-4.57 20,-3.64 21,-.49"/>
<polyline class="c56" points="18,-.76 19,-3.97 20,-1.17"/>
</g>
<rect class="tint" width="550" height="388"/>
<rect x="19.5" y="10.3" width="152" height="100.4" class="sp"/>
<text x="95.50" y="8.60" class="ti" transform="translate(95.50 0) scale(0.92 1) translate(-95.50 0)">PV site #6539</text>
<text x="95.50" y="124.10" class="hr" transform="translate(95.50 0) scale(0.87 1) translate(-95.50 0)">Hours</text>
<path class="tk" d="M26.42 111.20v1.2"/>
<text x="26.42" y="117.30" class="tx" transform="translate(26.42 0) scale(0.9 1) translate(-26.42 0)">0</text>
<path class="tk" d="M56.49 111.20v1.2"/>
<text x="56.49" y="117.30" class="tx" transform="translate(56.49 0) scale(0.9 1) translate(-56.49 0)">5</text>
<path class="tk" d="M86.57 111.20v1.2"/>
<text x="86.57" y="117.30" class="tx" transform="translate(86.57 0) scale(0.9 1) translate(-86.57 0)">10</text>
<path class="tk" d="M116.64 111.20v1.2"/>
<text x="116.64" y="117.30" class="tx" transform="translate(116.64 0) scale(0.9 1) translate(-116.64 0)">15</text>
<path class="tk" d="M146.72 111.20v1.2"/>
<text x="146.72" y="117.30" class="tx" transform="translate(146.72 0) scale(0.9 1) translate(-146.72 0)">20</text>
<path class="tk" d="M19.00 106.14h-1.2"/>
<text x="18.00" y="108.64" class="ty" transform="translate(18.00 0) scale(0.9 1) translate(-18.00 0)">0.0</text>
<path class="tk" d="M19.00 87.88h-1.2"/>
<text x="18.00" y="90.38" class="ty" transform="translate(18.00 0) scale(0.9 1) translate(-18.00 0)">0.2</text>
<path class="tk" d="M19.00 69.63h-1.2"/>
<text x="18.00" y="72.13" class="ty" transform="translate(18.00 0) scale(0.9 1) translate(-18.00 0)">0.4</text>
<path class="tk" d="M19.00 51.37h-1.2"/>
<text x="18.00" y="53.87" class="ty" transform="translate(18.00 0) scale(0.9 1) translate(-18.00 0)">0.6</text>
<path class="tk" d="M19.00 33.12h-1.2"/>
<text x="18.00" y="35.62" class="ty" transform="translate(18.00 0) scale(0.9 1) translate(-18.00 0)">0.8</text>
<path class="tk" d="M19.00 14.86h-1.2"/>
<text x="18.00" y="17.36" class="ty" transform="translate(18.00 0) scale(0.9 1) translate(-18.00 0)">1.0</text>
<text x="8.50" y="59.50" class="yl" transform="rotate(-90 8.50 59.50) translate(8.50 0) scale(0.945 1) translate(-8.50 0)">Normalized Generation</text>
<rect x="207.4" y="10.3" width="152" height="100.4" class="sp"/>
<text x="283.40" y="8.60" class="ti" transform="translate(283.40 0) scale(0.92 1) translate(-283.40 0)">PV site #50532</text>
<text x="283.40" y="124.10" class="hr" transform="translate(283.40 0) scale(0.87 1) translate(-283.40 0)">Hours</text>
<path class="tk" d="M214.32 111.20v1.2"/>
<text x="214.32" y="117.30" class="tx" transform="translate(214.32 0) scale(0.9 1) translate(-214.32 0)">0</text>
<path class="tk" d="M244.39 111.20v1.2"/>
<text x="244.39" y="117.30" class="tx" transform="translate(244.39 0) scale(0.9 1) translate(-244.39 0)">5</text>
<path class="tk" d="M274.47 111.20v1.2"/>
<text x="274.47" y="117.30" class="tx" transform="translate(274.47 0) scale(0.9 1) translate(-274.47 0)">10</text>
<path class="tk" d="M304.54 111.20v1.2"/>
<text x="304.54" y="117.30" class="tx" transform="translate(304.54 0) scale(0.9 1) translate(-304.54 0)">15</text>
<path class="tk" d="M334.62 111.20v1.2"/>
<text x="334.62" y="117.30" class="tx" transform="translate(334.62 0) scale(0.9 1) translate(-334.62 0)">20</text>
<path class="tk" d="M206.90 106.14h-1.2"/>
<text x="205.90" y="108.64" class="ty" transform="translate(205.90 0) scale(0.9 1) translate(-205.90 0)">0.0</text>
<path class="tk" d="M206.90 87.88h-1.2"/>
<text x="205.90" y="90.38" class="ty" transform="translate(205.90 0) scale(0.9 1) translate(-205.90 0)">0.2</text>
<path class="tk" d="M206.90 69.63h-1.2"/>
<text x="205.90" y="72.13" class="ty" transform="translate(205.90 0) scale(0.9 1) translate(-205.90 0)">0.4</text>
<path class="tk" d="M206.90 51.37h-1.2"/>
<text x="205.90" y="53.87" class="ty" transform="translate(205.90 0) scale(0.9 1) translate(-205.90 0)">0.6</text>
<path class="tk" d="M206.90 33.12h-1.2"/>
<text x="205.90" y="35.62" class="ty" transform="translate(205.90 0) scale(0.9 1) translate(-205.90 0)">0.8</text>
<path class="tk" d="M206.90 14.86h-1.2"/>
<text x="205.90" y="17.36" class="ty" transform="translate(205.90 0) scale(0.9 1) translate(-205.90 0)">1.0</text>
<text x="196.40" y="59.50" class="yl" transform="rotate(-90 196.40 59.50) translate(196.40 0) scale(0.945 1) translate(-196.40 0)">Normalized Generation</text>
<rect x="395" y="10.3" width="152" height="100.4" class="sp"/>
<text x="471.00" y="8.60" class="ti" transform="translate(471.00 0) scale(0.92 1) translate(-471.00 0)">PV site #2635</text>
<text x="471.00" y="124.10" class="hr" transform="translate(471.00 0) scale(0.87 1) translate(-471.00 0)">Hours</text>
<path class="tk" d="M401.92 111.20v1.2"/>
<text x="401.92" y="117.30" class="tx" transform="translate(401.92 0) scale(0.9 1) translate(-401.92 0)">0</text>
<path class="tk" d="M431.99 111.20v1.2"/>
<text x="431.99" y="117.30" class="tx" transform="translate(431.99 0) scale(0.9 1) translate(-431.99 0)">5</text>
<path class="tk" d="M462.07 111.20v1.2"/>
<text x="462.07" y="117.30" class="tx" transform="translate(462.07 0) scale(0.9 1) translate(-462.07 0)">10</text>
<path class="tk" d="M492.14 111.20v1.2"/>
<text x="492.14" y="117.30" class="tx" transform="translate(492.14 0) scale(0.9 1) translate(-492.14 0)">15</text>
<path class="tk" d="M522.22 111.20v1.2"/>
<text x="522.22" y="117.30" class="tx" transform="translate(522.22 0) scale(0.9 1) translate(-522.22 0)">20</text>
<path class="tk" d="M394.50 106.14h-1.2"/>
<text x="393.50" y="108.64" class="ty" transform="translate(393.50 0) scale(0.9 1) translate(-393.50 0)">0.0</text>
<path class="tk" d="M394.50 87.88h-1.2"/>
<text x="393.50" y="90.38" class="ty" transform="translate(393.50 0) scale(0.9 1) translate(-393.50 0)">0.2</text>
<path class="tk" d="M394.50 69.63h-1.2"/>
<text x="393.50" y="72.13" class="ty" transform="translate(393.50 0) scale(0.9 1) translate(-393.50 0)">0.4</text>
<path class="tk" d="M394.50 51.37h-1.2"/>
<text x="393.50" y="53.87" class="ty" transform="translate(393.50 0) scale(0.9 1) translate(-393.50 0)">0.6</text>
<path class="tk" d="M394.50 33.12h-1.2"/>
<text x="393.50" y="35.62" class="ty" transform="translate(393.50 0) scale(0.9 1) translate(-393.50 0)">0.8</text>
<path class="tk" d="M394.50 14.86h-1.2"/>
<text x="393.50" y="17.36" class="ty" transform="translate(393.50 0) scale(0.9 1) translate(-393.50 0)">1.0</text>
<text x="384.00" y="59.50" class="yl" transform="rotate(-90 384.00 59.50) translate(384.00 0) scale(0.945 1) translate(-384.00 0)">Normalized Generation</text>
<rect x="19.5" y="141.1" width="152" height="100.4" class="sp"/>
<text x="95.50" y="139.40" class="ti" transform="translate(95.50 0) scale(0.92 1) translate(-95.50 0)">PV site #21631</text>
<text x="95.50" y="254.90" class="hr" transform="translate(95.50 0) scale(0.87 1) translate(-95.50 0)">Hours</text>
<path class="tk" d="M26.42 242.00v1.2"/>
<text x="26.42" y="248.10" class="tx" transform="translate(26.42 0) scale(0.9 1) translate(-26.42 0)">0</text>
<path class="tk" d="M56.49 242.00v1.2"/>
<text x="56.49" y="248.10" class="tx" transform="translate(56.49 0) scale(0.9 1) translate(-56.49 0)">5</text>
<path class="tk" d="M86.57 242.00v1.2"/>
<text x="86.57" y="248.10" class="tx" transform="translate(86.57 0) scale(0.9 1) translate(-86.57 0)">10</text>
<path class="tk" d="M116.64 242.00v1.2"/>
<text x="116.64" y="248.10" class="tx" transform="translate(116.64 0) scale(0.9 1) translate(-116.64 0)">15</text>
<path class="tk" d="M146.72 242.00v1.2"/>
<text x="146.72" y="248.10" class="tx" transform="translate(146.72 0) scale(0.9 1) translate(-146.72 0)">20</text>
<path class="tk" d="M19.00 236.94h-1.2"/>
<text x="18.00" y="239.44" class="ty" transform="translate(18.00 0) scale(0.9 1) translate(-18.00 0)">0.0</text>
<path class="tk" d="M19.00 218.68h-1.2"/>
<text x="18.00" y="221.18" class="ty" transform="translate(18.00 0) scale(0.9 1) translate(-18.00 0)">0.2</text>
<path class="tk" d="M19.00 200.43h-1.2"/>
<text x="18.00" y="202.93" class="ty" transform="translate(18.00 0) scale(0.9 1) translate(-18.00 0)">0.4</text>
<path class="tk" d="M19.00 182.17h-1.2"/>
<text x="18.00" y="184.67" class="ty" transform="translate(18.00 0) scale(0.9 1) translate(-18.00 0)">0.6</text>
<path class="tk" d="M19.00 163.92h-1.2"/>
<text x="18.00" y="166.42" class="ty" transform="translate(18.00 0) scale(0.9 1) translate(-18.00 0)">0.8</text>
<path class="tk" d="M19.00 145.66h-1.2"/>
<text x="18.00" y="148.16" class="ty" transform="translate(18.00 0) scale(0.9 1) translate(-18.00 0)">1.0</text>
<text x="8.50" y="190.30" class="yl" transform="rotate(-90 8.50 190.30) translate(8.50 0) scale(0.945 1) translate(-8.50 0)">Normalized Generation</text>
<rect x="207.4" y="141.1" width="152" height="100.4" class="sp"/>
<text x="283.40" y="139.40" class="ti" transform="translate(283.40 0) scale(0.92 1) translate(-283.40 0)">PV site #57241</text>
<text x="283.40" y="254.90" class="hr" transform="translate(283.40 0) scale(0.87 1) translate(-283.40 0)">Hours</text>
<path class="tk" d="M214.32 242.00v1.2"/>
<text x="214.32" y="248.10" class="tx" transform="translate(214.32 0) scale(0.9 1) translate(-214.32 0)">0</text>
<path class="tk" d="M244.39 242.00v1.2"/>
<text x="244.39" y="248.10" class="tx" transform="translate(244.39 0) scale(0.9 1) translate(-244.39 0)">5</text>
<path class="tk" d="M274.47 242.00v1.2"/>
<text x="274.47" y="248.10" class="tx" transform="translate(274.47 0) scale(0.9 1) translate(-274.47 0)">10</text>
<path class="tk" d="M304.54 242.00v1.2"/>
<text x="304.54" y="248.10" class="tx" transform="translate(304.54 0) scale(0.9 1) translate(-304.54 0)">15</text>
<path class="tk" d="M334.62 242.00v1.2"/>
<text x="334.62" y="248.10" class="tx" transform="translate(334.62 0) scale(0.9 1) translate(-334.62 0)">20</text>
<path class="tk" d="M206.90 236.94h-1.2"/>
<text x="205.90" y="239.44" class="ty" transform="translate(205.90 0) scale(0.9 1) translate(-205.90 0)">0.0</text>
<path class="tk" d="M206.90 218.68h-1.2"/>
<text x="205.90" y="221.18" class="ty" transform="translate(205.90 0) scale(0.9 1) translate(-205.90 0)">0.2</text>
<path class="tk" d="M206.90 200.43h-1.2"/>
<text x="205.90" y="202.93" class="ty" transform="translate(205.90 0) scale(0.9 1) translate(-205.90 0)">0.4</text>
<path class="tk" d="M206.90 182.17h-1.2"/>
<text x="205.90" y="184.67" class="ty" transform="translate(205.90 0) scale(0.9 1) translate(-205.90 0)">0.6</text>
<path class="tk" d="M206.90 163.92h-1.2"/>
<text x="205.90" y="166.42" class="ty" transform="translate(205.90 0) scale(0.9 1) translate(-205.90 0)">0.8</text>
<path class="tk" d="M206.90 145.66h-1.2"/>
<text x="205.90" y="148.16" class="ty" transform="translate(205.90 0) scale(0.9 1) translate(-205.90 0)">1.0</text>
<text x="196.40" y="190.30" class="yl" transform="rotate(-90 196.40 190.30) translate(196.40 0) scale(0.945 1) translate(-196.40 0)">Normalized Generation</text>
<rect x="395" y="141.1" width="152" height="100.4" class="sp"/>
<text x="471.00" y="139.40" class="ti" transform="translate(471.00 0) scale(0.92 1) translate(-471.00 0)">PV site #34644</text>
<text x="471.00" y="254.90" class="hr" transform="translate(471.00 0) scale(0.87 1) translate(-471.00 0)">Hours</text>
<path class="tk" d="M401.92 242.00v1.2"/>
<text x="401.92" y="248.10" class="tx" transform="translate(401.92 0) scale(0.9 1) translate(-401.92 0)">0</text>
<path class="tk" d="M431.99 242.00v1.2"/>
<text x="431.99" y="248.10" class="tx" transform="translate(431.99 0) scale(0.9 1) translate(-431.99 0)">5</text>
<path class="tk" d="M462.07 242.00v1.2"/>
<text x="462.07" y="248.10" class="tx" transform="translate(462.07 0) scale(0.9 1) translate(-462.07 0)">10</text>
<path class="tk" d="M492.14 242.00v1.2"/>
<text x="492.14" y="248.10" class="tx" transform="translate(492.14 0) scale(0.9 1) translate(-492.14 0)">15</text>
<path class="tk" d="M522.22 242.00v1.2"/>
<text x="522.22" y="248.10" class="tx" transform="translate(522.22 0) scale(0.9 1) translate(-522.22 0)">20</text>
<path class="tk" d="M394.50 236.94h-1.2"/>
<text x="393.50" y="239.44" class="ty" transform="translate(393.50 0) scale(0.9 1) translate(-393.50 0)">0.0</text>
<path class="tk" d="M394.50 218.68h-1.2"/>
<text x="393.50" y="221.18" class="ty" transform="translate(393.50 0) scale(0.9 1) translate(-393.50 0)">0.2</text>
<path class="tk" d="M394.50 200.43h-1.2"/>
<text x="393.50" y="202.93" class="ty" transform="translate(393.50 0) scale(0.9 1) translate(-393.50 0)">0.4</text>
<path class="tk" d="M394.50 182.17h-1.2"/>
<text x="393.50" y="184.67" class="ty" transform="translate(393.50 0) scale(0.9 1) translate(-393.50 0)">0.6</text>
<path class="tk" d="M394.50 163.92h-1.2"/>
<text x="393.50" y="166.42" class="ty" transform="translate(393.50 0) scale(0.9 1) translate(-393.50 0)">0.8</text>
<path class="tk" d="M394.50 145.66h-1.2"/>
<text x="393.50" y="148.16" class="ty" transform="translate(393.50 0) scale(0.9 1) translate(-393.50 0)">1.0</text>
<text x="384.00" y="190.30" class="yl" transform="rotate(-90 384.00 190.30) translate(384.00 0) scale(0.945 1) translate(-384.00 0)">Normalized Generation</text>
<rect x="19.5" y="271.9" width="152" height="100.4" class="sp"/>
<text x="95.50" y="270.20" class="ti" transform="translate(95.50 0) scale(0.92 1) translate(-95.50 0)">PV site #44132</text>
<text x="95.50" y="385.70" class="hr" transform="translate(95.50 0) scale(0.87 1) translate(-95.50 0)">Hours</text>
<path class="tk" d="M26.42 372.80v1.2"/>
<text x="26.42" y="378.90" class="tx" transform="translate(26.42 0) scale(0.9 1) translate(-26.42 0)">0</text>
<path class="tk" d="M56.49 372.80v1.2"/>
<text x="56.49" y="378.90" class="tx" transform="translate(56.49 0) scale(0.9 1) translate(-56.49 0)">5</text>
<path class="tk" d="M86.57 372.80v1.2"/>
<text x="86.57" y="378.90" class="tx" transform="translate(86.57 0) scale(0.9 1) translate(-86.57 0)">10</text>
<path class="tk" d="M116.64 372.80v1.2"/>
<text x="116.64" y="378.90" class="tx" transform="translate(116.64 0) scale(0.9 1) translate(-116.64 0)">15</text>
<path class="tk" d="M146.72 372.80v1.2"/>
<text x="146.72" y="378.90" class="tx" transform="translate(146.72 0) scale(0.9 1) translate(-146.72 0)">20</text>
<path class="tk" d="M19.00 367.74h-1.2"/>
<text x="18.00" y="370.24" class="ty" transform="translate(18.00 0) scale(0.9 1) translate(-18.00 0)">0.0</text>
<path class="tk" d="M19.00 349.48h-1.2"/>
<text x="18.00" y="351.98" class="ty" transform="translate(18.00 0) scale(0.9 1) translate(-18.00 0)">0.2</text>
<path class="tk" d="M19.00 331.23h-1.2"/>
<text x="18.00" y="333.73" class="ty" transform="translate(18.00 0) scale(0.9 1) translate(-18.00 0)">0.4</text>
<path class="tk" d="M19.00 312.97h-1.2"/>
<text x="18.00" y="315.47" class="ty" transform="translate(18.00 0) scale(0.9 1) translate(-18.00 0)">0.6</text>
<path class="tk" d="M19.00 294.72h-1.2"/>
<text x="18.00" y="297.22" class="ty" transform="translate(18.00 0) scale(0.9 1) translate(-18.00 0)">0.8</text>
<path class="tk" d="M19.00 276.46h-1.2"/>
<text x="18.00" y="278.96" class="ty" transform="translate(18.00 0) scale(0.9 1) translate(-18.00 0)">1.0</text>
<text x="8.50" y="321.10" class="yl" transform="rotate(-90 8.50 321.10) translate(8.50 0) scale(0.945 1) translate(-8.50 0)">Normalized Generation</text>
<rect x="207.4" y="271.9" width="152" height="100.4" class="sp"/>
<text x="283.40" y="270.20" class="ti" transform="translate(283.40 0) scale(0.92 1) translate(-283.40 0)">PV site #56298</text>
<text x="283.40" y="385.70" class="hr" transform="translate(283.40 0) scale(0.87 1) translate(-283.40 0)">Hours</text>
<path class="tk" d="M214.32 372.80v1.2"/>
<text x="214.32" y="378.90" class="tx" transform="translate(214.32 0) scale(0.9 1) translate(-214.32 0)">0</text>
<path class="tk" d="M244.39 372.80v1.2"/>
<text x="244.39" y="378.90" class="tx" transform="translate(244.39 0) scale(0.9 1) translate(-244.39 0)">5</text>
<path class="tk" d="M274.47 372.80v1.2"/>
<text x="274.47" y="378.90" class="tx" transform="translate(274.47 0) scale(0.9 1) translate(-274.47 0)">10</text>
<path class="tk" d="M304.54 372.80v1.2"/>
<text x="304.54" y="378.90" class="tx" transform="translate(304.54 0) scale(0.9 1) translate(-304.54 0)">15</text>
<path class="tk" d="M334.62 372.80v1.2"/>
<text x="334.62" y="378.90" class="tx" transform="translate(334.62 0) scale(0.9 1) translate(-334.62 0)">20</text>
<path class="tk" d="M206.90 367.74h-1.2"/>
<text x="205.90" y="370.24" class="ty" transform="translate(205.90 0) scale(0.9 1) translate(-205.90 0)">0.0</text>
<path class="tk" d="M206.90 349.48h-1.2"/>
<text x="205.90" y="351.98" class="ty" transform="translate(205.90 0) scale(0.9 1) translate(-205.90 0)">0.2</text>
<path class="tk" d="M206.90 331.23h-1.2"/>
<text x="205.90" y="333.73" class="ty" transform="translate(205.90 0) scale(0.9 1) translate(-205.90 0)">0.4</text>
<path class="tk" d="M206.90 312.97h-1.2"/>
<text x="205.90" y="315.47" class="ty" transform="translate(205.90 0) scale(0.9 1) translate(-205.90 0)">0.6</text>
<path class="tk" d="M206.90 294.72h-1.2"/>
<text x="205.90" y="297.22" class="ty" transform="translate(205.90 0) scale(0.9 1) translate(-205.90 0)">0.8</text>
<path class="tk" d="M206.90 276.46h-1.2"/>
<text x="205.90" y="278.96" class="ty" transform="translate(205.90 0) scale(0.9 1) translate(-205.90 0)">1.0</text>
<text x="196.40" y="321.10" class="yl" transform="rotate(-90 196.40 321.10) translate(196.40 0) scale(0.945 1) translate(-196.40 0)">Normalized Generation</text>
<rect x="395" y="271.9" width="152" height="100.4" class="sp"/>
<text x="471.00" y="270.20" class="ti" transform="translate(471.00 0) scale(0.92 1) translate(-471.00 0)">PV site #884</text>
<text x="471.00" y="385.70" class="hr" transform="translate(471.00 0) scale(0.87 1) translate(-471.00 0)">Hours</text>
<path class="tk" d="M401.92 372.80v1.2"/>
<text x="401.92" y="378.90" class="tx" transform="translate(401.92 0) scale(0.9 1) translate(-401.92 0)">0</text>
<path class="tk" d="M431.99 372.80v1.2"/>
<text x="431.99" y="378.90" class="tx" transform="translate(431.99 0) scale(0.9 1) translate(-431.99 0)">5</text>
<path class="tk" d="M462.07 372.80v1.2"/>
<text x="462.07" y="378.90" class="tx" transform="translate(462.07 0) scale(0.9 1) translate(-462.07 0)">10</text>
<path class="tk" d="M492.14 372.80v1.2"/>
<text x="492.14" y="378.90" class="tx" transform="translate(492.14 0) scale(0.9 1) translate(-492.14 0)">15</text>
<path class="tk" d="M522.22 372.80v1.2"/>
<text x="522.22" y="378.90" class="tx" transform="translate(522.22 0) scale(0.9 1) translate(-522.22 0)">20</text>
<path class="tk" d="M394.50 367.74h-1.2"/>
<text x="393.50" y="370.24" class="ty" transform="translate(393.50 0) scale(0.9 1) translate(-393.50 0)">0.0</text>
<path class="tk" d="M394.50 349.48h-1.2"/>
<text x="393.50" y="351.98" class="ty" transform="translate(393.50 0) scale(0.9 1) translate(-393.50 0)">0.2</text>
<path class="tk" d="M394.50 331.23h-1.2"/>
<text x="393.50" y="333.73" class="ty" transform="translate(393.50 0) scale(0.9 1) translate(-393.50 0)">0.4</text>
<path class="tk" d="M394.50 312.97h-1.2"/>
<text x="393.50" y="315.47" class="ty" transform="translate(393.50 0) scale(0.9 1) translate(-393.50 0)">0.6</text>
<path class="tk" d="M394.50 294.72h-1.2"/>
<text x="393.50" y="297.22" class="ty" transform="translate(393.50 0) scale(0.9 1) translate(-393.50 0)">0.8</text>
<path class="tk" d="M394.50 276.46h-1.2"/>
<text x="393.50" y="278.96" class="ty" transform="translate(393.50 0) scale(0.9 1) translate(-393.50 0)">1.0</text>
<text x="384.00" y="321.10" class="yl" transform="rotate(-90 384.00 321.10) translate(384.00 0) scale(0.945 1) translate(-384.00 0)">Normalized Generation</text>
</svg></body></html>
